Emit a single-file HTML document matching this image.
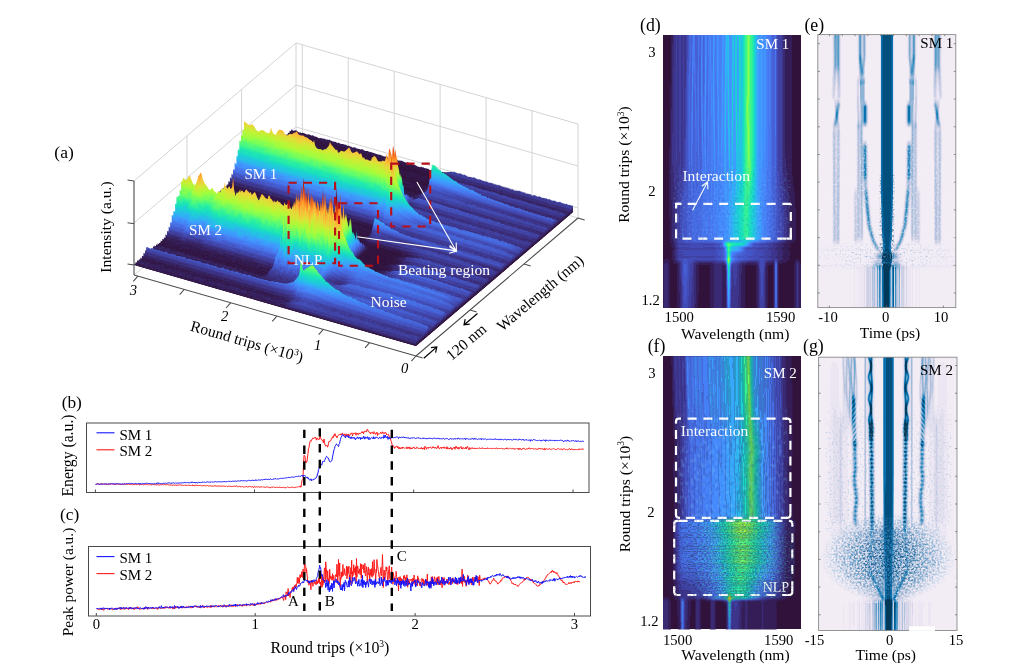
<!DOCTYPE html>
<html><head><meta charset="utf-8"><title>Figure</title>
<style>
html,body{margin:0;padding:0;background:#fff;}
body{width:1024px;height:671px;overflow:hidden;font-family:"Liberation Serif",serif;}
svg{display:block;position:absolute;left:0;top:0;}
svg text{opacity:0.999;}
svg text{font-family:"Liberation Serif",serif;}
</style></head><body>
<svg width="1024" height="671" viewBox="0 0 1024 671">
<defs><linearGradient id="lg1" gradientUnits="userSpaceOnUse" x1="0" y1="145" x2="0" y2="242"><stop offset="0" stop-color="#000"/><stop offset="0.45" stop-color="#fff"/><stop offset="1" stop-color="#fff"/></linearGradient>
<filter id="sf1" filterUnits="userSpaceOnUse" x="673" y="145" width="118" height="97" color-interpolation-filters="sRGB"><feTurbulence type="fractalNoise" baseFrequency="0.45" numOctaves="1" seed="7"/><feColorMatrix type="matrix" values="0 0 0 0 0.471 0 0 0 0 0.784 0 0 0 0 1.000 3.0 0 0 0 -1.55"/></filter>
<mask id="sm1" maskUnits="userSpaceOnUse" x="673" y="145" width="118" height="97"><rect x="673" y="145" width="118" height="97" fill="url(#lg1)"/></mask>
<filter id="sf2" filterUnits="userSpaceOnUse" x="673" y="145" width="118" height="97" color-interpolation-filters="sRGB"><feTurbulence type="fractalNoise" baseFrequency="0.45" numOctaves="1" seed="8"/><feColorMatrix type="matrix" values="0 0 0 0 0.157 0 0 0 0 0.196 0 0 0 0 0.588 3.0 0 0 0 -1.55"/></filter>
<mask id="sm2" maskUnits="userSpaceOnUse" x="673" y="145" width="118" height="97"><rect x="673" y="145" width="118" height="97" fill="url(#lg1)"/></mask>
<linearGradient id="lg2" gradientUnits="userSpaceOnUse" x1="0" y1="401.3" x2="0" y2="519.3"><stop offset="0" stop-color="#000"/><stop offset="0.35" stop-color="#fff"/><stop offset="1" stop-color="#fff"/></linearGradient>
<filter id="sf3" filterUnits="userSpaceOnUse" x="677" y="401.3" width="110" height="118" color-interpolation-filters="sRGB"><feTurbulence type="fractalNoise" baseFrequency="0.33 0.22" numOctaves="1" seed="3"/><feColorMatrix type="matrix" values="0 0 0 0 0.490 0 0 0 0 0.804 0 0 0 0 1.000 3.2 0 0 0 -1.6"/></filter>
<mask id="sm3" maskUnits="userSpaceOnUse" x="677" y="401.3" width="110" height="118"><rect x="677" y="401.3" width="110" height="118" fill="url(#lg2)"/></mask>
<filter id="sf4" filterUnits="userSpaceOnUse" x="677" y="401.3" width="110" height="118" color-interpolation-filters="sRGB"><feTurbulence type="fractalNoise" baseFrequency="0.33 0.22" numOctaves="1" seed="4"/><feColorMatrix type="matrix" values="0 0 0 0 0.157 0 0 0 0 0.196 0 0 0 0 0.588 3.2 0 0 0 -1.6"/></filter>
<mask id="sm4" maskUnits="userSpaceOnUse" x="677" y="401.3" width="110" height="118"><rect x="677" y="401.3" width="110" height="118" fill="url(#lg2)"/></mask>
<radialGradient id="rg3" gradientUnits="userSpaceOnUse" cx="743" cy="552.3" r="48" gradientTransform="translate(743 552.3) scale(1 1.2917) translate(-743 -552.3)"><stop offset="0" stop-color="#fff"/><stop offset="0.45" stop-color="#b2b2b2"/><stop offset="1" stop-color="#000"/></radialGradient>
<filter id="sf5" filterUnits="userSpaceOnUse" x="669" y="520.3" width="126" height="78" color-interpolation-filters="sRGB"><feTurbulence type="fractalNoise" baseFrequency="0.45 0.8" numOctaves="1" seed="11"/><feColorMatrix type="matrix" values="0 0 0 0 0.549 0 0 0 0 0.961 0 0 0 0 0.392 5.0 0 0 0 -2.45"/></filter>
<mask id="sm5" maskUnits="userSpaceOnUse" x="669" y="520.3" width="126" height="78"><rect x="669" y="520.3" width="126" height="78" fill="url(#rg3)"/></mask>
<radialGradient id="rg4" gradientUnits="userSpaceOnUse" cx="739" cy="556.3" r="66" gradientTransform="translate(739 556.3) scale(1 1.0606) translate(-739 -556.3)"><stop offset="0" stop-color="#fff"/><stop offset="0.6" stop-color="#cccccc"/><stop offset="1" stop-color="#000"/></radialGradient>
<filter id="sf6" filterUnits="userSpaceOnUse" x="669" y="520.3" width="126" height="78" color-interpolation-filters="sRGB"><feTurbulence type="fractalNoise" baseFrequency="0.45 0.8" numOctaves="1" seed="12"/><feColorMatrix type="matrix" values="0 0 0 0 0.196 0 0 0 0 0.882 0 0 0 0 0.745 4.5 0 0 0 -2.15"/></filter>
<mask id="sm6" maskUnits="userSpaceOnUse" x="669" y="520.3" width="126" height="78"><rect x="669" y="520.3" width="126" height="78" fill="url(#rg4)"/></mask>
<filter id="sf7" filterUnits="userSpaceOnUse" x="669" y="520.3" width="126" height="78" color-interpolation-filters="sRGB"><feTurbulence type="fractalNoise" baseFrequency="0.45 0.8" numOctaves="1" seed="13"/><feColorMatrix type="matrix" values="0 0 0 0 0.176 0 0 0 0 0.137 0 0 0 0 0.471 4.5 0 0 0 -2.2"/></filter>
<mask id="sm7" maskUnits="userSpaceOnUse" x="669" y="520.3" width="126" height="78"><rect x="669" y="520.3" width="126" height="78" fill="#fff"/></mask>
<linearGradient id="lg5" gradientUnits="userSpaceOnUse" x1="0" y1="115" x2="0" y2="267"><stop offset="0" stop-color="#000"/><stop offset="0.25" stop-color="#fff"/><stop offset="1" stop-color="#fff"/></linearGradient>
<filter id="sf8" filterUnits="userSpaceOnUse" x="819" y="115" width="136" height="152" color-interpolation-filters="sRGB"><feTurbulence type="fractalNoise" baseFrequency="0.5" numOctaves="1" seed="21"/><feColorMatrix type="matrix" values="0 0 0 0 0.957 0 0 0 0 0.937 0 0 0 0 0.969 4.0 0 0 0 -1.9"/></filter>
<mask id="sm8" maskUnits="userSpaceOnUse" x="819" y="115" width="136" height="152"><rect x="819" y="115" width="61" height="152" fill="url(#lg5)"/><rect x="894" y="115" width="61" height="152" fill="url(#lg5)"/></mask>
<linearGradient id="lg6" gradientUnits="userSpaceOnUse" x1="876" y1="0" x2="898" y2="0"><stop offset="0" stop-color="#000"/><stop offset="0.12" stop-color="#000"/><stop offset="0.27" stop-color="#fff"/><stop offset="0.4" stop-color="#444"/><stop offset="0.6" stop-color="#444"/><stop offset="0.73" stop-color="#fff"/><stop offset="0.88" stop-color="#000"/><stop offset="1" stop-color="#000"/></linearGradient>
<filter id="sf9" filterUnits="userSpaceOnUse" x="876" y="175" width="22" height="92" color-interpolation-filters="sRGB"><feTurbulence type="fractalNoise" baseFrequency="0.55" numOctaves="1" seed="22"/><feColorMatrix type="matrix" values="0 0 0 0 0.047 0 0 0 0 0.333 0 0 0 0 0.529 5.0 0 0 0 -2.4"/></filter>
<mask id="sm9" maskUnits="userSpaceOnUse" x="876" y="175" width="22" height="92"><rect x="876" y="175" width="22" height="92" fill="url(#lg6)"/></mask>
<radialGradient id="rg7" gradientUnits="userSpaceOnUse" cx="887" cy="256" r="70" gradientTransform="translate(887 256) scale(1 0.2286) translate(-887 -256)"><stop offset="0" stop-color="#fff"/><stop offset="1" stop-color="#222"/></radialGradient>
<filter id="sf10" filterUnits="userSpaceOnUse" x="819" y="243" width="136" height="26" color-interpolation-filters="sRGB"><feTurbulence type="fractalNoise" baseFrequency="0.5" numOctaves="1" seed="23"/><feColorMatrix type="matrix" values="0 0 0 0 0.471 0 0 0 0 0.647 0 0 0 0 0.804 4.0 0 0 0 -2.1"/></filter>
<mask id="sm10" maskUnits="userSpaceOnUse" x="819" y="243" width="136" height="26"><rect x="819" y="243" width="136" height="26" fill="url(#rg7)"/></mask>
<linearGradient id="lg8" gradientUnits="userSpaceOnUse" x1="0" y1="417.2" x2="0" y2="529.2"><stop offset="0" stop-color="#000"/><stop offset="0.3" stop-color="#fff"/><stop offset="1" stop-color="#fff"/></linearGradient>
<filter id="sf11" filterUnits="userSpaceOnUse" x="819.6" y="417.2" width="137" height="112" color-interpolation-filters="sRGB"><feTurbulence type="fractalNoise" baseFrequency="0.5" numOctaves="1" seed="31"/><feColorMatrix type="matrix" values="0 0 0 0 0.961 0 0 0 0 0.941 0 0 0 0 0.973 4.0 0 0 0 -1.9"/></filter>
<mask id="sm11" maskUnits="userSpaceOnUse" x="819.6" y="417.2" width="137" height="112"><rect x="819.6" y="417.2" width="62" height="112" fill="url(#lg8)"/><rect x="894.6" y="417.2" width="61" height="112" fill="url(#lg8)"/></mask>
<linearGradient id="lg9" gradientUnits="userSpaceOnUse" x1="0" y1="387.2" x2="0" y2="532.2"><stop offset="0" stop-color="#000"/><stop offset="0.4" stop-color="#999"/><stop offset="1" stop-color="#bbb"/></linearGradient>
<filter id="sf12" filterUnits="userSpaceOnUse" x="824.6" y="387.2" width="127" height="145" color-interpolation-filters="sRGB"><feTurbulence type="fractalNoise" baseFrequency="0.5" numOctaves="1" seed="32"/><feColorMatrix type="matrix" values="0 0 0 0 0.588 0 0 0 0 0.725 0 0 0 0 0.855 4.0 0 0 0 -2.15"/></filter>
<mask id="sm12" maskUnits="userSpaceOnUse" x="824.6" y="387.2" width="127" height="145"><rect x="824.6" y="387.2" width="50" height="145" fill="url(#lg9)"/><rect x="901.6" y="387.2" width="50" height="145" fill="url(#lg9)"/></mask>
<radialGradient id="rg10" gradientUnits="userSpaceOnUse" cx="888.1" cy="557.2" r="68" gradientTransform="translate(888.1 557.2) scale(1 0.6618) translate(-888.1 -557.2)"><stop offset="0" stop-color="#fff"/><stop offset="0.55" stop-color="#cccccc"/><stop offset="0.85" stop-color="#4c4c4c"/><stop offset="1" stop-color="#000"/></radialGradient>
<filter id="sf13" filterUnits="userSpaceOnUse" x="819.6" y="513.2" width="137" height="90" color-interpolation-filters="sRGB"><feTurbulence type="fractalNoise" baseFrequency="0.5" numOctaves="1" seed="33"/><feColorMatrix type="matrix" values="0 0 0 0 0.235 0 0 0 0 0.541 0 0 0 0 0.745 5.5 0 0 0 -2.35"/></filter>
<mask id="sm13" maskUnits="userSpaceOnUse" x="819.6" y="513.2" width="137" height="90"><rect x="819.6" y="513.2" width="137" height="90" fill="url(#rg10)"/></mask>
<radialGradient id="rg11" gradientUnits="userSpaceOnUse" cx="888.1" cy="559.2" r="52" gradientTransform="translate(888.1 559.2) scale(1 0.8462) translate(-888.1 -559.2)"><stop offset="0" stop-color="#fff"/><stop offset="0.35" stop-color="#bfbfbf"/><stop offset="0.7" stop-color="#4c4c4c"/><stop offset="1" stop-color="#000"/></radialGradient>
<filter id="sf14" filterUnits="userSpaceOnUse" x="832.6" y="515.2" width="112" height="88" color-interpolation-filters="sRGB"><feTurbulence type="fractalNoise" baseFrequency="0.55" numOctaves="1" seed="34"/><feColorMatrix type="matrix" values="0 0 0 0 0.047 0 0 0 0 0.314 0 0 0 0 0.510 6.5 0 0 0 -3.2"/></filter>
<mask id="sm14" maskUnits="userSpaceOnUse" x="832.6" y="515.2" width="112" height="88"><rect x="832.6" y="515.2" width="112" height="88" fill="url(#rg11)"/></mask>
<filter id="sf15" filterUnits="userSpaceOnUse" x="819.6" y="525.2" width="137" height="78" color-interpolation-filters="sRGB"><feTurbulence type="fractalNoise" baseFrequency="0.5" numOctaves="1" seed="35"/><feColorMatrix type="matrix" values="0 0 0 0 0.961 0 0 0 0 0.941 0 0 0 0 0.973 5.0 0 0 0 -2.6"/></filter>
<mask id="sm15" maskUnits="userSpaceOnUse" x="819.6" y="525.2" width="137" height="78"><rect x="819.6" y="525.2" width="62" height="78" fill="#fff"/><rect x="894.6" y="525.2" width="62" height="78" fill="#fff"/></mask>
<linearGradient id="tg" gradientUnits="userSpaceOnUse" x1="0" y1="0" x2="0" y2="78.0"><stop offset="0.000" stop-color="#30123b"/><stop offset="0.050" stop-color="#3d358b"/><stop offset="0.100" stop-color="#4559cb"/><stop offset="0.150" stop-color="#477bf2"/><stop offset="0.200" stop-color="#3e9bfe"/><stop offset="0.250" stop-color="#28bceb"/><stop offset="0.300" stop-color="#19d5cd"/><stop offset="0.350" stop-color="#20eaac"/><stop offset="0.400" stop-color="#46f884"/><stop offset="0.450" stop-color="#79fe59"/><stop offset="0.500" stop-color="#a4fc3c"/><stop offset="0.550" stop-color="#c3f134"/><stop offset="0.600" stop-color="#e1dd37"/><stop offset="0.650" stop-color="#f6c33a"/><stop offset="0.700" stop-color="#fea431"/><stop offset="0.750" stop-color="#fb7e21"/><stop offset="0.800" stop-color="#f05b12"/><stop offset="0.850" stop-color="#dd3d08"/><stop offset="0.900" stop-color="#c32503"/><stop offset="0.950" stop-color="#a11201"/><stop offset="1.000" stop-color="#7a0403"/></linearGradient>
<clipPath id="ca"><polygon points="134.2,265.1 416.0,346.0 573.1,212.1 573.1,0.0 134.2,0.0"/></clipPath></defs>
<rect x="86.5" y="423" width="502.5" height="69.5" fill="none" stroke="#4a4a4a" stroke-width="1.0"/>
<line x1="95.4" y1="492.5" x2="95.4" y2="489.5" stroke="#4a4a4a" stroke-width="1"/>
<line x1="254.5" y1="492.5" x2="254.5" y2="489.5" stroke="#4a4a4a" stroke-width="1"/>
<line x1="413.7" y1="492.5" x2="413.7" y2="489.5" stroke="#4a4a4a" stroke-width="1"/>
<line x1="573" y1="492.5" x2="573" y2="489.5" stroke="#4a4a4a" stroke-width="1"/>
<path d="M95.5 484.4 L96.0 483.9 L96.5 484.0 L97.0 484.1 L97.5 483.8 L98.0 484.0 L98.5 484.0 L99.0 483.6 L99.5 484.3 L100.0 484.2 L100.5 483.9 L101.0 484.0 L101.5 484.2 L102.0 484.0 L102.5 484.0 L103.0 483.7 L103.5 484.2 L104.0 484.1 L104.5 484.2 L105.0 483.7 L105.5 484.5 L106.0 484.2 L106.5 484.0 L107.0 484.6 L107.5 484.1 L108.0 483.8 L108.5 484.0 L109.0 483.6 L109.5 484.4 L110.0 484.1 L110.5 484.0 L111.0 484.4 L111.5 483.8 L112.0 484.3 L112.5 483.7 L113.0 484.0 L113.5 483.9 L114.0 484.6 L114.5 484.7 L115.0 484.1 L115.5 484.4 L116.0 484.2 L116.5 484.4 L117.0 484.1 L117.5 483.8 L118.0 483.8 L118.5 484.4 L119.0 484.8 L119.5 484.3 L120.0 484.1 L120.5 484.8 L121.0 484.3 L121.5 484.3 L122.0 484.4 L122.5 484.3 L123.0 484.2 L123.5 484.0 L124.0 484.4 L124.5 484.3 L125.0 484.6 L125.5 484.2 L126.0 483.9 L126.5 484.3 L127.0 484.8 L127.5 484.3 L128.0 484.1 L128.5 484.1 L129.0 484.1 L129.5 484.3 L130.0 484.1 L130.5 484.8 L131.0 484.3 L131.5 484.4 L132.0 484.8 L132.5 484.8 L133.0 484.4 L133.5 484.5 L134.0 484.6 L134.5 484.4 L135.0 484.0 L135.5 484.6 L136.0 484.7 L136.5 484.6 L137.0 484.2 L137.5 484.4 L138.0 484.3 L138.5 484.4 L139.0 484.8 L139.5 484.9 L140.0 484.7 L140.5 484.6 L141.0 484.7 L141.5 484.5 L142.0 484.5 L142.5 484.3 L143.0 484.5 L143.5 485.1 L144.0 484.8 L144.5 484.5 L145.0 484.4 L145.5 484.3 L146.0 484.6 L146.5 484.7 L147.0 484.2 L147.5 484.7 L148.0 484.4 L148.5 484.9 L149.0 484.6 L149.5 485.0 L150.0 484.5 L150.5 484.5 L151.0 484.7 L151.5 484.9 L152.0 484.8 L152.5 484.3 L153.0 484.7 L153.5 484.7 L154.0 484.6 L154.5 484.5 L155.0 485.1 L155.5 484.6 L156.0 484.5 L156.5 484.9 L157.0 484.8 L157.5 484.7 L158.0 485.0 L158.5 484.9 L159.0 484.9 L159.5 485.0 L160.0 484.9 L160.5 484.7 L161.0 484.7 L161.5 484.7 L162.0 484.9 L162.5 484.6 L163.0 484.4 L163.5 484.9 L164.0 484.5 L164.5 484.4 L165.0 485.0 L165.5 484.7 L166.0 485.0 L166.5 484.8 L167.0 484.7 L167.5 484.6 L168.0 484.8 L168.5 484.9 L169.0 484.8 L169.5 484.9 L170.0 484.6 L170.5 485.0 L171.0 484.6 L171.5 485.0 L172.0 485.2 L172.5 485.3 L173.0 485.5 L173.5 484.7 L174.0 485.3 L174.5 485.4 L175.0 485.3 L175.5 484.9 L176.0 485.2 L176.5 485.6 L177.0 484.8 L177.5 485.3 L178.0 485.4 L178.5 485.0 L179.0 485.3 L179.5 484.9 L180.0 485.0 L180.5 485.0 L181.0 485.3 L181.5 485.2 L182.0 485.5 L182.5 485.0 L183.0 485.2 L183.5 485.5 L184.0 485.4 L184.5 485.0 L185.0 485.5 L185.5 485.2 L186.0 485.4 L186.5 485.4 L187.0 485.6 L187.5 485.4 L188.0 484.9 L188.5 485.0 L189.0 485.6 L189.5 485.3 L190.0 485.7 L190.5 485.5 L191.0 485.2 L191.5 485.7 L192.0 485.2 L192.5 484.9 L193.0 486.0 L193.5 485.0 L194.0 485.6 L194.5 485.7 L195.0 485.5 L195.5 485.1 L196.0 485.8 L196.5 485.2 L197.0 485.2 L197.5 485.5 L198.0 485.8 L198.5 485.6 L199.0 485.8 L199.5 485.5 L200.0 485.6 L200.5 485.3 L201.0 485.5 L201.5 485.8 L202.0 485.6 L202.5 485.8 L203.0 485.5 L203.5 485.5 L204.0 485.7 L204.5 485.7 L205.0 485.9 L205.5 485.8 L206.0 486.2 L206.5 485.7 L207.0 485.7 L207.5 485.5 L208.0 485.8 L208.5 486.0 L209.0 485.6 L209.5 485.8 L210.0 486.0 L210.5 485.8 L211.0 485.7 L211.5 486.1 L212.0 485.9 L212.5 486.0 L213.0 486.2 L213.5 486.2 L214.0 485.8 L214.5 485.8 L215.0 486.0 L215.5 485.9 L216.0 485.5 L216.5 486.3 L217.0 486.0 L217.5 486.2 L218.0 485.7 L218.5 486.4 L219.0 485.9 L219.5 486.0 L220.0 485.7 L220.5 486.1 L221.0 486.0 L221.5 486.1 L222.0 486.2 L222.5 486.2 L223.0 486.4 L223.5 486.0 L224.0 485.9 L224.5 486.2 L225.0 486.4 L225.5 486.5 L226.0 486.4 L226.5 485.8 L227.0 486.3 L227.5 486.6 L228.0 486.3 L228.5 486.2 L229.0 486.4 L229.5 486.2 L230.0 486.5 L230.5 486.3 L231.0 486.7 L231.5 486.5 L232.0 486.2 L232.5 486.5 L233.0 486.6 L233.5 486.3 L234.0 486.3 L234.5 485.9 L235.0 486.7 L235.5 486.3 L236.0 485.9 L236.5 486.0 L237.0 486.4 L237.5 486.7 L238.0 486.5 L238.5 486.6 L239.0 486.3 L239.5 486.2 L240.0 486.8 L240.5 486.7 L241.0 486.6 L241.5 486.9 L242.0 486.4 L242.5 486.5 L243.0 486.9 L243.5 487.1 L244.0 486.7 L244.5 487.1 L245.0 486.5 L245.5 486.8 L246.0 486.7 L246.5 486.3 L247.0 486.8 L247.5 487.0 L248.0 486.7 L248.5 486.7 L249.0 487.1 L249.5 486.5 L250.0 486.4 L250.5 486.6 L251.0 486.5 L251.5 487.2 L252.0 486.9 L252.5 486.6 L253.0 486.7 L253.5 487.6 L254.0 486.7 L254.5 486.7 L255.0 487.0 L255.5 487.1 L256.0 487.0 L256.5 486.7 L257.0 486.7 L257.5 487.1 L258.0 487.0 L258.5 486.6 L259.0 487.3 L259.5 487.2 L260.0 487.0 L260.5 487.0 L261.0 487.1 L261.5 486.9 L262.0 486.7 L262.5 487.2 L263.0 486.7 L263.5 487.2 L264.0 486.8 L264.5 487.1 L265.0 487.1 L265.5 487.6 L266.0 486.9 L266.5 486.8 L267.0 487.0 L267.5 486.9 L268.0 487.1 L268.5 487.3 L269.0 487.4 L269.5 487.7 L270.0 487.1 L270.5 487.9 L271.0 487.8 L271.5 487.2 L272.0 486.7 L272.5 487.3 L273.0 487.3 L273.5 486.8 L274.0 487.4 L274.5 487.3 L275.0 487.2 L275.5 487.5 L276.0 487.6 L276.5 487.3 L277.0 487.5 L277.5 487.3 L278.0 487.2 L278.5 487.5 L279.0 487.6 L279.5 487.3 L280.0 486.9 L280.5 487.6 L281.0 487.1 L281.5 487.6 L282.0 488.0 L282.5 487.5 L283.0 487.3 L283.5 487.2 L284.0 487.9 L284.5 487.6 L285.0 487.7 L285.5 487.8 L286.0 487.6 L286.5 487.5 L287.0 487.3 L287.5 486.8 L288.0 487.1 L288.5 487.5 L289.0 487.5 L289.5 487.6 L290.0 487.4 L290.5 487.5 L291.0 487.6 L291.5 487.2 L292.0 487.4 L292.5 487.0 L293.0 487.6 L293.5 487.4 L294.0 487.5 L294.5 487.7 L295.0 487.6 L295.5 487.3 L296.0 487.5 L296.5 487.0 L297.0 487.4 L297.5 487.2 L298.0 486.6 L298.5 487.1 L299.0 486.5 L299.5 486.7 L300.0 485.9 L300.5 487.1 L301.0 487.2 L301.5 483.3 L302.0 480.6 L302.5 479.9 L303.0 478.8 L303.5 463.9 L304.0 455.2 L304.5 455.6 L305.0 456.1 L305.5 462.4 L306.0 461.4 L306.5 462.6 L307.0 461.3 L307.5 457.0 L308.0 453.7 L308.5 448.7 L309.0 447.3 L309.5 444.1 L310.0 441.7 L310.5 440.6 L311.0 441.3 L311.5 439.7 L312.0 439.5 L312.5 439.2 L313.0 437.8 L313.5 438.8 L314.0 438.3 L314.5 438.0 L315.0 437.1 L315.5 437.4 L316.0 438.7 L316.5 440.2 L317.0 437.8 L317.5 439.2 L318.0 438.7 L318.5 439.5 L319.0 438.9 L319.5 439.2 L320.0 435.5 L320.5 438.1 L321.0 438.4 L321.5 439.8 L322.0 439.8 L322.5 440.2 L323.0 441.6 L323.5 443.0 L324.0 439.0 L324.5 442.7 L325.0 444.8 L325.5 446.0 L326.0 445.8 L326.5 445.0 L327.0 445.5 L327.5 447.2 L328.0 446.0 L328.5 443.6 L329.0 441.2 L329.5 441.6 L330.0 440.8 L330.5 441.0 L331.0 440.1 L331.5 438.7 L332.0 438.7 L332.5 436.7 L333.0 437.7 L333.5 437.4 L334.0 434.7 L334.5 435.5 L335.0 433.6 L335.5 436.1 L336.0 436.6 L336.5 436.2 L337.0 437.9 L337.5 436.1 L338.0 435.4 L338.5 435.0 L339.0 434.9 L339.5 434.5 L340.0 434.8 L340.5 433.9 L341.0 435.0 L341.5 435.1 L342.0 433.6 L342.5 432.9 L343.0 435.0 L343.5 435.6 L344.0 434.6 L344.5 433.8 L345.0 435.4 L345.5 436.7 L346.0 433.8 L346.5 435.8 L347.0 435.1 L347.5 434.5 L348.0 435.6 L348.5 433.9 L349.0 435.3 L349.5 436.1 L350.0 435.0 L350.5 434.0 L351.0 433.1 L351.5 433.4 L352.0 432.8 L352.5 435.9 L353.0 434.1 L353.5 433.3 L354.0 433.0 L354.5 433.1 L355.0 433.7 L355.5 432.8 L356.0 435.3 L356.5 433.1 L357.0 433.0 L357.5 433.9 L358.0 434.8 L358.5 434.6 L359.0 432.9 L359.5 433.5 L360.0 433.3 L360.5 433.6 L361.0 433.2 L361.5 432.1 L362.0 431.7 L362.5 432.9 L363.0 431.6 L363.5 433.8 L364.0 432.5 L364.5 431.3 L365.0 431.7 L365.5 431.3 L366.0 431.4 L366.5 432.1 L367.0 429.7 L367.5 429.1 L368.0 430.8 L368.5 431.0 L369.0 431.9 L369.5 432.8 L370.0 432.8 L370.5 433.8 L371.0 432.3 L371.5 433.2 L372.0 432.4 L372.5 432.2 L373.0 433.8 L373.5 433.8 L374.0 431.6 L374.5 432.4 L375.0 433.7 L375.5 434.4 L376.0 432.9 L376.5 433.3 L377.0 432.1 L377.5 435.5 L378.0 433.6 L378.5 433.9 L379.0 433.6 L379.5 433.8 L380.0 433.4 L380.5 432.4 L381.0 433.3 L381.5 432.7 L382.0 433.7 L382.5 431.9 L383.0 432.1 L383.5 433.3 L384.0 433.9 L384.5 432.9 L385.0 432.2 L385.5 432.8 L386.0 432.6 L386.5 435.0 L387.0 434.5 L387.5 435.1 L388.0 434.6 L388.5 434.2 L389.0 436.1 L389.5 437.7 L390.0 438.0 L390.5 438.7 L391.0 441.0 L391.5 441.7 L392.0 444.6 L392.5 445.4 L393.0 445.4 L393.5 446.9 L394.0 446.9 L394.5 448.4 L395.0 446.8 L395.5 447.3 L396.0 446.6 L396.5 446.0 L397.0 446.1 L397.5 447.9 L398.0 446.6 L398.5 448.5 L399.0 448.7 L399.5 447.4 L400.0 449.0 L400.5 447.8 L401.0 448.6 L401.5 447.5 L402.0 448.5 L402.5 447.0 L403.0 448.2 L403.5 447.4 L404.0 447.7 L404.5 448.3 L405.0 448.0 L405.5 447.8 L406.0 448.4 L406.5 448.5 L407.0 446.8 L407.5 448.4 L408.0 448.5 L408.5 447.3 L409.0 448.3 L409.5 446.9 L410.0 449.2 L410.5 447.8 L411.0 447.9 L411.5 449.0 L412.0 447.9 L412.5 448.5 L413.0 447.2 L413.5 447.5 L414.0 446.9 L414.5 447.8 L415.0 448.8 L415.5 448.2 L416.0 448.7 L416.5 447.2 L417.0 447.3 L417.5 447.6 L418.0 448.5 L418.5 448.3 L419.0 448.0 L419.5 448.5 L420.0 447.9 L420.5 448.0 L421.0 449.0 L421.5 447.5 L422.0 448.1 L422.5 449.3 L423.0 448.1 L423.5 448.6 L424.0 447.5 L424.5 449.6 L425.0 446.2 L425.5 447.1 L426.0 447.2 L426.5 449.3 L427.0 448.3 L427.5 447.8 L428.0 447.0 L428.5 448.3 L429.0 448.1 L429.5 447.4 L430.0 446.8 L430.5 447.1 L431.0 448.2 L431.5 448.2 L432.0 448.1 L432.5 447.9 L433.0 446.6 L433.5 448.0 L434.0 447.2 L434.5 448.0 L435.0 448.4 L435.5 447.5 L436.0 447.2 L436.5 448.8 L437.0 448.3 L437.5 447.5 L438.0 445.6 L438.5 448.0 L439.0 448.5 L439.5 448.9 L440.0 447.5 L440.5 447.5 L441.0 447.6 L441.5 448.7 L442.0 447.1 L442.5 447.9 L443.0 447.3 L443.5 448.2 L444.0 446.8 L444.5 448.3 L445.0 447.6 L445.5 447.8 L446.0 448.4 L446.5 448.9 L447.0 446.6 L447.5 448.8 L448.0 448.4 L448.5 447.8 L449.0 449.1 L449.5 448.2 L450.0 449.0 L450.5 447.5 L451.0 447.3 L451.5 449.0 L452.0 449.8 L452.5 448.5 L453.0 448.7 L453.5 447.7 L454.0 447.0 L454.5 447.9 L455.0 449.3 L455.5 446.6 L456.0 447.7 L456.5 446.5 L457.0 448.2 L457.5 448.8 L458.0 447.1 L458.5 447.8 L459.0 449.2 L459.5 448.0 L460.0 447.1 L460.5 447.1 L461.0 446.5 L461.5 448.8 L462.0 447.5 L462.5 449.0 L463.0 448.8 L463.5 447.6 L464.0 447.7 L464.5 448.8 L465.0 448.3 L465.5 448.4 L466.0 446.9 L466.5 448.9 L467.0 447.5 L467.5 446.4 L468.0 447.7 L468.5 448.6 L469.0 449.9 L469.5 447.9 L470.0 447.6 L470.5 449.2 L471.0 448.3 L471.5 448.1 L472.0 447.8 L472.5 447.8 L473.0 448.9 L473.5 448.2 L474.0 448.0 L474.5 448.1 L475.0 449.0 L475.5 448.0 L476.0 448.6 L476.5 448.4 L477.0 448.4 L477.5 447.9 L478.0 448.6 L478.5 449.1 L479.0 448.3 L479.5 447.9 L480.0 447.8 L480.5 448.5 L481.0 448.2 L481.5 448.3 L482.0 448.4 L482.5 447.7 L483.0 448.7 L483.5 448.5 L484.0 448.4 L484.5 448.5 L485.0 448.8 L485.5 448.5 L486.0 448.0 L486.5 449.0 L487.0 448.2 L487.5 448.1 L488.0 447.8 L488.5 448.5 L489.0 448.0 L489.5 448.2 L490.0 448.7 L490.5 448.5 L491.0 448.9 L491.5 448.6 L492.0 448.3 L492.5 448.4 L493.0 448.3 L493.5 448.8 L494.0 448.5 L494.5 448.3 L495.0 448.9 L495.5 448.6 L496.0 448.3 L496.5 447.9 L497.0 448.8 L497.5 448.7 L498.0 448.6 L498.5 448.4 L499.0 448.2 L499.5 448.5 L500.0 448.7 L500.5 448.5 L501.0 448.5 L501.5 448.4 L502.0 448.8 L502.5 448.7 L503.0 448.3 L503.5 449.0 L504.0 449.0 L504.5 449.0 L505.0 448.6 L505.5 448.6 L506.0 448.1 L506.5 449.0 L507.0 447.7 L507.5 448.5 L508.0 448.5 L508.5 449.1 L509.0 448.7 L509.5 448.2 L510.0 448.0 L510.5 448.4 L511.0 448.7 L511.5 448.7 L512.0 448.6 L512.5 448.4 L513.0 448.6 L513.5 449.2 L514.0 448.2 L514.5 448.7 L515.0 449.5 L515.5 449.0 L516.0 448.5 L516.5 449.0 L517.0 448.4 L517.5 448.7 L518.0 449.4 L518.5 449.6 L519.0 448.0 L519.5 449.1 L520.0 449.6 L520.5 448.5 L521.0 448.9 L521.5 449.5 L522.0 448.6 L522.5 449.0 L523.0 448.8 L523.5 447.9 L524.0 449.0 L524.5 448.7 L525.0 449.2 L525.5 449.8 L526.0 449.1 L526.5 448.7 L527.0 449.0 L527.5 448.9 L528.0 449.3 L528.5 448.2 L529.0 448.3 L529.5 447.9 L530.0 449.1 L530.5 448.8 L531.0 448.6 L531.5 448.5 L532.0 448.6 L532.5 448.5 L533.0 448.7 L533.5 448.7 L534.0 449.5 L534.5 449.0 L535.0 448.5 L535.5 448.6 L536.0 449.4 L536.5 449.1 L537.0 449.0 L537.5 449.2 L538.0 449.6 L538.5 448.4 L539.0 448.6 L539.5 448.1 L540.0 449.2 L540.5 448.8 L541.0 448.6 L541.5 448.6 L542.0 449.3 L542.5 448.9 L543.0 448.7 L543.5 449.5 L544.0 448.5 L544.5 448.4 L545.0 450.1 L545.5 448.8 L546.0 448.7 L546.5 448.7 L547.0 448.9 L547.5 449.3 L548.0 449.3 L548.5 449.2 L549.0 448.9 L549.5 448.3 L550.0 449.1 L550.5 449.7 L551.0 449.5 L551.5 449.0 L552.0 449.4 L552.5 448.9 L553.0 449.0 L553.5 448.5 L554.0 448.9 L554.5 449.1 L555.0 449.0 L555.5 449.4 L556.0 449.9 L556.5 449.7 L557.0 448.9 L557.5 448.8 L558.0 448.8 L558.5 448.6 L559.0 449.1 L559.5 449.3 L560.0 449.2 L560.5 449.2 L561.0 449.2 L561.5 449.1 L562.0 448.8 L562.5 449.9 L563.0 449.6 L563.5 448.7 L564.0 448.7 L564.5 448.9 L565.0 449.2 L565.5 449.7 L566.0 449.6 L566.5 449.6 L567.0 449.6 L567.5 449.7 L568.0 449.5 L568.5 449.4 L569.0 449.1 L569.5 448.4 L570.0 449.1 L570.5 450.0 L571.0 448.9 L571.5 448.9 L572.0 449.7 L572.5 449.2 L573.0 449.0 L573.5 449.9 L574.0 449.5 L574.5 449.6 L575.0 449.0 L575.5 449.5 L576.0 449.4 L576.5 449.6 L577.0 449.8 L577.5 449.8 L578.0 449.3 L578.5 449.6 L579.0 448.7 L579.5 449.6 L580.0 449.6 L580.5 449.1 L581.0 448.9 L581.5 449.3 L582.0 448.7 L582.5 449.4 L583.0 449.4 L583.5 448.9 L584.0 449.3" fill="none" stroke="#ff1a1a" stroke-width="1.0" stroke-linejoin="round"/>
<path d="M95.5 484.3 L96.0 484.3 L96.5 484.2 L97.0 483.9 L97.5 483.9 L98.0 483.9 L98.5 484.1 L99.0 484.6 L99.5 484.3 L100.0 484.4 L100.5 484.3 L101.0 483.6 L101.5 483.9 L102.0 483.8 L102.5 484.3 L103.0 484.4 L103.5 483.8 L104.0 483.9 L104.5 484.1 L105.0 483.8 L105.5 483.8 L106.0 483.8 L106.5 484.1 L107.0 483.7 L107.5 484.2 L108.0 483.9 L108.5 484.1 L109.0 484.3 L109.5 483.7 L110.0 483.7 L110.5 484.0 L111.0 483.6 L111.5 483.7 L112.0 483.8 L112.5 483.9 L113.0 483.6 L113.5 483.8 L114.0 484.0 L114.5 484.2 L115.0 483.4 L115.5 484.2 L116.0 484.1 L116.5 483.6 L117.0 483.5 L117.5 483.9 L118.0 483.7 L118.5 483.9 L119.0 484.0 L119.5 483.7 L120.0 483.9 L120.5 483.9 L121.0 484.0 L121.5 484.2 L122.0 484.2 L122.5 483.9 L123.0 483.7 L123.5 484.4 L124.0 483.9 L124.5 483.9 L125.0 483.5 L125.5 484.0 L126.0 483.6 L126.5 483.7 L127.0 483.4 L127.5 483.6 L128.0 483.8 L128.5 483.4 L129.0 483.5 L129.5 483.7 L130.0 483.4 L130.5 483.4 L131.0 483.5 L131.5 483.4 L132.0 483.9 L132.5 483.5 L133.0 483.9 L133.5 484.0 L134.0 483.4 L134.5 483.7 L135.0 483.6 L135.5 483.4 L136.0 483.6 L136.5 483.6 L137.0 483.9 L137.5 483.9 L138.0 483.4 L138.5 483.6 L139.0 483.8 L139.5 484.0 L140.0 483.1 L140.5 484.0 L141.0 483.6 L141.5 484.0 L142.0 483.6 L142.5 483.4 L143.0 483.7 L143.5 483.9 L144.0 483.7 L144.5 483.1 L145.0 483.8 L145.5 483.2 L146.0 483.4 L146.5 483.3 L147.0 483.2 L147.5 483.3 L148.0 483.4 L148.5 483.5 L149.0 483.6 L149.5 483.5 L150.0 483.2 L150.5 483.5 L151.0 483.8 L151.5 483.8 L152.0 483.6 L152.5 483.7 L153.0 483.8 L153.5 483.9 L154.0 483.9 L154.5 483.4 L155.0 483.4 L155.5 483.8 L156.0 483.8 L156.5 483.8 L157.0 482.8 L157.5 483.4 L158.0 482.6 L158.5 483.6 L159.0 483.4 L159.5 483.4 L160.0 483.3 L160.5 483.7 L161.0 483.3 L161.5 483.6 L162.0 483.5 L162.5 483.4 L163.0 483.4 L163.5 483.3 L164.0 483.0 L164.5 483.4 L165.0 483.4 L165.5 483.2 L166.0 483.4 L166.5 483.4 L167.0 482.9 L167.5 483.1 L168.0 483.1 L168.5 482.9 L169.0 483.2 L169.5 482.9 L170.0 483.0 L170.5 483.2 L171.0 483.2 L171.5 483.2 L172.0 483.6 L172.5 482.9 L173.0 483.1 L173.5 482.7 L174.0 483.1 L174.5 483.3 L175.0 483.3 L175.5 482.8 L176.0 482.9 L176.5 483.3 L177.0 482.9 L177.5 483.2 L178.0 482.7 L178.5 483.3 L179.0 483.2 L179.5 483.0 L180.0 482.7 L180.5 482.8 L181.0 482.9 L181.5 482.9 L182.0 482.8 L182.5 482.8 L183.0 482.9 L183.5 483.1 L184.0 482.3 L184.5 482.4 L185.0 482.4 L185.5 482.6 L186.0 482.3 L186.5 482.9 L187.0 482.7 L187.5 482.6 L188.0 482.5 L188.5 482.7 L189.0 482.7 L189.5 482.7 L190.0 482.5 L190.5 482.8 L191.0 482.2 L191.5 482.9 L192.0 481.8 L192.5 482.4 L193.0 482.3 L193.5 482.8 L194.0 482.2 L194.5 483.0 L195.0 482.1 L195.5 483.0 L196.0 482.6 L196.5 482.5 L197.0 482.6 L197.5 483.0 L198.0 482.7 L198.5 481.9 L199.0 482.7 L199.5 482.5 L200.0 482.0 L200.5 482.6 L201.0 482.1 L201.5 482.4 L202.0 482.4 L202.5 482.1 L203.0 482.5 L203.5 482.0 L204.0 482.3 L204.5 482.1 L205.0 482.2 L205.5 482.7 L206.0 482.2 L206.5 481.9 L207.0 482.1 L207.5 481.9 L208.0 482.1 L208.5 482.1 L209.0 482.1 L209.5 482.1 L210.0 481.9 L210.5 482.1 L211.0 482.3 L211.5 481.8 L212.0 482.0 L212.5 482.0 L213.0 482.2 L213.5 482.2 L214.0 481.7 L214.5 481.9 L215.0 481.5 L215.5 481.6 L216.0 481.8 L216.5 482.0 L217.0 482.0 L217.5 481.7 L218.0 481.4 L218.5 481.8 L219.0 481.7 L219.5 481.8 L220.0 481.7 L220.5 481.8 L221.0 481.8 L221.5 481.8 L222.0 481.5 L222.5 481.8 L223.0 481.4 L223.5 481.6 L224.0 482.0 L224.5 481.6 L225.0 481.2 L225.5 481.9 L226.0 481.7 L226.5 481.7 L227.0 481.5 L227.5 481.5 L228.0 481.3 L228.5 481.2 L229.0 481.7 L229.5 481.2 L230.0 481.2 L230.5 481.2 L231.0 481.7 L231.5 481.5 L232.0 481.2 L232.5 481.2 L233.0 481.3 L233.5 481.4 L234.0 480.8 L234.5 481.4 L235.0 481.1 L235.5 481.0 L236.0 481.0 L236.5 481.3 L237.0 481.5 L237.5 481.1 L238.0 481.2 L238.5 480.8 L239.0 481.1 L239.5 481.2 L240.0 480.6 L240.5 480.8 L241.0 481.1 L241.5 480.5 L242.0 480.8 L242.5 481.0 L243.0 480.4 L243.5 480.7 L244.0 480.8 L244.5 481.0 L245.0 480.5 L245.5 481.0 L246.0 480.8 L246.5 481.0 L247.0 481.0 L247.5 480.8 L248.0 480.8 L248.5 480.2 L249.0 480.3 L249.5 480.4 L250.0 480.5 L250.5 480.8 L251.0 480.1 L251.5 480.4 L252.0 480.1 L252.5 480.0 L253.0 480.8 L253.5 480.4 L254.0 480.7 L254.5 480.6 L255.0 480.0 L255.5 479.8 L256.0 480.7 L256.5 480.1 L257.0 479.8 L257.5 480.3 L258.0 480.1 L258.5 479.9 L259.0 479.9 L259.5 480.0 L260.0 480.0 L260.5 480.1 L261.0 479.8 L261.5 479.7 L262.0 480.0 L262.5 479.8 L263.0 480.0 L263.5 479.6 L264.0 479.6 L264.5 479.3 L265.0 480.0 L265.5 479.2 L266.0 479.6 L266.5 479.3 L267.0 479.6 L267.5 479.6 L268.0 479.0 L268.5 479.3 L269.0 478.9 L269.5 479.7 L270.0 479.2 L270.5 478.8 L271.0 479.0 L271.5 479.5 L272.0 479.5 L272.5 479.4 L273.0 478.9 L273.5 479.0 L274.0 479.4 L274.5 478.8 L275.0 478.8 L275.5 478.7 L276.0 478.6 L276.5 479.1 L277.0 479.0 L277.5 478.9 L278.0 478.9 L278.5 479.0 L279.0 479.0 L279.5 478.6 L280.0 478.5 L280.5 478.3 L281.0 478.8 L281.5 478.3 L282.0 478.0 L282.5 478.3 L283.0 478.3 L283.5 478.4 L284.0 478.4 L284.5 477.9 L285.0 477.9 L285.5 477.9 L286.0 477.7 L286.5 477.9 L287.0 478.0 L287.5 477.8 L288.0 477.3 L288.5 477.4 L289.0 478.0 L289.5 477.3 L290.0 477.7 L290.5 477.6 L291.0 477.3 L291.5 477.1 L292.0 477.4 L292.5 477.0 L293.0 477.2 L293.5 477.2 L294.0 476.9 L294.5 477.0 L295.0 476.9 L295.5 476.6 L296.0 476.8 L296.5 476.6 L297.0 476.2 L297.5 476.5 L298.0 476.4 L298.5 476.2 L299.0 475.8 L299.5 476.4 L300.0 476.5 L300.5 476.4 L301.0 476.1 L301.5 475.3 L302.0 475.9 L302.5 475.3 L303.0 476.8 L303.5 475.4 L304.0 475.9 L304.5 475.1 L305.0 475.6 L305.5 476.3 L306.0 477.2 L306.5 477.5 L307.0 477.6 L307.5 476.9 L308.0 478.7 L308.5 477.9 L309.0 479.5 L309.5 479.9 L310.0 479.7 L310.5 479.9 L311.0 478.8 L311.5 480.8 L312.0 479.7 L312.5 480.2 L313.0 479.4 L313.5 479.6 L314.0 478.8 L314.5 479.1 L315.0 479.0 L315.5 478.4 L316.0 478.2 L316.5 477.0 L317.0 476.1 L317.5 474.0 L318.0 473.0 L318.5 469.7 L319.0 469.3 L319.5 466.4 L320.0 465.6 L320.5 465.5 L321.0 464.4 L321.5 465.3 L322.0 464.3 L322.5 461.7 L323.0 461.5 L323.5 461.4 L324.0 461.9 L324.5 460.8 L325.0 459.7 L325.5 458.0 L326.0 457.6 L326.5 456.3 L327.0 456.6 L327.5 457.2 L328.0 458.4 L328.5 458.3 L329.0 460.1 L329.5 461.5 L330.0 461.4 L330.5 461.8 L331.0 461.6 L331.5 460.9 L332.0 460.0 L332.5 457.1 L333.0 454.5 L333.5 452.0 L334.0 449.7 L334.5 448.7 L335.0 446.4 L335.5 445.5 L336.0 445.0 L336.5 443.8 L337.0 444.7 L337.5 445.2 L338.0 445.9 L338.5 446.5 L339.0 444.3 L339.5 443.7 L340.0 441.2 L340.5 439.4 L341.0 437.2 L341.5 436.9 L342.0 435.6 L342.5 434.3 L343.0 434.8 L343.5 435.9 L344.0 435.5 L344.5 435.9 L345.0 437.0 L345.5 437.9 L346.0 436.6 L346.5 435.5 L347.0 436.3 L347.5 436.8 L348.0 435.4 L348.5 437.8 L349.0 436.5 L349.5 437.7 L350.0 437.5 L350.5 437.1 L351.0 438.9 L351.5 437.0 L352.0 437.0 L352.5 437.9 L353.0 438.5 L353.5 437.8 L354.0 437.0 L354.5 438.6 L355.0 438.5 L355.5 439.9 L356.0 437.9 L356.5 438.3 L357.0 437.6 L357.5 436.8 L358.0 438.2 L358.5 439.0 L359.0 437.3 L359.5 437.7 L360.0 437.2 L360.5 439.5 L361.0 437.8 L361.5 438.9 L362.0 437.6 L362.5 438.5 L363.0 437.9 L363.5 436.4 L364.0 438.6 L364.5 439.0 L365.0 436.7 L365.5 438.4 L366.0 438.2 L366.5 437.5 L367.0 438.3 L367.5 436.7 L368.0 438.6 L368.5 439.5 L369.0 437.2 L369.5 438.3 L370.0 439.6 L370.5 438.4 L371.0 437.8 L371.5 437.4 L372.0 438.3 L372.5 438.0 L373.0 438.7 L373.5 436.7 L374.0 439.0 L374.5 437.7 L375.0 438.6 L375.5 437.3 L376.0 436.8 L376.5 437.4 L377.0 437.0 L377.5 437.5 L378.0 438.4 L378.5 438.8 L379.0 438.0 L379.5 437.3 L380.0 437.3 L380.5 438.3 L381.0 438.7 L381.5 437.4 L382.0 437.5 L382.5 436.9 L383.0 437.8 L383.5 438.4 L384.0 434.9 L384.5 437.8 L385.0 437.0 L385.5 435.4 L386.0 437.8 L386.5 437.4 L387.0 437.8 L387.5 436.3 L388.0 439.4 L388.5 437.6 L389.0 437.2 L389.5 438.9 L390.0 438.1 L390.5 438.2 L391.0 438.5 L391.5 435.6 L392.0 438.1 L392.5 437.4 L393.0 437.6 L393.5 437.8 L394.0 437.2 L394.5 437.5 L395.0 437.7 L395.5 437.4 L396.0 437.5 L396.5 436.8 L397.0 436.9 L397.5 436.9 L398.0 437.4 L398.5 438.6 L399.0 437.3 L399.5 437.2 L400.0 437.2 L400.5 437.6 L401.0 437.5 L401.5 436.9 L402.0 437.7 L402.5 437.4 L403.0 437.7 L403.5 436.8 L404.0 437.0 L404.5 437.8 L405.0 437.0 L405.5 437.8 L406.0 437.8 L406.5 437.8 L407.0 437.9 L407.5 437.9 L408.0 438.0 L408.5 437.7 L409.0 437.9 L409.5 439.0 L410.0 438.4 L410.5 438.2 L411.0 438.2 L411.5 437.8 L412.0 438.1 L412.5 438.0 L413.0 438.4 L413.5 437.8 L414.0 437.3 L414.5 437.9 L415.0 438.4 L415.5 439.0 L416.0 438.5 L416.5 437.9 L417.0 438.1 L417.5 437.9 L418.0 438.2 L418.5 437.9 L419.0 437.7 L419.5 438.4 L420.0 438.4 L420.5 438.3 L421.0 438.5 L421.5 439.1 L422.0 438.4 L422.5 438.2 L423.0 438.7 L423.5 437.8 L424.0 438.7 L424.5 438.2 L425.0 438.2 L425.5 438.5 L426.0 439.1 L426.5 438.2 L427.0 438.8 L427.5 438.7 L428.0 438.1 L428.5 438.9 L429.0 438.3 L429.5 438.1 L430.0 438.3 L430.5 438.4 L431.0 438.8 L431.5 438.4 L432.0 439.1 L432.5 438.7 L433.0 438.4 L433.5 438.3 L434.0 438.7 L434.5 437.9 L435.0 437.9 L435.5 438.3 L436.0 438.9 L436.5 438.7 L437.0 438.7 L437.5 438.6 L438.0 437.9 L438.5 438.6 L439.0 438.1 L439.5 439.0 L440.0 438.7 L440.5 438.7 L441.0 438.8 L441.5 438.8 L442.0 438.8 L442.5 438.8 L443.0 438.5 L443.5 438.3 L444.0 438.9 L444.5 439.3 L445.0 439.1 L445.5 438.7 L446.0 439.0 L446.5 438.6 L447.0 438.9 L447.5 438.6 L448.0 438.8 L448.5 439.5 L449.0 439.1 L449.5 439.3 L450.0 438.5 L450.5 438.6 L451.0 438.8 L451.5 439.0 L452.0 438.7 L452.5 439.2 L453.0 438.6 L453.5 439.3 L454.0 439.2 L454.5 438.5 L455.0 439.1 L455.5 438.8 L456.0 439.2 L456.5 438.7 L457.0 439.0 L457.5 439.1 L458.0 437.9 L458.5 438.2 L459.0 438.9 L459.5 438.9 L460.0 439.3 L460.5 439.0 L461.0 438.5 L461.5 439.0 L462.0 438.7 L462.5 438.8 L463.0 438.8 L463.5 439.1 L464.0 438.4 L464.5 438.6 L465.0 438.2 L465.5 439.7 L466.0 438.6 L466.5 438.7 L467.0 438.6 L467.5 438.7 L468.0 438.8 L468.5 439.2 L469.0 439.1 L469.5 439.1 L470.0 438.8 L470.5 439.0 L471.0 439.4 L471.5 439.0 L472.0 439.1 L472.5 438.3 L473.0 439.2 L473.5 439.1 L474.0 439.5 L474.5 438.1 L475.0 439.1 L475.5 439.0 L476.0 439.1 L476.5 438.9 L477.0 439.2 L477.5 439.4 L478.0 439.1 L478.5 439.0 L479.0 439.1 L479.5 439.0 L480.0 439.2 L480.5 438.9 L481.0 438.5 L481.5 439.7 L482.0 438.6 L482.5 439.2 L483.0 438.7 L483.5 439.1 L484.0 438.9 L484.5 439.2 L485.0 438.9 L485.5 438.8 L486.0 439.4 L486.5 439.7 L487.0 439.4 L487.5 439.3 L488.0 438.9 L488.5 439.3 L489.0 439.4 L489.5 439.1 L490.0 439.6 L490.5 439.3 L491.0 439.4 L491.5 439.2 L492.0 439.2 L492.5 439.4 L493.0 439.5 L493.5 439.5 L494.0 439.0 L494.5 439.1 L495.0 439.4 L495.5 438.7 L496.0 439.8 L496.5 439.5 L497.0 439.4 L497.5 439.2 L498.0 439.7 L498.5 439.3 L499.0 440.1 L499.5 439.6 L500.0 438.9 L500.5 439.7 L501.0 439.3 L501.5 439.3 L502.0 439.4 L502.5 439.5 L503.0 439.6 L503.5 439.8 L504.0 439.7 L504.5 439.3 L505.0 439.1 L505.5 439.3 L506.0 439.7 L506.5 439.9 L507.0 440.2 L507.5 439.1 L508.0 439.6 L508.5 439.5 L509.0 439.5 L509.5 439.7 L510.0 439.5 L510.5 439.5 L511.0 439.4 L511.5 439.8 L512.0 440.0 L512.5 440.2 L513.0 439.5 L513.5 439.3 L514.0 439.6 L514.5 439.4 L515.0 440.1 L515.5 439.4 L516.0 439.7 L516.5 439.3 L517.0 439.6 L517.5 439.8 L518.0 440.3 L518.5 439.5 L519.0 439.9 L519.5 439.0 L520.0 439.4 L520.5 439.5 L521.0 439.6 L521.5 440.0 L522.0 440.0 L522.5 439.3 L523.0 440.0 L523.5 439.5 L524.0 440.5 L524.5 440.0 L525.0 439.9 L525.5 439.8 L526.0 439.9 L526.5 439.9 L527.0 439.7 L527.5 440.2 L528.0 440.1 L528.5 440.2 L529.0 440.0 L529.5 440.2 L530.0 439.7 L530.5 441.3 L531.0 439.8 L531.5 439.9 L532.0 440.4 L532.5 440.5 L533.0 439.8 L533.5 439.5 L534.0 439.6 L534.5 439.8 L535.0 439.9 L535.5 440.1 L536.0 440.5 L536.5 440.5 L537.0 440.0 L537.5 440.4 L538.0 440.5 L538.5 440.7 L539.0 440.2 L539.5 440.0 L540.0 440.5 L540.5 440.8 L541.0 440.1 L541.5 441.0 L542.0 440.9 L542.5 440.2 L543.0 439.8 L543.5 440.1 L544.0 440.2 L544.5 440.5 L545.0 439.8 L545.5 441.2 L546.0 441.2 L546.5 440.1 L547.0 439.8 L547.5 440.4 L548.0 440.6 L548.5 440.9 L549.0 440.7 L549.5 440.4 L550.0 439.8 L550.5 440.7 L551.0 440.8 L551.5 440.4 L552.0 440.6 L552.5 440.6 L553.0 440.5 L553.5 440.2 L554.0 440.7 L554.5 440.1 L555.0 441.1 L555.5 440.3 L556.0 440.8 L556.5 440.4 L557.0 440.8 L557.5 440.6 L558.0 440.9 L558.5 440.4 L559.0 440.1 L559.5 440.6 L560.0 440.6 L560.5 440.2 L561.0 440.5 L561.5 440.2 L562.0 440.8 L562.5 440.6 L563.0 440.8 L563.5 441.7 L564.0 440.9 L564.5 440.9 L565.0 441.0 L565.5 440.8 L566.0 440.6 L566.5 441.2 L567.0 441.2 L567.5 439.9 L568.0 440.8 L568.5 440.8 L569.0 440.7 L569.5 441.4 L570.0 440.8 L570.5 441.3 L571.0 440.8 L571.5 440.8 L572.0 441.2 L572.5 440.7 L573.0 441.0 L573.5 440.6 L574.0 440.7 L574.5 441.3 L575.0 441.3 L575.5 440.7 L576.0 440.7 L576.5 442.0 L577.0 440.9 L577.5 440.8 L578.0 441.3 L578.5 440.9 L579.0 441.0 L579.5 441.5 L580.0 441.5 L580.5 441.1 L581.0 441.7 L581.5 441.2 L582.0 441.1 L582.5 441.2 L583.0 441.1 L583.5 441.4 L584.0 441.4" fill="none" stroke="#1414ff" stroke-width="1.0" stroke-linejoin="round"/>
<line x1="96.5" y1="432.8" x2="114.5" y2="432.8" stroke="#1414ff" stroke-width="1.1"/>
<line x1="96.5" y1="449.8" x2="114.5" y2="449.8" stroke="#ff1a1a" stroke-width="1.1"/>
<text transform="translate(119.4 439.5)" font-size="15.0" fill="#000" text-anchor="start" >SM 1</text>
<text transform="translate(119.4 456)" font-size="15.0" fill="#000" text-anchor="start" >SM 2</text>
<rect x="88.5" y="546.5" width="502.0" height="69.5" fill="none" stroke="#4a4a4a" stroke-width="1.0"/>
<line x1="96.3" y1="616" x2="96.3" y2="613" stroke="#4a4a4a" stroke-width="1"/>
<line x1="255.2" y1="616" x2="255.2" y2="613" stroke="#4a4a4a" stroke-width="1"/>
<line x1="415.1" y1="616" x2="415.1" y2="613" stroke="#4a4a4a" stroke-width="1"/>
<line x1="574.5" y1="616" x2="574.5" y2="613" stroke="#4a4a4a" stroke-width="1"/>
<path d="M96.5 608.7 L96.9 609.2 L97.3 608.8 L97.7 608.8 L98.1 609.0 L98.5 609.7 L98.9 609.3 L99.3 609.8 L99.7 609.9 L100.1 609.1 L100.5 608.7 L100.9 608.6 L101.3 609.2 L101.7 609.5 L102.1 609.9 L102.5 608.3 L102.9 609.5 L103.3 609.6 L103.7 610.4 L104.1 609.1 L104.5 609.0 L104.9 608.2 L105.3 608.6 L105.7 608.4 L106.1 608.4 L106.5 608.5 L106.9 608.1 L107.3 608.9 L107.7 609.2 L108.1 609.4 L108.5 608.9 L108.9 609.5 L109.3 609.5 L109.7 608.1 L110.1 608.8 L110.5 608.2 L110.9 608.3 L111.3 609.0 L111.7 608.8 L112.1 609.7 L112.5 610.0 L112.9 609.1 L113.3 608.7 L113.7 608.8 L114.1 608.8 L114.5 609.1 L114.9 608.4 L115.3 609.1 L115.7 608.7 L116.1 609.4 L116.5 609.5 L116.9 609.7 L117.3 608.7 L117.7 608.0 L118.1 607.8 L118.5 608.6 L118.9 608.0 L119.3 607.8 L119.7 608.5 L120.1 608.2 L120.5 609.1 L120.9 609.8 L121.3 608.6 L121.7 608.9 L122.1 607.8 L122.5 608.8 L122.9 608.3 L123.3 608.1 L123.7 607.6 L124.1 609.5 L124.5 607.8 L124.9 608.0 L125.3 608.6 L125.7 608.8 L126.1 608.8 L126.5 608.7 L126.9 608.1 L127.3 609.0 L127.7 608.7 L128.1 607.8 L128.5 609.5 L128.9 608.4 L129.3 609.1 L129.7 607.8 L130.1 607.9 L130.5 608.2 L130.9 608.2 L131.3 609.1 L131.7 607.6 L132.1 608.6 L132.5 607.9 L132.9 608.8 L133.3 608.6 L133.7 608.2 L134.1 609.7 L134.5 608.4 L134.9 609.1 L135.3 607.7 L135.7 608.4 L136.1 608.5 L136.5 608.5 L136.9 608.2 L137.3 608.0 L137.7 606.7 L138.1 608.1 L138.5 607.9 L138.9 608.2 L139.3 608.9 L139.7 609.6 L140.1 608.7 L140.5 608.9 L140.9 608.7 L141.3 608.7 L141.7 608.7 L142.1 608.2 L142.5 608.1 L142.9 608.5 L143.3 609.3 L143.7 608.7 L144.1 609.2 L144.5 607.6 L144.9 608.4 L145.3 608.5 L145.7 608.6 L146.1 607.5 L146.5 607.2 L146.9 607.1 L147.3 608.0 L147.7 609.5 L148.1 608.3 L148.5 607.6 L148.9 608.4 L149.3 608.0 L149.7 608.3 L150.1 607.9 L150.5 607.5 L150.9 607.9 L151.3 608.6 L151.7 608.3 L152.1 608.8 L152.5 607.5 L152.9 608.7 L153.3 608.1 L153.7 608.2 L154.1 608.8 L154.5 608.0 L154.9 608.2 L155.3 608.4 L155.7 608.4 L156.1 608.5 L156.5 608.8 L156.9 608.3 L157.3 607.8 L157.7 609.4 L158.1 608.0 L158.5 608.2 L158.9 607.6 L159.3 606.8 L159.7 607.5 L160.1 608.0 L160.5 608.2 L160.9 608.0 L161.3 608.4 L161.7 608.5 L162.1 608.4 L162.5 607.9 L162.9 607.9 L163.3 607.8 L163.7 607.4 L164.1 608.6 L164.5 607.2 L164.9 607.8 L165.3 607.9 L165.7 606.6 L166.1 608.2 L166.5 607.6 L166.9 607.9 L167.3 607.6 L167.7 606.9 L168.1 607.9 L168.5 607.8 L168.9 608.3 L169.3 608.0 L169.7 606.8 L170.1 608.3 L170.5 608.1 L170.9 608.1 L171.3 607.9 L171.7 607.3 L172.1 607.9 L172.5 607.4 L172.9 609.2 L173.3 607.5 L173.7 607.0 L174.1 607.4 L174.5 608.4 L174.9 607.3 L175.3 606.2 L175.7 608.4 L176.1 607.7 L176.5 607.3 L176.9 607.9 L177.3 607.0 L177.7 606.9 L178.1 608.0 L178.5 607.2 L178.9 607.8 L179.3 607.5 L179.7 607.9 L180.1 607.5 L180.5 606.3 L180.9 607.8 L181.3 607.1 L181.7 607.9 L182.1 607.5 L182.5 608.2 L182.9 607.2 L183.3 606.2 L183.7 607.2 L184.1 607.6 L184.5 607.1 L184.9 607.1 L185.3 608.1 L185.7 607.2 L186.1 607.9 L186.5 607.4 L186.9 606.5 L187.3 606.7 L187.7 607.1 L188.1 607.4 L188.5 606.8 L188.9 606.4 L189.3 606.6 L189.7 606.9 L190.1 606.7 L190.5 606.8 L190.9 608.2 L191.3 607.3 L191.7 606.7 L192.1 607.1 L192.5 608.0 L192.9 607.5 L193.3 607.0 L193.7 606.3 L194.1 606.1 L194.5 606.9 L194.9 607.0 L195.3 606.1 L195.7 606.3 L196.1 607.0 L196.5 605.8 L196.9 606.1 L197.3 607.0 L197.7 607.3 L198.1 607.1 L198.5 607.5 L198.9 607.8 L199.3 607.4 L199.7 606.8 L200.1 608.1 L200.5 607.8 L200.9 607.4 L201.3 606.4 L201.7 607.1 L202.1 605.7 L202.5 606.7 L202.9 605.5 L203.3 606.6 L203.7 607.4 L204.1 606.8 L204.5 607.7 L204.9 606.8 L205.3 606.8 L205.7 606.6 L206.1 607.0 L206.5 606.7 L206.9 607.4 L207.3 607.6 L207.7 606.9 L208.1 606.0 L208.5 607.0 L208.9 607.4 L209.3 607.0 L209.7 606.8 L210.1 607.1 L210.5 607.3 L210.9 605.1 L211.3 607.4 L211.7 607.0 L212.1 606.8 L212.5 606.2 L212.9 606.6 L213.3 606.8 L213.7 605.7 L214.1 606.9 L214.5 606.5 L214.9 607.2 L215.3 606.8 L215.7 606.3 L216.1 606.4 L216.5 606.7 L216.9 606.5 L217.3 606.7 L217.7 606.0 L218.1 605.6 L218.5 606.0 L218.9 605.5 L219.3 605.9 L219.7 606.5 L220.1 605.4 L220.5 605.6 L220.9 606.6 L221.3 605.9 L221.7 606.2 L222.1 605.5 L222.5 605.6 L222.9 606.0 L223.3 607.1 L223.7 606.4 L224.1 605.2 L224.5 606.4 L224.9 606.6 L225.3 606.5 L225.7 605.4 L226.1 606.0 L226.5 607.2 L226.9 605.5 L227.3 606.2 L227.7 605.6 L228.1 605.3 L228.5 605.7 L228.9 606.5 L229.3 606.6 L229.7 605.5 L230.1 605.7 L230.5 605.4 L230.9 604.7 L231.3 606.2 L231.7 606.7 L232.1 606.6 L232.5 605.5 L232.9 606.5 L233.3 606.4 L233.7 605.6 L234.1 605.7 L234.5 605.5 L234.9 605.8 L235.3 606.7 L235.7 605.1 L236.1 605.0 L236.5 606.1 L236.9 605.6 L237.3 604.5 L237.7 605.0 L238.1 605.1 L238.5 605.2 L238.9 605.7 L239.3 606.0 L239.7 605.3 L240.1 605.5 L240.5 605.0 L240.9 605.9 L241.3 606.1 L241.7 605.2 L242.1 604.9 L242.5 606.4 L242.9 605.8 L243.3 604.8 L243.7 604.3 L244.1 605.0 L244.5 605.8 L244.9 604.9 L245.3 605.0 L245.7 604.9 L246.1 605.5 L246.5 605.9 L246.9 604.4 L247.3 604.9 L247.7 604.9 L248.1 604.7 L248.5 604.3 L248.9 605.4 L249.3 605.0 L249.7 605.3 L250.1 605.7 L250.5 604.7 L250.9 605.2 L251.3 604.6 L251.7 604.8 L252.1 605.0 L252.5 604.7 L252.9 603.9 L253.3 605.6 L253.7 604.8 L254.1 604.1 L254.5 603.5 L254.9 604.6 L255.3 604.9 L255.7 605.1 L256.1 605.0 L256.5 604.1 L256.9 604.6 L257.3 603.3 L257.7 604.2 L258.1 604.5 L258.5 603.6 L258.9 603.8 L259.3 603.8 L259.7 603.8 L260.1 604.4 L260.5 603.0 L260.9 604.2 L261.3 602.7 L261.7 602.9 L262.1 602.8 L262.5 603.1 L262.9 602.8 L263.3 603.3 L263.7 602.9 L264.1 604.0 L264.5 603.0 L264.9 602.5 L265.3 602.8 L265.7 602.8 L266.1 602.3 L266.5 601.7 L266.9 601.8 L267.3 602.3 L267.7 602.6 L268.1 602.3 L268.5 601.9 L268.9 602.1 L269.3 601.4 L269.7 601.7 L270.1 602.2 L270.5 601.9 L270.9 602.0 L271.3 600.9 L271.7 601.1 L272.1 600.3 L272.5 601.2 L272.9 600.4 L273.3 599.8 L273.7 600.1 L274.1 600.4 L274.5 598.9 L274.9 599.3 L275.3 600.5 L275.7 599.9 L276.1 599.7 L276.5 598.7 L276.9 600.3 L277.3 599.9 L277.7 599.6 L278.1 598.5 L278.5 599.3 L278.9 599.5 L279.3 598.5 L279.7 598.4 L280.1 598.1 L280.5 598.5 L280.9 597.9 L281.3 597.7 L281.7 596.9 L282.1 596.6 L282.5 597.9 L282.9 598.1 L283.3 599.4 L283.7 600.5 L284.1 595.3 L284.5 596.2 L284.9 597.0 L285.3 595.3 L285.7 599.6 L286.1 591.8 L286.5 593.4 L286.9 593.7 L287.3 592.5 L287.7 596.0 L288.1 588.6 L288.5 596.0 L288.9 595.1 L289.3 593.2 L289.7 595.5 L290.1 597.5 L290.5 591.7 L290.9 592.6 L291.3 591.4 L291.7 591.3 L292.1 588.3 L292.5 587.3 L292.9 590.1 L293.3 586.8 L293.7 590.0 L294.1 589.1 L294.5 585.5 L294.9 587.1 L295.3 585.8 L295.7 584.6 L296.1 587.1 L296.5 583.7 L296.9 583.6 L297.3 577.5 L297.7 583.2 L298.1 577.5 L298.5 579.5 L298.9 583.8 L299.3 583.5 L299.7 577.4 L300.1 574.6 L300.5 578.1 L300.9 575.4 L301.3 576.6 L301.7 571.7 L302.1 577.1 L302.5 577.5 L302.9 569.3 L303.3 570.3 L303.7 569.7 L304.1 572.5 L304.5 563.5 L304.9 565.2 L305.3 565.1 L305.7 566.3 L306.1 572.7 L306.5 568.7 L306.9 572.8 L307.3 577.0 L307.7 582.6 L308.1 581.0 L308.5 580.9 L308.9 585.2 L309.3 582.9 L309.7 582.2 L310.1 582.8 L310.5 584.1 L310.9 589.7 L311.3 580.0 L311.7 583.2 L312.1 581.9 L312.5 581.8 L312.9 586.3 L313.3 584.6 L313.7 584.4 L314.1 581.7 L314.5 580.8 L314.9 583.8 L315.3 582.4 L315.7 581.8 L316.1 584.9 L316.5 579.8 L316.9 580.6 L317.3 584.0 L317.7 581.4 L318.1 582.9 L318.5 578.7 L318.9 582.2 L319.3 578.3 L319.7 583.0 L320.1 584.0 L320.5 582.0 L320.9 587.7 L321.3 581.0 L321.7 574.5 L322.1 587.2 L322.5 579.5 L322.9 585.0 L323.3 577.6 L323.7 583.0 L324.1 572.7 L324.5 567.9 L324.9 569.9 L325.3 581.8 L325.7 561.8 L326.1 567.7 L326.5 569.6 L326.9 578.5 L327.3 579.7 L327.7 570.7 L328.1 581.5 L328.5 578.8 L328.9 583.7 L329.3 582.2 L329.7 569.2 L330.1 577.9 L330.5 575.9 L330.9 579.2 L331.3 577.7 L331.7 576.7 L332.1 580.4 L332.5 573.7 L332.9 579.9 L333.3 576.4 L333.7 575.3 L334.1 581.1 L334.5 581.2 L334.9 582.7 L335.3 576.4 L335.7 574.6 L336.1 576.7 L336.5 576.5 L336.9 564.2 L337.3 569.3 L337.7 583.7 L338.1 575.0 L338.5 559.5 L338.9 574.5 L339.3 575.9 L339.7 563.0 L340.1 587.4 L340.5 577.6 L340.9 579.3 L341.3 572.0 L341.7 577.4 L342.1 571.6 L342.5 576.4 L342.9 564.5 L343.3 575.6 L343.7 575.2 L344.1 574.3 L344.5 568.7 L344.9 573.9 L345.3 574.3 L345.7 575.6 L346.1 575.0 L346.5 566.3 L346.9 578.8 L347.3 576.3 L347.7 566.7 L348.1 573.5 L348.5 569.3 L348.9 566.1 L349.3 579.4 L349.7 574.9 L350.1 584.6 L350.5 574.2 L350.9 567.5 L351.3 574.2 L351.7 560.2 L352.1 583.3 L352.5 571.6 L352.9 575.8 L353.3 574.2 L353.7 564.7 L354.1 572.6 L354.5 568.9 L354.9 567.8 L355.3 574.9 L355.7 566.4 L356.1 581.9 L356.5 558.6 L356.9 577.3 L357.3 569.2 L357.7 565.9 L358.1 569.0 L358.5 573.5 L358.9 571.2 L359.3 572.1 L359.7 568.9 L360.1 574.6 L360.5 563.7 L360.9 572.4 L361.3 578.3 L361.7 564.1 L362.1 568.4 L362.5 568.5 L362.9 567.8 L363.3 564.8 L363.7 570.7 L364.1 573.0 L364.5 569.3 L364.9 563.3 L365.3 575.8 L365.7 576.0 L366.1 572.5 L366.5 566.6 L366.9 567.4 L367.3 582.7 L367.7 575.5 L368.1 570.9 L368.5 567.1 L368.9 574.8 L369.3 573.0 L369.7 581.2 L370.1 568.9 L370.5 574.6 L370.9 571.0 L371.3 576.3 L371.7 568.7 L372.1 577.2 L372.5 561.7 L372.9 567.4 L373.3 575.5 L373.7 573.7 L374.1 559.7 L374.5 569.1 L374.9 573.1 L375.3 573.6 L375.7 581.5 L376.1 569.1 L376.5 572.6 L376.9 559.5 L377.3 564.8 L377.7 565.8 L378.1 569.6 L378.5 571.8 L378.9 576.4 L379.3 576.9 L379.7 578.5 L380.1 572.1 L380.5 572.3 L380.9 567.4 L381.3 575.1 L381.7 575.8 L382.1 564.8 L382.5 554.5 L382.9 569.8 L383.3 587.5 L383.7 572.9 L384.1 570.0 L384.5 571.1 L384.9 579.4 L385.3 575.5 L385.7 572.6 L386.1 566.7 L386.5 570.5 L386.9 567.3 L387.3 575.8 L387.7 581.1 L388.1 579.9 L388.5 571.2 L388.9 569.5 L389.3 565.8 L389.7 578.1 L390.1 579.2 L390.5 580.8 L390.9 578.7 L391.3 570.6 L391.7 567.1 L392.1 576.2 L392.5 575.8 L392.9 584.3 L393.3 572.6 L393.7 575.9 L394.1 576.7 L394.5 580.6 L394.9 582.1 L395.3 578.8 L395.7 582.5 L396.1 571.3 L396.5 576.7 L396.9 577.4 L397.3 579.3 L397.7 579.1 L398.1 581.9 L398.5 590.8 L398.9 577.0 L399.3 580.5 L399.7 583.1 L400.1 576.6 L400.5 585.4 L400.9 578.1 L401.3 583.5 L401.7 578.8 L402.1 583.6 L402.5 581.7 L402.9 582.0 L403.3 579.5 L403.7 575.7 L404.1 578.0 L404.5 575.5 L404.9 579.7 L405.3 583.5 L405.7 577.4 L406.1 583.3 L406.5 584.4 L406.9 574.8 L407.3 582.4 L407.7 587.2 L408.1 579.2 L408.5 583.4 L408.9 581.6 L409.3 584.1 L409.7 580.4 L410.1 579.2 L410.5 580.3 L410.9 580.5 L411.3 579.8 L411.7 579.0 L412.1 584.9 L412.5 579.9 L412.9 578.0 L413.3 578.9 L413.7 583.2 L414.1 575.0 L414.5 583.2 L414.9 583.9 L415.3 585.6 L415.7 580.5 L416.1 579.3 L416.5 582.3 L416.9 582.3 L417.3 585.8 L417.7 575.8 L418.1 580.6 L418.5 577.9 L418.9 580.1 L419.3 582.2 L419.7 585.5 L420.1 582.3 L420.5 586.0 L420.9 585.7 L421.3 579.7 L421.7 578.6 L422.1 580.1 L422.5 581.3 L422.9 578.7 L423.3 584.1 L423.7 579.7 L424.1 585.6 L424.5 582.8 L424.9 580.7 L425.3 583.2 L425.7 579.3 L426.1 579.3 L426.5 579.7 L426.9 585.5 L427.3 574.0 L427.7 584.5 L428.1 584.6 L428.5 581.9 L428.9 583.0 L429.3 582.6 L429.7 585.9 L430.1 587.0 L430.5 581.6 L430.9 586.9 L431.3 576.8 L431.7 583.2 L432.1 583.3 L432.5 576.6 L432.9 583.0 L433.3 580.0 L433.7 584.4 L434.1 579.3 L434.5 576.7 L434.9 578.1 L435.3 582.1 L435.7 582.9 L436.1 583.0 L436.5 578.3 L436.9 584.0 L437.3 576.9 L437.7 581.3 L438.1 584.9 L438.5 581.5 L438.9 576.4 L439.3 584.1 L439.7 582.0 L440.1 581.1 L440.5 584.8 L440.9 580.6 L441.3 583.4 L441.7 582.3 L442.1 587.7 L442.5 577.4 L442.9 582.4 L443.3 582.8 L443.7 579.0 L444.1 577.5 L444.5 580.6 L444.9 585.1 L445.3 581.1 L445.7 582.6 L446.1 581.9 L446.5 582.8 L446.9 579.0 L447.3 580.0 L447.7 581.9 L448.1 582.2 L448.5 584.4 L448.9 583.1 L449.3 583.3 L449.7 581.9 L450.1 584.8 L450.5 580.6 L450.9 581.8 L451.3 578.7 L451.7 578.7 L452.1 583.8 L452.5 581.8 L452.9 577.8 L453.3 581.8 L453.7 581.4 L454.1 579.4 L454.5 582.6 L454.9 581.3 L455.3 581.9 L455.7 583.9 L456.1 580.5 L456.5 584.2 L456.9 581.2 L457.3 581.2 L457.7 584.6 L458.1 582.6 L458.5 580.9 L458.9 581.5 L459.3 581.0 L459.7 578.5 L460.1 583.2 L460.5 581.7 L460.9 578.0 L461.3 578.8 L461.7 583.6 L462.1 569.1 L462.5 586.4 L462.9 579.3 L463.3 581.3 L463.7 576.0 L464.1 581.5 L464.5 576.5 L464.9 582.7 L465.3 582.0 L465.7 580.8 L466.1 586.3 L466.5 583.2 L466.9 579.9 L467.3 582.3 L467.7 575.2 L468.1 580.2 L468.5 584.2 L468.9 580.2 L469.3 581.8 L469.7 578.9 L470.1 583.1 L470.5 581.6 L470.9 581.3 L471.3 583.3 L471.7 584.8 L472.1 582.9 L472.5 577.2 L472.9 581.8 L473.3 581.5 L473.7 578.3 L474.1 577.2 L474.5 579.8 L474.9 580.0 L475.3 580.4 L475.7 578.9 L476.1 580.8 L476.5 581.1 L476.9 579.7 L477.3 581.1 L477.7 578.9 L478.1 576.7 L478.5 580.1 L478.9 582.0 L479.3 585.6 L479.7 575.2 L480.1 579.7 L480.5 579.4 L480.9 579.8 L481.3 579.1 L481.7 579.5 L482.1 579.8 L482.5 578.8 L482.9 579.0 L483.3 579.7 L483.7 579.2 L484.1 577.8 L484.5 579.5 L484.9 578.0 L485.3 578.4 L485.7 577.9 L486.1 577.9 L486.5 578.4 L486.9 579.6 L487.3 579.5 L487.7 579.9 L488.1 580.8 L488.5 581.7 L488.9 581.3 L489.3 583.3 L489.7 583.2 L490.1 584.2 L490.5 584.0 L490.9 583.0 L491.3 582.6 L491.7 581.6 L492.1 581.0 L492.5 579.9 L492.9 580.3 L493.3 579.6 L493.7 578.2 L494.1 579.2 L494.5 580.4 L494.9 580.3 L495.3 581.2 L495.7 581.0 L496.1 581.1 L496.5 582.1 L496.9 582.4 L497.3 582.5 L497.7 584.1 L498.1 583.9 L498.5 583.1 L498.9 583.0 L499.3 582.3 L499.7 582.2 L500.1 582.3 L500.5 580.7 L500.9 579.9 L501.3 580.7 L501.7 580.7 L502.1 578.8 L502.5 578.1 L502.9 577.5 L503.3 577.9 L503.7 577.8 L504.1 577.4 L504.5 577.8 L504.9 576.8 L505.3 576.8 L505.7 576.3 L506.1 577.4 L506.5 577.1 L506.9 577.1 L507.3 575.8 L507.7 576.8 L508.1 576.3 L508.5 577.2 L508.9 577.9 L509.3 578.1 L509.7 578.9 L510.1 578.9 L510.5 580.1 L510.9 580.9 L511.3 581.2 L511.7 582.5 L512.1 583.7 L512.5 583.0 L512.9 583.0 L513.3 583.2 L513.7 583.9 L514.1 584.9 L514.5 584.3 L514.9 584.5 L515.3 584.0 L515.7 585.0 L516.1 585.4 L516.5 585.0 L516.9 585.4 L517.3 585.3 L517.7 586.2 L518.1 586.6 L518.5 585.7 L518.9 585.3 L519.3 584.7 L519.7 584.0 L520.1 583.5 L520.5 583.3 L520.9 583.1 L521.3 582.7 L521.7 582.8 L522.1 582.3 L522.5 582.2 L522.9 581.5 L523.3 580.6 L523.7 580.3 L524.1 579.1 L524.5 580.4 L524.9 579.0 L525.3 578.8 L525.7 579.6 L526.1 577.9 L526.5 577.8 L526.9 577.8 L527.3 577.2 L527.7 577.3 L528.1 577.2 L528.5 577.8 L528.9 577.8 L529.3 578.6 L529.7 578.5 L530.1 579.4 L530.5 580.1 L530.9 579.0 L531.3 580.2 L531.7 580.8 L532.1 580.2 L532.5 580.0 L532.9 582.1 L533.3 581.9 L533.7 583.0 L534.1 583.0 L534.5 583.3 L534.9 583.5 L535.3 584.1 L535.7 584.0 L536.1 584.5 L536.5 585.5 L536.9 585.4 L537.3 586.1 L537.7 586.2 L538.1 586.2 L538.5 585.6 L538.9 586.1 L539.3 584.9 L539.7 585.2 L540.1 583.8 L540.5 584.4 L540.9 584.1 L541.3 583.2 L541.7 582.4 L542.1 582.7 L542.5 582.5 L542.9 581.8 L543.3 581.2 L543.7 581.3 L544.1 580.2 L544.5 579.4 L544.9 579.4 L545.3 578.3 L545.7 577.3 L546.1 577.5 L546.5 576.2 L546.9 576.2 L547.3 574.8 L547.7 574.6 L548.1 574.5 L548.5 573.9 L548.9 573.6 L549.3 573.3 L549.7 573.2 L550.1 572.5 L550.5 572.4 L550.9 571.8 L551.3 572.6 L551.7 570.9 L552.1 571.5 L552.5 570.3 L552.9 571.3 L553.3 572.0 L553.7 571.1 L554.1 572.8 L554.5 571.7 L554.9 572.1 L555.3 572.9 L555.7 572.5 L556.1 573.8 L556.5 573.9 L556.9 572.6 L557.3 573.7 L557.7 574.6 L558.1 575.7 L558.5 575.6 L558.9 576.3 L559.3 577.5 L559.7 577.3 L560.1 578.5 L560.5 578.2 L560.9 579.9 L561.3 580.7 L561.7 580.0 L562.1 579.9 L562.5 580.6 L562.9 582.3 L563.3 581.8 L563.7 583.0 L564.1 582.2 L564.5 582.7 L564.9 583.5 L565.3 584.4 L565.7 584.1 L566.1 583.9 L566.5 584.5 L566.9 584.3 L567.3 584.3 L567.7 583.9 L568.1 583.5 L568.5 583.7 L568.9 582.4 L569.3 583.6 L569.7 584.0 L570.1 583.5 L570.5 582.7 L570.9 582.3 L571.3 583.5 L571.7 582.5 L572.1 582.4 L572.5 582.5 L572.9 581.9 L573.3 582.1 L573.7 582.6 L574.1 581.5 L574.5 582.5 L574.9 581.6 L575.3 581.4 L575.7 581.6 L576.1 581.5 L576.5 581.6 L576.9 581.4 L577.3 581.0 L577.7 582.1 L578.1 581.3 L578.5 581.1 L578.9 582.0 L579.3 582.0 L579.7 581.7 L580.1 581.8" fill="none" stroke="#ff1a1a" stroke-width="1.0" stroke-linejoin="round"/>
<path d="M96.5 608.5 L96.9 608.7 L97.3 608.1 L97.7 609.0 L98.1 608.8 L98.5 608.6 L98.9 608.9 L99.3 608.9 L99.7 608.4 L100.1 608.5 L100.5 608.4 L100.9 609.5 L101.3 607.9 L101.7 608.7 L102.1 609.2 L102.5 608.2 L102.9 608.2 L103.3 608.2 L103.7 607.7 L104.1 609.3 L104.5 608.6 L104.9 608.1 L105.3 608.3 L105.7 608.7 L106.1 608.5 L106.5 608.1 L106.9 608.9 L107.3 608.1 L107.7 608.4 L108.1 608.7 L108.5 608.2 L108.9 608.6 L109.3 608.2 L109.7 610.0 L110.1 608.3 L110.5 608.9 L110.9 608.1 L111.3 607.9 L111.7 608.5 L112.1 608.3 L112.5 608.3 L112.9 608.5 L113.3 609.0 L113.7 609.5 L114.1 609.6 L114.5 608.5 L114.9 609.4 L115.3 609.4 L115.7 608.1 L116.1 608.2 L116.5 608.4 L116.9 609.5 L117.3 608.3 L117.7 608.3 L118.1 609.1 L118.5 608.3 L118.9 608.3 L119.3 608.7 L119.7 608.4 L120.1 607.0 L120.5 607.6 L120.9 608.7 L121.3 607.5 L121.7 609.0 L122.1 608.3 L122.5 608.4 L122.9 608.4 L123.3 607.3 L123.7 607.9 L124.1 607.7 L124.5 608.4 L124.9 609.1 L125.3 608.1 L125.7 608.3 L126.1 607.2 L126.5 608.0 L126.9 608.1 L127.3 608.1 L127.7 608.5 L128.1 608.9 L128.5 608.2 L128.9 608.4 L129.3 607.3 L129.7 608.5 L130.1 608.2 L130.5 607.2 L130.9 608.3 L131.3 607.8 L131.7 608.7 L132.1 608.4 L132.5 608.1 L132.9 609.0 L133.3 608.0 L133.7 607.9 L134.1 608.1 L134.5 608.1 L134.9 607.6 L135.3 608.4 L135.7 608.3 L136.1 607.8 L136.5 607.2 L136.9 608.7 L137.3 608.7 L137.7 608.5 L138.1 608.6 L138.5 609.0 L138.9 608.2 L139.3 608.9 L139.7 607.9 L140.1 607.5 L140.5 608.0 L140.9 607.8 L141.3 608.3 L141.7 609.0 L142.1 608.2 L142.5 608.6 L142.9 609.1 L143.3 609.0 L143.7 608.0 L144.1 607.6 L144.5 609.1 L144.9 607.4 L145.3 607.0 L145.7 606.8 L146.1 608.6 L146.5 607.1 L146.9 607.8 L147.3 607.8 L147.7 608.6 L148.1 607.1 L148.5 607.9 L148.9 608.0 L149.3 608.6 L149.7 607.7 L150.1 608.0 L150.5 607.7 L150.9 608.4 L151.3 608.3 L151.7 607.6 L152.1 608.1 L152.5 607.0 L152.9 607.8 L153.3 607.3 L153.7 607.5 L154.1 608.3 L154.5 608.9 L154.9 607.9 L155.3 607.7 L155.7 607.5 L156.1 608.1 L156.5 607.6 L156.9 608.2 L157.3 608.5 L157.7 608.0 L158.1 607.5 L158.5 608.1 L158.9 607.3 L159.3 606.7 L159.7 608.3 L160.1 608.7 L160.5 608.3 L160.9 607.4 L161.3 605.7 L161.7 607.2 L162.1 607.9 L162.5 607.3 L162.9 608.3 L163.3 607.1 L163.7 607.8 L164.1 607.6 L164.5 607.6 L164.9 606.7 L165.3 607.4 L165.7 607.6 L166.1 607.2 L166.5 606.7 L166.9 607.2 L167.3 606.9 L167.7 607.6 L168.1 607.9 L168.5 607.6 L168.9 607.6 L169.3 607.3 L169.7 607.5 L170.1 606.3 L170.5 607.4 L170.9 607.8 L171.3 607.0 L171.7 607.7 L172.1 606.5 L172.5 607.3 L172.9 607.2 L173.3 607.5 L173.7 607.3 L174.1 608.5 L174.5 605.5 L174.9 606.4 L175.3 606.8 L175.7 607.2 L176.1 606.8 L176.5 606.8 L176.9 606.3 L177.3 606.4 L177.7 606.7 L178.1 608.0 L178.5 606.7 L178.9 608.6 L179.3 607.7 L179.7 606.9 L180.1 607.5 L180.5 607.6 L180.9 606.4 L181.3 606.1 L181.7 607.8 L182.1 606.5 L182.5 607.5 L182.9 607.4 L183.3 606.1 L183.7 607.3 L184.1 607.3 L184.5 607.7 L184.9 606.9 L185.3 607.2 L185.7 607.1 L186.1 606.8 L186.5 607.8 L186.9 607.4 L187.3 607.7 L187.7 607.1 L188.1 607.5 L188.5 606.3 L188.9 606.5 L189.3 607.4 L189.7 606.7 L190.1 606.6 L190.5 606.9 L190.9 605.9 L191.3 606.9 L191.7 607.0 L192.1 606.6 L192.5 606.1 L192.9 607.7 L193.3 607.0 L193.7 606.2 L194.1 606.4 L194.5 605.8 L194.9 605.7 L195.3 605.6 L195.7 606.2 L196.1 606.9 L196.5 607.1 L196.9 606.6 L197.3 607.2 L197.7 606.9 L198.1 606.0 L198.5 606.1 L198.9 606.7 L199.3 607.0 L199.7 607.2 L200.1 605.8 L200.5 605.5 L200.9 607.6 L201.3 606.4 L201.7 607.1 L202.1 606.5 L202.5 605.7 L202.9 607.2 L203.3 606.7 L203.7 607.3 L204.1 606.8 L204.5 605.9 L204.9 606.4 L205.3 606.9 L205.7 606.0 L206.1 606.5 L206.5 607.0 L206.9 605.7 L207.3 606.1 L207.7 606.4 L208.1 606.8 L208.5 606.2 L208.9 605.9 L209.3 606.6 L209.7 605.9 L210.1 606.5 L210.5 606.4 L210.9 606.1 L211.3 606.7 L211.7 606.8 L212.1 605.5 L212.5 606.5 L212.9 606.1 L213.3 606.0 L213.7 606.2 L214.1 606.8 L214.5 606.0 L214.9 605.9 L215.3 605.4 L215.7 606.0 L216.1 606.0 L216.5 605.5 L216.9 605.9 L217.3 606.3 L217.7 606.8 L218.1 605.8 L218.5 607.1 L218.9 606.5 L219.3 606.4 L219.7 606.3 L220.1 606.0 L220.5 605.6 L220.9 605.9 L221.3 605.9 L221.7 606.0 L222.1 606.7 L222.5 607.0 L222.9 606.1 L223.3 606.4 L223.7 605.4 L224.1 604.7 L224.5 605.7 L224.9 605.9 L225.3 606.5 L225.7 607.1 L226.1 605.9 L226.5 606.5 L226.9 606.3 L227.3 605.8 L227.7 606.2 L228.1 605.9 L228.5 606.5 L228.9 605.1 L229.3 604.4 L229.7 605.7 L230.1 606.1 L230.5 606.2 L230.9 605.3 L231.3 605.9 L231.7 605.2 L232.1 605.9 L232.5 605.1 L232.9 604.9 L233.3 606.0 L233.7 604.8 L234.1 604.6 L234.5 605.8 L234.9 605.4 L235.3 604.1 L235.7 606.0 L236.1 604.6 L236.5 605.0 L236.9 605.2 L237.3 606.4 L237.7 605.2 L238.1 605.7 L238.5 605.1 L238.9 605.5 L239.3 604.4 L239.7 605.1 L240.1 604.8 L240.5 604.5 L240.9 605.2 L241.3 605.6 L241.7 605.3 L242.1 604.8 L242.5 605.4 L242.9 604.4 L243.3 605.1 L243.7 605.2 L244.1 604.9 L244.5 604.7 L244.9 604.9 L245.3 604.5 L245.7 604.7 L246.1 605.2 L246.5 603.7 L246.9 605.4 L247.3 605.0 L247.7 604.8 L248.1 604.1 L248.5 604.4 L248.9 604.3 L249.3 605.0 L249.7 605.0 L250.1 605.2 L250.5 604.6 L250.9 603.4 L251.3 604.0 L251.7 604.3 L252.1 604.7 L252.5 603.6 L252.9 604.3 L253.3 604.4 L253.7 604.1 L254.1 604.3 L254.5 605.6 L254.9 604.3 L255.3 605.3 L255.7 604.3 L256.1 603.7 L256.5 604.3 L256.9 603.7 L257.3 603.8 L257.7 602.5 L258.1 603.9 L258.5 603.3 L258.9 604.2 L259.3 603.5 L259.7 603.2 L260.1 602.7 L260.5 603.2 L260.9 602.9 L261.3 602.6 L261.7 604.0 L262.1 602.8 L262.5 603.3 L262.9 603.5 L263.3 602.9 L263.7 602.9 L264.1 602.8 L264.5 602.9 L264.9 602.6 L265.3 602.5 L265.7 602.2 L266.1 601.8 L266.5 601.8 L266.9 601.6 L267.3 601.9 L267.7 602.5 L268.1 601.2 L268.5 601.2 L268.9 600.9 L269.3 601.3 L269.7 601.8 L270.1 600.9 L270.5 601.1 L270.9 599.6 L271.3 600.7 L271.7 600.9 L272.1 600.2 L272.5 599.5 L272.9 600.5 L273.3 600.1 L273.7 601.0 L274.1 599.6 L274.5 599.7 L274.9 599.5 L275.3 599.6 L275.7 598.5 L276.1 600.1 L276.5 599.6 L276.9 599.0 L277.3 598.8 L277.7 599.2 L278.1 599.0 L278.5 598.4 L278.9 598.4 L279.3 598.6 L279.7 598.0 L280.1 597.9 L280.5 597.6 L280.9 597.5 L281.3 596.8 L281.7 596.8 L282.1 597.4 L282.5 597.5 L282.9 596.8 L283.3 594.7 L283.7 595.7 L284.1 596.6 L284.5 597.1 L284.9 596.7 L285.3 595.7 L285.7 595.5 L286.1 595.3 L286.5 596.3 L286.9 595.3 L287.3 594.5 L287.7 595.3 L288.1 595.1 L288.5 592.5 L288.9 593.2 L289.3 594.2 L289.7 593.7 L290.1 591.7 L290.5 592.3 L290.9 592.7 L291.3 591.9 L291.7 590.4 L292.1 590.8 L292.5 591.2 L292.9 590.7 L293.3 589.3 L293.7 591.6 L294.1 589.6 L294.5 588.0 L294.9 588.6 L295.3 586.4 L295.7 587.7 L296.1 587.9 L296.5 589.5 L296.9 587.4 L297.3 587.2 L297.7 587.1 L298.1 586.3 L298.5 585.4 L298.9 586.6 L299.3 585.5 L299.7 586.0 L300.1 585.3 L300.5 583.4 L300.9 583.4 L301.3 583.1 L301.7 582.8 L302.1 583.1 L302.5 582.3 L302.9 581.5 L303.3 583.0 L303.7 582.6 L304.1 581.2 L304.5 580.1 L304.9 580.1 L305.3 580.0 L305.7 579.9 L306.1 580.0 L306.5 581.0 L306.9 581.1 L307.3 581.3 L307.7 580.3 L308.1 581.3 L308.5 582.7 L308.9 581.3 L309.3 580.9 L309.7 583.4 L310.1 581.5 L310.5 580.9 L310.9 582.1 L311.3 580.9 L311.7 581.2 L312.1 582.3 L312.5 580.9 L312.9 580.0 L313.3 581.6 L313.7 581.6 L314.1 579.7 L314.5 580.3 L314.9 581.3 L315.3 580.5 L315.7 580.8 L316.1 579.7 L316.5 578.3 L316.9 577.4 L317.3 576.6 L317.7 575.9 L318.1 572.3 L318.5 570.4 L318.9 569.4 L319.3 567.5 L319.7 565.2 L320.1 568.5 L320.5 567.6 L320.9 569.3 L321.3 575.6 L321.7 576.1 L322.1 575.9 L322.5 574.6 L322.9 580.1 L323.3 580.2 L323.7 579.9 L324.1 580.6 L324.5 580.1 L324.9 583.1 L325.3 583.0 L325.7 587.6 L326.1 586.7 L326.5 582.8 L326.9 579.7 L327.3 586.1 L327.7 582.8 L328.1 590.1 L328.5 581.3 L328.9 585.2 L329.3 591.9 L329.7 587.7 L330.1 590.3 L330.5 589.5 L330.9 585.4 L331.3 589.0 L331.7 583.2 L332.1 584.3 L332.5 591.4 L332.9 583.7 L333.3 585.2 L333.7 580.6 L334.1 588.0 L334.5 580.9 L334.9 581.3 L335.3 581.7 L335.7 580.5 L336.1 578.9 L336.5 582.3 L336.9 581.6 L337.3 583.1 L337.7 580.7 L338.1 581.4 L338.5 583.6 L338.9 585.0 L339.3 582.5 L339.7 585.6 L340.1 585.4 L340.5 589.8 L340.9 588.9 L341.3 588.5 L341.7 589.8 L342.1 584.5 L342.5 590.5 L342.9 586.7 L343.3 584.4 L343.7 586.9 L344.1 582.2 L344.5 590.8 L344.9 585.9 L345.3 580.3 L345.7 581.3 L346.1 583.0 L346.5 582.7 L346.9 585.7 L347.3 586.9 L347.7 587.1 L348.1 585.5 L348.5 580.7 L348.9 587.0 L349.3 587.1 L349.7 577.1 L350.1 581.5 L350.5 582.1 L350.9 580.9 L351.3 585.8 L351.7 584.3 L352.1 583.2 L352.5 579.7 L352.9 577.4 L353.3 580.5 L353.7 580.8 L354.1 580.6 L354.5 577.3 L354.9 578.8 L355.3 581.8 L355.7 583.9 L356.1 581.5 L356.5 582.3 L356.9 582.8 L357.3 582.8 L357.7 586.2 L358.1 580.8 L358.5 583.5 L358.9 579.4 L359.3 586.2 L359.7 585.0 L360.1 585.7 L360.5 583.3 L360.9 582.6 L361.3 579.4 L361.7 583.7 L362.1 586.6 L362.5 575.3 L362.9 587.6 L363.3 580.6 L363.7 584.1 L364.1 580.6 L364.5 582.3 L364.9 585.0 L365.3 582.2 L365.7 587.6 L366.1 582.8 L366.5 584.4 L366.9 581.0 L367.3 581.3 L367.7 581.5 L368.1 584.0 L368.5 587.1 L368.9 582.6 L369.3 579.0 L369.7 580.8 L370.1 578.8 L370.5 583.8 L370.9 582.5 L371.3 579.5 L371.7 581.4 L372.1 585.0 L372.5 583.6 L372.9 580.8 L373.3 584.4 L373.7 583.4 L374.1 580.8 L374.5 582.8 L374.9 587.4 L375.3 579.2 L375.7 585.0 L376.1 581.8 L376.5 583.9 L376.9 583.2 L377.3 582.9 L377.7 581.7 L378.1 582.1 L378.5 583.9 L378.9 583.3 L379.3 578.0 L379.7 583.3 L380.1 585.6 L380.5 584.4 L380.9 582.6 L381.3 577.0 L381.7 583.6 L382.1 583.8 L382.5 586.0 L382.9 579.4 L383.3 581.4 L383.7 580.6 L384.1 581.3 L384.5 577.3 L384.9 580.7 L385.3 580.8 L385.7 581.0 L386.1 586.3 L386.5 580.3 L386.9 580.8 L387.3 585.0 L387.7 580.4 L388.1 585.3 L388.5 583.2 L388.9 580.3 L389.3 580.0 L389.7 582.3 L390.1 581.4 L390.5 582.2 L390.9 580.4 L391.3 583.6 L391.7 580.1 L392.1 580.9 L392.5 581.6 L392.9 579.2 L393.3 581.3 L393.7 581.6 L394.1 578.8 L394.5 578.0 L394.9 584.9 L395.3 581.5 L395.7 581.8 L396.1 580.7 L396.5 585.7 L396.9 581.7 L397.3 578.1 L397.7 583.3 L398.1 580.0 L398.5 583.2 L398.9 581.9 L399.3 585.1 L399.7 583.3 L400.1 581.4 L400.5 585.5 L400.9 588.4 L401.3 581.1 L401.7 584.8 L402.1 583.2 L402.5 583.4 L402.9 579.6 L403.3 580.2 L403.7 585.6 L404.1 582.8 L404.5 581.2 L404.9 586.5 L405.3 585.2 L405.7 584.1 L406.1 580.3 L406.5 582.5 L406.9 585.9 L407.3 578.0 L407.7 579.0 L408.1 580.8 L408.5 584.8 L408.9 583.1 L409.3 583.7 L409.7 583.1 L410.1 582.9 L410.5 585.4 L410.9 590.9 L411.3 583.8 L411.7 585.7 L412.1 581.7 L412.5 586.4 L412.9 583.0 L413.3 583.2 L413.7 581.8 L414.1 581.1 L414.5 581.6 L414.9 580.6 L415.3 579.9 L415.7 587.1 L416.1 583.9 L416.5 585.2 L416.9 584.1 L417.3 579.7 L417.7 583.0 L418.1 580.9 L418.5 581.1 L418.9 582.7 L419.3 583.4 L419.7 583.2 L420.1 583.3 L420.5 582.4 L420.9 583.1 L421.3 585.9 L421.7 588.0 L422.1 585.5 L422.5 582.5 L422.9 583.9 L423.3 585.1 L423.7 585.2 L424.1 585.7 L424.5 585.8 L424.9 583.8 L425.3 582.3 L425.7 579.4 L426.1 585.3 L426.5 584.3 L426.9 580.9 L427.3 582.9 L427.7 581.9 L428.1 581.8 L428.5 586.8 L428.9 582.0 L429.3 588.3 L429.7 582.5 L430.1 581.1 L430.5 583.1 L430.9 588.3 L431.3 582.4 L431.7 583.9 L432.1 577.5 L432.5 584.0 L432.9 579.5 L433.3 582.4 L433.7 585.8 L434.1 582.1 L434.5 584.3 L434.9 582.1 L435.3 581.8 L435.7 583.2 L436.1 585.1 L436.5 582.8 L436.9 582.5 L437.3 580.4 L437.7 578.7 L438.1 582.8 L438.5 582.1 L438.9 583.1 L439.3 584.9 L439.7 584.4 L440.1 580.5 L440.5 583.0 L440.9 583.0 L441.3 581.8 L441.7 577.2 L442.1 580.4 L442.5 582.0 L442.9 583.9 L443.3 581.4 L443.7 578.9 L444.1 585.2 L444.5 581.9 L444.9 580.9 L445.3 583.2 L445.7 583.5 L446.1 581.7 L446.5 580.5 L446.9 580.5 L447.3 583.6 L447.7 581.4 L448.1 582.8 L448.5 577.2 L448.9 580.4 L449.3 580.6 L449.7 580.4 L450.1 577.0 L450.5 580.4 L450.9 585.0 L451.3 582.0 L451.7 580.1 L452.1 579.6 L452.5 578.1 L452.9 581.7 L453.3 579.3 L453.7 580.1 L454.1 583.1 L454.5 583.1 L454.9 582.4 L455.3 577.1 L455.7 579.6 L456.1 583.5 L456.5 578.0 L456.9 583.6 L457.3 580.6 L457.7 582.8 L458.1 579.6 L458.5 577.9 L458.9 578.2 L459.3 583.8 L459.7 579.7 L460.1 577.6 L460.5 582.2 L460.9 576.8 L461.3 579.9 L461.7 581.0 L462.1 580.9 L462.5 581.1 L462.9 579.9 L463.3 574.4 L463.7 580.6 L464.1 579.9 L464.5 579.5 L464.9 581.0 L465.3 581.7 L465.7 580.5 L466.1 583.6 L466.5 585.2 L466.9 580.9 L467.3 579.6 L467.7 577.5 L468.1 581.8 L468.5 576.5 L468.9 584.6 L469.3 583.0 L469.7 579.6 L470.1 582.5 L470.5 579.0 L470.9 578.5 L471.3 582.9 L471.7 578.9 L472.1 581.9 L472.5 581.1 L472.9 585.1 L473.3 582.3 L473.7 585.3 L474.1 583.7 L474.5 580.0 L474.9 579.2 L475.3 577.0 L475.7 581.8 L476.1 575.3 L476.5 579.7 L476.9 576.0 L477.3 580.0 L477.7 583.0 L478.1 580.8 L478.5 580.9 L478.9 580.9 L479.3 581.3 L479.7 580.1 L480.1 581.0 L480.5 580.8 L480.9 580.2 L481.3 580.1 L481.7 581.4 L482.1 581.0 L482.5 580.7 L482.9 579.9 L483.3 580.1 L483.7 579.4 L484.1 579.1 L484.5 579.8 L484.9 579.6 L485.3 579.0 L485.7 578.8 L486.1 579.6 L486.5 578.8 L486.9 577.9 L487.3 579.9 L487.7 577.4 L488.1 578.3 L488.5 577.4 L488.9 578.1 L489.3 577.5 L489.7 577.9 L490.1 577.0 L490.5 576.4 L490.9 577.5 L491.3 576.3 L491.7 576.0 L492.1 575.8 L492.5 575.4 L492.9 576.0 L493.3 576.7 L493.7 576.5 L494.1 575.7 L494.5 575.9 L494.9 575.9 L495.3 575.0 L495.7 576.2 L496.1 575.3 L496.5 574.0 L496.9 575.4 L497.3 574.4 L497.7 575.1 L498.1 575.2 L498.5 574.5 L498.9 574.8 L499.3 575.4 L499.7 573.7 L500.1 573.4 L500.5 574.6 L500.9 574.7 L501.3 576.2 L501.7 575.8 L502.1 575.6 L502.5 575.4 L502.9 574.5 L503.3 575.0 L503.7 575.8 L504.1 576.3 L504.5 576.1 L504.9 576.6 L505.3 577.1 L505.7 576.4 L506.1 576.7 L506.5 576.5 L506.9 578.0 L507.3 576.2 L507.7 577.9 L508.1 578.1 L508.5 576.6 L508.9 577.6 L509.3 578.7 L509.7 577.6 L510.1 578.0 L510.5 578.4 L510.9 579.4 L511.3 579.1 L511.7 578.4 L512.1 578.1 L512.5 577.9 L512.9 578.9 L513.3 577.3 L513.7 578.2 L514.1 578.8 L514.5 577.6 L514.9 578.0 L515.3 578.0 L515.7 578.5 L516.1 577.1 L516.5 577.8 L516.9 577.7 L517.3 577.7 L517.7 576.6 L518.1 577.7 L518.5 576.8 L518.9 577.1 L519.3 576.6 L519.7 578.2 L520.1 577.0 L520.5 578.4 L520.9 576.8 L521.3 577.2 L521.7 578.3 L522.1 577.3 L522.5 577.9 L522.9 578.5 L523.3 577.7 L523.7 577.6 L524.1 578.0 L524.5 578.9 L524.9 578.7 L525.3 579.3 L525.7 578.5 L526.1 578.5 L526.5 578.2 L526.9 578.8 L527.3 578.8 L527.7 579.2 L528.1 578.8 L528.5 579.1 L528.9 579.4 L529.3 580.3 L529.7 579.6 L530.1 579.6 L530.5 580.7 L530.9 581.0 L531.3 580.1 L531.7 580.2 L532.1 579.4 L532.5 579.6 L532.9 580.6 L533.3 581.6 L533.7 582.0 L534.1 581.5 L534.5 580.8 L534.9 581.5 L535.3 580.4 L535.7 581.3 L536.1 580.8 L536.5 581.6 L536.9 582.5 L537.3 583.1 L537.7 582.0 L538.1 582.2 L538.5 581.1 L538.9 581.8 L539.3 583.2 L539.7 583.1 L540.1 582.9 L540.5 582.6 L540.9 583.2 L541.3 582.0 L541.7 582.0 L542.1 583.7 L542.5 581.4 L542.9 582.1 L543.3 581.6 L543.7 582.6 L544.1 581.5 L544.5 581.3 L544.9 581.3 L545.3 581.9 L545.7 580.7 L546.1 580.3 L546.5 581.1 L546.9 580.8 L547.3 581.3 L547.7 580.7 L548.1 580.5 L548.5 580.9 L548.9 580.9 L549.3 581.2 L549.7 580.5 L550.1 579.3 L550.5 580.3 L550.9 580.3 L551.3 580.1 L551.7 580.4 L552.1 579.9 L552.5 580.6 L552.9 579.7 L553.3 580.6 L553.7 579.0 L554.1 578.2 L554.5 579.0 L554.9 581.2 L555.3 579.2 L555.7 579.2 L556.1 579.4 L556.5 578.9 L556.9 579.2 L557.3 579.1 L557.7 580.1 L558.1 579.6 L558.5 578.9 L558.9 579.1 L559.3 579.0 L559.7 577.9 L560.1 579.1 L560.5 578.0 L560.9 578.8 L561.3 578.3 L561.7 578.7 L562.1 579.0 L562.5 578.4 L562.9 577.7 L563.3 577.7 L563.7 578.2 L564.1 577.5 L564.5 577.5 L564.9 577.6 L565.3 577.3 L565.7 577.8 L566.1 577.2 L566.5 577.4 L566.9 576.8 L567.3 576.2 L567.7 577.6 L568.1 577.7 L568.5 576.7 L568.9 577.4 L569.3 577.1 L569.7 576.1 L570.1 577.5 L570.5 575.6 L570.9 576.7 L571.3 577.2 L571.7 576.0 L572.1 577.7 L572.5 576.3 L572.9 577.4 L573.3 576.6 L573.7 577.1 L574.1 576.6 L574.5 578.1 L574.9 576.9 L575.3 577.2 L575.7 577.0 L576.1 576.7 L576.5 576.4 L576.9 576.8 L577.3 577.2 L577.7 577.1 L578.1 576.9 L578.5 576.5 L578.9 576.9 L579.3 575.9 L579.7 576.5 L580.1 575.3 L580.5 576.1 L580.9 576.5 L581.3 575.8 L581.7 576.0 L582.1 577.3 L582.5 577.1 L582.9 577.4 L583.3 577.5 L583.7 577.3 L584.1 577.4 L584.5 577.1 L584.9 577.8 L585.3 576.1" fill="none" stroke="#1414ff" stroke-width="1.0" stroke-linejoin="round"/>
<line x1="96.5" y1="556.6" x2="114.5" y2="556.6" stroke="#1414ff" stroke-width="1.1"/>
<line x1="96.5" y1="573.6" x2="114.5" y2="573.6" stroke="#ff1a1a" stroke-width="1.1"/>
<text transform="translate(119.4 563.4)" font-size="15.0" fill="#000" text-anchor="start" >SM 1</text>
<text transform="translate(119.4 579.8)" font-size="15.0" fill="#000" text-anchor="start" >SM 2</text>
<line x1="304.3" y1="429.7" x2="304.3" y2="611" stroke="#000" stroke-width="2.4" stroke-dasharray="8.4 7.4"/>
<line x1="319.8" y1="428.2" x2="319.8" y2="611" stroke="#000" stroke-width="2.4" stroke-dasharray="8.4 7.4"/>
<line x1="391.8" y1="429.7" x2="391.8" y2="611" stroke="#000" stroke-width="2.4" stroke-dasharray="8.4 7.4"/>
<text transform="translate(288 606.4)" font-size="15" fill="#000" text-anchor="start" >A</text>
<text transform="translate(324.8 606.4)" font-size="15" fill="#000" text-anchor="start" >B</text>
<text transform="translate(396.7 561)" font-size="15" fill="#000" text-anchor="start" >C</text>
<text transform="translate(61.7 408)" font-size="17.3" fill="#000" text-anchor="start" >(b)</text>
<text transform="translate(60 519.5)" font-size="17.3" fill="#000" text-anchor="start" >(c)</text>
<text transform="translate(72.5 455.5) rotate(-90)" font-size="15.7" fill="#000" text-anchor="middle" >Energy (a.u.)</text>
<text transform="translate(72.5 582) rotate(-90)" font-size="15.4" fill="#000" text-anchor="middle" >Peak power (a.u.)</text>
<text transform="translate(96.3 628.6)" font-size="14.65" fill="#000" text-anchor="middle" >0</text>
<text transform="translate(255.2 628.6)" font-size="14.65" fill="#000" text-anchor="middle" >1</text>
<text transform="translate(415.1 628.6)" font-size="14.65" fill="#000" text-anchor="middle" >2</text>
<text transform="translate(574.5 628.6)" font-size="14.65" fill="#000" text-anchor="middle" >3</text>
<text transform="translate(330 652.5)" font-size="15.9" fill="#000" text-anchor="middle" >Round trips (×10<tspan font-size="9.5" dy="-5.5">3</tspan><tspan dy="5.5">)</tspan></text>
<g transform="translate(663 35) scale(1.0036 1)" shape-rendering="crispEdges" fill="none" stroke-width="1">
<rect x="0" y="0" width="138" height="273" fill="#30123b" stroke="none"/>
<path stroke="#351e58" d="M0.5 226v47m1 -48v4m1 -5v4m1 -4v4m1 -4v5m1 -5v49m1 -161v71m0 43v47m1 -223v85m0 3v70m1 -208v74m0 92v43m0 1v2m0 3v1m0 2v1m0 4v2m1 -225v8m0 196v9m0 2v10m1 -19v22m1 -19v1m0 2v3m0 6v2m0 2v4m1 -3v3m1 -2v3m1 -2v45m1 -44v44m1 -15v15m16 -4v4m1 -43v43m1 -44v44m1 -45v31m1 -31v2m1 -2v2m1 -2v2m1 -2v2m1 -2v2m1 -2v2m1 -2v2m1 -2v2m1 -2v2m1 -2v2m1 -2v2m1 -2v45m1 -45v45m1 -44v44m1 -43v43m9 -43v43m1 -43v43m1 -43v43m1 -37v37m16 -35v35m1 -43v43m1 -44v44m1 -44v44m1 -44v2m1 -3v2m1 -2v2m1 -2v2m1 -2v2m1 -2v2m1 -2v2m1 -2v2m1 -2v2m1 -2v2m1 -2v3m1 -2v44m1 -43v43m9 -43v43m1 -45v45m1 -45v3m1 -3v2m1 -2v2m1 -3v3m1 -3v3m1 -2v45m5 -46v46m1 -47v3m1 -4v4m1 -16v1m0 11v4m1 -20v1m0 2v3m0 6v2m0 2v3m1 -19v1m0 2v16m1 -20v20m1 -228v123m0 85v20m1 -228v135m0 72v20m1 -227v145m0 61v20m1 -226v157m0 48v8m0 1v11m1 -225v209m0 1v2m0 3v6m0 2v2m1 -225v209m0 1v2m0 11v1m1 -224v208m1 -66v66m1 -57v56m1 -49v48m0 22v45m1 -100v31m0 21v48m1 -49v3m1 -3v3m1 -3v3m1 -1v47m1 -44v44"/>
<path stroke="#392a73" d="M1.5 229v44m1 -45v45m1 -45v45m1 -44v44m3 -138v3m1 -64v92m1 -158v91m0 30v75m1 -204v32m0 105v69m1 -52v55m0 1v2m0 3v6m0 2v2m1 -17v18m1 -13v1m0 11v2m1 -1v2m1 -1v2m1 -1v30m1 -16v31m13 -1v1m1 -42v42m1 -45v41m1 -41v2m1 -3v2m1 -2v1m1 -1v1m1 -1v1m1 -1v1m1 -1v1m1 -1v1m1 -1v1m1 -1v1m1 -1v1m1 -1v1m1 -1v1m1 -1v1m1 -1v1m1 -1v1m1 -1v2m1 -1v2m1 -2v45m1 -45v45m1 -44v44m1 -44v44m1 -44v44m1 -44v44m1 -44v44m1 -45v45m1 -45v2m1 -2v2m1 -1v1m1 0v6m13 26v11m1 -42v42m1 -44v44m1 -45v10m1 -10v2m1 -2v1m1 -1v1m1 -1v1m2 -2v1m1 -1v1m1 -1v1m1 -1v1m1 -1v1m1 -1v1m1 -1v1m1 -1v1m1 -1v1m1 -1v2m1 -1v2m1 0v43m7 -43v43m1 -46v3m1 -3v1m1 -2v2m1 -2v2m1 -2v2m1 -2v1m1 -2v2m1 -1v2m2 -15v2m1 -6v1m0 2v3m0 6v2m1 -14v1m0 2v3m0 1v2m0 1v4m1 -15v19m1 -19v18m1 -18v17m1 -17v5m0 1v11m1 -18v2m0 1v2m0 3v6m0 2v2m1 -225v139m0 68v2m0 1v2m1 -212v152m0 54v2m1 -85v39m0 43v3m1 -73v43m0 26v3m1 -62v61m1 -49v48m8 22v46m1 -46v2m1 -2v46"/>
<path stroke="#3d358b" d="M9.5 99v30m1 -97v105m1 -137v154m1 -154v208m1 -81v86m0 1v11m1 -225v174m0 30v1m0 3v2m0 2v3m0 1v2m0 1v4m0 1v2m1 -226v156m0 57v1m0 11v2m1 -110v14m0 95v2m1 -1v15m1 -242v140m0 106v27m1 -273v133m2 -133v104m1 -104v52m5 219v2m1 -14v14m1 -32v32m1 -45v44m1 -45v4m1 -4v1m1 -2v2m1 -2v1m1 -1v1m1 -1v1m1 -1v1m1 -1v1m1 -1v1m1 -1v1m1 -1v1m1 -1v1m1 -1v1m1 -1v1m1 -1v1m1 -1v1m1 -1v1m1 -1v1m1 -1v1m1 -1v2m1 -2v2m1 -1v1m1 -1v2m1 -2v2m1 -2v2m1 -2v2m1 -2v2m1 -2v1m1 -1v1m1 -1v1m1 0v1m1 0v1m1 22v21m5 -19v19m1 -38v38m1 -30v30m1 -22v22m1 -22v22m1 -30v30m1 -43v43m1 -44v33m1 -34v3m1 -3v1m1 -2v1m1 -1v1m1 -1v1m1 -1v1m1 -1v1m1 -2v2m1 -2v1m1 -1v1m1 -1v1m1 -1v1m1 -1v1m1 -1v1m1 -1v1m1 -1v1m1 -1v1m1 -1v1m1 -1v2m1 -1v3m1 3v40m5 -40v40m1 -46v3m1 -4v1m1 -2v2m1 -14v1m0 11v1m1 -13v2m0 6v2m0 2v1m1 -17v1m0 2v3m0 6v2m0 2v1m1 -17v1m0 2v3m0 1v2m0 1v4m0 1v2m1 -17v1m0 2v13m1 -17v18m1 -18v65m1 -65v5m0 2v9m1 -16v1m0 1v2m0 3v6m0 2v1m1 -16v1m0 1v2m0 3v1m0 2v1m0 4v50m1 -66v1m1 -1v1m1 -2v2m1 -2v2m1 -208v155m0 50v2m1 -68v35m0 30v3m1 -55v54m1 -44v43m1 -27v26m11 25v44"/>
<path stroke="#4040a2" d="M13.5 0v127m1 47v30m0 1v3m0 2v2m0 3v1m0 2v1m0 4v1m1 -68v57m0 1v11m1 -225v117m0 14v75m0 2v2m0 2v3m0 1v2m0 1v4m0 2v1m1 -226v166m0 42v2m0 2v3m0 1v2m0 1v4m0 2v2m1 -87v22m0 46v2m0 2v3m0 1v2m0 1v4m0 3v20m1 -113v22m0 53v2m0 2v3m0 2v1m0 1v1m0 1v2m0 28v22m1 -273v146m0 62v2m0 2v3m0 4v1m0 1v2m1 -119v31m0 73v2m0 2v3m0 6v2m1 -171v51m0 106v1m0 2v3m0 6v2m1 -223v38m0 171v1m0 2v3m0 6v2m1 -14v1m0 2v3m0 6v2m1 -14v1m0 2v3m0 6v2m0 38v12m1 -64v1m0 3v2m0 6v2m0 20v30m1 -60v2m0 6v2m0 6v42m1 -58v2m0 6v1m0 6v31m1 -46v2m0 6v1m0 5v14m1 -28v2m0 6v1m0 4v2m1 -15v2m0 6v1m0 3v2m1 -14v2m0 6v1m0 3v2m1 -14v2m0 6v2m0 2v1m1 -13v2m0 6v2m0 2v1m1 -13v2m0 6v2m0 2v1m1 -13v2m0 6v2m0 2v1m1 -13v2m0 6v2m0 2v1m1 -13v2m0 6v2m0 2v1m1 -17v1m0 3v2m0 6v2m0 2v1m1 -17v1m0 2v3m0 6v2m0 2v1m1 -17v1m0 2v3m0 6v2m0 2v1m1 -17v1m0 2v3m0 6v2m0 2v1m1 -17v1m0 2v3m0 6v2m0 2v1m1 -17v1m0 2v3m0 6v2m0 2v1m1 -17v1m0 2v3m0 6v2m0 2v1m1 -17v1m0 2v3m0 6v2m0 2v1m1 -17v1m0 2v3m0 6v2m0 2v1m1 -17v1m0 2v3m0 6v2m0 2v1m1 -17v1m0 2v3m0 6v2m0 2v1m1 -17v1m0 2v3m0 6v2m0 2v1m1 -13v2m0 6v1m0 3v1m1 -13v1m0 11v2m1 -2v2m1 -1v1m1 -1v1m1 -1v1m1 -1v1m1 -1v1m1 -1v1m1 -1v1m1 0v1m1 0v1m1 6v17m5 -20v22m1 -24v5m1 -6v14m1 -14v22m1 -22v22m1 -23v15m1 -15v2m1 -2v1m1 -2v1m1 -1v1m1 -2v1m1 -1v1m1 -1v1m1 -1v1m1 -1v1m3 -2v1m1 -1v1m1 -1v1m1 -1v1m1 -1v1m1 -1v1m1 -1v1m1 -1v1m1 -13v1m0 11v1m1 -13v1m0 11v1m1 -13v1m0 11v2m1 -14v2m0 6v1m0 4v7m1 -20v2m0 6v2m0 15v35m1 -64v1m0 2v3m0 6v2m0 39v11m1 -64v1m0 2v3m0 6v2m0 39v11m1 -64v1m0 2v3m0 2v1m0 1v1m0 1v2m0 15v35m1 -64v1m0 2v3m0 1v2m0 1v4m0 2v8m1 -24v1m0 2v3m0 1v2m0 1v4m0 2v2m1 -18v1m0 2v14m1 -18v2m0 2v13m1 -17v5m0 1v11m1 -17v5m0 2v6m0 2v2m1 -17v1m0 1v2m0 3v6m0 2v2m1 -17v1m0 1v2m0 3v1m0 2v1m0 4v1m1 -16v1m0 1v2m2 -5v1m1 -1v1m0 16v1m1 -18v1m0 16v2m1 -20v2m1 -208v136m0 70v1m1 -207v153m0 52v2m1 -207v164m0 40v2m1 -206v178m0 25v3m1 -51v50m1 -31v30"/>
<path stroke="#424bb5" d="M16.5 206v2m0 2v2m0 3v1m0 2v1m0 4v2m1 -59v42m0 2v2m0 3v1m0 2v1m0 4v2m1 -63v46m0 2v2m0 3v1m0 2v1m0 4v3m1 -71v28m0 20v5m0 2v2m0 3v2m0 1v1m0 1v1m0 2v28m1 -105v18m0 43v1m0 2v2m0 3v4m0 1v1m0 2v1m0 1v1m0 23v24m1 -138v21m0 51v1m0 2v2m0 3v6m0 2v1m0 42v7m1 -170v33m0 72v1m0 1v2m0 3v6m0 2v1m0 45v4m1 -235v53m0 117v1m0 1v2m0 3v6m0 2v1m0 38v11m1 -273v25m0 183v1m0 1v2m0 3v6m0 2v1m0 1v1m0 20v27m1 -65v1m0 1v2m0 3v6m0 2v1m0 1v36m1 -53v1m0 1v3m0 2v6m0 2v1m0 1v18m1 -35v5m0 2v6m0 2v1m0 1v4m1 -21v5m0 2v6m0 1v6m1 -20v5m0 2v6m0 1v5m1 -19v5m0 2v6m0 1v4m1 -18v5m0 2v6m0 1v3m1 -17v5m0 2v6m0 1v3m1 -17v5m0 2v6m0 2v2m1 -17v5m0 2v6m0 2v2m1 -17v5m0 2v6m0 2v2m1 -17v5m0 2v6m0 2v2m1 -17v5m0 2v6m0 2v2m1 -17v5m0 2v6m0 2v2m1 -17v1m0 1v3m0 2v6m0 2v2m1 -17v1m0 1v2m0 3v6m0 2v2m1 -17v1m0 1v2m0 3v6m0 2v2m1 -17v1m0 1v2m0 3v6m0 2v2m1 -17v1m0 1v2m0 3v6m0 2v2m1 -17v1m0 1v2m0 3v6m0 2v2m1 -17v1m0 1v2m0 3v6m0 2v2m1 -17v1m0 1v2m0 3v6m0 2v2m1 -17v1m0 1v2m0 3v6m0 2v2m1 -17v1m0 1v2m0 3v6m0 2v2m1 -17v1m0 1v2m0 3v6m0 2v2m1 -17v1m0 1v2m0 3v6m0 2v2m1 -17v5m0 2v6m0 1v3m1 -17v2m0 2v1m0 1v11m1 -16v1m0 2v3m0 1v2m0 1v4m0 1v1m1 -16v1m0 2v3m0 1v2m0 1v4m0 2v1m1 -17v1m0 2v3m0 6v2m0 2v1m1 -17v1m0 2v3m0 6v2m0 2v1m1 -13v2m0 6v2m0 2v1m1 -13v1m0 11v1m1 -13v1m0 11v1m2 0v1m2 4v4m4 34v4m1 -43v2m1 -4v2m1 -2v1m1 -1v1m1 -1v1m1 -2v1m1 -1v1m1 -2v2m1 -2v1m1 -1v1m1 -2v1m1 -1v1m1 -1v1m1 -1v1m1 -1v1m1 -1v1m1 -13v1m0 11v1m1 -13v2m0 6v2m1 -10v2m0 6v2m1 -10v2m0 6v2m1 -10v2m0 6v2m0 1v1m1 -13v3m0 4v1m0 1v2m0 1v1m1 -13v3m0 1v2m0 1v4m0 1v1m1 -16v1m0 2v3m0 1v2m0 1v4m0 1v1m1 -16v1m0 2v3m0 1v2m0 1v6m1 -16v1m0 2v1m0 1v11m1 -16v1m0 2v1m0 1v11m1 -16v2m0 1v1m0 1v11m1 -16v4m0 2v6m0 1v4m1 -18v5m0 2v6m0 2v1m0 1v13m1 -30v1m0 1v2m0 3v6m0 2v1m0 1v37m1 -54v1m0 1v2m0 3v6m0 2v39m1 -54v1m0 1v2m0 3v2m0 1v1m0 1v1m0 2v15m1 -30v1m0 1v2m0 3v1m0 2v1m0 4v2m1 -17v1m0 1v2m0 3v1m0 2v1m0 4v2m1 -17v1m0 1v2m1 -2v2m3 -5v1m1 -1v1m1 -1v1m1 -2v2m1 -2v1m1 -1v1m0 18v2m1 -22v2m0 19v1m1 -227v159m0 45v2m1 -70v70m1 -53v52m1 -41v40m1 -26v25"/>
<path stroke="#4456c7" d="M19.5 183v20m1 -39v43m0 17v1m0 1v23m1 -93v51m0 17v5m0 9v28m1 -130v72m0 16v5m0 13v27m1 -178v117m0 16v6m0 3v29m1 -237v146m0 32v5m0 16v1m0 1v20m1 -246v40m0 165v3m0 16v1m1 -20v3m0 16v1m1 -20v3m0 16v1m1 -19v2m1 -1v1m1 -1v1m1 -1v1m1 -1v1m1 -1v1m1 -1v1m1 -1v1m1 -1v1m1 -1v1m1 -1v1m1 -1v1m2 -1v1m1 -1v1m4 -1v1m6 2v2m1 -4v1m0 1v2m0 3v1m0 2v1m0 4v1m1 -16v1m0 1v2m0 3v1m0 2v1m0 4v2m1 -17v1m0 1v2m0 3v6m0 2v2m1 -17v1m0 1v2m0 3v6m0 2v2m1 -17v2m0 2v1m0 2v6m0 2v2m1 -16v1m0 2v1m0 1v4m0 1v6m1 -13v1m0 1v1m0 1v2m0 1v4m0 1v1m1 -12v2m0 6v2m0 2v1m2 1v1m1 2v1m4 23v15m1 -40v1m2 -3v1m1 -1v1m1 -2v2m1 -2v1m1 -2v2m1 -6v2m0 2v1m1 -5v2m0 2v1m1 -5v2m0 2v1m1 -5v2m1 -2v2m1 -4v4m0 1v1m1 -6v4m0 1v1m1 -12v2m0 1v2m0 1v6m1 -12v5m0 1v6m1 -13v1m0 1v11m1 -13v1m0 2v6m0 2v2m1 -13v1m0 2v6m0 2v2m1 -13v1m0 2v6m0 2v2m1 -13v1m0 2v6m0 2v1m1 -15v1m0 5v4m0 1v1m0 2v1m1 -15v3m0 3v1m0 2v1m0 4v1m1 -16v1m0 1v2m0 3v1m0 2v1m0 4v1m1 -16v1m0 1v2m0 3v1m0 2v1m1 -11v1m0 1v2m1 -4v1m0 1v2m1 -4v1m0 2v1m1 -4v1m1 15v1m1 -1v1m4 -18v1m1 -1v1m1 -1v1m1 -1v1m1 -1v1m1 -2v1m1 -1v1m1 -2v2m1 -2v1m1 -1v1m1 -1v1m0 21v1m1 -228v205m0 22v1m1 -69v45"/>
<path stroke="#4661d6" d="M21.5 229v9m1 -9v13m1 -12v3m1 -62v32m1 -163v165m1 -205v26m0 108v71m1 -172v172m1 -205v57m0 106v43m1 -1v2m1 -155v112m0 40v3m1 -150v85m0 62v3m1 -207v27m0 178v2m1 -207v71m0 46v38m0 49v3m1 -207v35m0 71v46m0 53v2m1 -2v2m1 -187v98m0 87v2m1 -207v141m0 64v2m1 -91v18m0 71v2m1 -2v2m1 -207v59m0 147v2m1 -2v1m1 -1v1m1 -1v2m1 -2v2m1 -2v2m1 -2v1m1 -1v2m1 -2v2m1 -2v2m1 -1v1m1 -1v1m1 -1v1m1 -1v1m1 -1v1m3 2v2m1 -4v1m0 1v2m0 6v1m1 -4v1m0 2v1m0 4v1m1 -12v1m0 2v6m0 2v2m1 -4v2m0 2v1m1 0v1m1 2v1m1 40v3m3 -30v11m1 -26v1m1 -2v1m1 -2v1m1 -1v1m1 -6v2m0 2v1m1 -5v2m0 2v1m1 -7v4m1 -4v2m0 2v2m1 -6v2m0 2v2m1 -6v2m0 2v2m1 -7v3m0 2v2m1 -8v4m0 2v2m1 -9v3m0 4v1m1 -11v2m0 1v3m0 4v1m1 -12v1m0 2v1m0 2v1m1 -7v1m0 5v1m4 -8v1m1 -3v1m0 1v1m1 -2v2m1 -4v1m8 -2v1m1 -1v1m1 -1v1m1 -1v1m1 -2v1m1 -1v1m1 -1v1m1 -1v1m1 -2v2m1 -2v1m1 -2v2m1 -206v158m0 46v1m1 -205v205m1 -205v205m1 -68v68m0 23v2m1 -2v2"/>
<path stroke="#466be3" d="M26.5 26v108m1 -134v33m1 24v19m0 53v34m1 -163v8m0 101v96m1 -170v17m0 112v40m1 -166v19m0 85v62m1 -177v22m0 43v113m1 -134v46m0 38v49m1 -169v71m0 46v53m1 -84v84m1 -205v20m0 98v87m1 -64v64m1 -112v23m0 18v71m1 -65v35m0 29v1m1 -146v49m0 97v1m1 -206v50m0 154v2m1 -2v2m1 -148v71m0 76v1m1 -206v80m0 125v1m1 -1v1m1 -1v1m1 -1v1m1 -1v1m1 -1v1m1 -1v2m1 -1v1m1 -2v2m1 -1v1m1 -1v1m1 -1v2m1 -1v1m1 -1v1m1 -1v1m1 0v4m2 1v2m0 1v5m0 3v1m1 0v1m1 2v1m1 31v10m3 -36v9m1 -16v1m1 -2v1m1 -6v2m0 2v1m1 -7v1m0 1v2m0 2v1m1 -7v2m0 3v1m1 -6v2m0 2v2m1 -7v1m0 4v2m1 -8v2m1 -2v2m1 -2v2m1 -2v1m1 -2v1m1 -4v3m1 -4v1m0 2v1m4 -5v1m1 -1v1m2 -2v1m1 -3v1m5 -2v1m1 -1v1m1 -1v1m1 -1v1m2 -2v1m1 -1v1m1 -1v1m1 -2v1m1 -1v1m1 -1v1m1 -2v2m1 -2v1m1 -43v43m1 -205v204m1 -46v46m3 -103v36m0 93v43m1 -43v43"/>
<path stroke="#4776ee" d="M28.5 76v53m1 -121v17m0 59v25m1 -87v13m1 -35v38m1 11v43m3 -92v121m3 -41v13m1 -87v63m0 54v17m0 35v29m1 -96v26m0 9v62m1 -155v16m0 56v82m1 -46v46m1 -169v23m0 71v54m0 20v2m1 -125v34m0 17v74m1 -185v23m0 63v99m1 -146v146m1 -156v156m1 -205v30m0 174v1m1 -205v36m0 102v67m1 -80v36m0 43v1m1 -1v2m1 -206v106m0 98v1m1 -156v89m0 67v1m1 -1v1m1 -1v1m1 -1v2m1 -2v2m1 -1v1m1 -1v2m1 3v1m1 0v1m0 2v1m0 7v1m1 -5v4m2 28v9m3 -29v3m2 -13v2m0 2v1m1 -7v2m1 -1v1m0 2v2m1 -7v1m0 4v1m1 -7v2m1 -2v1m3 -2v1m1 -1v1m1 -4v3m1 -4v1m4 -2v1m2 -2v1m1 -2v2m1 -3v1m3 -2v1m1 -1v1m1 -1v1m3 -2v1m1 -1v1m1 -1v1m1 -2v1m1 -1v1m1 -1v1m1 -2v1m1 -1v1m1 -74v74m1 -205v204m1 -116v116m1 -204v162m5 -162v101"/>
<path stroke="#4680f6" d="M29.5 25v19m0 18v22m1 -82v20m8 -22v19m0 42v19m1 -80v6m0 63v17m0 24v13m1 11v9m1 -77v19m0 15v22m1 -20v9m0 26v21m1 -158v35m0 148v20m1 -89v17m1 -131v20m0 23v63m1 -106v59m1 -59v3m0 25v21m1 -19v19m0 31v124m1 -168v102m1 -35v22m0 36v43m1 -186v45m0 102v39m1 -98v98m1 -204v49m0 89v67m1 -120v64m0 40v16m1 -53v53m1 -205v177m0 26v2m1 -205v163m0 41v1m1 -205v37m0 167v2m1 -1v1m1 -1v2m2 9v3m0 4v2m1 2v1m1 17v6m2 16v6m1 -43v1m1 -5v1m1 -8v2m0 3v1m1 -8v2m0 4v2m1 -8v2m1 -2v1m3 -2v1m1 -1v1m2 -4v3m1 -4v1m3 -2v1m1 -1v1m3 -3v1m1 -2v1m2 -2v1m1 -1v1m4 -2v1m1 -1v1m2 -2v1m1 -1v1m1 -2v1m1 -2v2m1 -32v32m1 -52v51m1 -204v204m1 -204v131m2 -131v88"/>
<path stroke="#458afc" d="M29.5 44v18m1 -62v2m8 17v42m1 25v24m2 -25v15m1 -100v20m0 55v27m0 9v26m5 -134v25m1 21v31m2 10v13m1 -103v18m0 45v19m0 53v30m3 -107v27m0 64v40m1 -189v62m0 61v29m1 25v26m1 -40v41m1 -167v40m0 42v85m1 -99v100m1 -188v188m0 2v4m1 -211v56m0 86v65m1 -2v1m0 6v4m1 -132v55m0 87v1m1 -134v56m0 90v6m1 26v2m1 -13v7m1 -38v1m1 -11v4m0 2v1m1 -9v2m0 4v1m3 -8v1m1 -1v1m1 -1v1m3 -4v3m1 -4v1m3 -2v1m4 -2v1m1 -3v1m2 -2v1m3 -2v1m1 -1v1m1 -1v1m2 -2v1m1 -1v1m2 -2v1m1 -77v76m1 -204v203m1 -83v53m1 -78v58"/>
<path stroke="#4294ff" d="M42.5 20v55m8 -75v4m0 73v13m1 -8v53m3 -135v58m1 4v61m3 -46v42m1 -119v17m0 49v39m1 -105v17m1 39v24m0 33v29m0 69v1m1 -212v2m0 164v39m1 -151v30m0 55v67m0 13v1m0 1v1m1 -151v22m0 56v57m0 28v5m1 -114v80m0 61v5m1 -271v68m0 185v7m1 -260v129m0 99v1m1 -229v50m0 167v2m2 -3v1m1 -1v1m5 -5v4m1 -4v1m3 -2v1m4 -2v1m1 -2v1m2 -3v1m2 -2v1m1 -1v1m3 -2v1m1 -1v1m2 -206v153m0 51v1m1 -205v175m0 28v2m1 -69v68m1 -204v128m2 -128v120m1 -120v95"/>
<path stroke="#3d9efe" d="M50.5 4v73m9 -60v49m2 14v33m1 -111v14m0 125v25m0 40v1m1 -166v13m0 163v2m0 1v1m0 1v1m0 2v1m1 -169v14m0 161v2m1 -121v12m0 80v1m0 54v6m1 -198v15m0 121v2m0 42v5m1 -124v36m0 38v3m1 -156v33m0 36v42m0 43v2m0 17v2m1 -9v1m1 -148v74m1 -143v144m1 -47v41m2 -135v66m0 146v1m1 -4v4m3 -5v1m1 -1v1m4 -2v1m1 -2v1m1 -2v1m1 -2v1m2 -2v1m3 -2v1m1 -1v1m2 -2v1m1 -205v164m0 40v1m1 -52v51m1 -29v28m1 -203v136"/>
<path stroke="#37a8fa" d="M61.5 207v1m0 2v1m1 -195v11m0 90v24m0 70v1m1 -182v11m0 165v1m0 9v1m1 -176v16m0 149v1m0 23v2m1 -127v8m0 141v6m1 -177v11m0 50v60m0 39v5m1 -83v38m0 24v1m1 -145v36m0 42v43m0 12v1m1 -13v2m1 -158v21m0 74v16m0 46v1m1 -62v14m0 47v1m1 -122v13m0 41v13m0 61v1m0 2v1m1 -4v4m1 -216v3m0 66v20m0 123v3m1 -204v64m2 136v1m5 -2v1m1 -2v1m1 -2v1m1 -2v1m1 -2v1m1 -1v1m2 -2v1m1 -1v1m3 -2v1m1 -205v204m1 -40v40"/>
<path stroke="#2eb4f2" d="M61.5 208v2m1 -183v12m0 52v26m1 -98v11m0 182v4m0 7v2m1 -225v41m0 188v1m1 -133v8m0 101v1m0 42v5m1 -160v13m0 21v16m0 95v4m1 -37v1m0 10v5m0 4v1m1 -21v1m1 -207v10m0 125v69m0 2v1m0 8v1m1 -184v16m0 111v20m0 25v1m0 1v1m0 5v4m1 -58v18m0 28v1m0 1v1m0 5v4m1 -141v9m0 67v12m0 42v2m0 6v2m1 -10v2m1 -118v14m0 102v2m0 4v1m1 -212v11m0 64v14m0 116v2m0 4v1m1 -6v1m0 4v1m5 -2v1m3 -4v1m1 -2v1m3 -2v1m3 -2v1m1 -1v1m1 -205v204"/>
<path stroke="#27bee9" d="M62.5 39v52m0 116v1m1 -208v19m2 -19v47m0 42v8m0 148v4m1 -142v21m0 78v1m0 28v4m1 -17v1m2 -213v21m0 77v27m0 77v3m1 -202v19m0 147v25m1 -28v28m1 -204v5m0 62v8m0 88v16m0 25v1m0 6v1m1 -82v11m0 63v1m0 6v1m1 -109v56m0 45v1m1 -116v19m0 7v41m1 49v1m1 -206v8m0 70v61m0 67v1m1 -1v1m1 -1v1m1 -1v1m0 3v1m2 -2v1m1 -3v2m1 -3v1m3 -2v1m3 -2v1m1 -2v1m1 -62v62"/>
<path stroke="#20c7df" d="M64.5 228v1m1 -182v42m0 153v3m1 -12v2m1 -19v1m0 8v1m1 -14v4m1 -185v19m0 37v21m1 -108v13m0 198v1m1 -1v1m1 -207v8m0 45v9m0 112v25m1 -187v37m0 61v15m0 11v25m0 28v10m1 -45v45m0 3v1m1 -100v7m0 41v14m0 34v1m0 2v1m1 -101v32m0 68v1m1 -200v12m0 44v14m0 61v11m0 55v1m0 4v1m1 -211v142m0 63v1m0 4v1m1 -6v1m0 4v1m1 -4v1m1 -2v2m0 1v1m1 -4v3m1 -3v1m2 -2v1m1 -1v1m2 -2v1m1 -1v1m1 -30v29m1 -48v47m1 -203v142"/>
<path stroke="#1bd0d5" d="M62.5 208v1m0 1v1m1 -4v1m0 3v1m2 26v4m1 -11v2m1 -10v2m1 -18v1m1 -158v37m0 120v1m0 3v1m1 -5v1m1 -1v1m1 -195v16m0 13v16m0 149v1m1 -201v10m0 37v11m0 40v10m0 51v28m0 13v1m1 2v1m1 -41v34m0 6v1m1 -176v14m0 46v12m0 32v17m0 48v1m0 5v1m1 -191v17m0 9v18m0 86v9m0 48v1m1 -66v11m0 54v1m1 -208v137m0 70v1m1 -3v1m0 3v1m1 -5v1m0 2v1m3 -4v1m3 -2v1m2 -33v32m1 -45v16m1 -41v22"/>
<path stroke="#18d7ca" d="M62.5 209v1m2 -3v1m0 8v4m0 7v1m1 7v3m1 -8v1m1 -24v1m0 4v4m1 -5v1m4 -183v13m0 168v1m1 -211v7m0 58v10m0 20v10m0 105v1m3 -211v2m0 15v18m0 14v19m0 15v12m0 61v48m1 -167v9m0 113v11m0 34v1m1 -52v12m0 39v1m1 -68v15m0 52v1m0 3v2m1 -2v1m2 -4v1m1 -1v1m3 -2v1m2 -33v32m1 -44v12m1 -26v13m1 -159v134"/>
<path stroke="#18dec0" d="M64.5 212v2m0 6v2m1 -15v1m0 25v2m1 -28v1m0 21v1m4 -20v1m1 -1v1m1 -3v1m1 -134v20m0 113v1m1 -1v2m1 -2v2m1 -208v15m0 51v15m0 125v2m1 -40v34m0 4v2m1 -45v39m0 4v2m1 -58v14m1 -166v142m0 62v1m5 -1v1m2 -34v33m1 -42v10m1 -22v10m1 -29v15"/>
<path stroke="#1ae4b6" d="M63.5 208v1m0 1v1m1 3v2m0 6v1m0 3v1m1 4v2m1 -16v1m0 1v1m0 8v1m1 -18v1m2 -4v1m0 1v1m1 -3v1m1 -1v2m1 -1v1m1 -1v1m6 -44v38m1 -62v23m1 39v1m1 -1v1m1 -1v1m1 -1v1m2 -35v34m1 -42v9m1 -18v9m1 -22v10m1 -150v131"/>
<path stroke="#20eaac" d="M64.5 211v1m0 13v1m1 4v1m1 -19v1m0 3v1m0 1v1m0 1v1m2 -13v1m0 1v1m1 -2v1m1 -1v1m10 -45v39m1 -204v161m0 42v1m4 -32v32m1 -43v9m1 -16v8m1 -17v8m1 -30v17"/>
<path stroke="#2aefa1" d="M63.5 209v1m1 -2v1m0 14v2m1 -13v1m0 4v1m0 11v1m1 -17v1m0 7v1m0 5v1m1 -20v1m0 1v1m1 -2v1m13 -49v42m1 0v1m1 -21v12m0 8v1m1 -31v31m1 -41v9m1 -17v6m1 -13v6m1 -18v9m1 -145v123"/>
<path stroke="#35f394" d="M64.5 210v1m1 2v1m0 2v1m0 1v2m1 -12v1m0 2v1m0 2v2m0 6v1m1 -14v1m15 -210v203m1 -55v35m0 12v8m1 -54v24m1 -15v5m1 -12v4m1 -11v4m1 -148v136"/>
<path stroke="#43f787" d="M64.5 209v1m1 -2v1m0 2v1m0 2v1m0 5v1m0 7v1m1 -3v1m17 -227v62m0 26v60m1 -15v16m1 -7v16m1 -11v4m1 -151v100m0 2v25m0 9v8"/>
<path stroke="#52fa7a" d="M65.5 215v1m0 5v1m1 -13v2m0 14v1m17 -164v6m0 13v7m1 33v12m1 1v8m1 -81v29m0 50v7m1 -47v2m0 25v9"/>
<path stroke="#61fc6c" d="M65.5 209v2m0 11v1m0 4v1m1 -5v2m17 -157v13m1 -81v60m0 32v29m1 -51v10m0 50v4m1 -134v61m0 29v35m0 8v7"/>
<path stroke="#71fe5f" d="M65.5 226v1m19 -167v2m0 26v4m1 -27v5m0 10v5m0 40v5m1 -5v8"/>
<path stroke="#84ff51" d="M84.5 62v4m0 4v18m1 -26v3m0 20v4m0 20v16"/>
<path stroke="#92ff47" d="M65.5 223v1m0 1v1m19 -160v4m1 -70v62m0 27v20"/>
<path stroke="#9ffd3f" d="M65.5 224v1"/>
</g>
<g transform="translate(818 35) scale(1 1)" shape-rendering="crispEdges" fill="none" stroke-width="1">
<rect x="0" y="0" width="138" height="273" fill="#f2ecf5" stroke="none"/>
<path stroke="#ebe6f2" d="M0.5 214v2m0 14v2m1 -11v2m0 7v2m1 -18v2m0 5v2m0 7v2m1 -2v2m1 -18v2m0 14v2m1 -18v2m0 14v2m1 -11v2m0 7v2m1 -18v2m0 14v2m1 -18v2m0 14v2m1 -18v2m1 -2v2m0 14v2m1 -2v2m1 -18v2m0 14v2m1 -177v7m0 152v2m0 14v2m1 -232v42m0 21v1m0 25v8m0 29v81m0 14v2m0 7v2m1 -168v2m0 17v3m0 123v2m0 3v2m1 -143v6m0 131v1m0 19v2m1 -176v8m0 145v2m0 3v2m0 14v2m1 -182v14m0 145v2m0 3v2m0 5v2m0 7v2m1 -22v1m0 20v1m1 -22v1m0 19v2m1 -154v10m0 120v2m0 21v1m1 -170v6m0 4v3m0 21v28m0 90v2m0 5v2m0 8v1m2 -2v2m1 -18v2m0 14v2m1 -2v2m1 -18v2m0 14v2m1 -18v2m0 5v2m0 7v2m1 -18v2m1 -2v2m0 14v2m1 -2v2m1 -18v2m0 5v2m0 7v2m1 -2v2m1 -18v2m0 5v2m0 7v2m1 -74v48m0 8v2m0 14v2m1 -80v4m0 51v2m0 21v43m1 -121v2m0 54v1m0 5v2m0 5v2m0 7v2m1 -187v32m0 12v63m0 56v1m0 5v2m0 14v3m1 -233v24m0 17v2m0 164v2m0 5v2m0 14v43m1 -239v7m0 166v2m0 5v2m0 5v2m0 7v3m1 -182v18m0 138v1m0 6v2m0 14v43m1 -67v2m0 6v2m0 14v43m1 -66v2m0 5v2m0 14v43m1 -66v2m0 5v2m0 14v43m1 -181v13m0 67v33m0 9v2m0 14v1m0 1v41m1 -181v1m0 81v7m0 49v1m1 -204v4m0 11v7m0 43v1m0 91v5m0 25v2m0 14v43m1 -273v24m0 41v1m0 26v1m0 12v1m0 85v2m0 21v2m0 5v2m0 6v1m1 -164v3m0 21v2m0 15v2m0 86v2m0 17v2m0 13v1m1 -159v17m0 29v38m0 44v2m0 13v2m0 13v1m1 -72v7m0 37v2m0 22v1m0 2v1m1 -60v6m0 30v1m0 19v4m1 -49v5m0 22v1m0 5v2m0 9v4m1 -39v2m0 18v1m0 3v2m0 5v2m0 1v2m1 -32v2m0 16v1m0 1v2m0 3v2m0 2v2m1 -27v2m0 14v2m0 2v2m0 3v1m1 -22v2m0 12v2m1 -13v1m0 10v1m1 -10v1m1 1v1m1 1v1m1 -61v5m0 57v1m1 -20v2m0 18v1m1 -5v1m0 3v1m9 -5v1m0 3v1m1 -21v2m0 18v1m1 -64v5m0 57v1m1 -3v1m1 -3v1m1 -3v1m1 -3v1m0 10v1m1 -15v2m0 11v3m1 -20v2m0 14v2m0 2v2m1 -26v2m0 16v1m0 6v6m0 11v37m1 -83v2m0 18v1m0 3v2m0 5v2m0 1v2m1 -45v5m0 22v1m0 5v2m0 5v2m0 2v4m1 -59v6m0 30v1m0 7v2m0 5v2m0 3v4m1 -72v7m0 37v2m0 17v2m0 3v1m0 2v1m1 -159v17m0 29v38m0 44v2m0 13v2m0 14v1m0 1v41m1 -207v3m0 21v2m0 15v2m0 86v2m0 17v2m1 -216v24m0 41v1m0 26v1m0 12v1m0 85v2m0 21v2m0 14v43m1 -246v4m0 11v7m0 43v1m0 91v5m0 25v2m0 14v43m1 -181v1m0 81v7m0 33v2m0 5v2m0 7v43m1 -181v13m0 67v33m0 9v2m0 14v43m1 -66v2m0 5v2m0 5v2m0 7v3m1 -26v2m0 21v43m1 -67v2m0 13v2m0 7v4m1 -183v18m0 138v1m0 6v2m0 5v2m0 7v3m1 -199v7m0 166v2m0 5v2m0 14v3m1 -233v24m0 17v2m0 164v2m0 21v43m1 -228v32m0 12v63m0 56v1m0 5v2m0 14v2m1 -80v2m0 54v1m0 5v2m0 14v2m1 -80v4m0 51v2m0 5v2m0 14v1m0 1v41m1 -115v48m0 8v2m0 5v2m0 7v2m1 -18v2m0 14v2m1 -2v2m1 -18v2m0 14v2m1 -18v2m0 14v4m1 -20v2m0 14v2m1 -18v2m0 5v2m0 7v2m1 -18v2m0 14v2m1 -18v2m0 14v2m1 -18v2m0 5v2m0 7v2m1 -18v2m0 14v2m1 -18v2m0 5v2m0 7v2m1 -18v2m0 14v2m1 -170v6m0 4v3m0 21v28m0 97v2m0 7v2m1 -154v10m0 120v2m0 11v2m0 7v2m1 -22v1m0 19v2m1 -22v1m0 3v2m1 -166v14m0 145v2m0 19v2m1 -176v8m0 145v2m0 3v2m0 5v2m0 7v2m1 -159v6m0 131v1m0 3v2m1 -152v2m0 17v3m0 123v2m0 10v2m0 7v2m1 -232v42m0 21v1m0 25v8m0 29v81m0 7v2m0 5v2m0 7v2m1 -177v7m0 152v2m0 5v2m0 7v2m1 -11v2m1 -9v2m0 5v2m1 -9v2m0 14v2m1 -18v2m0 5v2m0 7v2m1 -18v2m0 5v2m0 7v2m1 -2v2m1 -18v2m0 14v2m1 -18v2m0 15v1m1 -2v2m1 -2v2m1 -18v2m0 14v2m1 -18v2m0 5v2m1 7v2"/>
<path stroke="#e1dfed" d="M14.5 42v21m0 34v29m1 -63v1m0 22v1m0 121v1m1 -148v12m0 6v3m0 127v1m1 -160v6m0 8v1m0 143v1m1 -166v7m0 14v2m0 142v1m1 -154v10m0 144v1m1 -1v1m1 -147v2m0 11v2m0 10v2m0 116v2m1 -208v62m0 6v4m14 84v3m0 47v1m1 -53v2m0 51v1m1 -56v3m0 52v1m1 -165v2m0 161v1m1 -178v5m0 7v2m0 163v1m1 -158v2m0 18v10m0 126v2m1 -3v2m1 0v1m1 -2v2m1 -102v1m0 57v9m0 59v1m1 -127v1m0 64v4m0 57v42m1 -248v2m0 38v1m0 39v1m0 74v4m1 -118v1m0 24v1m0 14v1m0 83v1m0 39v1m1 -162v1m0 18v2m0 19v2m0 83v1m0 35v1m1 -76v2m0 40v2m0 31v1m1 -66v4m0 32v1m0 28v1m1 -55v4m0 25v1m1 -20v4m0 17v1m0 21v1m0 4v39m1 -81v2m0 15v1m0 16v3m1 -33v2m0 13v1m0 9v2m0 2v2m1 -27v1m0 12v1m0 6v3m0 1v2m1 -22v1m0 10v1m0 2v1m0 5v1m1 -19v1m0 10v1m1 -10v1m0 7v2m1 -8v1m1 1v1m1 -213v151m0 63v1m1 -22v1m0 21v2m1 -8v1m9 -1v1m0 5v1m1 -23v1m0 21v2m1 -217v151m0 63v1m1 -3v1m1 -3v1m1 -3v1m0 7v2m1 -12v1m0 10v1m1 -14v1m0 13v1m0 5v1m1 -25v1m0 12v1m0 6v6m1 -30v2m0 13v1m0 13v2m0 6v3m1 -44v2m0 15v1m0 16v3m1 -43v4m0 17v1m0 21v1m1 -54v4m0 25v1m1 -41v4m0 32v1m0 28v43m1 -118v2m0 40v2m0 32v1m1 -163v1m0 18v2m0 19v2m0 83v1m0 35v1m1 -165v1m0 24v1m0 14v1m0 83v1m1 -166v2m0 38v1m0 39v1m0 74v4m1 -79v1m0 64v4m1 -69v1m0 57v9m1 33v2m1 -1v1m1 -3v2m1 -157v2m0 18v10m0 126v2m1 -178v5m0 7v2m0 163v1m1 -164v2m0 161v1m1 -55v3m0 52v1m1 -54v2m0 51v1m1 -52v3m0 47v1m0 24v1m14 -232v62m0 6v4m1 -9v2m0 11v2m0 10v2m0 116v2m1 1v1m1 -155v10m0 144v1m1 -167v7m0 14v2m0 142v1m1 -159v6m0 8v1m0 143v1m1 -148v12m0 6v3m0 127v1m1 -147v1m0 22v1m0 121v1m1 -167v21m0 34v29"/>
<path stroke="#d8d7e9" d="M15.5 17v15m0 29v2m0 24v2m0 117v2m1 -152v5m0 21v1m0 125v1m1 -164v5m0 15v3m0 25v4m0 110v1m1 -169v4m0 23v2m0 25v41m0 72v2m1 -161v8m0 10v1m0 142v1m1 -147v3m0 143v1m1 -147v1m0 2v2m0 8v1m0 14v5m0 78v33m15 -47v47m1 -50v2m0 48v1m1 -52v4m0 46v2m1 -162v16m0 13v13m0 118v1m1 -181v4m0 14v2m0 6v10m0 144v1m1 -164v7m0 30v7m0 117v2m1 -4v3m1 1v1m1 -3v2m1 -114v1m0 14v2m0 44v2m0 4v5m1 -125v5m0 63v1m0 60v3m1 -147v2m0 41v1m0 39v1m0 71v2m1 -113v2m0 38v2m0 78v3m0 41v42m1 -203v2m0 14v2m0 23v24m0 8v10m0 40v1m0 37v1m1 -75v3m0 36v1m0 34v1m1 -63v3m0 28v1m0 30v42m1 -93v2m0 22v1m0 25v1m1 -41v1m0 15v1m0 23v4m1 -40v1m0 13v1m0 20v1m1 -32v1m0 11v1m0 16v2m1 -28v1m0 10v1m0 13v1m1 -22v1m0 8v1m0 4v2m0 1v2m0 1v1m0 9v38m1 -66v1m0 7v1m0 2v1m0 5v1m0 10v38m1 -64v1m1 1v1m0 4v2m1 -5v1m0 2v1m1 -2v2m1 -25v1m0 24v1m1 -10v1m0 6v1m9 -8v1m1 -17v1m0 24v1m1 -3v2m1 -4v1m0 2v1m0 20v36m1 -62v1m0 4v2m1 -9v1m1 -3v1m0 7v1m0 2v1m0 5v1m1 -20v1m0 8v1m0 4v2m0 2v1m0 1v1m1 -25v1m0 10v1m0 13v1m1 -29v1m0 11v1m0 16v2m0 3v1m1 -39v1m0 13v1m0 20v1m1 -40v1m0 15v1m0 23v1m0 23v19m1 -93v2m0 22v1m0 25v1m1 -62v3m0 28v1m1 -44v3m0 36v1m1 -127v2m0 14v2m0 23v24m0 8v10m0 40v1m0 37v42m1 -206v2m0 38v2m0 78v3m1 -167v2m0 41v1m0 39v1m0 71v2m1 -142v5m0 63v1m0 60v3m1 -79v1m0 14v2m0 44v2m0 4v5m1 40v2m1 0v1m1 -5v3m1 -162v7m0 30v7m0 117v2m1 -180v4m0 14v2m0 6v10m0 144v1m1 -161v16m0 13v13m0 118v1m1 -51v4m0 46v2m1 -51v2m0 48v1m1 -48v47m15 -144v1m0 2v2m0 8v1m0 14v5m0 78v33m1 -144v3m0 143v1m1 -162v8m0 10v1m0 142v1m1 -170v4m0 23v2m0 25v41m0 72v2m1 -163v5m0 15v3m0 25v4m0 110v1m1 -152v5m0 21v1m0 125v1m1 -192v15m0 29v2m0 24v2m0 117v2"/>
<path stroke="#cdd0e5" d="M15.5 0v17m0 15v29m0 28v7m0 85v25m1 -156v6m0 27v2m0 9v1m0 111v2m1 -167v4m0 23v2m0 27v73m0 35v2m1 -170v2m0 29v1m0 23v1m0 41v72m1 -165v6m0 19v1m0 25v5m0 110v1m1 -153v7m0 3v1m0 16v5m0 119v2m1 -156v10m0 5v1m0 5v2m0 20v78m16 -15v14m0 33v1m1 -47v46m1 -144v13m0 13v2m0 6v57m0 51v2m1 -205v25m0 20v6m0 10v15m0 127v2m1 -166v3m0 44v2m0 112v3m1 -132v15m0 76v39m1 2v2m1 -205v22m0 71v12m0 96v2m1 -95v1m0 37v6m0 2v4m1 -126v6m0 5v1m0 47v1m0 15v1m0 56v3m1 -167v23m0 44v1m0 23v1m0 15v1m0 68v2m1 -88v1m0 18v1m0 75v2m1 -115v14m0 49v8m0 10v1m0 38v1m0 39v41m1 -113v3m0 69v41m1 -101v2m0 25v1m1 -18v3m0 18v1m0 27v42m1 -82v1m1 3v1m1 33v1m1 -28v1m0 24v1m1 -7v1m0 4v1m0 6v2m1 -16v1m0 3v1m0 1v1m0 7v2m1 -17v1m0 5v1m1 10v38m1 -56v1m1 -1v1m1 -28v2m0 32v4m11 -38v2m0 32v4m1 -11v1m0 7v1m1 -9v1m0 16v3m2 -19v1m0 5v1m1 -6v1m0 3v1m0 1v1m1 -5v2m0 3v1m0 10v36m1 -71v1m0 24v1m1 1v3m1 -37v1m0 34v1m0 3v39m1 -82v1m0 39v23m1 -72v3m0 18v1m0 27v2m0 1v39m1 -101v2m0 25v1m1 -40v3m1 -91v14m0 49v8m0 10v1m0 38v1m1 -103v1m0 18v1m0 75v2m1 -187v23m0 44v1m0 23v1m0 15v1m0 68v2m1 -146v6m0 5v1m0 47v1m0 15v1m0 56v3m1 -59v1m0 37v6m0 2v4m1 -158v22m0 71v12m0 96v2m1 0v2m1 -134v15m0 76v39m1 -162v3m0 44v2m0 112v3m1 -203v25m0 20v6m0 10v15m0 127v2m1 -144v13m0 13v2m0 6v57m0 51v2m1 -46v46m1 -47v14m0 33v1m16 -154v10m0 5v1m0 5v2m0 20v78m1 -118v7m0 3v1m0 16v5m0 119v2m1 -167v6m0 19v1m0 25v5m0 110v1m1 -171v2m0 29v1m0 23v1m0 41v72m1 -165v4m0 23v2m0 27v73m0 35v2m1 -157v6m0 27v2m0 9v1m0 111v2m1 -208v17m0 15v29m0 28v7m0 85v25"/>
<path stroke="#bfc9e1" d="M15.5 96v85m1 -137v6m0 35v1m0 6v2m0 1v3m0 107v1m1 -168v3m0 29v4m0 18v1m0 77v35m1 -170v2m0 32v1m0 21v1m1 -54v3m0 26v1m0 22v2m0 5v51m0 57v2m1 -159v7m0 11v1m0 12v3m0 5v9m0 109v1m1 -170v16m0 16v1m0 3v1m16 99v33m2 -116v6m0 57v51m1 -127v9m0 117v1m1 -167v3m0 49v2m0 4v106m1 -131v2m0 15v3m0 31v42m1 39v2m1 -181v2m0 67v2m0 12v3m0 42v51m1 -111v1m0 18v1m0 34v2m1 -116v2m0 17v16m0 96v3m1 9v3m1 -107v1m0 19v1m0 93v2m1 -31v1m0 36v1m1 -29v2m0 30v1m1 -22v2m0 22v1m1 -14v2m0 15v1m1 -11v1m0 12v1m1 1v1m0 22v1m0 34v8m1 -74v1m0 9v1m0 20v1m0 3v39m1 -70v1m0 7v1m0 16v1m1 -23v1m0 6v1m0 13v1m0 4v1m1 -25v1m0 5v1m0 5v1m0 1v1m0 3v1m0 5v1m1 -23v1m0 4v1m0 7v1m0 1v1m1 -14v1m0 5v1m0 5v2m0 8v1m1 -21v2m0 8v3m1 -3v4m1 -40v2m0 28v1m0 9v2m0 5v38m1 -66v1m0 8v1m9 -10v1m0 8v1m0 13v1m0 3v39m1 -85v2m0 28v1m0 9v1m1 -5v1m0 1v2m1 -14v2m0 8v2m0 7v1m1 -22v1m0 5v1m0 5v2m1 -16v1m0 4v1m0 7v1m0 1v1m1 -18v1m0 11v1m0 1v1m0 3v1m0 8v38m1 -67v1m0 6v1m0 13v1m0 6v3m1 -34v1m0 7v1m0 16v1m1 -30v1m0 9v1m1 -3v1m0 23v3m1 -42v1m0 12v1m1 -21v2m0 15v1m0 30v1m1 -60v2m0 22v1m1 -36v2m0 30v1m1 -42v1m0 36v1m1 -123v1m0 19v1m0 93v2m1 -12v3m1 -146v2m0 17v16m0 96v3m1 -74v1m0 18v1m0 34v2m1 -124v2m0 67v2m0 12v3m0 42v51m1 0v2m1 -134v2m0 15v3m0 31v42m1 -126v3m0 49v2m0 4v106m1 -124v9m0 117v1m1 -114v6m0 57v51m2 -31v33m16 -169v16m0 16v1m0 3v1m1 -25v7m0 11v1m0 12v3m0 5v9m0 109v1m1 -168v3m0 26v1m0 22v2m0 5v51m0 57v2m1 -172v2m0 32v1m0 21v1m1 -54v3m0 29v4m0 18v1m0 77v35m1 -161v6m0 35v1m0 6v2m0 1v3m0 107v1m1 -110v85"/>
<path stroke="#afc1dd" d="M16.5 37v7m0 42v1m0 4v1m0 6v107m1 -169v2m0 36v4m0 13v1m1 -58v1m0 35v1m0 19v1m1 -55v2m0 30v1m0 20v1m0 58v57m1 -164v7m0 19v1m0 10v1m0 17v109m1 -205v36m0 35v1m19 13v3m0 7v107m1 -169v3m0 54v4m1 -28v3m0 20v31m1 -120v19m0 158v24m1 -177v2m0 64v1m0 17v2m0 33v7m1 -132v4m0 18v3m0 46v1m0 53v1m1 -116v2m0 14v1m0 20v1m0 24v1m0 17v1m0 37v9m0 4v2m1 -93v1m0 21v1m0 17v1m0 62v2m1 -85v1m0 21v1m0 34v7m0 29v2m1 -28v1m0 34v1m1 -26v2m0 27v1m1 -19v2m1 9v2m0 12v1m2 -6v1m0 34v34m1 -65v1m0 30v3m1 -30v1m0 24v1m0 8v35m1 -45v1m1 -8v1m0 5v1m1 -9v1m0 6v1m1 -12v1m0 7v1m0 2v1m0 6v1m1 -16v1m0 8v1m1 -10v1m0 9v1m1 -43v2m0 35v1m0 9v2m1 -29v1m9 -1v1m0 22v1m0 1v3m1 -48v2m0 35v1m1 -6v1m0 9v1m1 -11v1m0 7v2m0 4v1m1 -18v1m0 7v1m0 2v1m1 -8v1m0 6v1m1 -13v1m0 6v1m0 5v1m0 5v2m1 -7v1m0 4v1m1 -30v1m0 24v1m1 -30v1m1 -5v1m2 -10v2m0 12v1m1 -26v2m1 -13v2m0 27v1m1 -40v1m0 34v1m1 -103v1m0 21v1m0 34v7m0 29v2m1 -115v1m0 21v1m0 17v1m0 62v2m1 -145v2m0 14v1m0 20v1m0 24v1m0 17v1m0 37v9m0 4v2m1 -143v4m0 18v3m0 46v1m0 53v1m1 -120v2m0 64v1m0 17v2m0 33v7m1 -150v19m0 158v24m1 -135v3m0 20v31m1 -87v3m0 54v4m1 -9v3m0 7v107m19 -202v36m0 35v1m1 -31v7m0 19v1m0 10v1m0 17v109m1 -169v2m0 30v1m0 20v1m0 58v57m1 -171v1m0 35v1m0 19v1m1 -55v2m0 36v4m0 13v1m1 -55v7m0 42v1m0 4v1m0 6v107"/>
<path stroke="#9fbad9" d="M16.5 33v4m0 50v1m0 1v2m1 -57v2m0 42v2m0 10v1m1 -59v2m0 37v1m0 17v1m1 -56v2m0 33v1m0 17v2m1 -51v3m0 35v2m1 -9v2m19 17v1m0 4v2m1 -64v2m1 7v4m0 20v2m1 -47v3m0 43v2m0 11v7m0 57v35m1 -151v1m0 15v1m0 23v4m0 17v3m0 20v33m1 -143v18m0 4v3m0 13v2m0 3v1m0 24v1m0 19v1m0 21v1m0 31v1m1 -117v2m0 17v4m0 17v2m0 41v1m0 35v1m0 9v4m1 -50v1m0 59v2m1 -101v1m0 40v1m0 32v1m0 7v2m0 26v1m1 -25v2m0 31v1m1 -23v2m0 24v1m1 -16v2m0 17v1m1 -9v1m1 3v1m0 10v1m1 -8v1m1 3v1m1 28v1m0 3v4m1 -9v3m1 -4v1m0 2v1m1 -12v1m0 1v1m0 4v1m1 -15v2m0 4v1m0 7v1m0 4v1m1 -10v1m0 4v1m1 -6v1m1 -41v3m0 33v1m0 10v3m1 -4v1m10 -47v3m0 33v1m0 9v1m1 -7v1m1 -1v1m0 4v1m0 2v1m1 -19v2m0 4v1m0 7v1m1 -8v1m0 1v1m0 4v1m0 20v25m1 -45v1m0 3v1m1 -4v1m0 1v2m2 -32v1m1 -5v1m1 -5v1m0 10v1m1 -16v1m1 -12v2m0 17v1m1 -31v2m0 24v1m1 -38v2m0 31v1m1 -120v1m0 40v1m0 32v1m0 7v2m0 26v1m1 -72v1m0 59v2m1 -145v2m0 17v4m0 17v2m0 41v1m0 35v1m0 9v4m1 -159v18m0 4v3m0 13v2m0 3v1m0 24v1m0 19v1m0 21v1m0 31v1m1 -117v1m0 15v1m0 23v4m0 17v3m0 20v33m1 -124v3m0 43v2m0 11v7m0 57v35m1 -137v4m0 20v2m1 -35v2m1 55v1m0 4v2m19 -26v2m1 -33v3m0 35v2m1 -44v2m0 33v1m0 17v2m1 -57v2m0 37v1m0 17v1m1 -56v2m0 42v2m0 10v1m1 -58v4m0 50v1m0 1v2"/>
<path stroke="#8eb3d5" d="M16.5 11v22m0 55v1m1 -56v1m0 46v2m1 -59v9m0 40v1m0 15v1m1 -57v2m0 36v1m0 15v1m1 -51v2m0 30v1m0 6v1m20 13v4m1 -64v2m1 8v1m0 11v13m1 -42v2m0 17v3m0 7v14m0 2v11m0 7v57m1 -115v2m0 12v1m0 1v2m0 5v16m0 4v17m1 -62v13m0 6v1m0 5v18m0 1v2m0 40v1m0 10v20m1 -121v5m0 42v1m0 20v1m1 -21v1m0 19v1m0 56v8m0 12v3m1 -82v1m0 24v13m0 18v1m0 10v1m0 23v2m1 -22v2m0 27v2m1 -20v2m1 9v2m0 14v1m1 -7v1m0 9v1m1 -7v1m1 3v1m0 7v1m1 -5v1m0 5v1m1 -4v1m0 4v1m0 20v3m1 -27v1m0 4v1m1 -4v1m0 19v2m1 -20v1m0 2v1m0 6v1m0 6v1m1 -7v1m0 5v2m0 1v1m1 -13v1m1 -1v1m0 9v1m1 -50v3m0 39v1m1 -18v1m0 22v1m9 -24v1m0 22v1m1 -49v3m1 36v1m1 -1v1m0 9v2m1 -9v1m0 5v1m1 -18v1m0 2v1m0 6v1m0 6v1m0 5v14m1 -39v1m0 19v1m0 1v1m1 -25v1m0 4v1m0 17v1m1 -26v1m0 4v1m0 19v1m0 12v30m1 -71v1m0 5v1m1 -11v1m0 7v1m1 -13v1m1 -5v1m0 9v1m1 -21v2m0 14v1m1 -28v2m1 -13v2m0 27v2m1 -102v1m0 24v13m0 18v1m0 10v1m0 23v2m1 -111v1m0 19v1m0 56v8m0 12v3m1 -148v5m0 42v1m0 20v1m1 -65v13m0 6v1m0 5v18m0 1v2m0 40v1m0 10v20m1 -115v2m0 12v1m0 1v2m0 5v16m0 4v17m1 -65v2m0 17v3m0 7v14m0 2v11m0 7v57m1 -103v1m0 11v13m1 -35v2m1 58v4m20 -57v2m0 30v1m0 6v1m1 -44v2m0 36v1m0 15v1m1 -64v9m0 40v1m0 15v1m1 -56v1m0 46v2m1 -71v22m0 55v1"/>
<path stroke="#7dacd1" d="M16.5 0v11m1 20v2m0 49v2m0 5v1m1 -90v23m0 50v1m1 -45v3m0 39v1m0 13v1m1 -52v2m0 33v1m0 3v2m21 -48v2m1 8v2m0 5v1m0 5v1m1 -27v2m0 14v1m0 3v1m0 5v1m1 -22v1m0 10v1m0 4v1m0 3v1m1 -5v1m0 2v2m0 37v1m0 24v10m1 -122v21m0 48v1m0 74v1m1 0v1m0 8v1m0 9v2m1 -95v16m0 38v18m0 33v2m1 -18v2m0 24v1m1 -16v2m0 19v1m1 -11v2m1 7v1m0 7v1m1 -5v1m0 7v1m1 -5v1m4 13v1m1 15v1m0 21v22m1 -53v2m0 8v1m1 -9v1m0 6v1m1 -8v1m1 -46v3m0 40v2m1 -18v1m0 12v1m0 12v1m9 -27v1m0 12v1m1 -41v3m0 40v1m0 1v1m1 -1v1m0 6v1m1 -8v1m1 -3v2m1 7v1m0 3v1m1 -21v1m0 16v1m2 0v1m0 2v9m2 -44v1m1 -5v1m0 7v1m1 -13v1m0 7v1m1 -18v2m1 -13v2m0 19v1m1 -33v2m0 24v1m1 -116v16m0 38v18m0 33v2m1 -33v1m0 8v1m0 9v2m1 -166v21m0 48v1m0 74v1m1 -100v1m0 2v2m0 37v1m0 24v10m1 -93v1m0 10v1m0 4v1m0 3v1m1 -26v2m0 14v1m0 3v1m0 5v1m1 -14v2m0 5v1m0 5v1m1 -24v2m21 5v2m0 33v1m0 3v2m1 -46v3m0 39v1m0 13v1m1 -86v23m0 50v1m1 -43v2m0 49v2m0 5v1m1 -90v11"/>
<path stroke="#69a5cc" d="M17.5 4v27m0 53v3m0 1v1m1 -15v1m0 11v2m1 -88v29m0 43v1m0 11v1m1 -54v3m0 36v3m21 -73v20m0 5v2m1 7v3m0 8v1m0 3v1m1 -24v3m0 10v1m0 5v1m0 3v1m1 -20v2m0 7v1m0 6v3m1 -3v2m0 23v16m1 1v1m0 21v1m0 32v1m1 -56v1m0 21v1m0 33v1m0 10v1m0 5v3m1 -9v1m0 18v2m1 -14v3m0 19v2m1 -13v3m0 15v1m1 -8v3m0 8v1m1 -4v1m0 5v1m1 -3v1m0 5v1m1 2v1m1 -3v1m0 3v1m1 -2v1m0 2v1m1 -2v1m0 2v1m1 -2v1m1 1v2m0 21v16m2 -31v2m1 -2v1m0 9v1m0 18v24m1 -99v3m1 26v1m8 58v11m1 -70v1m1 -30v3m0 44v1m0 8v1m1 -11v1m1 -1v2m1 7v1m1 -18v2m0 16v3m1 -23v1m1 -3v1m0 2v1m1 -6v1m0 2v1m0 22v2m1 -31v1m0 3v1m1 -3v1m1 -10v1m0 5v1m1 -11v1m0 5v1m1 -15v3m0 8v1m1 -23v3m0 15v1m1 -30v3m0 19v2m1 -31v1m0 18v2m1 -88v1m0 21v1m0 33v1m0 10v1m0 5v3m1 -76v1m0 21v1m0 32v1m1 -98v2m0 23v16m1 -57v2m0 7v1m0 6v3m1 -23v3m0 10v1m0 5v1m0 3v1m1 -16v3m0 8v1m0 3v1m1 -50v20m0 5v2m21 4v3m0 36v3m1 -73v29m0 43v1m0 11v1m1 -11v1m0 11v2m1 -84v27m0 53v3m0 1v1"/>
<path stroke="#549cc7" d="M17.5 0v4m0 83v1m1 -13v1m0 9v1m1 -13v1m0 8v2m1 -84v31m21 -11v5m1 -25v19m0 12v3m0 12v3m1 -20v3m0 5v2m0 7v3m1 -17v2m0 4v1m2 31v1m1 -1v1m0 85v1m0 1v3m1 -5v1m0 14v3m1 -9v2m0 14v3m1 -8v2m0 12v1m1 -4v2m0 5v1m1 -2v1m0 3v1m1 -1v1m0 3v1m1 -2v2m0 2v1m1 -1v3m1 0v2m1 0v2m1 0v2m1 17v1m0 2v2m3 -14v1m0 9v1m0 2v15m1 -78v3m1 28v1m8 31v28m1 -60v1m1 -32v3m1 47v1m4 -11v2m1 -4v2m1 -4v2m1 -5v3m1 -7v2m0 2v1m1 -8v1m0 3v1m1 -9v1m0 3v1m1 -11v2m0 5v1m1 -19v2m0 12v1m1 -26v2m0 14v3m1 -28v1m0 14v3m1 -104v1m0 85v1m0 1v3m1 -91v1m2 -39v2m0 4v1m1 -10v3m0 5v2m0 7v3m1 -49v19m0 12v3m0 12v3m1 -29v5m21 -25v31m1 42v1m0 8v2m1 -9v1m0 9v1m1 -86v4m0 83v1"/>
<path stroke="#3f93c2" d="M18.5 76v1m0 7v1m1 -11v2m0 4v2m23 -63v2m0 8v2m1 1v5m1 -3v4m2 49v1m0 23v1m0 30v1m1 -56v1m0 23v1m0 31v1m0 13v1m1 -1v5m0 4v5m1 -4v4m0 8v2m1 -3v4m0 4v4m1 -1v5m1 0v3m1 1v3m1 1v2m5 27v2m2 -3v1m0 32v10m1 -41v2m1 -66v3m1 30v1m9 -1v1m1 -34v3m0 60v1m0 26v15m3 -22v22m6 -71v2m1 -6v3m1 -7v3m1 -8v5m1 -16v4m0 4v4m1 -23v4m0 8v2m1 -24v5m0 4v5m1 -84v1m0 23v1m0 31v1m0 13v1m1 -71v1m0 23v1m0 30v1m2 -109v4m1 -6v5m1 -18v2m0 8v2m23 43v2m0 4v2m1 -6v1m0 7v1"/>
<path stroke="#2c89bd" d="M18.5 77v1m0 5v1m1 -8v4m23 -59v2m0 3v3m4 83v30m1 -30v18m0 12v1m1 19v4m1 5v8m1 3v4m11 50v27m2 -99v4m1 31v2m0 26v1m0 3v1m1 -19v1m7 -1v1m1 -15v2m0 26v1m1 -64v4m0 67v23m1 -28v1m2 -1v1m0 4v16m10 -69v4m1 -15v8m1 -17v4m1 -54v18m0 12v1m1 -31v30m4 -121v2m0 3v3m23 47v4m1 -3v1m0 5v1"/>
<path stroke="#197db7" d="M18.5 78v5m24 -60v3m4 45v1m0 14v1m1 -16v1m0 14v1m0 43v12m14 89v1m0 2v2m2 -76v4m1 33v2m0 57v17m1 -61v1m7 -1v1m0 1v1m0 18v1m1 -37v2m1 -39v4m0 68v3m3 -4v1m0 2v1m13 -164v1m0 14v1m0 43v12m1 -71v1m0 14v1m4 -64v3m24 52v5"/>
<path stroke="#0872b1" d="M46.5 72v14m1 -14v14m14 146v2m2 -234v160m1 21v16m0 21v1m0 13v1m0 1v22m1 -51v7m0 2v1m7 -10v7m1 -31v16m0 21v1m1 -219v160m3 72v2m13 -162v14m1 -14v14"/>
<path stroke="#056aa6" d="M64.5 156v25m0 45v1m0 6v1m1 -38v9m1 6v3m5 -3v3m0 55v4m1 -77v9m0 10v1m1 -60v25m0 45v1m2 4v1"/>
<path stroke="#04629a" d="M64.5 0v156m1 34v6m0 19v3m0 46v9m1 -66v4m0 3v1m5 -8v4m0 3v1m0 21v33m1 -79v6m0 20v2m0 14v1m1 -233v156m2 105v12"/>
<path stroke="#045b8e" d="M64.5 224v2m1 -53v17m0 36v3m0 9v26m1 -62v5m0 8v2m5 -15v5m0 8v2m1 -44v17m0 36v3m1 -5v2m2 10v25"/>
<path stroke="#034f7d" d="M64.5 219v1m0 3v1m1 -224v173m0 45v1m0 5v2m0 8v4m1 -238v202m0 15v1m0 10v1m1 -229v214m1 -214v214m0 2v2m0 6v1m0 2v2m1 -229v214m0 2v2m0 9v2m1 -229v214m1 -214v202m0 15v1m0 10v2m0 5v1m1 -236v173m0 45v1m0 5v2m0 3v1m0 1v1m1 -13v1m0 3v1m2 8v1m0 1v2"/>
<path stroke="#03446a" d="M65.5 219v1m0 3v1m0 5v1m1 -12v1m0 6v3m1 -14v5m0 4v6m1 -15v2m0 2v3m0 2v1m0 1v2m1 -13v2m0 2v3m0 2v4m1 -13v5m0 4v6m1 -11v1m0 6v3m1 -9v1m0 3v1m3 9v1"/>
<path stroke="#023858" d="M64.5 220v3m1 -3v3m0 7v4m1 -15v6m0 4v44m1 -54v4m0 6v44m1 -52v2m0 6v44m1 -52v2m0 6v44m1 -54v4m0 6v44m1 -54v6m0 5v5m1 -15v3m0 7v1m1 -11v3"/>
</g>
<g transform="translate(663 356.3) scale(0.99638 1.0007)" shape-rendering="crispEdges" fill="none" stroke-width="1">
<rect x="0" y="0" width="138" height="273" fill="#30123b" stroke="none"/>
<path stroke="#351e58" d="M0.5 241v3m1 -3v2m1 -2v2m1 -2v2m1 -2v3m1 -2v31m1 -30v30m1 -28v28m1 -273v10m1 -10v50m1 -15v45m0 27v14m0 41v63m0 1v1m1 -165v102m0 44v2m0 2v29m1 -166v87m0 62v19m1 -158v76m0 73v10m1 -100v17m0 79v19m1 -17v31m1 -29v29m8 -9v9m1 -29v29m1 -30v30m1 -30v16m1 -16v1m1 -1v1m1 -1v1m1 -1v1m1 -1v30m5 -30v30m1 -30v1m1 -1v1m1 -1v1m1 -1v1m1 -1v1m2 0v1m1 -1v1m1 -1v1m1 -1v29m5 -28v28m1 -29v1m1 -1v1m1 -1v1m1 -1v1m1 -1v1m1 -1v1m1 0v1m1 -1v1m1 -1v2m1 -1v2m1 -2v27m16 -22v22m1 -28v28m1 -27v27m4 -28v28m1 -28v28m1 -28v28m1 -28v28m1 -28v28m1 -28v28m1 -28v28m1 -28v28m1 -28v28m1 -28v28m1 -28v28m1 -28v28m1 -28v28m1 -27v27m3 -28v28m1 -28v28m1 -28v28m1 -29v29m1 -29v29m1 -29v29m1 -29v29m1 -29v29m1 -29v29m1 -30v30m1 -30v30m1 -30v30m1 -30v30m1 -30v2m1 -2v1m1 -2v2m1 -2v2m1 -3v3m1 -4v4m1 -9v8m1 -15v15m1 -19v19m1 -243v11m0 201v30m1 -242v50m0 113v2m0 5v3m0 3v64m1 -240v76m0 31v14m0 41v72m1 -234v228m1 -228v224m1 -224v224m1 -197v74m0 46v70m1 -54v50m1 -49v27m0 1v4m0 1v5m0 1v4m1 -42v5m0 2v4"/>
<path stroke="#392a73" d="M0.5 244v29m1 -30v30m1 -30v30m1 -30v30m1 -29v29m6 -273v35m1 -12v39m0 102v44m0 2v2m1 -158v21m0 87v2m0 18v1m0 1v4m0 2v3m0 2v2m0 1v1m0 2v2m0 4v17m1 -158v19m0 76v2m0 54v2m0 1v1m0 1v12m1 -161v71m0 17v1m0 63v1m0 1v13m1 -177v98m0 70v1m0 1v9m1 -171v90m0 74v2m0 1v6m1 -91v3m0 109v8m5 -9v9m1 -29v29m1 -31v22m1 -22v2m1 -3v2m1 -2v2m1 -2v2m1 -2v2m1 -2v2m1 -2v2m1 -1v1m1 0v30m1 -29v29m1 -29v29m1 -30v30m1 -31v1m1 -1v1m1 -1v1m1 -1v1m1 -1v1m2 0v1m1 -1v1m1 -1v1m3 0v29m1 -28v28m1 -28v28m1 -29v29m1 -29v1m7 -1v1m1 -1v1m2 0v1m1 -1v1m1 5v22m5 -2v2m7 -11v11m1 -27v27m1 -28v28m1 -28v6m1 -7v1m1 0v1m1 -1v28m1 -17v17m1 -28v28m1 -29v1m1 -1v1m1 -1v1m1 -1v1m1 -1v1m1 -1v1m1 -1v1m1 -1v1m1 -1v1m1 -1v1m1 -1v1m1 -1v1m1 -1v1m1 -1v2m1 -2v29m1 -29v29m1 -29v1m1 -1v1m1 -2v2m1 -2v1m1 -1v1m1 -1v1m1 -1v1m1 -1v1m1 -1v1m1 -2v1m1 -1v1m1 -1v1m1 -1v1m1 -2v2m1 -2v2m1 -3v2m1 -7v2m0 1v4m1 -11v10m1 -16v1m0 1v13m1 -240v18m0 204v13m1 -235v57m0 152v1m0 2v16m1 -228v149m0 12v4m0 5v3m0 3v48m1 -213v201m1 -162v113m0 2v5m0 3v3m1 -100v31m0 14v41"/>
<path stroke="#3d358b" d="M11.5 0v23m1 -7v38m0 110v18m0 1v1m0 4v2m0 3v2m0 2v1m0 1v2m0 2v4m1 -207v22m0 29v15m0 97v2m0 16v8m0 1v3m0 2v2m0 1v1m0 1v3m0 3v11m0 2v1m0 1v1m1 -222v73m0 89v1m0 53v9m0 1v1m1 -224v60m0 98v1m0 62v7m0 1v1m1 -190v28m0 90v1m0 63v1m0 1v8m0 2v1m1 -238v34m0 30v89m0 3v5m0 67v1m0 1v35m1 -265v102m0 22v37m0 73v7m1 -210v47m0 156v6m1 -240v5m0 229v6m1 -228v33m0 189v7m0 30v2m1 -39v30m1 -30v10m1 -9v7m1 -7v7m1 -7v2m0 1v3m1 -6v2m0 1v3m1 -6v2m0 1v3m1 -2v2m1 -2v2m1 -1v1m1 -1v2m1 -2v3m1 -2v3m1 -3v3m1 -3v2m1 -2v1m1 -1v1m1 -1v1m1 -1v1m2 0v1m1 -1v1m3 0v1m1 -1v1m2 0v1m1 -1v1m11 -1v1m3 1v5m5 -4v24m1 -24v26m1 -23v23m1 -18v18m1 -18v18m1 -23v23m1 -27v27m1 -28v17m1 -17v1m1 -2v1m1 -1v1m2 -1v1m1 -1v1m1 0v11m1 -12v1m14 -2v1m1 -1v1m1 -1v1m1 -1v1m1 -1v1m3 -2v1m1 -1v1m1 -1v1m1 -1v1m1 -1v1m1 -2v1m1 -1v1m1 -1v1m1 -2v2m1 -3v2m1 -7v7m1 -13v1m0 1v10m1 -15v1m0 1v8m0 2v1m1 -238v5m0 218v8m1 -231v46m0 170v9m0 1v1m1 -209v71m0 96v2m0 3v2m0 4v1m0 4v2m0 4v15m1 -165v98m0 6v48m0 1v2m1 -63v12m0 4v5m0 3v3"/>
<path stroke="#4040a2" d="M12.5 0v16m1 6v29m0 114v16m0 8v1m0 3v2m0 2v1m0 1v1m0 3v3m1 -43v2m0 13v1m0 2v8m0 1v3m0 2v2m0 1v1m0 1v3m0 3v10m1 -216v3m0 159v1m0 52v9m1 -224v43m0 119v1m0 54v2m0 1v1m0 1v3m0 1v1m1 -193v30m0 97v1m0 62v4m0 1v1m1 -128v22m0 37v1m0 62v10m0 7v1m1 -242v31m0 47v83m0 64v1m0 1v7m0 6v1m1 -236v102m0 13v15m0 6v20m0 64v1m0 1v7m0 6v1m1 -241v12m0 33v29m0 151v1m0 1v7m0 7v30m1 -244v48m0 150v1m0 1v7m1 -9v1m0 1v7m1 -7v8m1 -8v8m1 -7v7m0 2v1m1 -10v7m0 2v1m1 -10v7m0 2v1m1 -10v11m1 -11v11m1 -11v1m0 1v10m1 -9v1m0 1v7m1 -9v1m0 1v7m1 -6v7m1 -7v7m1 -6v6m1 -6v2m0 1v3m1 -2v2m1 -1v1m1 -1v1m1 -1v2m1 -1v1m1 -1v1m1 0v1m1 -1v1m3 0v1m14 0v1m6 23v5m1 -27v1m1 -1v1m1 -1v4m1 -4v9m1 -10v10m1 -10v5m1 -5v1m1 -2v1m1 -1v1m6 -1v1m11 -2v1m1 -1v1m1 -1v1m1 -1v1m5 -2v1m1 -1v1m1 -1v1m1 -2v1m1 -1v1m1 -1v1m1 -1v1m1 -2v2m1 -2v1m1 -1v1m1 -6v2m0 1v3m1 -7v6m1 -12v11m1 -14v1m0 1v7m1 -10v4m0 1v1m1 -121v9m0 99v8m0 1v1m1 -222v18m0 78v61m0 47v1m0 2v11m1 -177v37m0 20v62m0 13v1m0 2v8m0 1v3m0 2v4m0 1v4m0 2v10m1 -127v96m0 2v3m0 2v4m0 1v4m0 2v4m1 -52v6"/>
<path stroke="#424bb5" d="M14.5 165v13m0 1v2m0 8v1m0 3v2m0 2v1m0 1v1m0 3v3m1 -43v2m0 13v1m0 2v8m0 1v3m0 2v4m0 1v3m0 3v9m1 -52v1m0 44v2m0 2v5m0 2v1m0 1v1m1 -60v1m0 53v8m1 -62v1m0 54v7m1 -63v1m0 60v3m0 1v1m1 -120v13m0 15v6m0 20v1m0 60v3m0 1v1m0 14v1m1 -168v88m0 60v3m0 1v1m1 -221v21m0 48v24m0 48v14m0 61v3m0 1v1m1 -183v40m0 139v2m0 1v1m1 -4v4m1 -4v4m1 -3v4m1 -4v4m1 -4v4m1 -4v4m1 -4v4m1 -4v4m0 1v1m1 -6v7m0 1v1m1 -9v7m0 1v1m1 -9v2m0 1v7m1 -9v1m0 1v7m1 -9v1m0 1v8m1 -7v7m0 2v1m1 -10v11m1 -8v1m0 1v7m1 -6v6m1 -6v6m1 -5v2m0 1v3m1 -1v1m1 -1v2m2 0v1m3 0v1m2 -1v1m1 -1v1m1 -1v1m1 -1v1m1 -1v1m1 -1v1m1 -1v1m6 0v1m1 0v1m4 11v11m1 -23v1m1 -1v1m1 -1v1m1 -1v1m2 -2v1m1 -1v1m15 -2v1m1 -1v1m1 -1v1m1 -1v1m6 -2v1m1 -1v1m1 -1v1m1 -2v1m1 -1v1m1 -1v1m1 -2v1m1 -1v1m1 -1v1m1 -2v2m1 -6v2m0 1v2m1 -6v6m1 -9v1m0 1v7m1 -12v7m0 2v1m1 -13v1m0 1v7m1 -234v40m0 184v4m1 -228v70m0 36v16m0 100v3m0 1v1m1 -211v145m0 55v8m1 -171v56m0 9v45m0 45v2m0 2v5m1 -194v13m0 33v32m0 61v3m0 6v1m0 5v3m0 1v12m0 2v14m0 1v2m1 -129v20m0 62v13m0 1v2m0 8v1m0 3v2m0 4v1m0 4v2"/>
<path stroke="#4456c7" d="M15.5 165v13m0 1v2m0 8v1m0 3v2m0 4v1m0 3v3m1 -42v1m0 13v1m0 2v8m0 1v3m0 2v4m0 1v4m0 2v2m0 2v2m1 -49v1m0 44v3m0 1v4m1 -4v5m0 25v2m0 23v6m1 -111v1m0 53v6m0 19v1m1 -80v1m0 53v6m0 20v1m1 -81v1m0 53v6m1 -222v6m0 93v48m0 14v1m0 54v6m1 -192v14m0 40v77m0 55v7m1 -161v99m0 55v7m1 -7v7m1 -7v8m1 -8v8m1 -8v8m1 -8v8m1 -8v8m1 -8v8m1 -7v7m1 -7v2m0 1v1m0 1v2m1 -7v2m0 3v2m0 2v1m1 -5v3m0 1v1m1 -4v2m0 1v1m1 -3v4m1 -4v4m1 -4v7m0 1v1m1 -9v2m0 1v7m1 -9v1m0 1v7m1 -6v7m0 2v1m1 -10v1m0 1v2m0 1v7m1 -9v1m0 2v6m1 -5v2m0 1v4m1 -7v1m0 4v1m1 1v1m3 0v1m8 -1v1m1 -1v1m9 4v9m4 -13v1m1 -1v1m13 -2v1m1 -1v1m1 -1v1m1 -1v1m9 -2v1m2 -2v1m1 -1v1m1 -2v1m1 -1v1m1 -1v1m1 -6v2m0 1v2m1 -5v5m1 -6v6m1 -9v1m0 2v5m1 -9v5m0 2v1m1 -10v6m1 -9v1m0 1v4m0 1v1m1 -233v31m0 193v4m1 -228v69m0 154v2m0 1v1m1 -187v120m0 57v7m1 -154v36m0 16v40m0 54v6m1 -222v16m0 145v2m0 28v1m0 16v8m1 -216v10m0 27v16m0 110v2m0 6v1m0 5v3m0 1v27m0 2v2m1 -176v33m0 96v6m0 1v5m0 3v1m0 12v2"/>
<path stroke="#4661d6" d="M16.5 165v13m0 1v2m0 8v1m0 3v2m0 4v1m0 4v2m1 -42v1m0 6v1m0 5v3m0 1v12m0 1v14m0 3v1m1 -49v1m0 18v1m0 1v3m0 3v3m0 2v2m0 4v2m0 4v5m0 32v23m1 -104v1m0 27v1m0 4v1m0 10v9m1 -53v1m0 27v1m0 15v9m0 27v1m0 11v18m1 -110v1m0 27v1m0 16v8m1 -54v1m0 45v8m1 -199v13m0 131v2m0 45v8m1 -165v11m0 99v2m0 45v3m0 1v4m1 -146v93m0 45v3m0 1v4m1 -130v76m0 46v2m0 2v4m1 -78v24m0 46v2m0 2v4m1 -8v2m0 2v4m1 -8v2m0 2v4m1 -8v2m0 2v4m1 -8v2m0 2v4m1 -7v1m0 2v5m1 -4v4m0 2v1m0 1v1m1 -7v2m0 2v3m1 -6v6m1 -6v7m1 -7v8m1 -8v8m1 -8v8m1 -7v2m0 3v2m0 2v1m1 -4v2m0 1v1m1 -3v4m1 -4v4m0 1v1m0 2v1m1 -9v2m0 1v4m0 1v2m1 -9v1m0 1v8m0 2v1m1 -10v7m0 1v4m0 1v1m1 -11v1m0 2v7m1 -6v2m0 1v1m0 3v1m12 0v1m5 23v6m3 -27v2m2 -4v1m1 -1v1m9 -2v1m1 -1v1m4 -1v1m11 -2v1m1 -1v1m2 -2v1m1 -2v1m1 -1v1m1 -6v2m0 1v2m1 -6v6m1 -6v6m1 -9v1m0 1v2m0 2v1m1 -10v1m0 1v5m1 -7v6m1 -9v1m0 1v4m0 1v2m1 -9v1m0 1v3m1 -6v4m1 -228v26m0 77v45m0 76v1m0 1v1m1 -196v130m0 56v2m0 3v2m1 -155v93m0 54v7m1 -63v2m0 50v5m1 -55v2m0 27v1m0 4v1m0 5v1m0 4v9m1 -53v2m0 5v2m0 4v4m0 1v10m0 1v16m1 -198v27m0 128v6m0 1v5m0 3v1"/>
<path stroke="#466be3" d="M17.5 165v6m0 1v5m0 3v1m0 12v1m1 -30v1m0 5v3m0 3v6m0 1v1m0 3v3m0 3v2m0 2v4m0 2v4m1 -43v1m0 6v1m0 4v4m0 1v10m0 1v4m0 1v10m0 35v1m1 -79v1m0 6v1m0 5v3m0 1v10m0 1v1m0 1v13m0 37v11m1 -91v1m0 6v1m0 5v3m0 1v10m0 1v1m0 2v13m1 -45v2m0 6v1m0 6v2m0 1v12m0 2v13m1 -203v12m0 146v2m0 6v1m0 6v2m0 1v8m0 1v3m0 2v13m1 -166v9m0 112v2m0 13v2m0 1v8m0 1v3m0 2v9m0 1v3m0 3v1m1 -151v9m0 93v2m0 13v1m0 2v8m0 1v3m0 2v9m0 1v3m0 3v1m1 -212v25m0 46v15m0 76v3m0 13v1m0 2v8m0 1v3m0 2v4m0 1v4m0 2v2m0 2v2m1 -212v57m0 9v72m0 24v3m0 13v1m0 2v8m0 1v3m0 2v4m0 1v4m0 2v2m0 2v2m1 -180v132m0 14v1m0 2v8m0 1v3m0 2v4m0 1v3m0 3v2m0 2v2m1 -145v97m0 14v1m0 2v8m0 1v3m0 2v2m0 1v1m0 1v3m0 3v2m0 2v2m1 -134v86m0 17v8m0 1v3m0 2v2m0 1v1m0 1v3m0 4v1m0 2v2m1 -164v41m0 33v41m0 19v1m0 1v3m0 3v3m0 2v2m0 1v1m0 2v2m0 4v1m0 2v2m1 -147v32m0 85v1m0 2v2m0 3v2m0 3v2m0 4v2m0 4v2m0 1v2m1 -26v1m0 3v2m0 4v1m0 5v1m0 4v6m1 -22v1m0 4v1m0 5v1m0 4v8m1 -24v1m0 15v9m1 -8v3m0 1v4m1 -8v2m0 2v4m1 -8v2m0 2v4m1 -180v10m0 162v2m0 2v4m1 -3v4m0 2v3m1 -6v7m1 -7v8m1 -8v8m1 -7v2m0 1v1m0 1v2m0 2v1m1 -10v1m0 5v2m0 1v1m1 -3v4m1 -4v2m0 1v4m0 1v2m0 7v1m1 -17v1m0 1v8m0 2v1m0 1v2m1 -13v1m0 1v2m0 2v6m1 -6v3m0 1v2m1 -5v2m10 6v1m3 0v1m1 16v6m4 -23v1m9 -2v1m1 -1v1m3 -1v1m1 -1v1m1 -1v1m10 -2v1m1 -1v1m2 -2v1m1 -2v2m1 -2v1m1 -6v2m0 1v2m1 -6v6m1 -9v1m0 2v1m0 2v1m1 -10v1m0 1v4m1 -6v6m1 -9v1m0 1v4m0 1v1m1 -8v1m0 1v1m0 1v1m1 -6v4m1 -228v28m0 196v1m0 1v1m1 -221v154m0 64v1m0 1v1m1 -227v14m0 31v116m0 61v2m1 -198v77m0 45v14m0 54v8m1 -63v1m0 54v1m0 2v3m1 -60v1m0 45v2m0 2v4m1 -54v2m0 21v2m0 3v2m0 4v1m0 5v1m0 4v5m1 -48v1m0 5v2m0 4v15m0 1v4m0 1v5m0 1v4m1 -42v5m0 2v4m0 4v1"/>
<path stroke="#4776ee" d="M18.5 165v5m0 3v3m1 -11v6m0 1v4m0 4v1m0 62v1m1 -79v6m0 1v5m0 3v1m0 12v1m1 -29v6m0 1v5m0 3v1m0 12v2m1 -30v6m0 1v6m0 2v1m0 12v2m1 -195v5m0 160v6m0 1v6m0 2v1m0 8v1m0 3v2m1 -166v13m0 123v13m0 2v1m0 8v1m0 3v2m0 9v1m1 -205v6m0 47v8m0 104v3m0 1v5m0 1v3m0 1v2m0 8v1m0 3v2m0 9v1m1 -180v16m0 19v11m0 94v3m0 1v5m0 1v3m0 1v2m0 8v1m0 3v2m0 4v1m0 4v2m1 -149v9m0 99v3m0 1v5m0 2v2m0 1v2m0 8v1m0 3v2m0 4v1m0 4v2m1 -206v32m0 132v4m0 2v3m0 3v2m0 1v2m0 8v1m0 3v2m0 4v1m0 3v3m1 -157v18m0 97v2m0 4v3m0 3v2m0 1v2m0 8v1m0 3v2m0 2v1m0 1v1m0 3v3m1 -206v78m0 86v1m0 5v3m0 3v5m0 8v1m0 3v2m0 2v1m0 1v1m0 3v4m1 -187v28m0 41v33m0 41v2m0 5v3m0 3v6m0 1v1m0 3v3m0 3v2m0 2v1m0 1v2m0 2v4m1 -154v12m0 32v68m0 5v3m0 3v6m0 1v2m0 2v3m0 2v3m0 2v4m0 2v4m1 -138v96m0 5v2m0 4v10m0 1v3m0 2v4m0 1v5m0 1v4m1 -207v34m0 48v83m0 6v1m0 5v3m0 1v10m0 1v1m0 1v2m0 1v5m0 1v4m1 -186v70m0 19v55m0 6v1m0 6v2m0 1v8m0 1v1m0 1v1m0 2v12m1 -146v46m0 54v4m0 13v1m0 2v8m0 1v3m0 2v4m0 1v4m0 1v3m0 3v1m1 -132v59m0 24v1m0 14v1m0 2v8m0 1v3m0 2v4m0 1v3m0 3v2m0 2v2m1 -212v37m0 76v51m0 17v8m0 1v3m0 2v2m0 1v1m0 1v3m0 4v1m0 2v2m1 -209v33m0 10v45m0 50v22m0 19v1m0 1v3m0 3v3m0 2v2m0 4v2m0 4v1m0 2v2m1 -184v80m0 82v2m0 4v1m0 5v1m0 4v6m1 -155v62m0 71v1m0 15v9m1 -8v2m0 2v4m1 -156v33m0 115v2m0 2v4m1 -144v32m0 104v2m0 2v5m0 2v1m0 1v1m1 -6v1m0 1v5m1 -7v8m1 -8v5m0 1v2m0 2v1m1 -10v2m0 4v2m0 1v1m0 14v1m1 -18v4m0 1v1m0 2v2m0 6v1m0 1v1m1 -19v2m0 1v7m0 3v1m0 2v1m0 1v1m1 -18v1m0 2v4m0 1v2m0 2v3m0 2v1m1 -15v1m0 2v1m0 2v6m0 2v1m1 -8v2m9 6v1m3 11v6m3 -16v1m8 -3v1m1 -1v1m16 -2v1m3 -2v1m1 -2v1m1 -6v2m0 1v2m1 -6v6m1 -9v1m0 1v2m0 2v1m1 -10v6m1 -9v1m0 1v4m0 1v2m1 -9v1m0 1v1m0 1v1m1 -6v4m1 -4v1m0 1v1m1 -227v33m0 191v1m0 1v1m1 -227v149m0 73v2m1 -196v133m0 56v2m0 1v1m0 1v2m1 -224v6m0 154v2m0 54v8m1 -210v31m0 116v1m0 54v6m1 -60v1m0 50v3m1 -54v1m0 45v2m0 2v4m1 -53v1m0 18v1m0 1v3m0 3v3m0 2v2m0 4v2m0 4v1m0 2v2m1 -48v1m0 5v2m0 4v9m0 2v3m0 2v4m0 1v5m0 1v4m1 -42v5m0 2v4"/>
<path stroke="#4680f6" d="M19.5 244v29m5 -273v29m1 -23v47m0 115v1m0 5v1m1 -134v19m0 108v1m0 5v1m1 -7v1m0 5v2m1 -8v2m0 3v3m1 -176v49m0 117v4m0 3v3m1 -11v5m0 3v3m1 -176v20m0 145v5m0 3v3m1 -133v10m0 112v5m0 3v3m1 -116v9m0 96v5m0 2v4m1 -142v48m0 83v6m0 1v5m0 3v1m0 12v1m1 -194v21m0 70v19m0 55v3m0 1v2m0 1v2m0 1v3m0 2v1m0 8v1m0 3v2m1 -146v12m0 46v54m0 4v3m0 1v4m0 3v2m0 1v2m0 8v1m0 3v2m0 4v1m0 4v1m1 -141v16m0 59v24m0 1v2m0 4v3m0 3v2m0 1v2m0 8v1m0 3v2m0 4v1m0 3v3m1 -169v76m0 51v1m0 5v3m0 3v5m0 8v1m0 3v2m0 2v1m0 1v1m0 3v4m1 -207v3m0 88v50m0 22v2m0 5v2m0 4v6m0 1v1m0 3v3m0 3v2m0 2v4m0 2v4m1 -207v28m0 80v57m0 6v1m0 5v3m0 1v9m0 2v1m0 1v2m0 1v5m0 1v4m1 -207v58m0 62v45m0 13v1m0 2v8m0 1v1m0 1v1m0 2v9m0 1v2m1 -207v164m0 14v1m0 2v8m0 1v3m0 2v4m0 1v3m0 3v2m0 2v2m1 -212v60m0 33v71m0 18v1m0 1v5m0 1v3m0 2v2m0 1v1m0 1v3m0 4v1m0 2v2m1 -212v40m0 3v29m0 32v59m0 22v2m0 3v2m0 4v1m0 4v2m0 4v1m0 2v2m1 -187v138m0 28v1m0 4v1m0 10v9m1 -169v115m0 46v2m0 2v4m1 -153v99m0 46v2m0 2v4m0 5v1m1 -140v80m0 47v1m0 3v1m0 2v1m0 2v4m1 -7v8m0 17v1m1 -26v5m0 1v2m0 2v1m0 14v1m1 -25v2m0 5v1m0 1v2m0 4v1m0 7v1m1 -237v5m0 215v2m0 1v1m0 1v2m0 1v2m0 6v1m1 -16v1m0 1v5m0 1v2m0 2v3m0 2v1m1 -15v1m0 2v1m0 2v3m0 1v2m0 2v1m1 -8v2m0 5v1m1 -1v1m9 7v5m2 15v3m7 -30v1m1 -1v1m16 -2v1m1 -1v1m3 -3v2m1 -7v2m0 1v3m1 -7v6m1 -12v1m0 2v1m0 1v2m0 2v1m1 -10v6m1 -9v1m0 1v4m0 1v1m1 -233v38m0 186v4m1 -194v23m0 167v1m0 1v1m1 -3v1m0 1v1m1 -227v23m0 83v38m0 79v1m1 -224v86m0 15v60m0 56v2m0 3v2m1 -191v128m0 56v7m1 -75v13m0 54v6m1 -61v1m0 54v1m0 2v1m0 1v1m1 -7v1m1 -54v1m0 45v2m0 2v4m1 -53v1m0 27v1m0 16v5m1 -50v1m0 17v8m0 1v3m0 2v2m0 1v1m0 1v3m0 4v1m0 2v2m1 -48v1m0 5v3m0 3v6m0 1v1m0 3v3m0 3v2m0 2v4m0 2v4m1 -42v5m0 2v4"/>
<path stroke="#458afc" d="M32.5 21v22m1 -43v31m0 20v9m2 108v1m0 5v1m1 -151v25m0 119v1m0 4v3m1 -176v34m0 17v13m0 102v4m0 3v3m1 -11v5m0 3v3m1 -11v5m0 2v4m1 -11v6m0 1v2m0 1v2m0 3v1m0 12v1m1 -29v3m0 2v3m0 3v2m0 1v2m0 8v1m0 3v2m0 9v1m1 -41v1m0 5v3m0 3v2m0 1v2m0 8v1m0 3v2m0 4v1m0 3v3m1 -42v1m0 5v3m0 3v6m0 1v1m0 5v1m0 3v2m0 2v1m0 1v1m0 3v4m1 -167v3m0 120v2m0 6v1m0 5v3m0 1v4m0 2v3m0 2v1m0 1v2m0 1v4m0 2v4m1 -199v17m0 138v2m0 13v1m0 2v8m0 1v1m0 1v1m0 2v1m0 1v2m0 1v4m0 1v2m1 -169v9m0 115v2m0 14v1m0 2v8m0 1v3m0 2v4m0 1v3m0 3v2m0 2v2m1 -156v7m0 99v2m0 18v1m0 1v3m0 3v3m0 2v2m0 4v2m0 4v1m0 2v2m1 -208v24m0 40v14m0 80v1m0 27v2m0 4v1m0 5v1m0 4v2m0 1v3m0 1v2m1 -190v24m0 21v91m0 46v2m0 2v4m1 -164v110m0 46v2m0 2v4m0 5v1m1 -222v14m0 53v95m0 47v1m0 6v1m0 2v5m0 17v1m1 -242v4m0 5v28m0 37v88m0 54v5m0 1v2m0 2v1m0 14v1m1 -214v133m0 55v3m0 5v1m0 1v1m0 5v1m0 7v1m1 -174v94m0 56v1m0 6v2m0 1v1m0 1v2m0 1v2m0 3v1m0 2v1m1 -158v78m0 63v2m0 1v5m0 2v1m0 2v4m1 -239v94m0 31v34m0 67v1m0 2v1m0 2v3m0 1v1m1 -208v76m0 51v2m0 75v1m0 6v1m1 -172v40m0 131v1m5 0v1m2 3v3m2 16v4m6 -27v1m17 -2v1m4 -8v2m0 1v4m1 -8v6m1 -240v28m0 200v1m0 2v1m0 2v1m0 2v1m1 -227v43m0 174v6m1 -9v1m0 1v1m0 1v2m0 1v1m1 -233v1m0 223v4m1 -228v41m0 183v1m0 1v1m1 -189v33m1 -71v34m0 23v31m0 17v13m0 104v2m1 -224v13m0 19v129m0 56v4m0 1v2m1 -201v83m0 38v18m0 54v7m1 -137v15m0 60v1m0 54v1m0 2v3m1 -61v1m0 54v1m1 -4v3m1 -54v1m0 45v2m0 2v4m1 -54v1m0 45v2m0 2v3m1 -52v1m0 22v1m0 3v2m0 4v1m0 5v1m0 4v1m0 2v2m1 -48v1m0 13v1m0 2v8m0 1v1m0 1v1m0 2v4m0 1v4m0 2v2m1 -44v1m0 5v3m0 3v5m0 8v1m0 3v2m0 2v1m0 1v1m0 3v4m1 -42v5m0 3v3"/>
<path stroke="#4294ff" d="M32.5 0v21m1 10v20m3 -51v24m1 10v17m3 123v1m1 -7v2m0 3v3m1 -11v5m0 3v3m1 -11v5m0 3v3m1 -11v3m0 1v2m0 1v2m0 1v2m0 3v1m0 12v1m1 -194v8m0 157v1m0 4v3m0 3v2m0 1v2m0 8v1m0 3v2m0 4v1m0 4v1m1 -177v10m0 126v1m0 5v3m0 3v2m0 1v2m0 8v1m0 3v2m0 4v1m0 3v3m1 -206v11m0 38v7m0 108v1m0 6v1m0 5v3m0 1v1m0 1v1m0 3v3m0 3v2m0 2v4m0 2v4m1 -207v4m0 24v11m0 21v8m0 95v2m0 13v1m0 2v8m0 3v1m0 2v1m0 1v5m0 1v1m0 1v2m1 -194v13m0 24v21m0 91v2m0 14v1m0 2v8m0 1v3m0 2v4m0 1v3m0 3v2m0 2v2m1 -212v1m0 38v13m0 110v2m0 18v1m0 1v3m0 3v3m0 2v2m0 4v2m0 4v1m0 2v2m1 -198v12m0 31v10m0 95v1m0 28v1m0 4v1m0 5v1m0 4v2m0 1v6m1 -179v37m0 88v1m0 45v2m0 2v4m0 5v1m1 -222v28m0 133v1m0 46v2m0 2v4m0 3v5m0 17v1m1 -189v14m0 94v1m0 54v1m0 1v3m0 1v2m0 2v1m0 14v1m1 -242v14m0 46v23m0 78v1m0 54v3m0 7v1m0 5v2m1 -234v2m0 94v31m0 34v1m0 55v1m0 6v2m0 1v1m0 1v2m0 1v2m0 3v1m0 1v2m1 -232v22m0 76v51m0 2v2m0 62v2m0 2v4m0 2v1m0 1v5m1 -192v22m0 40v50m0 67v1m0 6v2m0 1v1m1 -170v92m0 81v1m1 -240v31m0 30v97m1 -115v114m1 -82v83m1 -17v17m2 85v1m1 25v1m1 -10v3m1 -22v1m4 -2v1m16 -2v1m1 -1v1m3 -3v2m1 -7v2m0 1v4m1 -11v1m0 2v1m0 2v1m1 -238v20m0 208v6m1 -206v27m0 170v1m0 1v1m0 1v2m0 1v2m1 -234v11m0 43v12m0 158v4m1 -204v49m0 151v1m0 1v1m1 -226v20m0 42v4m1 -26v25m0 151v2m0 3v2m1 -153v22m0 9v48m0 6v5m0 55v8m1 -136v17m0 13v43m0 55v6m1 -209v19m0 129v1m0 54v1m0 4v1m1 -7v1m1 -54v1m0 46v1m0 2v4m1 -54v1m0 45v2m0 2v4m1 -54v1m0 45v3m0 1v1m1 -50v1m0 26v2m0 4v1m0 5v1m0 4v1m0 2v2m1 -49v1m0 18v1m0 1v5m0 1v3m0 2v2m0 1v1m0 1v3m0 4v1m0 2v2m1 -48v1m0 13v2m0 1v5m0 1v2m0 3v1m0 2v1m0 1v5m0 1v1m0 1v2m1 -37v3m0 3v2m0 1v2m0 8v1m0 3v2m0 4v1m0 4v2m1 -41v5m0 3v3"/>
<path stroke="#3d9efe" d="M44.5 168v1m0 5v1m1 -9v4m0 3v3m1 -166v18m0 137v5m0 3v3m1 -165v19m0 9v10m0 116v3m0 1v2m0 1v2m0 1v2m0 3v1m1 -142v21m0 110v3m0 3v2m0 1v2m0 8v1m0 3v2m0 9v1m1 -205v13m0 151v1m0 5v3m0 3v2m0 1v2m0 8v1m0 3v2m0 4v1m0 3v3m1 -205v38m0 125v1m0 6v1m0 5v3m0 1v1m0 1v1m0 3v3m0 7v4m0 2v4m1 -181v31m0 106v2m0 13v1m0 2v8m0 1v1m0 1v1m0 2v1m0 1v2m0 1v2m0 1v1m0 2v1m1 -44v1m0 17v8m0 1v3m0 2v2m0 1v1m0 1v3m0 4v1m0 2v2m1 -50v2m0 21v2m0 3v2m0 4v1m0 4v2m0 4v1m0 2v2m1 -212v53m0 109v1m0 28v1m0 15v4m0 1v4m0 5v1m1 -208v46m0 102v1m0 45v2m0 2v4m0 3v5m0 17v1m1 -80v1m0 45v2m0 6v1m0 1v3m0 1v2m0 2v1m0 14v1m1 -242v9m0 207v3m0 7v2m0 4v2m0 7v1m1 -216v23m0 112v1m0 55v1m0 6v2m0 1v1m0 1v6m0 2v1m0 1v2m1 -241v21m0 33v15m0 92v1m0 63v1m0 2v1m0 2v1m0 2v3m0 1v2m1 -240v3m0 31v30m0 97v1m0 73v2m0 5v1m1 -223v26m0 114v1m1 -101v18m1 -6v72m1 -114v131m1 -113v112m1 -86v87m0 109v2m1 -132v21m0 98v4m1 -190v25m1 -98v1m1 6v5m1 231v1m15 -2v1m1 -1v1m4 -8v2m0 3v2m1 -242v30m0 204v6m1 -219v30m0 177v1m0 2v1m0 1v2m0 2v1m1 -13v1m0 2v3m0 1v2m1 -214v19m0 185v2m0 1v1m1 -173v9m0 160v1m0 1v1m1 -161v11m1 -77v24m0 49v16m0 17v14m0 97v2m0 3v2m1 -203v42m0 4v94m0 55v8m1 -158v96m0 54v1m0 2v3m1 -129v9m0 48v6m0 5v1m1 -1v1m0 50v4m1 -54v1m0 45v2m0 2v4m1 -54v1m0 45v2m0 2v3m1 -52v1m0 27v1m0 15v2m0 1v2m1 -49v1m0 21v2m0 3v2m0 4v1m0 4v2m0 4v1m0 2v2m1 -49v1m0 17v8m0 1v3m0 2v2m0 1v1m0 1v3m0 4v1m0 3v1m1 -48v1m0 13v1m0 2v8m0 3v1m0 2v1m0 1v2m0 1v2m0 1v1m0 2v1m1 -43v1m0 5v2m0 4v4m0 1v1m0 1v1m0 5v1m0 3v2m0 2v1m0 1v1m0 3v4m1 -42v1m0 4v3m0 3v2m0 2v1m0 8v1m0 3v2m0 9v1m1 -40v5m0 3v3"/>
<path stroke="#37a8fa" d="M46.5 0v10m1 20v9m0 129v1m0 5v1m1 -10v5m0 3v3m1 -11v5m0 3v3m1 -11v3m0 2v1m0 1v1m0 3v1m0 3v1m0 12v2m1 -25v3m0 3v2m0 1v2m0 8v1m0 3v2m0 4v1m0 4v2m1 -42v1m0 5v2m0 4v4m0 9v1m0 3v2m0 2v1m0 1v1m0 3v4m1 -43v1m0 13v1m0 2v4m0 2v2m0 3v1m0 2v1m0 1v4m0 2v1m0 1v2m1 -44v1m0 14v1m0 2v8m0 1v1m0 1v1m0 2v4m0 1v3m0 3v1m0 4v1m1 -49v1m0 18v1m0 1v3m0 3v3m0 2v2m0 4v2m0 4v1m0 2v2m1 -49v1m0 27v1m0 4v1m0 5v1m0 4v1m0 2v1m0 1v4m0 5v1m1 -60v1m0 45v2m0 2v4m0 3v5m1 -224v26m0 136v1m0 45v2m0 2v1m0 3v1m0 1v3m0 1v2m0 2v1m0 14v1m1 -221v33m0 108v1m0 53v3m0 5v1m0 1v2m0 1v2m0 1v2m0 3v1m0 2v1m1 -24v1m0 6v2m0 1v5m0 2v1m0 2v3m1 -234v14m0 141v1m0 63v1m0 2v1m0 2v1m0 2v3m0 1v1m0 3v1m1 -195v12m0 101v1m0 73v1m1 -236v18m0 41v13m0 89v1m1 -149v17m0 131v1m0 81v1m1 -210v14m0 112v1m0 84v1m1 -246v10m0 49v15m0 193v3m1 -270v31m0 35v74m0 115v4m1 -259v73m0 25v63m1 -160v160m1 -161v7m0 5v149m0 82v1m1 -222v138m1 -90v25m0 27v38m2 -110v24m1 -13v13m9 168v1m1 -1v1m5 -8v2m0 1v4m1 -242v33m0 198v1m0 2v1m0 2v3m1 -210v25m0 173v6m1 -234v21m0 30v9m0 164v2m0 1v1m0 1v2m0 1v1m1 -233v61m0 163v1m0 1v2m1 -189v20m0 167v1m1 -163v8m0 145v2m0 3v2m1 -147v10m0 20v12m0 97v5m0 1v2m1 -135v17m0 14v41m0 55v1m0 2v3m1 -61v1m1 47v1m0 2v4m1 -54v1m0 45v2m0 2v4m1 -54v1m0 45v3m1 -48v1m0 27v1m0 4v1m0 5v1m0 4v1m0 2v2m1 -49v1m0 18v1m0 1v3m0 3v3m0 2v2m0 4v2m0 4v1m0 2v2m1 -48v1m0 13v1m0 2v8m0 1v1m0 1v1m0 2v4m0 1v3m0 3v1m1 -43v1m0 13v1m0 2v4m0 2v2m0 3v1m0 2v1m0 1v4m0 2v1m0 1v2m1 -43v1m0 5v2m0 4v4m0 9v1m0 3v2m0 2v1m0 1v1m0 3v4m1 -37v3m0 3v2m0 1v2m0 8v1m0 3v2m0 4v1m0 4v2m1 -41v3m0 1v1m0 2v2m0 1v1m0 4v1m1 -15v4m0 3v3"/>
<path stroke="#2eb4f2" d="M50.5 168v2m0 3v3m1 -11v5m0 3v3m1 -11v3m0 1v1m0 2v2m0 1v1m0 4v1m1 -11v3m0 3v2m0 1v2m0 8v1m0 3v2m0 9v1m1 -41v1m0 5v2m0 4v2m0 1v2m0 8v1m0 3v2m0 4v1m0 3v3m1 -42v1m0 6v1m0 6v2m0 1v1m0 1v1m0 3v2m0 8v4m0 2v4m1 -43v1m0 13v1m0 2v8m0 1v1m0 1v1m0 2v1m0 1v2m0 1v2m0 4v1m0 4v1m1 -49v1m0 18v1m0 1v3m0 3v3m0 2v2m0 4v2m0 4v1m0 2v2m1 -49v1m0 26v2m0 4v1m0 5v1m0 4v1m0 2v1m0 2v3m0 5v1m1 -14v2m0 2v4m0 3v5m0 17v1m1 -80v1m0 45v2m0 2v1m0 3v1m0 1v3m0 1v2m0 2v1m0 5v2m0 6v1m1 -241v6m0 156v1m0 53v3m0 5v1m0 2v1m0 1v2m0 1v2m0 3v1m0 1v1m1 -240v5m0 16v27m0 114v1m0 54v1m0 6v2m0 2v4m0 2v1m0 1v1m0 1v1m1 -221v41m0 166v1m0 2v1m0 6v2m1 -235v11m1 10v11m0 127v1m1 -152v10m0 29v10m0 102v1m0 102v3m1 -236v35m0 95v1m0 89v4m1 -94v1m1 81v1m2 -244v22m0 138v1m1 -117v26m0 25v27m0 38v1m1 -161v161m1 -161v50m0 24v87m1 -161v61m0 13v60m1 -83v57m0 9v20m0 7v11m3 87v1m1 -1v1m1 -1v1m1 -1v1m1 -1v1m5 -8v1m0 4v2m1 -8v3m0 1v4m1 -242v15m0 213v1m0 2v1m0 2v1m0 2v1m1 -205v18m0 174v1m0 2v3m0 1v2m1 -179v6m0 163v2m0 1v1m1 -168v5m0 161v1m1 -166v8m0 148v1m0 5v1m1 -165v11m0 146v5m0 1v2m1 -152v10m0 134v1m0 2v3m1 -135v20m0 12v32m0 7v3m0 60v1m1 -61v1m0 47v1m0 2v4m1 -54v1m0 45v2m0 2v4m1 -54v1m0 45v1m0 1v1m1 -48v1m0 26v2m0 4v1m0 5v1m0 4v1m0 2v2m1 -49v1m0 18v1m0 1v3m0 3v3m0 2v2m0 4v2m0 4v1m0 3v1m1 -48v1m0 13v1m0 2v8m0 1v1m0 1v1m0 2v1m0 1v2m0 1v2m0 4v1m1 -43v1m0 6v1m0 6v2m0 1v1m0 1v1m0 3v2m0 8v4m0 2v4m1 -37v2m0 4v2m0 1v2m0 8v1m0 3v2m0 4v1m0 3v3m1 -36v3m0 3v2m0 1v2m0 8v1m0 3v2m0 9v1m1 -40v3m0 1v1m0 2v2m0 1v1m0 4v1m1 -16v5m0 3v3m1 -8v1m0 5v1"/>
<path stroke="#27bee9" d="M52.5 168v1m0 5v1m1 -10v5m0 3v3m1 -11v3m0 1v1m0 2v2m0 1v1m1 -6v1m0 1v1m0 3v2m0 2v1m0 8v1m0 3v2m1 -25v2m0 4v2m0 1v2m0 8v1m0 3v2m0 4v1m0 3v3m1 -42v1m0 6v1m0 6v2m0 1v1m0 1v1m0 3v2m0 8v4m0 2v4m1 -43v1m0 13v1m0 2v8m0 3v1m0 2v1m0 1v2m0 1v2m0 4v1m0 4v1m1 -49v1m0 18v1m0 1v3m0 3v3m0 2v2m0 4v2m0 4v1m0 2v2m1 -49v1m0 26v2m0 4v1m0 5v1m0 4v1m0 2v1m0 2v3m0 5v1m0 19v1m1 -34v2m0 2v4m0 3v2m0 1v2m0 2v1m0 13v1m1 -236v16m0 187v2m0 6v1m0 1v3m0 5v2m0 4v2m0 3v1m0 1v1m0 2v1m1 -81v1m0 53v3m0 5v1m0 2v1m0 1v3m0 2v1m0 2v2m1 -239v2m0 160v1m0 54v1m0 6v2m0 2v1m0 2v1m0 3v2m1 -237v23m1 -3v29m0 212v3m1 -15v2m2 -90v1m1 -1v1m1 -1v1m1 -162v44m3 90v27m1 -161v51m0 57v9m0 20v7m0 11v6m1 -110v110m0 81v1m1 -155v10m0 46v16m0 82v1m9 -8v2m0 3v2m1 -8v1m0 1v1m0 1v2m1 -12v1m0 1v2m0 5v1m1 -223v22m0 187v2m0 1v1m0 1v2m0 1v2m1 -183v6m0 167v1m0 1v2m1 -167v4m0 161v1m1 -162v5m0 147v2m0 3v2m1 -155v6m0 141v1m0 1v5m1 -153v10m0 141v1m1 -140v8m0 12v48m0 9v1m0 49v1m0 2v4m1 -65v7m0 3v1m0 46v2m0 2v4m1 -54v1m0 45v1m0 1v1m1 -48v1m0 26v2m0 4v1m0 5v1m0 4v1m0 2v2m1 -49v1m0 18v1m0 1v3m0 3v3m0 2v2m0 4v2m0 4v1m0 3v1m1 -48v1m0 13v1m0 2v8m0 3v1m0 2v1m0 1v2m0 1v2m0 4v1m1 -43v1m0 6v1m0 6v2m0 1v1m0 1v1m0 3v2m0 8v4m0 2v4m1 -37v2m0 4v2m0 1v2m0 8v1m0 3v2m0 4v1m0 3v3m1 -36v1m0 1v1m0 3v2m0 2v1m0 8v1m0 3v2m1 -30v3m0 1v1m0 2v2m0 1v1m1 -11v5m0 3v3m1 -8v1m0 5v1"/>
<path stroke="#20c7df" d="M54.5 168v1m0 5v1m1 -10v5m0 3v3m1 -11v3m0 1v1m0 2v2m0 1v1m1 -6v1m0 1v1m0 3v2m0 2v1m0 8v1m0 3v2m1 -25v2m0 4v2m0 1v2m0 8v1m0 3v2m0 4v1m0 3v3m1 -42v1m0 13v2m0 1v1m0 1v1m0 3v2m0 8v4m0 2v1m0 1v2m1 -43v1m0 13v1m0 2v8m0 3v1m0 2v1m0 1v2m0 1v2m0 4v1m0 4v1m1 -49v1m0 18v1m0 1v3m0 3v3m0 2v2m0 4v2m0 4v1m0 2v2m0 9v1m0 19v1m1 -79v1m0 27v1m0 4v1m0 5v1m0 4v1m0 2v1m0 1v4m0 5v3m0 16v1m1 -33v2m0 2v3m0 4v2m0 1v2m0 2v1m0 5v2m0 5v1m1 -32v2m0 6v1m0 1v1m0 8v1m0 1v2m0 1v3m1 -73v1m0 53v3m0 5v2m0 1v5m0 12v1m1 -83v1m0 62v1m0 2v1m0 29v3m1 -99v1m0 84v2m5 -88v1m1 -1v1m1 -1v1m1 80v1m1 -1v1m1 -225v33m1 7v30m0 10v46m0 16v1m1 -96v35m0 41v20m6 80v1m1 -7v2m0 1v4m1 -14v1m0 2v1m0 2v1m0 2v3m1 -15v1m0 2v4m0 1v1m0 3v1m1 -238v17m0 207v2m0 1v1m0 1v1m0 2v2m1 -197v15m0 174v1m1 -170v5m0 155v2m1 -154v5m0 146v5m0 1v2m1 -154v6m0 140v1m0 2v3m1 -147v7m1 -2v9m0 14v43m0 62v2m0 2v4m1 -126v12m0 48v9m0 1v2m0 46v1m1 -47v1m0 28v1m0 4v1m0 5v1m0 4v1m0 2v2m1 -49v1m0 18v1m0 1v3m0 3v3m0 2v2m0 4v2m0 4v1m0 3v1m1 -34v1m0 2v8m0 3v1m0 2v1m0 1v2m0 1v2m0 4v1m1 -43v1m0 13v2m0 1v1m0 1v1m0 3v2m0 8v4m0 2v1m0 1v2m1 -37v2m0 4v2m0 1v2m0 8v1m0 3v2m0 4v1m0 3v3m1 -36v1m0 1v1m0 3v2m0 2v1m0 8v1m0 3v2m1 -30v3m0 1v1m0 2v2m0 1v1m1 -11v5m0 3v3m1 -8v1m0 5v1"/>
<path stroke="#1bd0d5" d="M56.5 168v1m0 5v1m1 -10v5m0 3v3m1 -11v3m0 4v1m1 -3v3m0 3v2m0 2v1m0 8v1m0 3v2m0 9v1m1 -34v1m0 4v2m0 1v1m0 9v1m0 3v2m0 4v1m0 3v3m1 -42v1m0 13v1m0 2v1m0 1v1m0 3v2m0 8v2m0 1v1m0 2v1m0 1v2m1 -26v8m0 1v1m0 1v1m0 2v1m0 2v1m0 1v2m0 9v1m1 -49v1m0 21v2m0 3v2m0 3v2m0 4v2m0 4v1m0 2v2m0 3v1m0 5v1m0 18v1m0 1v1m1 -80v1m0 27v1m0 15v1m0 4v4m0 3v2m0 1v2m0 2v1m0 10v2m1 -31v2m0 2v2m0 5v2m0 5v1m0 5v4m1 -28v2m0 6v3m0 5v1m0 2v1m0 1v3m0 23v3m1 -41v1m0 6v2m0 2v1m0 2v1m0 14v1m1 -85v1m0 62v1m0 2v1m5 13v1m1 -1v1m1 -82v1m1 -1v1m1 -162v18m0 143v1m1 -137v33m0 103v1m1 -145v48m0 35v41m1 -95v60m0 34v21m1 -75v12m3 137v2m0 3v2m1 -8v3m0 1v3m1 -16v1m0 2v1m0 2v1m0 2v1m0 2v1m1 -14v2m0 1v1m0 1v2m0 1v2m1 -10v1m0 2v1m0 4v1m1 -216v19m0 181v1m0 8v1m1 -175v6m0 158v3m0 3v2m1 -162v4m0 150v1m0 2v2m0 1v2m1 -154v4m0 147v1m1 -146v6m0 126v2m0 2v4m1 -134v7m0 17v17m0 9v8m0 68v2m0 2v4m1 -127v14m0 43v16m0 29v1m0 15v1m0 2v2m1 -50v1m0 22v2m0 3v2m0 3v2m0 4v2m0 4v1m0 2v2m1 -49v1m0 17v8m0 1v1m0 1v1m0 2v1m0 2v1m0 1v2m0 4v1m1 -43v1m0 13v1m0 2v1m0 1v1m0 3v2m0 8v2m0 1v1m0 2v1m0 1v2m1 -43v1m0 6v1m0 4v2m0 1v1m0 9v1m0 3v2m0 4v1m0 3v3m1 -36v3m0 3v2m0 2v1m0 8v1m0 3v2m0 9v1m1 -40v3m0 4v1m1 -8v5m0 3v3m1 -8v1m0 5v1"/>
<path stroke="#18d7ca" d="M58.5 168v2m0 3v3m1 -11v5m0 3v1m0 1v1m1 -11v1m0 4v1m0 1v1m0 7v1m1 -11v3m0 3v2m0 1v2m0 8v1m0 3v2m0 4v1m0 4v1m1 -41v1m0 6v1m0 5v3m0 9v1m0 7v1m0 1v1m0 3v4m0 34v1m1 -78v1m0 13v1m0 2v4m0 2v2m0 3v1m0 4v2m0 1v1m0 2v1m0 2v1m1 -25v1m0 1v5m0 1v1m0 1v1m0 2v2m0 1v1m0 1v3m0 7v2m0 9v1m0 17v1m1 -77v1m0 22v1m0 3v2m0 4v1m0 5v1m0 4v1m0 2v1m0 3v2m0 5v3m0 12v1m1 -74v1m0 27v1m0 20v4m0 3v2m0 1v2m0 2v1m0 5v1m0 19v3m1 -47v2m0 2v1m0 3v1m0 1v2m0 6v2m0 1v2m0 1v1m1 -17v3m0 5v1m0 2v1m0 1v3m0 2v3m0 6v1m1 -82v1m0 54v1m0 6v2m0 2v1m0 2v1m0 3v2m1 -75v1m0 65v1m0 6v2m1 -75v1m1 79v1m6 -243v25m1 -25v17m0 144v1m1 -133v17m0 60v34m0 101v1m1 -179v23m0 12v63m0 80v1m1 -155v16m0 132v1m0 4v2m1 -7v2m0 1v1m0 1v2m1 -14v1m0 2v1m0 2v1m0 3v2m1 -15v1m0 2v4m0 5v1m1 -14v1m0 2v1m0 1v2m0 1v2m1 -8v1m1 -227v14m0 203v2m0 7v1m1 -191v15m0 165v1m0 1v3m0 1v2m1 -166v5m0 156v3m1 -156v5m0 137v2m0 2v4m0 5v1m1 -148v5m0 129v2m0 2v4m1 -134v5m0 104v1m0 18v1m1 -122v17m0 17v9m0 8v22m0 24v1m0 3v2m0 4v1m0 5v1m0 4v1m0 2v2m1 -50v2m0 18v1m0 1v5m0 1v1m0 1v1m0 2v2m0 1v1m0 1v3m1 -40v2m0 13v1m0 2v4m0 2v2m0 3v1m0 4v2m0 1v1m0 2v1m0 2v1m1 -43v1m0 6v1m0 5v3m0 9v1m0 7v1m0 1v1m0 3v3m1 -36v3m0 3v2m0 1v2m0 8v1m0 3v2m0 4v1m0 4v1m1 -40v1m0 4v1m0 1v1m0 7v1m1 -16v5m0 3v1m0 1v1m1 -8v2m0 3v3"/>
<path stroke="#18dec0" d="M59.5 174v1m1 -9v4m0 3v3m1 -11v3m0 1v1m0 3v1m0 1v1m1 -6v1m0 1v1m0 3v1m0 3v1m0 12v2m1 -25v2m0 4v2m0 1v2m0 8v1m0 3v2m0 4v1m0 4v2m0 35v1m1 -78v1m0 13v2m0 1v1m0 1v1m0 13v1m0 1v1m0 3v1m0 1v2m1 -43v1m0 13v1m0 2v5m0 1v2m0 3v1m0 2v1m0 1v2m0 1v2m0 4v1m0 4v1m1 -30v1m0 1v3m0 3v1m0 1v1m0 2v2m0 4v2m0 4v1m0 2v2m0 9v1m0 11v2m0 15v2m1 -89v1m0 27v1m0 4v1m0 5v1m0 4v1m0 2v1m0 2v3m0 4v1m0 1v2m0 9v3m0 9v1m1 -83v1m0 44v2m0 2v2m0 5v2m0 5v1m0 5v2m1 -26v2m0 6v1m0 1v1m0 8v1m0 1v2m0 3v1m0 2v2m1 -23v3m0 5v2m0 1v1m0 1v3m0 2v1m0 3v1m1 -22v1m0 6v2m0 2v1m0 6v2m0 5v1m1 -81v1m0 62v1m0 2v1m0 6v2m1 -75v1m0 72v1m4 5v1m1 -2v2m1 -2v2m1 -229v16m0 132v1m0 73v1m0 4v1m1 -190v12m0 172v2m0 3v1m1 -168v14m0 16v58m0 67v1m0 5v1m0 1v1m0 1v2m1 -152v19m0 14v13m0 6v21m0 64v1m0 2v1m0 2v1m0 2v1m0 2v1m0 1v1m1 -16v2m0 1v1m0 1v2m0 2v1m0 3v1m1 -14v1m0 2v1m0 4v2m1 -17v2m0 7v1m1 -11v3m0 4v1m1 -210v13m0 189v1m0 2v2m0 1v2m1 -173v6m0 152v1m0 11v1m1 -159v4m0 141v2m0 2v4m1 -145v4m1 4v5m0 107v1m0 4v1m0 5v1m0 4v1m0 2v2m1 -125v62m0 12v1m0 20v1m0 1v3m0 3v1m0 1v1m0 2v2m0 4v2m0 4v1m0 3v1m1 -50v2m0 14v1m0 2v5m0 1v2m0 3v1m0 2v1m0 1v2m0 1v2m0 4v1m1 -43v1m0 13v2m0 1v1m0 1v1m0 13v1m0 1v1m0 3v1m0 1v2m1 -37v2m0 4v2m0 1v2m0 8v1m0 3v2m0 4v1m0 4v2m1 -36v1m0 1v1m0 3v1m0 3v1m0 12v2m1 -30v3m0 1v1m0 3v1m0 1v1m1 -10v4m0 3v3m1 -2v1"/>
<path stroke="#1ae4b6" d="M61.5 168v1m0 5v1m1 -10v5m0 3v3m1 -11v2m0 5v1m1 -3v3m0 3v2m0 2v1m0 8v1m0 3v2m0 9v1m0 35v1m0 1v1m1 -72v1m0 5v1m0 1v1m0 9v1m0 4v1m0 4v1m0 3v3m0 31v1m1 -74v1m0 13v1m0 2v1m0 1v1m0 3v2m0 8v2m0 1v1m0 2v1m0 2v1m0 28v1m0 12v2m1 -68v7m0 1v1m0 1v1m0 2v1m0 2v1m0 1v2m0 9v1m0 9v1m1 -37v2m0 3v2m0 4v1m0 5v1m0 4v1m0 2v1m0 3v2m0 5v3m0 13v2m1 -76v1m0 27v1m0 20v4m0 3v2m0 1v2m0 2v1m0 5v2m0 5v1m1 -32v2m0 2v2m0 5v2m0 5v1m0 5v2m0 3v1m0 1v1m0 2v1m1 -35v2m0 6v1m0 1v1m0 8v1m0 1v3m0 2v1m0 2v3m1 -24v3m0 5v1m0 2v1m0 1v3m0 2v1m0 3v1m1 -22v1m0 6v2m0 2v1m0 2v1m0 2v1m0 1v1m0 1v1m0 1v1m1 -79v1m0 62v1m0 2v1m0 6v2m0 3v2m1 -80v1m0 62v1m0 2v1m0 6v2m0 3v2m1 -80v1m0 65v1m0 6v2m0 3v2m1 -80v1m0 65v1m0 6v2m0 3v1m1 -13v1m0 6v2m1 -12v1m0 2v1m0 6v2m0 1v2m1 -240v13m0 212v1m0 2v1m0 2v1m0 2v1m0 1v1m0 1v2m1 -203v14m0 110v1m0 63v1m0 2v1m0 2v1m0 2v1m0 2v3m1 -175v8m0 88v1m0 62v2m0 1v1m0 1v3m0 5v1m1 -159v9m0 19v14m0 13v6m0 77v1m0 6v1m0 2v1m0 1v2m0 1v2m1 -146v15m0 42v16m0 56v2m0 7v1m0 5v1m1 -17v3m0 7v1m1 -11v1m0 2v2m0 1v2m1 -5v4m1 -196v11m0 170v2m0 2v4m0 5v1m1 -165v5m0 146v1m0 3v4m1 -149v4m0 120v1m0 15v1m0 2v1m1 -136v6m0 104v2m0 3v2m0 4v1m0 5v1m0 4v1m0 2v2m1 -128v6m0 14v38m0 40v7m0 1v1m0 1v1m0 2v1m0 2v1m0 1v2m1 -53v12m0 1v3m0 13v1m0 2v1m0 1v1m0 3v2m0 8v2m0 1v1m0 2v1m0 2v1m1 -43v1m0 6v1m0 5v1m0 1v1m0 9v1m0 4v1m0 4v1m0 3v3m1 -36v3m0 3v2m0 2v1m0 8v1m0 3v2m0 9v1m1 -40v2m0 5v1m1 -8v5m0 3v3m1 -8v1m0 5v1"/>
<path stroke="#20eaac" d="M63.5 167v3m0 3v3m1 -11v3m0 1v1m0 3v1m0 1v1m1 -6v1m0 1v1m0 3v1m0 3v1m0 12v1m0 44v1m1 -69v2m0 4v2m0 1v1m0 9v1m0 3v2m0 4v1m0 4v2m0 41v1m1 -84v1m0 13v2m0 1v1m0 15v1m0 1v1m0 3v1m0 1v2m0 29v1m1 -73v1m0 13v1m0 2v4m0 2v2m0 3v1m0 2v1m0 1v2m0 1v2m0 4v1m0 4v1m1 -30v1m0 1v3m0 3v1m0 1v1m0 2v2m0 4v2m0 4v1m0 2v2m0 9v1m1 -59v1m0 26v2m0 4v1m0 5v1m0 4v1m0 2v1m0 3v2m0 5v3m0 16v1m1 -78v1m0 27v1m0 20v4m0 3v2m0 1v2m0 2v1m0 5v2m0 6v1m1 -33v2m0 2v2m0 5v1m0 6v1m0 5v2m0 3v1m0 1v3m1 -34v2m0 6v1m0 1v1m0 8v1m0 1v2m0 6v1m0 1v1m0 1v1m1 -26v3m0 5v1m0 2v1m0 1v3m0 2v1m0 2v3m1 -24v3m0 5v1m0 2v1m0 1v3m0 2v1m0 3v2m1 -23v1m0 6v2m0 3v3m0 2v1m0 3v2m1 -23v1m0 6v2m0 5v1m0 2v1m0 3v2m1 -78v1m0 54v1m0 6v2m0 3v3m0 2v1m0 2v3m1 -78v1m0 54v1m0 6v1m0 2v1m0 1v3m0 2v1m0 2v1m1 -21v1m0 6v1m0 2v1m0 1v2m0 6v1m1 -216v15m0 180v1m0 6v1m0 2v1m0 1v2m0 1v2m1 -177v8m0 151v3m0 7v1m0 5v2m1 -165v10m0 82v1m0 54v1m0 1v1m0 7v1m1 -153v14m0 15v42m0 16v1m0 54v1m0 2v2m0 1v2m1 -71v4m0 52v1m0 9v2m0 1v2m1 -16v2m0 2v2m0 7v1m1 -222v8m0 200v2m0 2v4m1 -178v10m0 143v1m1 -130v4m0 124v2m0 4v1m0 5v1m0 4v1m0 2v2m1 -141v5m0 106v1m0 1v3m0 3v1m0 1v1m0 2v2m0 4v2m0 8v1m1 -131v5m0 92v1m0 2v4m0 2v2m0 3v1m0 2v1m0 1v2m0 1v2m0 4v1m1 -117v14m0 38v23m0 13v2m0 1v1m0 15v1m0 1v1m0 3v1m0 1v2m1 -37v2m0 4v2m0 1v1m0 9v1m0 3v2m0 4v1m0 4v2m1 -36v1m0 1v1m0 3v1m0 3v1m0 12v1m1 -29v3m0 1v1m0 3v1m0 1v1m1 -9v3m0 3v3"/>
<path stroke="#2aefa1" d="M64.5 168v1m0 5v1m0 66v1m1 -77v3m0 1v1m0 3v1m0 1v1m1 -11v1m0 6v1m0 7v1m0 55v1m0 9v1m1 -77v3m0 3v2m0 2v1m0 8v1m0 3v2m0 9v1m1 -34v1m0 5v1m0 1v1m0 9v1m0 9v1m0 3v3m0 33v1m1 -76v1m0 13v1m0 2v1m0 1v1m0 3v2m0 8v2m0 1v1m0 2v1m0 2v1m0 33v1m0 1v1m1 -62v8m0 3v1m0 2v1m0 2v1m0 1v2m0 9v1m1 -27v2m0 3v1m0 4v2m0 4v2m0 4v1m0 2v2m0 9v1m0 19v1m1 -79v1m0 27v1m0 4v1m0 5v1m0 4v1m0 2v1m0 3v2m0 4v1m0 1v2m1 -61v1m0 48v4m0 3v2m0 1v2m0 2v1m0 5v2m1 -26v2m0 2v2m0 5v2m0 5v1m0 5v2m1 -26v2m0 9v1m0 6v1m0 5v2m0 3v1m1 -30v2m0 6v1m0 1v1m0 8v1m0 4v2m0 3v1m1 -22v1m0 1v1m0 8v1m0 1v2m0 1v2m0 3v1m1 -22v1m0 1v1m0 8v1m0 4v2m1 -18v1m0 1v1m0 7v1m0 5v2m1 -72v1m0 53v1m0 1v1m0 7v1m0 5v2m1 -226v14m0 140v1m0 53v1m0 1v2m0 6v1m1 -180v10m0 105v1m0 46v1m0 9v2m0 1v2m1 -224v11m0 47v11m0 139v2m0 9v2m0 1v2m1 -186v36m0 134v2m0 2v2m0 7v1m1 -149v33m0 17v10m0 7v13m0 4v5m0 46v1m0 3v4m0 5v1m1 -8v2m1 -208v10m0 173v1m0 4v1m0 5v1m0 4v1m0 2v1m1 -163v7m0 130v2m0 3v1m0 4v2m0 4v2m0 4v1m0 2v2m1 -146v4m0 111v8m0 3v1m0 2v1m0 2v1m0 1v2m1 -126v6m0 82v1m0 13v1m0 2v1m0 1v1m0 3v2m0 8v2m0 1v1m0 2v1m0 2v1m1 -121v6m0 9v45m0 15v4m0 6v1m0 5v1m0 1v1m0 9v1m0 9v1m0 3v3m1 -36v3m0 3v2m0 2v1m0 8v1m0 3v2m0 9v1m1 -40v1m0 6v1m0 7v1m1 -16v3m0 1v1m0 3v1m0 1v1m1 -8v1m0 5v1"/>
<path stroke="#35f394" d="M65.5 168v1m0 5v1m0 64v1m0 3v1m1 -78v4m0 3v3m1 -11v3m0 69v1m0 6v1m1 -75v1m0 1v1m0 3v1m0 3v1m0 12v2m1 -24v1m0 4v2m0 1v1m0 9v1m0 3v2m0 4v1m0 4v2m1 -42v1m0 13v1m0 18v1m0 1v1m0 3v1m0 1v2m0 34v1m1 -78v1m0 13v1m0 2v4m0 2v2m0 3v1m0 4v2m0 1v1m0 5v1m1 -25v1m0 1v5m0 1v1m0 1v1m0 2v1m0 2v1m0 1v2m0 9v1m0 9v1m1 -37v2m0 3v2m0 4v1m0 4v2m0 4v1m0 2v1m0 10v1m1 -59v1m0 27v1m0 4v1m0 5v1m0 4v1m0 2v1m0 3v2m0 5v3m1 -61v1m0 27v1m0 20v4m0 4v1m0 1v2m1 -61v1m0 48v3m0 4v2m0 1v2m0 2v1m1 -19v2m0 2v2m0 5v2m0 1v2m0 2v1m1 -19v2m0 2v2m0 5v2m0 1v2m0 2v1m1 -19v2m0 2v2m0 5v2m0 1v2m1 -16v2m0 2v2m0 5v2m0 1v2m1 -224v8m0 200v2m0 2v3m0 5v1m0 1v2m1 -224v47m0 161v1m0 3v4m0 5v1m1 -211v47m0 104v1m0 49v4m0 5v1m1 -195v11m0 124v1m0 28v1m0 22v2m1 -153v10m0 33v17m0 10v7m0 22v1m0 28v1m0 4v1m0 5v1m0 4v1m0 2v1m1 -121v9m0 49v13m0 24v2m0 3v2m0 4v1m0 4v2m0 4v1m0 2v2m1 -194v10m0 154v1m0 1v5m0 1v1m0 1v1m0 2v1m0 2v1m0 1v2m0 9v1m1 -157v5m0 118v1m0 2v4m0 2v2m0 3v1m0 4v2m0 1v1m0 5v1m1 -137v6m0 87v2m0 13v1m0 18v1m0 1v1m0 3v1m0 1v2m1 -125v5m0 21v11m0 43v2m0 7v1m0 4v2m0 1v1m0 9v1m0 3v2m0 4v1m0 4v2m1 -114v9m0 45v15m0 9v1m0 1v1m0 3v1m0 3v1m0 12v2m1 -30v3m1 -2v4m0 3v3m1 -8v1m0 5v1"/>
<path stroke="#43f787" d="M66.5 237v1m0 7v1m1 -78v2m0 3v3m0 62v1m1 -74v3m0 1v1m0 3v1m0 1v1m0 64v1m1 -71v1m0 1v1m0 7v1m0 60v1m1 -72v2m0 4v2m0 1v2m0 8v1m0 3v2m0 9v1m1 -34v1m0 5v1m0 1v1m0 9v1m0 9v1m0 3v3m1 -42v1m0 13v1m0 2v1m0 1v1m0 13v1m0 5v1m0 2v1m1 -43v1m0 13v1m0 2v4m0 2v2m0 3v1m0 2v1m0 1v2m0 1v1m0 5v1m0 4v1m1 -30v1m0 1v5m0 1v1m0 1v1m0 2v1m0 2v1m0 1v2m0 9v1m1 -27v2m0 3v1m0 4v2m0 4v2m0 4v1m0 2v2m0 9v1m1 -32v2m0 4v1m0 5v1m0 4v1m0 2v1m0 4v1m0 5v1m1 -59v1m0 27v1m0 4v1m0 5v1m0 4v1m0 2v1m0 3v2m0 5v1m1 -59v1m0 27v1m0 4v1m0 10v1m0 2v1m0 3v2m0 5v1m1 -59v1m0 27v1m0 15v1m0 6v2m0 5v1m1 -59v1m0 27v1m0 15v1m0 6v2m0 5v1m1 -59v1m0 27v1m0 4v1m0 10v1m0 2v1m0 4v1m0 5v1m1 -59v1m0 27v1m0 4v1m0 5v1m0 4v1m0 2v1m1 -48v1m0 26v2m0 4v1m0 5v1m0 4v1m0 2v2m1 -197v12m0 136v1m0 21v2m0 3v1m0 4v2m0 4v2m0 4v1m0 2v2m1 -158v9m0 100v1m0 18v1m0 1v5m0 1v1m0 1v1m0 2v1m0 2v1m0 1v2m0 9v1m1 -133v11m0 9v11m0 7v31m0 13v3m0 14v1m0 2v4m0 2v2m0 3v1m0 2v1m0 1v2m0 1v1m0 5v1m1 -179v10m0 125v2m0 13v1m0 2v1m0 1v1m0 13v1m0 5v1m0 2v1m1 -147v6m0 97v2m0 6v1m0 5v1m0 1v1m0 9v1m0 9v1m0 3v3m1 -130v6m0 80v1m0 7v2m0 4v2m0 1v2m0 8v1m0 3v2m0 9v1m1 -118v21m0 11v31m0 10v2m0 8v1m0 1v1m0 7v1m1 -16v3m0 1v1m0 3v1m0 1v1m1 -8v2m0 3v3"/>
<path stroke="#52fa7a" d="M68.5 168v1m0 5v1m0 67v1m1 -78v3m0 1v1m0 3v1m0 1v1m1 -11v1m0 6v1m1 -3v1m0 1v1m0 3v1m0 3v1m0 12v2m1 -24v1m0 4v2m0 1v1m0 9v1m0 3v2m0 4v1m0 4v2m1 -35v1m0 7v1m0 19v1m0 3v3m1 -42v1m0 13v1m0 2v1m0 1v1m0 13v1m0 5v1m0 2v1m1 -43v1m0 13v1m0 2v4m0 2v2m0 3v1m0 4v2m0 1v1m0 5v1m1 -25v7m0 3v1m0 2v1m0 2v1m0 1v2m0 9v1m1 -30v1m0 1v3m0 3v1m0 1v1m0 2v1m0 2v1m0 2v1m0 9v1m1 -30v1m0 1v3m0 3v1m0 1v1m0 2v1m0 5v2m0 8v1m1 -30v1m0 2v2m0 3v1m0 4v2m0 4v2m0 7v2m1 -30v1m0 2v2m0 3v1m0 4v2m0 4v2m0 7v2m1 -30v1m0 1v3m0 3v1m0 1v1m0 2v1m0 5v2m0 8v1m1 -30v1m0 1v3m0 3v1m0 1v1m0 2v1m0 2v1m0 2v1m0 9v1m1 -30v7m0 3v1m0 2v1m0 2v1m0 1v2m1 -199v12m0 163v1m0 2v4m0 2v2m0 3v1m0 4v2m0 1v1m0 5v1m1 -164v11m0 110v1m0 13v1m0 2v1m0 1v1m0 13v1m0 5v1m0 2v1m1 -207v8m0 60v11m0 31v7m0 47v1m0 6v1m0 7v1m0 19v1m0 3v3m1 -168v10m0 40v14m0 43v18m0 8v1m0 4v2m0 1v1m0 9v1m0 3v2m0 4v1m0 4v2m1 -140v7m0 89v1m0 7v1m0 1v1m0 3v1m0 3v1m0 12v2m1 -113v6m0 17v37m0 19v1m0 3v1m0 6v1m1 -23v10m0 5v3m0 1v1m0 3v1m0 1v1m1 -8v1m0 5v1"/>
<path stroke="#61fc6c" d="M65.5 240v1m1 -3v1m3 -71v1m0 5v1m1 -9v4m0 3v3m1 -11v3m1 2v1m0 1v1m0 7v1m1 -11v1m0 1v1m0 3v2m0 2v1m0 8v1m0 3v2m1 -24v1m0 5v1m0 1v1m0 9v1m0 3v2m0 4v1m0 4v2m1 -35v1m0 7v1m0 19v1m0 3v3m1 -42v1m0 13v1m0 2v1m0 15v1m0 5v1m0 1v2m1 -43v1m0 13v1m0 2v1m0 1v1m0 3v2m0 8v1m0 2v1m0 2v1m0 2v1m1 -43v1m0 13v1m0 2v1m0 1v1m0 3v2m0 8v2m0 1v1m0 5v1m1 -43v1m0 13v1m0 2v1m0 1v2m0 2v2m0 3v1m0 4v2m0 1v1m0 5v1m1 -43v1m0 13v1m0 2v1m0 1v2m0 2v2m0 3v1m0 4v2m0 1v1m0 5v1m1 -43v1m0 13v1m0 2v1m0 1v1m0 3v2m0 8v2m0 1v1m0 5v1m1 -43v1m0 13v1m0 2v1m0 1v1m0 3v2m0 8v1m0 2v1m0 2v1m0 2v1m1 -43v1m0 13v1m0 2v1m0 15v1m0 5v1m0 1v2m1 -207v3m0 161v1m0 6v1m0 7v1m0 19v1m0 3v3m1 -176v13m0 128v1m0 5v1m0 1v1m0 9v1m0 3v2m0 4v1m0 4v2m1 -198v10m0 43v7m0 102v1m0 1v1m0 3v2m0 2v1m0 8v1m0 3v2m1 -147v11m0 20v9m0 14v43m0 25v1m0 1v1m0 7v1m1 -108v8m0 80v1m0 3v3m1 -80v17m0 37v19m0 5v4m0 3v3m1 -8v1m0 5v1"/>
<path stroke="#71fe5f" d="M67.5 239v1m1 1v1m3 -74v2m0 3v3m1 -11v3m0 1v1m0 3v1m0 1v1m1 -11v1m1 4v1m0 1v1m0 3v1m0 3v1m1 -11v1m0 1v1m0 3v2m0 2v1m0 8v1m0 3v2m1 -25v2m0 4v2m0 1v1m0 9v1m0 3v2m0 4v1m0 4v1m1 -34v1m0 5v1m0 1v1m0 9v1m0 4v1m0 4v1m0 4v2m1 -35v1m0 5v1m0 1v1m0 9v1m0 9v1m0 3v3m1 -35v1m0 7v1m0 19v1m0 3v3m1 -35v1m0 7v1m0 19v1m0 3v3m1 -35v1m0 5v1m0 1v1m0 9v1m0 9v1m0 3v3m1 -35v1m0 5v1m0 1v1m0 9v1m0 4v1m0 4v1m0 4v2m1 -36v2m0 4v2m0 1v1m0 9v1m0 3v2m0 4v1m0 4v1m1 -35v1m0 1v1m0 3v2m0 2v1m0 8v1m0 3v2m1 -178v13m0 140v1m0 1v1m0 3v1m0 3v1m1 -163v10m0 26v7m0 104v1m1 -107v20m0 86v3m0 1v1m0 3v1m0 1v1m1 -95v80m0 7v2m0 3v3"/>
<path stroke="#84ff51" d="M66.5 244v1m6 -77v1m0 5v1m1 -9v4m0 3v3m1 -11v3m0 1v1m0 3v1m1 -9v1m1 6v1m0 7v1m1 -11v1m0 1v1m0 3v1m0 3v1m0 12v1m1 -24v1m0 1v1m0 3v1m0 3v1m0 12v2m1 -25v1m0 1v1m0 3v2m0 2v1m0 8v1m0 3v2m1 -25v1m0 1v1m0 3v2m0 2v1m0 8v1m0 3v2m1 -25v1m0 1v1m0 3v1m0 3v1m0 12v2m1 -25v1m0 1v1m0 3v1m0 3v1m0 12v1m1 -22v1m0 7v1m1 -16v1m1 -163v14m0 148v3m0 1v1m0 3v1m1 -146v10m0 5v11m0 112v4m0 3v3m1 -8v1m0 5v1"/>
<path stroke="#92ff47" d="M65.5 242v1m1 -4v1m1 3v1m7 -76v1m0 5v2m1 -10v4m0 3v1m0 1v1m1 -11v3m0 1v1m0 3v1m0 1v1m1 -11v3m1 -3v2m1 -2v1m1 -1v1m1 -1v2m1 -2v3m1 -3v3m0 1v1m0 3v1m0 1v1m1 -10v4m0 3v1m0 1v1m1 -176v3m0 165v1m0 5v2m1 -138v5"/>
<path stroke="#9ffd3f" d="M65.5 241v1m2 -2v1m8 -67v1m1 -7v1m0 5v1m1 -7v2m0 3v3m1 -9v3m0 3v3m1 -10v2m0 1v1m0 3v1m0 1v1m1 -10v2m0 1v1m0 3v1m0 1v1m1 -9v3m0 3v3m1 -8v2m0 3v3m1 -8v1m0 5v1m1 -1v1"/>
<path stroke="#a9fb39" d="M79.5 168v1m0 5v1m1 -7v1m0 5v1"/>
<path stroke="#b4f836" d="M66.5 240v1"/>
<path stroke="#c8ef34" d="M66.5 243v1"/>
<path stroke="#d2e935" d="M67.5 241v2"/>
<path stroke="#ebd339" d="M66.5 241v2"/>
</g>
<g transform="translate(818.6 357.2) scale(1.0014 1.0011)" shape-rendering="crispEdges" fill="none" stroke-width="1">
<rect x="0" y="0" width="138" height="273" fill="#f2ecf5" stroke="none"/>
<path stroke="#ebe6f2" d="M10.5 68v89m1 -146v154m0 8v6m1 -171v172m1 -174v176m1 -177v52m0 104v22m1 -178v46m0 113v23m1 -182v48m0 112v41m1 -200v51m0 108v42m1 -199v52m0 105v43m1 -197v52m0 103v44m1 -162v12m0 116v35m1 -159v6m0 120v34m1 -158v6m0 118v35m1 -195v39m0 107v9m0 4v38m1 -137v96m0 3v39m0 29v28m1 -197v98m0 3v40m1 -143v144m1 -146v148m1 -149v95m0 3v52m1 -152v10m0 91v52m1 -153v8m0 94v52m0 21v29m1 -202v9m0 3v7m0 28v7m0 46v7m0 1v46m0 20v27m1 -193v3m0 8v2m0 2v3m0 1v19m0 11v5m0 20v12m0 6v6m0 4v45m1 -92v5m0 1v2m0 2v6m0 16v3m0 2v6m0 28v22m0 18v23m1 -99v7m0 31v22m0 15v29m1 -103v5m0 34v21m0 15v24m1 -99v5m0 36v20m1 -230v7m0 162v4m0 39v19m1 -214v5m0 22v6m0 2v3m0 2v4m0 1v4m0 1v2m0 1v3m0 3v2m0 42v1m0 48v4m0 41v19m0 9v30m1 -190v11m0 2v3m0 1v10m0 1v5m0 11v4m0 24v12m0 1v6m0 43v18m0 9v29m1 -138v5m0 2v3m0 1v5m0 20v2m0 46v17m0 6v3m1 -74v2m0 48v17m1 -67v2m0 50v16m0 4v30m1 -103v3m0 52v15m0 2v31m1 -103v2m0 55v46m1 -103v2m0 57v44m1 -41v11m1 -162v86m0 2v3m0 62v10m1 -163v1m0 1v5m0 2v1m0 3v1m0 3v1m0 71v1m0 66v6m1 -124v1m0 3v1m0 3v1m0 3v2m0 2v2m0 1v3m0 1v3m0 1v3m0 1v21m0 68v3m1 -2v1m2 1v31m3 -273v66m1 1v1m0 2v7m0 1v2m0 2v1m0 7v1m0 3v1m0 3v1m0 2v2m0 2v2m0 2v2m0 2v2m0 2v2m0 1v29m0 1v2m0 2v2m0 2v2m0 2v2m0 2v2m1 0v2m1 -1v1m1 -1v1m1 -1v1m1 -1v1m1 -1v1m1 -1v1m12 -1v1m1 -1v1m1 -1v1m1 -1v1m1 -1v1m1 -1v1m1 -2v2m1 -103v1m0 2v7m0 1v2m0 2v1m0 7v1m0 3v1m0 3v1m0 2v2m0 2v2m0 2v2m0 2v2m0 2v2m0 1v29m0 1v2m0 2v2m0 2v2m0 2v2m0 2v2m1 -168v66m1 200v7m4 -33v2m1 -123v1m0 3v1m0 3v1m0 3v2m0 2v2m0 1v3m0 1v3m0 1v3m0 1v21m0 68v3m1 -161v1m0 1v5m0 2v1m0 3v1m0 3v1m0 71v1m0 66v6m1 -162v86m0 2v3m0 62v9m1 -11v41m1 -103v2m0 57v14m1 -73v2m0 55v14m0 4v13m1 -88v3m0 52v15m1 -69v2m0 50v16m0 3v31m1 -102v2m0 48v17m0 5v30m1 -138v5m0 2v3m0 1v5m0 20v2m0 46v17m1 -153v11m0 2v3m0 1v10m0 1v5m0 11v4m0 24v12m0 1v6m0 43v18m0 8v30m1 -255v5m0 22v6m0 2v3m0 2v4m0 1v4m0 1v2m0 1v3m0 3v2m0 42v1m0 48v4m0 41v19m0 9v30m1 -272v7m0 162v4m0 39v19m0 13v27m1 -102v5m0 36v20m0 14v28m1 -103v5m0 34v21m0 13v30m1 -104v7m0 31v22m1 -95v5m0 1v2m0 2v6m0 16v3m0 2v6m0 28v22m0 19v4m1 -171v3m0 8v2m0 2v3m0 1v19m0 11v5m0 20v12m0 6v6m0 4v45m1 -155v9m0 3v7m0 28v7m0 46v7m0 1v46m1 -156v8m0 94v52m1 -154v10m0 91v52m0 22v29m1 -202v95m0 3v52m0 24v22m1 -195v148m0 24v29m1 -199v144m1 -142v98m0 3v40m1 -139v96m0 3v39m1 -198v39m0 107v9m0 4v38m1 -161v6m0 118v35m1 -161v6m0 120v34m1 -164v12m0 116v35m1 -200v52m0 103v44m1 -202v52m0 105v43m1 -202v51m0 108v42m1 -202v48m0 112v41m1 -201v46m0 113v23m1 -182v52m0 104v22m1 -177v176m1 -174v172m1 -169v154m0 8v6m1 -111v89"/>
<path stroke="#e1dfed" d="M14.5 57v104m1 -110v113m1 -111v112m1 -108v108m1 -105v105m1 -102v103m1 -106v12m0 87v17m1 -118v4m0 109v7m1 -118v6m0 100v12m1 -166v6m0 39v107m0 9v4m1 -141v23m0 8v11m0 96v3m1 -177v9m0 35v32m0 98v3m1 -177v9m0 34v31m1 -24v22m1 -16v15m1 -46v7m0 29v8m1 -4v4m1 -3v5m0 107v1m1 -104v4m0 3v1m0 1v3m0 2v1m0 2v2m0 3v1m0 19v6m0 1v4m0 49v4m1 -69v1m0 17v1m0 1v2m0 16v4m0 10v2m0 11v28m1 -67v2m0 2v2m0 24v1m0 7v31m1 -38v1m0 5v34m1 -40v1m0 5v36m1 -203v4m0 40v2m0 3v2m0 4v1m0 4v1m0 100v1m0 4v39m1 -190v5m0 11v6m0 25v1m0 3v3m0 2v5m0 10v2m0 20v5m0 1v5m0 42v1m0 4v41m1 -105v1m0 20v4m0 16v4m0 12v1m0 6v43m1 -77v2m0 3v1m0 27v46m0 26v28m1 -100v48m1 -48v50m1 -50v52m1 -53v6m0 28v21m1 -60v3m0 2v4m0 33v20m1 -60v5m0 40v18m0 11v2m1 -245v19m0 2v60m0 91v2m0 44v16m0 10v29m1 -270v13m0 8v13m0 9v13m0 10v1m0 3v1m0 2v5m0 1v1m0 88v2m0 47v17m0 6v2m0 24v4m1 -185v1m0 3v1m0 3v1m0 2v3m0 1v3m0 1v3m0 1v8m0 1v3m0 1v3m0 1v3m0 2v2m0 2v1m0 3v1m0 3v1m0 3v1m0 21v1m0 52v15m0 3v3m0 15v13m1 -45v12m0 1v2m1 -11v12m1 -8v6m1 -2v2m1 -242v20m0 21v19m0 180v1m1 -175v1m0 1v2m0 10v2m0 2v2m0 2v2m0 2v1m0 3v1m0 3v1m0 3v1m0 3v1m1 40v1m0 2v2m0 2v2m0 2v2m0 2v2m0 2v2m1 0v1m1 -1v1m1 -1v1m1 -1v1m1 -1v1m1 -1v1m14 -1v1m1 -1v1m1 -1v1m1 -1v1m1 -1v1m1 -1v1m0 72v30m1 -124v1m0 2v2m0 2v2m0 2v2m0 2v2m0 2v2m1 -104v1m0 1v2m0 10v2m0 2v2m0 2v2m0 2v1m0 3v1m0 3v1m0 3v1m0 3v1m1 -109v20m0 21v19m0 180v26m1 -26v2m1 -6v9m0 11v17m1 -41v12m1 -16v12m0 2v3m1 -157v1m0 3v1m0 3v1m0 2v3m0 1v3m0 1v3m0 1v8m0 1v3m0 1v3m0 1v3m0 2v2m0 2v1m0 3v1m0 3v1m0 3v1m0 21v1m0 52v15m0 3v3m1 -242v13m0 8v13m0 9v13m0 10v1m0 3v1m0 2v5m0 1v1m0 88v2m0 47v17m0 6v30m1 -273v19m0 2v60m0 91v2m0 44v16m0 9v3m0 3v24m1 -104v5m0 40v18m1 -65v3m0 2v4m0 33v20m0 14v3m0 12v15m1 -101v6m0 28v21m1 -54v52m1 -52v50m1 -50v48m1 -81v2m0 3v1m0 27v46m1 -109v1m0 20v4m0 16v4m0 12v1m0 6v43m1 -194v5m0 11v6m0 25v1m0 3v3m0 2v5m0 10v2m0 20v5m0 1v5m0 42v1m0 4v41m1 -207v4m0 40v2m0 3v2m0 4v1m0 4v1m0 100v1m0 4v39m1 -44v1m0 5v36m1 -42v1m0 5v34m1 -71v2m0 2v2m0 24v1m0 7v31m1 -95v1m0 17v1m0 1v2m0 16v4m0 10v2m0 11v28m1 -130v4m0 3v1m0 1v3m0 2v1m0 2v2m0 3v1m0 19v6m0 1v4m0 49v4m1 -115v5m0 107v1m1 -114v4m1 -44v7m0 29v8m1 -13v15m1 -21v22m1 -72v9m0 34v31m1 -74v9m0 35v32m0 98v3m1 -141v23m0 8v11m0 96v3m1 -165v6m0 39v107m0 9v4m1 -117v6m0 100v12m1 -120v4m0 109v7m1 -118v12m0 87v17m1 -113v103m1 -106v105m1 -108v108m1 -112v112m1 -114v113m1 -107v104"/>
<path stroke="#d8d7e9" d="M20.5 72v87m1 -97v5m0 98v6m1 -105v100m1 -166v12m1 14v10m0 23v8m1 -58v7m0 24v4m1 -35v10m0 20v4m1 3v4m1 -31v15m0 18v4m1 -39v8m0 7v9m0 16v4m1 -61v2m0 60v3m1 -65v1m0 63v2m1 8v1m0 8v1m0 3v2m0 34v1m1 -117v16m0 55v2m0 19v1m0 3v2m0 2v2m0 1v2m0 1v1m0 15v1m0 1v1m0 22v4m0 2v4m1 -27v1m0 2v2m0 2v5m0 18v1m2 -141v10m1 -25v3m0 32v3m0 4v1m0 4v1m0 2v1m0 1v1m0 4v1m0 3v2m0 3v2m1 -52v11m0 45v1m0 4v5m0 2v1m0 1v3m0 1v3m0 2v2m0 3v1m0 2v1m0 11v1m0 1v2m0 25v1m0 3v2m0 6v1m1 -34v1m0 11v4m5 27v28m1 -41v2m0 9v33m1 -42v2m0 5v40m0 31v28m1 -254v2m0 153v44m1 -216v1m0 13v1m0 6v1m0 13v2m0 6v1m0 13v2m0 5v3m0 1v3m0 1v2m0 97v26m0 17v4m0 25v24m1 -263v7m0 14v8m0 14v7m0 29v1m0 1v1m0 1v3m0 1v3m0 1v2m0 3v1m0 3v1m0 3v1m0 61v6m0 40v6m0 21v15m1 -102v1m0 3v1m0 3v2m0 2v1m0 48v9m0 15v1m1 -23v11m0 12v29m1 -49v12m1 -9v13m0 2v2m1 -224v4m0 13v4m0 19v2m0 168v10m0 1v2m1 -176v1m0 2v1m0 1v2m0 2v4m0 2v2m0 2v2m0 2v2m0 1v3m0 1v1m0 1v1m0 1v1m0 1v1m0 1v1m0 1v1m0 3v2m0 2v2m0 2v2m0 2v2m0 2v1m0 3v1m0 3v1m0 3v1m0 3v1m0 92v6m1 -72v1m0 69v2m1 -71v1m1 -1v1m0 70v31m1 -102v1m1 -1v1m3 -2v1m12 -1v1m3 0v1m1 -1v1m0 89v12m1 -102v1m1 -1v1m0 69v2m1 -73v1m0 69v33m1 -206v1m0 2v1m0 1v2m0 2v4m0 2v2m0 2v2m0 2v2m0 1v3m0 1v1m0 1v1m0 1v1m0 1v1m0 1v1m0 1v1m0 3v2m0 2v2m0 2v2m0 2v2m0 2v1m0 3v1m0 3v1m0 3v1m0 3v1m0 92v6m1 -222v4m0 13v4m0 19v2m0 168v10m1 -13v13m0 2v1m1 -19v12m0 9v11m1 -35v11m0 12v29m1 -115v1m0 3v1m0 3v2m0 2v1m0 48v9m0 17v28m1 -267v7m0 14v8m0 14v7m0 29v1m0 1v1m0 1v3m0 1v3m0 1v2m0 3v1m0 3v1m0 3v1m0 61v6m0 40v6m0 21v28m1 -271v1m0 13v1m0 6v1m0 13v2m0 6v1m0 13v2m0 5v3m0 1v3m0 1v2m0 97v26m0 17v4m1 -201v2m0 153v44m0 28v3m1 -82v2m0 5v40m1 -49v2m0 9v33m0 37v12m1 -80v28m5 -71v1m0 11v4m1 -123v11m0 45v1m0 4v5m0 2v1m0 1v3m0 1v3m0 2v2m0 3v1m0 2v1m0 11v1m0 1v2m0 25v1m0 3v2m0 6v1m1 -157v3m0 32v3m0 4v1m0 4v1m0 2v1m0 1v1m0 4v1m0 3v2m0 3v2m1 -53v10m2 100v1m0 2v2m0 2v5m0 18v1m1 -161v16m0 55v2m0 19v1m0 3v2m0 2v2m0 1v2m0 1v1m0 15v1m0 1v1m0 22v4m0 2v4m1 -90v1m0 8v1m0 3v2m0 34v1m1 -124v1m0 63v2m1 -66v2m0 60v3m1 -48v8m0 7v9m0 16v4m1 -42v15m0 18v4m1 -10v4m1 -41v10m0 20v4m1 -34v7m0 24v4m1 -18v10m0 23v8m1 -67v12m1 54v100m1 -104v5m0 98v6m1 -99v87"/>
<path stroke="#cdd0e5" d="M21.5 67v98m3 -165v3m0 18v5m1 -10v4m0 16v4m1 -21v5m0 12v3m1 5v2m1 -33v6m0 15v5m0 10v3m1 -38v3m0 24v4m0 8v4m1 -55v3m0 56v1m1 -61v3m0 41v1m0 3v3m0 2v4m0 1v5m1 5v5m1 -74v7m0 16v4m0 53v1m0 9v1m0 3v2m0 2v1m0 1v1m0 1v1m0 2v2m0 2v1m0 4v1m0 1v2m0 7v2m0 1v1m0 29v2m1 -148v7m0 115v3m0 28v2m1 1v1m1 -146v4m0 10v3m1 -25v4m0 8v12m0 3v2m0 2v1m0 3v2m0 3v2m0 3v2m0 3v1m0 1v1m0 2v1m0 4v1m0 4v1m0 40v1m1 -37v4m0 8v1m0 3v1m0 3v2m0 2v1m0 3v2m0 13v1m0 26v1m0 1v3m0 2v1m0 1v4m1 -32v4m0 3v1m0 2v1m6 -147v165m1 1v1m2 -166v1m0 15v1m0 26v1m0 16v1m0 2v2m0 133v14m0 2v1m1 -211v1m0 7v1m0 12v1m0 8v1m0 12v1m0 7v1m0 27v1m0 1v1m0 91v15m0 24v1m1 -91v1m0 3v1m0 3v1m0 3v1m0 3v1m0 2v2m0 2v2m0 2v2m0 3v1m0 3v1m0 1v1m0 2v2m0 1v1m0 46v1m0 25v2m0 8v19m1 -53v1m1 1v2m1 -13v1m0 13v2m0 17v1m0 13v15m1 -249v4m0 5v4m0 25v1m0 139v13m0 12v3m0 13v2m1 -174v1m0 2v2m0 22v1m0 3v1m0 3v1m0 2v2m0 2v2m0 2v2m0 2v2m0 3v1m0 1v1m0 1v1m0 1v1m0 1v1m0 1v1m0 1v1m0 3v1m0 3v2m0 2v2m0 2v2m0 2v2m0 2v1m0 3v2m0 38v11m0 13v6m0 6v1m1 -72v2m0 59v8m0 2v1m1 -71v1m0 62v7m1 -70v1m0 66v3m1 -70v1m0 67v1m1 -69v1m1 -2v1m1 -1v1m1 -1v1m1 83v18m10 -27v27m1 -102v1m1 -1v1m1 -1v1m1 0v1m1 -1v1m0 67v21m1 -89v1m0 66v34m1 -101v1m0 62v6m1 -70v2m0 59v8m1 -169v1m0 2v2m0 22v1m0 3v1m0 3v1m0 2v2m0 2v2m0 2v2m0 2v2m0 3v1m0 1v1m0 1v1m0 1v1m0 1v1m0 1v1m0 1v1m0 3v1m0 3v2m0 2v2m0 2v2m0 2v2m0 2v1m0 3v2m0 38v11m0 13v6m0 6v2m1 -220v4m0 5v4m0 25v1m0 139v13m0 12v3m1 -19v1m0 13v2m0 16v1m1 -22v2m1 -4v1m1 -94v1m0 3v1m0 3v1m0 3v1m0 3v1m0 2v2m0 2v2m0 2v2m0 3v1m0 3v1m0 1v1m0 2v2m0 1v1m0 46v1m1 -214v1m0 7v1m0 12v1m0 8v1m0 12v1m0 7v1m0 27v1m0 1v1m0 91v15m0 24v1m1 -217v1m0 15v1m0 26v1m0 16v1m0 2v2m0 133v14m0 2v1m2 -50v1m1 -167v165m6 -29v4m0 3v1m0 2v1m1 -62v4m0 8v1m0 3v1m0 3v2m0 2v1m0 3v2m0 13v1m0 26v1m0 1v3m0 2v1m0 1v4m1 -153v4m0 8v12m0 3v2m0 2v1m0 3v2m0 3v2m0 3v2m0 3v1m0 1v1m0 2v1m0 4v1m0 4v1m0 40v1m1 -99v4m0 10v3m1 128v1m1 -157v7m0 115v3m0 28v2m1 -167v7m0 16v4m0 53v1m0 9v1m0 3v2m0 2v1m0 1v1m0 1v1m0 2v2m0 2v1m0 4v1m0 1v2m0 7v2m0 1v1m0 29v2m1 -91v5m1 -73v3m0 41v1m0 3v3m0 2v4m0 1v5m1 -62v3m0 56v1m1 -48v3m0 24v4m0 8v4m1 -44v6m0 15v5m0 10v3m1 -8v2m1 -27v5m0 12v3m1 -23v4m0 16v4m1 -40v3m0 18v5m3 41v98"/>
<path stroke="#bfc9e1" d="M24.5 3v18m1 -1v6m0 5v5m1 -12v12m1 -36v3m0 38v3m1 -36v5m0 26v10m1 -38v3m0 31v8m1 -48v2m0 51v3m1 -57v4m0 28v9m0 1v3m0 3v2m0 4v1m1 -10v1m0 4v1m0 10v1m1 -39v2m0 44v2m0 9v1m0 4v1m0 1v3m0 2v2m0 3v1m0 13v1m0 4v2m0 5v1m1 -121v5m0 7v6m0 53v1m0 54v1m0 15v4m1 -10v1m1 -144v1m0 20v2m0 47v1m0 4v1m0 4v1m0 87v1m1 -150v8m0 12v3m0 2v2m0 20v1m0 4v2m0 4v1m0 39v1m0 2v1m0 1v1m0 2v1m0 42v1m1 -58v1m0 19v1m0 19v3m0 9v1m1 -24v1m0 1v1m0 1v2m7 15v5m2 -166v1m0 21v1m0 16v2m0 2v1m0 18v2m0 149v2m1 -211v1m0 9v1m0 32v1m0 9v1m0 135v9m0 14v1m1 -121v1m0 3v1m0 3v1m0 3v1m0 3v1m0 2v2m0 2v2m0 2v2m0 3v1m0 3v1m0 3v1m0 1v1m0 1v1m0 1v1m0 1v1m0 3v1m0 3v1m0 3v2m0 2v2m0 2v1m0 7v11m0 63v8m1 -35v1m2 -20v11m0 1v3m0 9v1m0 20v13m1 -230v5m0 30v2m0 120v17m0 13v2m0 9v1m0 18v1m0 2v25m1 -148v1m0 3v1m0 3v1m0 3v1m0 2v1m0 3v1m0 3v1m0 14v1m0 5v2m0 5v30m0 11v2m0 9v2m0 13v1m1 -71v47m0 11v1m0 11v1m1 -71v49m0 11v2m1 -62v51m0 12v3m1 -66v1m0 45v6m0 13v2m0 1v1m1 -69v1m0 66v4m0 25v4m1 -101v1m1 -1v1m1 -1v1m1 72v10m10 -10v1m1 -74v1m1 -1v1m1 -1v1m1 0v1m0 66v2m1 -69v1m0 45v6m0 13v2m1 -67v51m0 12v3m1 -66v49m0 11v2m1 -62v47m0 11v1m1 -107v1m0 3v1m0 3v1m0 3v1m0 2v1m0 3v1m0 3v1m0 14v1m0 5v2m0 5v30m0 11v2m0 9v2m0 14v1m1 -217v5m0 30v2m0 120v17m0 13v2m0 9v1m1 -27v11m0 1v3m0 9v1m0 19v1m0 19v9m2 -54v1m1 -124v1m0 3v1m0 3v1m0 3v1m0 3v1m0 2v2m0 2v2m0 2v2m0 3v1m0 3v1m0 3v1m0 1v1m0 1v1m0 1v1m0 1v1m0 3v1m0 3v1m0 3v2m0 2v2m0 2v1m0 7v11m1 -179v1m0 9v1m0 32v1m0 9v1m0 135v9m0 14v1m1 -217v1m0 21v1m0 16v2m0 2v1m0 18v2m0 149v2m2 -54v5m7 -26v1m0 1v1m0 1v2m1 -35v1m0 19v1m0 19v3m0 9v1m1 -145v8m0 12v3m0 2v2m0 20v1m0 4v2m0 4v1m0 39v1m0 2v1m0 1v1m0 2v1m0 42v1m1 -169v1m0 20v2m0 47v1m0 4v1m0 4v1m0 87v1m1 -26v1m1 -137v5m0 7v6m0 53v1m0 54v1m0 15v4m1 -126v2m0 44v2m0 9v1m0 4v1m0 1v3m0 2v2m0 3v1m0 13v1m0 4v2m0 5v1m1 -79v1m0 4v1m0 10v1m1 -62v4m0 28v9m0 1v3m0 3v2m0 4v1m1 -54v2m0 51v3m1 -50v3m0 31v8m1 -45v5m0 26v10m1 -49v3m0 38v3m1 -20v12m1 -16v6m0 5v5m1 -33v18"/>
<path stroke="#afc1dd" d="M25.5 26v5m2 -28v38m1 -41v8m1 -8v1m0 8v2m1 -4v3m0 15v9m0 22v2m1 -50v3m0 21v4m1 -1v5m0 3v2m0 3v1m0 1v1m0 2v1m0 1v1m0 2v3m0 3v1m0 1v3m1 -40v2m0 44v1m0 1v1m0 3v3m0 1v1m0 32v1m0 3v1m0 1v1m1 -121v3m0 18v4m0 43v1m0 4v1m0 30v1m0 3v1m0 17v1m0 22v1m0 2v1m0 7v1m1 -89v1m0 61v2m0 2v1m0 4v1m1 -147v2m0 15v3m0 19v1m0 3v1m0 9v1m0 4v2m0 3v2m0 3v1m1 6v1m0 17v2m0 3v1m0 16v1m0 7v1m0 1v1m1 -17v1m0 22v2m0 19v1m1 -14v1m7 -105v124m2 -143v4m0 19v2m1 -18v1m0 10v1m0 35v2m0 2v2m0 2v2m0 1v1m0 118v7m1 -180v4m0 55v1m0 3v1m0 14v1m0 3v1m0 14v1m0 3v1m0 3v1m0 6v1m0 3v1m0 3v1m0 3v1m0 29v7m0 27v1m2 -10v5m0 8v1m1 -30v8m0 23v1m1 -159v1m0 18v2m0 2v1m0 3v1m0 3v1m0 3v1m0 3v1m0 3v1m0 68v8m0 40v1m0 20v2m1 -107v1m0 3v1m0 3v1m0 2v2m0 2v2m0 2v2m0 3v1m0 2v1m0 2v1m0 1v3m0 68v1m0 25v3m1 -53v1m0 9v1m0 13v1m1 -23v1m0 9v1m0 9v1m1 -19v1m0 10v1m1 -62v45m0 6v2m0 10v1m0 4v1m1 -69v55m0 15v25m1 -96v57m1 -57v2m0 39v18m1 -59v1m1 70v1m10 -1v1m1 -72v1m1 -1v2m0 39v18m1 -59v57m1 -56v55m1 -55v45m0 6v2m0 10v1m1 -14v1m0 10v1m1 -14v1m0 9v1m1 -13v1m0 9v1m1 -90v1m0 3v1m0 3v1m0 2v2m0 2v2m0 2v2m0 3v1m0 2v1m0 2v1m0 1v3m0 69v1m0 1v26m1 -208v1m0 18v2m0 2v1m0 3v1m0 3v1m0 3v1m0 3v1m0 3v1m0 68v8m0 40v1m1 -34v8m0 23v1m0 21v19m1 -56v5m0 8v1m2 -193v4m0 55v1m0 3v1m0 14v1m0 3v1m0 14v1m0 3v1m0 3v1m0 6v1m0 3v1m0 3v1m0 3v1m0 29v7m0 27v1m1 -193v1m0 10v1m0 35v2m0 2v2m0 2v2m0 1v1m0 118v7m1 -191v4m0 19v2m2 -6v124m7 -20v1m1 -32v1m0 22v2m0 19v1m1 -79v1m0 17v2m0 3v1m0 16v1m0 7v1m0 1v1m1 -126v2m0 15v3m0 19v1m0 3v1m0 9v1m0 4v2m0 3v2m0 3v1m1 6v1m0 61v2m0 2v1m0 4v1m1 -144v3m0 18v4m0 43v1m0 4v1m0 30v1m0 3v1m0 17v1m0 22v1m0 2v1m0 7v1m1 -136v2m0 44v1m0 1v1m0 3v3m0 1v1m0 32v1m0 3v1m0 1v1m1 -90v5m0 3v2m0 3v1m0 1v1m0 2v1m0 1v1m0 2v3m0 3v1m0 1v3m1 -61v3m0 21v4m1 -29v3m0 15v9m0 22v2m1 -58v1m0 8v2m1 -11v8m1 -5v38m2 -15v5"/>
<path stroke="#9fbad9" d="M29.5 1v8m1 1v4m0 4v7m0 9v9m0 2v3m0 3v5m1 -45v4m0 13v4m1 -32v2m0 9v6m0 15v3m0 5v1m0 1v1m0 2v1m0 1v1m0 3v2m0 3v2m0 3v3m1 -33v3m0 42v1m0 9v1m0 1v1m0 30v1m0 3v1m1 -124v4m0 25v4m0 40v1m0 25v1m0 3v2m0 2v1m0 2v2m0 1v1m0 15v1m0 1v2m0 22v1m0 1v1m0 2v2m1 -132v6m0 30v1m0 4v1m0 9v1m0 52v1m0 5v2m0 2v1m0 3v1m0 18v1m1 -165v3m0 9v3m0 25v1m0 5v1m0 5v1m0 18v1m0 1v1m0 2v1m1 1v1m0 1v2m0 5v2m0 6v1m0 4v2m0 2v2m0 3v1m0 5v2m0 3v1m0 5v2m0 25v1m0 3v2m0 3v1m1 -34v1m0 2v1m0 11v2m8 -149v37m3 -34v1m0 42v1m0 11v1m0 10v1m0 4v2m0 2v2m0 2v1m0 126v3m0 3v1m1 -208v3m0 17v1m0 60v1m0 3v1m0 3v1m0 1v1m0 1v1m0 1v1m0 14v1m0 2v2m0 2v1m0 3v1m0 3v1m0 3v1m0 52v7m1 -31v1m0 3v1m0 6v1m0 40v1m1 -18v7m0 5v1m0 6v1m1 -208v3m0 30v4m0 136v6m0 23v1m1 -136v2m0 7v1m0 3v1m0 17v2m0 2v2m0 2v1m0 3v1m0 3v1m0 3v1m0 3v1m0 40v1m0 40v1m1 -54v1m0 7v1m0 46v1m0 7v1m0 17v1m0 1v23m1 -49v1m0 7v1m0 30v13m1 -50v1m0 19v1m1 -19v1m0 8v1m1 -8v1m0 8v1m1 -8v1m0 9v1m1 -10v2m0 9v1m1 -67v39m0 18v2m1 -60v61m1 -52v54m1 -11v13m0 28v6m8 -47v13m1 -56v54m1 -63v61m1 -60v39m0 18v2m1 -4v2m0 9v1m1 -13v1m0 9v1m0 2v1m1 -16v1m0 8v1m1 -12v1m0 8v1m1 -12v1m1 -3v1m0 7v1m1 -66v1m0 7v1m0 46v1m0 7v1m0 18v1m1 -167v2m0 7v1m0 3v1m0 17v2m0 2v2m0 2v1m0 3v1m0 3v1m0 3v1m0 3v1m0 40v1m0 40v1m1 -205v3m0 30v4m0 136v6m0 23v1m1 -15v7m0 5v1m0 6v1m1 -55v1m0 3v1m0 6v1m0 40v1m1 -211v3m0 17v1m0 60v1m0 3v1m0 3v1m0 1v1m0 1v1m0 1v1m0 14v1m0 2v2m0 2v1m0 3v1m0 3v1m0 3v1m0 52v7m1 -194v1m0 42v1m0 11v1m0 10v1m0 4v2m0 2v2m0 2v1m0 126v3m0 3v1m3 -216v37m8 95v1m0 2v1m0 11v2m1 -68v1m0 1v2m0 5v2m0 6v1m0 4v2m0 2v2m0 3v1m0 5v2m0 3v1m0 5v2m0 25v1m0 3v2m0 3v1m1 -163v3m0 9v3m0 25v1m0 5v1m0 5v1m0 18v1m0 1v1m0 2v1m1 -50v6m0 30v1m0 4v1m0 9v1m0 52v1m0 5v2m0 2v1m0 3v1m0 18v1m1 -168v4m0 25v4m0 40v1m0 25v1m0 3v2m0 2v1m0 2v2m0 1v1m0 15v1m0 1v2m0 22v1m0 1v1m0 2v2m1 -131v3m0 42v1m0 9v1m0 1v1m0 30v1m0 3v1m1 -124v2m0 9v6m0 15v3m0 5v1m0 1v1m0 2v1m0 1v1m0 3v2m0 3v2m0 3v3m1 -53v4m0 13v4m1 -22v4m0 4v7m0 9v9m0 2v3m0 3v5m1 -55v8"/>
<path stroke="#8eb3d5" d="M30.5 14v4m0 25v2m0 3v3m1 -36v5m0 3v5m1 -26v9m0 6v8m0 3v4m0 9v1m0 4v1m1 -13v1m0 33v2m0 2v1m0 14v1m1 -55v2m0 32v1m0 14v1m0 11v2m0 2v1m0 1v1m0 8v1m0 6v2m0 7v1m0 28v1m0 7v2m1 -164v1m0 22v7m0 6v1m0 24v1m0 15v1m0 57v1m0 1v1m0 7v2m0 18v2m1 -161v9m0 26v2m0 5v1m0 1v1m0 2v1m0 4v1m0 12v1m0 9v1m0 39v1m1 -40v1m0 2v1m0 3v1m0 3v1m0 2v1m0 3v1m0 1v1m0 10v1m0 1v1m0 11v1m0 29v1m0 8v2m1 -30v2m0 3v1m0 5v2m11 -136v1m0 8v1m0 43v1m0 1v2m0 140v1m0 1v1m1 -208v1m0 3v1m0 21v1m0 17v3m0 30v2m0 5v1m0 3v1m0 9v1m0 3v2m0 2v2m0 2v1m0 79v7m1 -61v1m0 3v1m0 3v1m0 6v1m0 3v1m0 4v1m0 1v1m0 4v3m0 1v7m0 24v3m1 -17v6m0 13v1m1 -212v4m0 5v1m0 3v2m0 26v2m0 4v1m0 3v4m0 121v7m0 36v1m1 -157v1m0 10v1m0 9v1m0 3v1m0 3v1m0 1v1m0 1v1m0 1v1m0 1v1m0 3v1m0 12v1m0 3v1m0 14v1m0 3v1m0 3v1m0 18v1m0 7v2m0 48v1m1 -5v1m0 25v1m1 -25v1m0 22v15m1 -36v1m0 6v1m1 -6v1m1 1v1m0 14v1m1 -6v1m1 1v1m0 1v1m2 -8v1m1 -75v8m0 10v4m0 54v1m1 -23v11m0 13v2m0 4v1m0 1v20m8 -52v11m0 13v2m1 -80v8m0 10v4m0 54v1m0 5v1m1 -9v1m2 4v1m0 1v1m1 -5v1m0 4v1m1 -16v1m1 -3v1m1 -3v1m0 6v1m1 -10v1m1 -3v1m1 -155v1m0 10v1m0 9v1m0 3v1m0 3v1m0 1v1m0 1v1m0 1v1m0 1v1m0 3v1m0 12v1m0 3v1m0 14v1m0 3v1m0 3v1m0 18v1m0 7v2m0 48v1m1 -222v4m0 5v1m0 3v2m0 26v2m0 4v1m0 3v4m0 121v7m0 36v1m1 -28v6m0 13v1m1 -72v1m0 3v1m0 3v1m0 6v1m0 3v1m0 4v1m0 1v1m0 4v3m0 1v7m0 24v3m1 -205v1m0 3v1m0 21v1m0 17v3m0 30v2m0 5v1m0 3v1m0 9v1m0 3v2m0 2v2m0 2v1m0 79v7m1 -189v1m0 8v1m0 43v1m0 1v2m0 140v1m0 1v1m11 -77v2m0 3v1m0 5v2m1 -69v1m0 2v1m0 3v1m0 3v1m0 2v1m0 3v1m0 1v1m0 10v1m0 1v1m0 11v1m0 29v1m0 8v2m1 -162v9m0 26v2m0 5v1m0 1v1m0 2v1m0 4v1m0 12v1m0 9v1m0 39v1m1 -122v1m0 22v7m0 6v1m0 24v1m0 15v1m0 57v1m0 1v1m0 7v2m0 18v2m1 -134v2m0 32v1m0 14v1m0 11v2m0 2v1m0 1v1m0 8v1m0 6v2m0 7v1m0 28v1m0 7v2m1 -130v1m0 33v2m0 2v1m0 14v1m1 -86v9m0 6v8m0 3v4m0 9v1m0 4v1m1 -32v5m0 3v5m1 -14v4m0 25v2m0 3v3"/>
<path stroke="#7dacd1" d="M31.5 20v3m1 2v3m1 7v2m0 33v1m1 -36v2m0 25v1m0 5v1m0 7v1m0 2v1m0 3v1m0 6v1m0 11v1m0 2v2m0 14v1m0 4v1m0 31v2m1 -159v2m0 10v10m0 14v1m0 17v2m0 3v1m0 4v1m0 4v1m0 1v1m0 9v1m0 29v1m0 23v1m0 14v2m1 -108v1m0 15v1m0 1v1m0 2v1m0 50v1m0 7v1m0 17v1m0 21v1m0 1v1m1 -76v1m0 4v1m0 3v1m0 3v2m0 2v1m0 1v1m0 2v1m0 13v1m0 5v1m0 17v1m0 2v1m0 3v1m0 4v1m1 -29v2m0 4v1m0 1v1m0 1v1m11 -110v1m0 175v1m1 -208v1m0 20v1m0 22v1m0 3v1m0 32v1m0 10v1m0 3v1m0 3v1m0 97v8m0 4v1m1 -90v1m0 3v1m0 3v1m0 3v1m0 10v1m0 3v2m0 3v1m0 3v1m0 7v1m0 1v1m0 11v24m0 3v1m1 -30v12m1 -195v3m0 4v1m0 2v2m0 6v1m0 23v2m0 7v3m0 4v2m0 116v3m0 37v1m1 -149v2m0 6v1m0 5v2m0 2v1m0 3v1m0 14v1m0 22v1m0 3v1m0 17v2m0 2v2m0 2v1m0 3v1m0 4v1m0 2v1m0 2v1m0 44v1m1 7v1m2 17v1m0 26v2m1 -40v1m1 1v1m0 8v1m1 -15v1m1 1v1m1 1v1m0 7v3m0 25v3m1 -37v1m1 -89v13m0 8v2m0 6v2m0 59v1m0 4v1m1 -37v8m0 26v1m0 2v1m0 1v1m8 -40v8m1 -67v13m0 8v2m0 6v2m0 59v1m1 -3v1m1 -3v1m1 -3v1m0 10v1m1 -14v1m1 4v1m1 -3v1m3 -8v1m1 -159v2m0 6v1m0 5v2m0 2v1m0 3v1m0 14v1m0 22v1m0 3v1m0 17v2m0 2v2m0 2v1m0 3v1m0 4v1m0 2v1m0 2v1m0 44v1m1 -219v3m0 4v1m0 2v2m0 6v1m0 23v2m0 7v3m0 4v2m0 116v3m0 37v1m1 -34v12m1 -68v1m0 3v1m0 3v1m0 3v1m0 10v1m0 3v2m0 3v1m0 3v1m0 7v1m0 1v1m0 11v24m0 3v1m1 -207v1m0 20v1m0 22v1m0 3v1m0 32v1m0 10v1m0 3v1m0 3v1m0 97v8m0 4v1m1 -180v1m0 175v1m11 -78v2m0 4v1m0 1v1m0 1v1m1 -55v1m0 4v1m0 3v1m0 3v2m0 2v1m0 1v1m0 2v1m0 13v1m0 5v1m0 17v1m0 2v1m0 3v1m0 4v1m1 -120v1m0 15v1m0 1v1m0 2v1m0 50v1m0 7v1m0 17v1m0 21v1m0 1v1m1 -167v2m0 10v10m0 14v1m0 17v2m0 3v1m0 4v1m0 4v1m0 1v1m0 9v1m0 29v1m0 23v1m0 14v2m1 -118v2m0 25v1m0 5v1m0 7v1m0 2v1m0 3v1m0 6v1m0 11v1m0 2v2m0 14v1m0 4v1m0 31v2m1 -125v2m0 33v1m1 -46v3m1 -8v3"/>
<path stroke="#69a5cc" d="M33.5 37v1m0 33v1m1 -6v1m0 4v1m0 2v1m0 6v1m0 9v1m0 1v1m0 2v2m0 3v1m0 12v2m0 4v1m0 1v1m0 4v2m1 -126v10m0 25v3m0 34v1m0 4v1m0 18v1m0 3v1m0 4v1m0 12v1m0 8v1m0 2v1m0 15v1m0 6v1m0 3v2m0 2v1m1 -118v1m0 8v1m0 11v1m0 4v1m0 20v2m0 3v1m0 3v1m0 4v1m0 3v1m0 3v1m0 3v1m0 1v1m0 3v1m0 3v1m0 3v1m0 3v2m0 2v1m0 4v1m0 4v1m0 3v1m0 3v2m0 4v1m1 -81v1m0 1v1m0 42v1m0 11v1m0 3v1m0 3v1m0 1v1m0 4v1m0 3v2m1 -24v1m11 -139v1m0 42v1m0 13v1m1 -48v1m0 21v1m0 14v1m0 36v1m0 3v1m0 3v1m0 117v1m1 -192v1m0 74v1m0 3v1m0 3v1m0 3v1m0 3v1m0 3v1m0 2v1m0 3v1m0 22v1m0 21v1m0 3v1m0 44v1m1 -42v7m0 36v1m1 -212v2m0 9v2m0 20v1m0 18v1m0 27v1m0 3v1m0 82v1m0 45v1m1 -155v1m0 5v1m0 4v2m0 14v1m0 3v1m0 3v1m0 3v1m0 2v1m0 3v1m0 12v1m0 3v1m0 3v1m0 1v1m0 1v1m0 3v1m0 3v1m0 12v1m0 3v1m0 5v1m0 1v1m2 56v1m1 -4v1m0 4v1m0 14v1m0 10v15m1 -44v1m1 1v1m0 37v6m1 -42v1m0 5v1m1 -5v1m0 5v1m0 3v1m1 -9v1m0 5v1m0 12v16m1 -33v1m0 28v7m1 -138v13m0 23v6m0 62v1m1 -40v7m0 35v2m8 -44v7m0 34v1m1 -107v13m0 23v6m0 62v1m1 -3v1m1 -3v1m1 -3v1m0 5v1m0 4v1m1 -14v1m0 5v1m0 6v1m0 22v6m1 -44v1m1 -3v1m1 -3v1m0 4v1m1 -3v1m2 -162v1m0 5v1m0 4v2m0 14v1m0 3v1m0 3v1m0 3v1m0 2v1m0 3v1m0 12v1m0 3v1m0 3v1m0 1v1m0 1v1m0 3v1m0 3v1m0 12v1m0 3v1m0 5v1m0 1v1m1 -164v2m0 9v2m0 20v1m0 18v1m0 27v1m0 3v1m0 82v1m0 45v1m1 -46v7m0 36v1m1 -199v1m0 74v1m0 3v1m0 3v1m0 3v1m0 3v1m0 3v1m0 2v1m0 3v1m0 22v1m0 21v1m0 3v1m0 44v1m1 -206v1m0 21v1m0 14v1m0 36v1m0 3v1m0 3v1m0 117v1m1 -211v1m0 42v1m0 13v1m11 80v1m1 -55v1m0 1v1m0 42v1m0 11v1m0 3v1m0 3v1m0 1v1m0 4v1m0 3v2m1 -117v1m0 8v1m0 11v1m0 4v1m0 20v2m0 3v1m0 3v1m0 4v1m0 3v1m0 3v1m0 3v1m0 1v1m0 3v1m0 3v1m0 3v1m0 3v2m0 2v1m0 4v1m0 4v1m0 3v1m0 3v2m0 4v1m1 -164v10m0 25v3m0 34v1m0 4v1m0 18v1m0 3v1m0 4v1m0 12v1m0 8v1m0 2v1m0 15v1m0 6v1m0 3v2m0 2v1m1 -99v1m0 4v1m0 2v1m0 6v1m0 9v1m0 1v1m0 2v2m0 3v1m0 12v2m0 4v1m0 1v1m0 4v2m1 -92v1m0 33v1"/>
<path stroke="#549cc7" d="M33.5 38v1m0 24v2m0 2v1m1 -31v1m0 19v1m0 3v1m0 18v1m0 8v1m0 2v1m0 25v1m0 5v1m1 -75v1m0 16v1m0 26v2m0 8v1m0 2v1m0 3v1m0 1v1m0 2v2m0 7v2m0 2v1m0 1v1m0 18v1m0 2v1m0 1v1m0 1v1m1 -112v1m0 4v2m0 4v1m0 4v1m0 4v1m0 4v1m0 4v2m0 11v1m0 7v1m0 5v1m0 2v1m0 16v1m0 4v1m0 14v1m0 3v1m0 2v1m1 -65v1m0 45v1m0 1v1m0 2v2m0 8v1m0 5v1m1 -14v1m0 3v1m11 -130v1m0 6v1m0 43v1m1 -13v1m0 159v1m1 -216v1m0 18v2m0 1v1m0 16v3m0 46v1m0 3v1m0 18v1m0 3v1m0 4v1m0 3v1m0 3v1m0 3v1m0 5v1m0 3v1m0 22v1m0 47v1m1 -48v1m0 3v1m0 3v2m0 39v1m1 -195v1m0 17v2m0 20v1m0 34v1m0 3v1m0 3v1m0 3v1m0 65v1m0 42v1m1 -146v1m0 37v1m0 3v1m0 2v2m0 2v2m0 17v1m0 3v1m0 27v1m0 46v1m0 3v1m1 -3v1m0 3v1m1 -3v1m1 22v10m1 -24v1m1 1v1m0 10v1m0 7v14m2 -23v1m1 0v9m1 -11v3m0 5v15m1 -145v14m0 107v1m1 -46v3m8 -3v3m0 42v1m0 1v1m0 17v11m1 -152v14m0 107v1m2 -2v2m1 22v8m1 -28v1m0 6v15m1 -33v1m1 -3v1m2 -10v1m1 -3v1m0 3v1m1 -154v1m0 37v1m0 3v1m0 2v2m0 2v2m0 17v1m0 3v1m0 27v1m0 46v1m0 3v1m1 -203v1m0 17v2m0 20v1m0 34v1m0 3v1m0 3v1m0 3v1m0 65v1m0 42v1m1 -52v1m0 3v1m0 3v2m0 39v1m1 -216v1m0 18v2m0 1v1m0 16v3m0 46v1m0 3v1m0 18v1m0 3v1m0 4v1m0 3v1m0 3v1m0 3v1m0 5v1m0 3v1m0 22v1m0 47v1m1 -159v1m0 159v1m1 -200v1m0 6v1m0 43v1m11 73v1m0 3v1m1 -59v1m0 45v1m0 1v1m0 2v2m0 8v1m0 5v1m1 -109v1m0 4v2m0 4v1m0 4v1m0 4v1m0 4v1m0 4v2m0 11v1m0 7v1m0 5v1m0 2v1m0 16v1m0 4v1m0 14v1m0 3v1m0 2v1m1 -102v1m0 16v1m0 26v2m0 8v1m0 2v1m0 3v1m0 1v1m0 2v2m0 7v2m0 2v1m0 1v1m0 18v1m0 2v1m0 1v1m0 1v1m1 -121v1m0 19v1m0 3v1m0 18v1m0 8v1m0 2v1m0 25v1m0 5v1m1 -87v1m0 24v2m0 2v1"/>
<path stroke="#3f93c2" d="M33.5 42v1m0 5v1m0 4v1m0 4v1m1 -3v1m0 6v1m0 5v1m0 5v1m0 43v1m0 3v1m1 -73v1m0 10v1m0 15v1m0 19v1m0 1v1m0 8v1m0 10v1m0 11v1m1 -48v1m0 5v1m0 8v1m0 1v1m0 8v1m0 1v1m0 4v2m0 3v1m0 11v1m0 4v1m0 5v1m0 8v1m0 1v1m0 6v1m1 -55v1m0 21v1m0 9v1m0 1v1m12 -107v1m0 5v1m0 15v1m0 5v1m1 -67v1m0 4v1m0 13v2m0 5v1m0 186v1m1 -196v1m0 4v1m0 14v1m0 3v1m0 64v1m0 26v1m0 1v1m0 3v1m0 3v1m0 3v1m0 3v1m0 3v2m0 2v2m0 2v1m1 -30v1m0 3v1m0 3v1m0 18v1m0 4v1m0 50v1m1 -197v2m0 14v1m0 45v2m0 26v1m0 2v2m0 2v1m0 3v1m0 3v1m0 3v1m0 3v1m0 3v1m0 3v1m0 3v1m0 18v1m0 3v1m0 47v1m0 1v1m1 -151v1m0 3v2m0 49v1m0 3v1m0 3v1m0 14v1m0 19v1m0 51v1m0 1v1m1 -1v1m1 1v1m0 2v1m1 -2v1m0 2v1m1 -2v1m1 17v7m1 -17v1m1 32v4m2 -31v1m0 3v5m1 -251v121m0 119v2m1 -47v2m8 -2v2m0 46v1m0 1v1m0 2v14m1 -262v121m0 119v2m2 1v1m1 1v1m0 5v14m1 -29v1m0 9v6m2 -24v1m1 -3v1m0 2v1m1 -6v1m0 2v1m1 -6v1m1 -153v1m0 3v2m0 49v1m0 3v1m0 3v1m0 14v1m0 19v1m0 51v1m0 1v1m1 -201v2m0 14v1m0 45v2m0 26v1m0 2v2m0 2v1m0 3v1m0 3v1m0 3v1m0 3v1m0 3v1m0 3v1m0 3v1m0 18v1m0 3v1m0 47v1m0 1v1m1 -86v1m0 3v1m0 3v1m0 18v1m0 4v1m0 50v1m1 -201v1m0 4v1m0 14v1m0 3v1m0 64v1m0 26v1m0 1v1m0 3v1m0 3v1m0 3v1m0 3v1m0 3v2m0 2v2m0 2v1m1 -165v1m0 4v1m0 13v2m0 5v1m0 186v1m1 -176v1m0 5v1m0 15v1m0 5v1m12 43v1m0 21v1m0 9v1m0 1v1m1 -60v1m0 5v1m0 8v1m0 1v1m0 8v1m0 1v1m0 4v2m0 3v1m0 11v1m0 4v1m0 5v1m0 8v1m0 1v1m0 6v1m1 -114v1m0 10v1m0 15v1m0 19v1m0 1v1m0 8v1m0 10v1m0 11v1m1 -77v1m0 6v1m0 5v1m0 5v1m0 43v1m0 3v1m1 -82v1m0 5v1m0 4v1m0 4v1"/>
<path stroke="#2c89bd" d="M33.5 39v1m0 3v1m0 3v1m0 4v1m0 4v1m0 1v1m0 2v1m0 2v2m1 -29v1m0 2v1m0 9v2m0 17v1m0 13v1m0 1v3m1 -48v1m0 3v1m0 8v1m0 2v1m0 1v1m0 4v1m0 8v1m0 5v1m0 10v2m0 4v1m0 5v1m0 7v1m0 4v1m0 6v1m0 1v1m0 29v1m0 4v1m0 2v2m1 -82v1m0 3v1m0 6v1m0 2v1m0 12v1m0 5v1m0 11v2m0 2v1m0 1v1m0 3v1m0 3v1m0 3v1m0 7v1m0 5v1m0 2v1m1 -26v1m0 8v1m0 2v2m12 -151v2m0 15v1m0 4v1m0 16v1m0 21v1m0 3v1m1 -53v1m0 4v1m0 2v1m0 13v1m0 4v3m0 5v1m0 7v1m0 24v1m0 1v1m0 130v1m1 -214v1m0 59v1m0 22v1m0 4v1m0 3v1m0 5v1m0 3v1m0 22v1m0 3v1m0 18v1m0 3v1m0 60v1m0 1v1m1 -129v1m0 3v1m0 3v1m0 3v1m0 3v1m0 3v1m0 3v1m0 10v1m0 3v1m0 3v1m0 15v1m0 3v1m0 2v2m0 2v2m0 11v1m0 1v1m0 42v2m1 -194v1m0 11v2m0 24v1m0 26v1m0 3v1m0 13v1m0 3v1m0 8v1m0 30v1m0 3v1m0 2v1m0 3v1m0 4v1m0 5v1m0 45v1m1 -149v1m0 65v1m0 3v1m0 3v1m0 3v1m0 2v2m0 2v2m0 3v1m0 3v1m0 55v1m1 1v2m1 0v2m2 4v1m1 -2v1m0 2v1m1 -2v1m1 1v1m0 3v1m0 6v1m0 11v12m1 -33v1m0 3v1m1 -3v1m2 -47v3m8 -3v3m0 51v2m2 -10v1m1 -3v1m0 3v1m1 -7v1m0 3v1m0 7v5m1 -19v1m1 -3v1m0 2v1m1 -3v1m2 -7v2m1 -4v2m1 -154v1m0 65v1m0 3v1m0 3v1m0 3v1m0 2v2m0 2v2m0 3v1m0 3v1m0 55v1m1 -198v1m0 11v2m0 24v1m0 26v1m0 3v1m0 13v1m0 3v1m0 8v1m0 30v1m0 3v1m0 2v1m0 3v1m0 4v1m0 5v1m0 45v1m1 -132v1m0 3v1m0 3v1m0 3v1m0 3v1m0 3v1m0 3v1m0 10v1m0 3v1m0 3v1m0 15v1m0 3v1m0 2v2m0 2v2m0 11v1m0 1v1m0 42v2m1 -217v1m0 59v1m0 22v1m0 4v1m0 3v1m0 5v1m0 3v1m0 22v1m0 3v1m0 18v1m0 3v1m0 60v1m0 1v1m1 -204v1m0 4v1m0 2v1m0 13v1m0 4v3m0 5v1m0 7v1m0 24v1m0 1v1m0 130v1m1 -215v2m0 15v1m0 4v1m0 16v1m0 21v1m0 3v1m12 71v1m0 8v1m0 2v2m1 -69v1m0 3v1m0 6v1m0 2v1m0 12v1m0 5v1m0 11v2m0 2v1m0 1v1m0 3v1m0 3v1m0 3v1m0 7v1m0 5v1m0 2v1m1 -122v1m0 3v1m0 8v1m0 2v1m0 1v1m0 4v1m0 8v1m0 5v1m0 10v2m0 4v1m0 5v1m0 7v1m0 4v1m0 6v1m0 1v1m0 29v1m0 4v1m0 2v2m1 -126v1m0 2v1m0 9v2m0 17v1m0 13v1m0 1v3m1 -50v1m0 3v1m0 3v1m0 4v1m0 4v1m0 1v1m0 2v1m0 2v2"/>
<path stroke="#197db7" d="M33.5 41v1m0 12v1m1 -15v1m0 5v1m0 11v1m0 6v1m1 2v2m0 4v1m0 11v1m0 6v1m0 3v1m0 3v1m0 3v2m0 7v1m0 3v1m0 8v2m0 29v1m1 -70v1m0 2v1m0 4v1m0 3v1m0 3v2m0 7v1m0 21v1m0 12v2m0 7v1m0 4v1m1 -28v1m0 3v1m12 -123v1m0 2v1m0 18v1m0 1v2m0 18v1m0 1v1m1 -43v1m0 16v1m0 3v1m0 36v1m1 -64v1m0 6v1m0 12v1m0 5v1m0 16v1m0 1v1m0 22v1m0 9v1m0 1v1m0 3v1m0 3v1m0 16v1m0 18v1m0 3v1m0 69v1m1 -101v2m0 2v2m0 29v1m0 12v1m0 5v1m1 -145v2m0 8v1m0 59v1m0 1v1m0 1v1m0 3v1m0 20v1m0 3v1m0 21v1m0 3v1m0 4v1m0 11v1m1 -12v1m0 3v1m3 62v2m1 0v2m1 0v2m1 0v1m0 1v1m1 -1v1m0 1v1m0 8v11m1 -20v1m1 1v1m0 1v1m2 -53v3m8 -3v3m2 47v1m0 1v1m1 -5v1m0 6v1m0 26v2m1 -38v1m0 1v1m1 -5v1m0 1v1m1 -5v2m1 -4v2m1 -4v2m3 -69v1m0 3v1m1 -140v2m0 8v1m0 59v1m0 1v1m0 1v1m0 3v1m0 20v1m0 3v1m0 21v1m0 3v1m0 4v1m0 11v1m1 -57v2m0 2v2m0 29v1m0 12v1m0 5v1m1 -153v1m0 6v1m0 12v1m0 5v1m0 16v1m0 1v1m0 22v1m0 9v1m0 1v1m0 3v1m0 3v1m0 16v1m0 18v1m0 3v1m0 69v1m1 -194v1m0 16v1m0 3v1m0 36v1m1 -63v1m0 2v1m0 18v1m0 1v2m0 18v1m0 1v1m12 71v1m0 3v1m1 -52v1m0 2v1m0 4v1m0 3v1m0 3v2m0 7v1m0 21v1m0 12v2m0 7v1m0 4v1m1 -96v2m0 4v1m0 11v1m0 6v1m0 3v1m0 3v1m0 3v2m0 7v1m0 3v1m0 8v2m0 29v1m1 -119v1m0 5v1m0 11v1m0 6v1m1 -25v1m0 12v1"/>
<path stroke="#0872b1" d="M33.5 40v1m0 8v1m1 -11v1m0 7v1m0 16v1m0 20v1m1 -42v1m0 1v1m0 2v1m0 8v1m0 4v1m0 28v1m0 26v1m0 3v1m1 -40v1m0 25v1m0 21v1m0 21v1m1 -14v1m0 3v1m12 -127v2m0 20v1m0 21v1m1 -63v1m0 2v1m0 12v1m0 7v1m0 10v1m0 1v1m0 8v1m0 9v1m0 3v1m0 11v1m0 8v1m1 -39v1m0 18v1m0 27v1m0 17v1m0 3v2m0 2v2m0 2v1m0 3v1m0 3v1m0 3v1m0 3v1m1 -54v1m0 22v1m0 3v1m0 12v1m0 3v1m0 13v1m0 3v1m0 25v1m1 -146v1m0 6v1m0 46v1m0 5v1m0 3v1m0 9v1m0 30v1m0 9v1m0 3v1m0 16v1m0 5v1m0 2v1m7 61v1m1 1v1m1 1v2m1 0v1m2 -56v4m1 -189v126m0 104v11m0 23v9m6 -43v11m1 -56v4m2 51v1m0 1v2m1 -6v2m0 20v11m1 -35v1m1 -3v1m7 -208v1m0 6v1m0 46v1m0 5v1m0 3v1m0 9v1m0 30v1m0 9v1m0 3v1m0 16v1m0 5v1m0 2v1m1 -89v1m0 22v1m0 3v1m0 12v1m0 3v1m0 13v1m0 3v1m0 25v1m1 -129v1m0 18v1m0 27v1m0 17v1m0 3v2m0 2v2m0 2v1m0 3v1m0 3v1m0 3v1m0 3v1m1 -137v1m0 2v1m0 12v1m0 7v1m0 10v1m0 1v1m0 8v1m0 9v1m0 3v1m0 11v1m0 8v1m1 -64v2m0 20v1m0 21v1m12 77v1m0 3v1m1 -62v1m0 25v1m0 21v1m0 21v1m1 -111v1m0 1v1m0 2v1m0 8v1m0 4v1m0 28v1m0 26v1m0 3v1m1 -85v1m0 7v1m0 16v1m0 20v1m1 -46v1m0 8v1"/>
<path stroke="#056aa6" d="M33.5 44v1m0 1v1m0 4v1m0 3v2m0 3v2m1 -20v1m0 10v1m0 1v1m0 4v1m1 -9v1m0 30v1m1 -1v1m14 -70v1m0 8v2m0 12v1m0 6v1m0 15v1m0 1v1m0 9v1m0 3v2m1 -76v1m0 27v2m0 4v1m0 22v1m0 4v2m0 21v1m0 22v1m1 -111v1m0 84v1m0 3v1m0 3v1m0 9v1m0 28v1m0 5v1m0 29v1m1 -141v1m0 4v1m0 29v1m0 16v1m0 24v1m0 28v1m0 1v1m0 1v1m12 -139v185m1 -59v3m0 60v41m0 11v1m0 11v11m6 -75v41m1 -230v185m3 60v1m0 4v10m9 -232v1m0 4v1m0 29v1m0 16v1m0 24v1m0 28v1m0 1v1m0 1v1m1 -139v1m0 84v1m0 3v1m0 3v1m0 9v1m0 28v1m0 5v1m0 29v1m1 -167v1m0 27v2m0 4v1m0 22v1m0 4v2m0 21v1m0 22v1m1 -97v1m0 8v2m0 12v1m0 6v1m0 15v1m0 1v1m0 9v1m0 3v2m14 5v1m1 -32v1m0 30v1m1 -42v1m0 10v1m0 1v1m0 4v1m1 -17v1m0 1v1m0 4v1m0 3v2m0 3v2"/>
<path stroke="#04629a" d="M33.5 50v1m1 -1v1m0 8v1m1 -18v1m0 10v1m0 33v1m0 1v1m15 -88v2m0 11v2m0 28v2m0 11v2m0 3v1m1 -48v1m0 8v1m0 3v1m0 2v1m0 65v1m0 3v1m0 3v1m1 -106v1m0 14v9m0 12v9m0 49v1m0 1v1m0 1v1m0 34v1m0 1v1m0 3v1m0 24v1m1 -137v1m0 2v1m0 31v2m0 17v1m0 2v1m0 3v1m0 18v1m0 3v1m0 8v1m0 3v1m0 3v1m0 9v1m0 3v1m0 23v1m13 -40v3m0 50v7m0 60v4m1 -33v22m4 -22v21m1 -59v7m0 52v1m3 2v1m0 27v1m1 -27v4m9 -221v1m0 2v1m0 31v2m0 17v1m0 2v1m0 3v1m0 18v1m0 3v1m0 8v1m0 3v1m0 3v1m0 9v1m0 3v1m0 23v1m1 -168v1m0 14v9m0 12v9m0 49v1m0 1v1m0 1v1m0 34v1m0 1v1m0 3v1m0 24v1m1 -150v1m0 8v1m0 3v1m0 2v1m0 65v1m0 3v1m0 3v1m1 -105v2m0 11v2m0 28v2m0 11v2m0 3v1m15 -22v1m0 10v1m0 33v1m0 1v1m1 -40v1m0 8v1m1 -10v1"/>
<path stroke="#045b8e" d="M33.5 45v1m1 -1v1m0 8v1m1 -12v1m0 3v1m0 37v1m1 1v1m14 -24v1m0 9v2m0 3v1m1 -52v1m0 4v1m0 1v1m0 9v1m0 35v1m0 4v1m0 3v1m0 3v1m1 -93v2m0 11v1m0 9v1m0 10v1m0 9v1m0 11v4m0 29v1m0 9v1m0 3v1m0 20v1m0 3v1m0 13v1m0 3v1m0 12v1m1 -132v2m0 62v1m0 3v1m0 3v1m0 3v1m0 3v1m0 3v1m0 2v2m0 2v1m0 26v1m0 16v1m13 -34v4m0 38v8m1 18v20m4 -20v20m0 21v1m1 -68v8m0 85v6m3 -10v9m10 -242v2m0 62v1m0 3v1m0 3v1m0 3v1m0 3v1m0 3v1m0 2v2m0 2v1m0 26v1m0 16v1m1 -164v2m0 11v1m0 9v1m0 10v1m0 9v1m0 11v4m0 29v1m0 9v1m0 3v1m0 20v1m0 3v1m0 13v1m0 3v1m0 12v1m1 -134v1m0 4v1m0 1v1m0 9v1m0 35v1m0 4v1m0 3v1m0 3v1m1 -31v1m0 9v2m0 3v1m14 7v1m1 -45v1m0 3v1m0 37v1m1 -41v1m0 8v1m1 -10v1"/>
<path stroke="#034f7d" d="M34.5 48v1m1 -1v1m0 39v1m1 -1v1m14 -24v1m0 3v1m0 8v1m1 -53v2m0 6v1m0 23v1m0 21v1m0 2v1m1 -70v1m0 11v1m0 8v1m0 11v1m0 39v1m0 21v1m0 12v1m0 29v2m0 2v2m0 2v1m0 3v1m1 -83v1m0 42v1m0 3v1m0 22v1m0 3v2m0 3v1m13 -26v38m0 68v1m0 5v1m1 -249v200m0 42v1m1 -243v241m1 -241v241m1 -241v241m1 -241v200m1 -200v174m0 85v8m3 -22v1m0 8v9m10 -181v1m0 42v1m0 3v1m0 22v1m0 3v2m0 3v1m1 -148v1m0 11v1m0 8v1m0 11v1m0 39v1m0 21v1m0 12v1m0 29v2m0 2v2m0 2v1m0 3v1m1 -139v2m0 6v1m0 23v1m0 21v1m0 2v1m1 -19v1m0 3v1m0 8v1m14 9v1m1 -41v1m0 39v1m1 -41v1"/>
<path stroke="#03446a" d="M34.5 43v1m0 5v1m1 34v1m15 -15v2m1 -69v1m0 11v1m1 -12v1m0 52v1m0 4v1m0 50v2m0 2v2m0 2v1m0 23v1m0 3v1m1 -17v1m0 3v1m0 3v1m0 3v1m0 3v1m0 3v1m0 6v1m0 3v1m14 78v1m1 -3v1m1 -1v1m2 0v1m1 -1v1m0 7v9m3 -13v8m10 -121v1m0 3v1m0 3v1m0 3v1m0 3v1m0 3v1m0 6v1m0 3v1m1 -161v1m0 52v1m0 4v1m0 50v2m0 2v2m0 2v1m0 23v1m0 3v1m1 -147v1m0 11v1m1 54v2m15 12v1m1 -42v1m0 5v1"/>
<path stroke="#023858" d="M34.5 44v1m16 21v3m1 -65v11m0 31v12m0 8v14m0 2v1m1 -78v9m0 13v8m0 13v9m0 6v21m0 2v1m0 3v1m0 3v1m0 3v1m0 3v1m0 3v1m0 3v1m0 14v1m0 3v1m0 3v1m0 3v1m0 3v1m1 -76v14m13 163v5m1 -4v29m1 -31v31m1 -31v31m1 -32v32m1 -30v30m1 -30v7m13 -184v14m1 -75v9m0 13v8m0 13v9m0 6v21m0 2v1m0 3v1m0 3v1m0 3v1m0 3v1m0 3v1m0 3v1m0 14v1m0 3v1m0 3v1m0 3v1m0 3v1m1 -138v11m0 31v12m0 8v14m0 2v1m1 -17v3m16 -25v1"/>
</g>
<rect x="817.8" y="34.6" width="138.0" height="273.0" fill="none" stroke="#8a8a8a" stroke-width="0.9"/>
<path d="M817.8 43.7h2M955.8 43.7h-2M817.8 71.4h2M955.8 71.4h-2M817.8 99.1h2M955.8 99.1h-2M817.8 126.8h2M955.8 126.8h-2M817.8 154.5h2M955.8 154.5h-2M817.8 182.2h2M955.8 182.2h-2M817.8 209.9h2M955.8 209.9h-2M817.8 237.6h2M955.8 237.6h-2M817.8 265.3h2M955.8 265.3h-2M817.8 293.0h2M955.8 293.0h-2M829.5 34.6v1.6M842.3 34.6v1.6M855.1 34.6v1.6M867.9 34.6v1.6M880.7 34.6v1.6M893.5 34.6v1.6M906.3 34.6v1.6M919.1 34.6v1.6M931.9 34.6v1.6M944.7 34.6v1.6M829.4 307.6v-2M886.4 307.6v-2M943.4 307.6v-2" stroke="#707070" stroke-width="0.8" fill="none"/>
<rect x="818.6" y="357.2" width="138.39999999999998" height="273.3" fill="none" stroke="#8a8a8a" stroke-width="0.9"/>
<path d="M818.6 365.5h2M957 365.5h-2M818.6 393.2h2M957 393.2h-2M818.6 420.9h2M957 420.9h-2M818.6 448.6h2M957 448.6h-2M818.6 476.3h2M957 476.3h-2M818.6 504.0h2M957 504.0h-2M818.6 531.7h2M957 531.7h-2M818.6 559.4h2M957 559.4h-2M818.6 587.1h2M957 587.1h-2M818.6 614.8h2M957 614.8h-2" stroke="#707070" stroke-width="0.8" fill="none"/>
<rect x="909" y="626.3" width="26" height="4.6" fill="#fff"/>
<text transform="translate(640 31.2)" font-size="17.8" fill="#000" text-anchor="start" >(d)</text>
<text transform="translate(804.4 31.0)" font-size="17.8" fill="#000" text-anchor="start" >(e)</text>
<text transform="translate(756.3 48.8)" font-size="15.0" fill="#fff" text-anchor="start" >SM 1</text>
<text transform="translate(920.3 48.3)" font-size="15.0" fill="#000" text-anchor="start" >SM 1</text>
<text transform="translate(652 56.6)" font-size="14.65" fill="#000" text-anchor="middle" >3</text>
<text transform="translate(652 196.3)" font-size="14.65" fill="#000" text-anchor="middle" >2</text>
<text transform="translate(650.6 305.2)" font-size="14.65" fill="#000" text-anchor="middle" >1.2</text>
<text transform="translate(679.2 322)" font-size="14.65" fill="#000" text-anchor="middle" >1500</text>
<text transform="translate(780.6 322)" font-size="14.65" fill="#000" text-anchor="middle" >1590</text>
<text transform="translate(735.2 338.8)" font-size="15.6" fill="#000" text-anchor="middle" >Wavelength (nm)</text>
<text transform="translate(828 322)" font-size="14.65" fill="#000" text-anchor="middle" >-10</text>
<text transform="translate(885.6 322)" font-size="14.65" fill="#000" text-anchor="middle" >0</text>
<text transform="translate(941 322)" font-size="14.65" fill="#000" text-anchor="middle" >10</text>
<text transform="translate(890 337.5)" font-size="15.6" fill="#000" text-anchor="middle" >Time (ps)</text>
<text transform="translate(629.2 164.5) rotate(-90)" font-size="15.6" fill="#000" text-anchor="middle" >Round trips (×10<tspan font-size="9.5" dy="-5.5">3</tspan><tspan dy="5.5">)</tspan></text>
<text transform="translate(647.7 351.7)" font-size="17.8" fill="#000" text-anchor="start" >(f)</text>
<text transform="translate(803 351.7)" font-size="17.8" fill="#000" text-anchor="start" >(g)</text>
<text transform="translate(629.6 494) rotate(-90)" font-size="15.6" fill="#000" text-anchor="middle" >Round trips (×10<tspan font-size="9.5" dy="-5.5">3</tspan><tspan dy="5.5">)</tspan></text>
<text transform="translate(652 377.7)" font-size="14.65" fill="#000" text-anchor="middle" >3</text>
<text transform="translate(651 516.6)" font-size="14.65" fill="#000" text-anchor="middle" >2</text>
<text transform="translate(649.4 626)" font-size="14.65" fill="#000" text-anchor="middle" >1.2</text>
<text transform="translate(763.8 377.7)" font-size="15.0" fill="#fff" text-anchor="start" >SM 2</text>
<text transform="translate(920 375.4)" font-size="15.0" fill="#000" text-anchor="start" >SM 2</text>
<text transform="translate(677.6 644.8)" font-size="14.65" fill="#000" text-anchor="middle" >1500</text>
<text transform="translate(778.7 644.8)" font-size="14.65" fill="#000" text-anchor="middle" >1590</text>
<text transform="translate(735.5 660.4)" font-size="15.6" fill="#000" text-anchor="middle" >Wavelength (nm)</text>
<text transform="translate(814.5 644.8)" font-size="14.65" fill="#000" text-anchor="middle" >-15</text>
<text transform="translate(889.6 644.8)" font-size="14.65" fill="#000" text-anchor="middle" >0</text>
<text transform="translate(956 644.8)" font-size="14.65" fill="#000" text-anchor="middle" >15</text>
<text transform="translate(885.7 660.2)" font-size="15.6" fill="#000" text-anchor="middle" >Time (ps)</text>
<text transform="translate(680.8 435.8)" font-size="15.6" fill="#fff" text-anchor="start" >Interaction</text>
<text transform="translate(762.7 592.2)" font-size="14.0" fill="#fff" text-anchor="start" >NLP</text>
<text transform="translate(682.4 180.8)" font-size="15.6" fill="#fff" text-anchor="start" >Interaction</text>
<line x1="676.1" y1="203.8" x2="790.8" y2="203.8" stroke="#fff" stroke-width="2.2" stroke-dasharray="9.0 6.800000000000001" stroke-dashoffset="4.30"/>
<line x1="676.1" y1="238.6" x2="790.8" y2="238.6" stroke="#fff" stroke-width="2.2" stroke-dasharray="9.0 6.800000000000001" stroke-dashoffset="9.40"/>
<line x1="676.1" y1="203.8" x2="676.1" y2="238.6" stroke="#fff" stroke-width="2.2" stroke-dasharray="9.0 6.800000000000001" stroke-dashoffset="6.10"/>
<line x1="790.8" y1="203.8" x2="790.8" y2="238.6" stroke="#fff" stroke-width="2.2" stroke-dasharray="9.0 6.800000000000001" stroke-dashoffset="7.60"/>
<path d="M676.1 208.5V203.8H681.5" fill="none" stroke="#fff" stroke-width="2.2"/>
<path d="M786.5 238.6H790.8V234.5" fill="none" stroke="#fff" stroke-width="2.2"/>
<line x1="680" y1="418.6" x2="787" y2="418.6" stroke="#fff" stroke-width="2.2" stroke-dasharray="9.0 6.800000000000001" stroke-dashoffset="8.20"/>
<line x1="680" y1="517.8" x2="787" y2="517.8" stroke="#fff" stroke-width="2.2" stroke-dasharray="9.0 6.800000000000001" stroke-dashoffset="9.80"/>
<line x1="676" y1="423" x2="676" y2="514" stroke="#fff" stroke-width="2.2" stroke-dasharray="9.0 6.800000000000001" stroke-dashoffset="8.70"/>
<line x1="790.4" y1="423" x2="790.4" y2="514" stroke="#fff" stroke-width="2.2" stroke-dasharray="9.0 6.800000000000001" stroke-dashoffset="13.90"/>
<path d="M676 423.5V421.6Q676 418.6 679 418.6H680.5" fill="none" stroke="#fff" stroke-width="2.2"/>
<path d="M785.5 418.6H787.4Q790.4 418.6 790.4 421.6V423" fill="none" stroke="#fff" stroke-width="2.2"/>
<path d="M676 512.5V514.8Q676 517.8 679 517.8H680" fill="none" stroke="#fff" stroke-width="2.2"/>
<path d="M790.4 513V514.8Q790.4 517.8 787.4 517.8H786" fill="none" stroke="#fff" stroke-width="2.2"/>
<line x1="678" y1="520.8" x2="789" y2="520.8" stroke="#fff" stroke-width="2.2" stroke-dasharray="9.0 6.800000000000001" stroke-dashoffset="15.20"/>
<line x1="678" y1="595" x2="789" y2="595" stroke="#fff" stroke-width="2.2" stroke-dasharray="9.0 6.800000000000001" stroke-dashoffset="6.40"/>
<line x1="674.2" y1="525" x2="674.2" y2="591" stroke="#fff" stroke-width="2.2" stroke-dasharray="9.0 6.800000000000001" stroke-dashoffset="2.00"/>
<line x1="792.3" y1="525" x2="792.3" y2="591" stroke="#fff" stroke-width="2.2" stroke-dasharray="9.0 6.800000000000001" stroke-dashoffset="7.30"/>
<path d="M674.2 529.5V523.8Q674.2 520.8 677.2 520.8H678.6" fill="none" stroke="#fff" stroke-width="2.2"/>
<path d="M788.9 520.8H789.3Q792.3 520.8 792.3 523.8V526" fill="none" stroke="#fff" stroke-width="2.2"/>
<path d="M674.2 587.5V592Q674.2 595 677.2 595H680" fill="none" stroke="#fff" stroke-width="2.2"/>
<path d="M792.3 589V592Q792.3 595 789.3 595H788" fill="none" stroke="#fff" stroke-width="2.2"/>
<path d="M692.6 210.2L707.3 182.2M701.8 186.2L707.5 181.8L707.9 189.2" fill="none" stroke="#fff" stroke-width="1.1"/>
<g mask="url(#sm1)" opacity="0.3"><rect x="673" y="145" width="118" height="97" filter="url(#sf1)"/></g>
<g mask="url(#sm2)" opacity="0.22"><rect x="673" y="145" width="118" height="97" filter="url(#sf2)"/></g>
<g mask="url(#sm3)" opacity="0.35"><rect x="677" y="401.3" width="110" height="118" filter="url(#sf3)"/></g>
<g mask="url(#sm4)" opacity="0.28"><rect x="677" y="401.3" width="110" height="118" filter="url(#sf4)"/></g>
<g mask="url(#sm5)" opacity="0.38"><rect x="669" y="520.3" width="126" height="78" filter="url(#sf5)"/></g>
<g mask="url(#sm6)" opacity="0.5"><rect x="669" y="520.3" width="126" height="78" filter="url(#sf6)"/></g>
<g mask="url(#sm7)" opacity="0.32"><rect x="669" y="520.3" width="126" height="78" filter="url(#sf7)"/></g>
<g mask="url(#sm8)" opacity="0.5"><rect x="819" y="115" width="136" height="152" filter="url(#sf8)"/></g>
<g mask="url(#sm9)" opacity="0.8"><rect x="876" y="175" width="22" height="92" filter="url(#sf9)"/></g>
<g mask="url(#sm10)" opacity="0.7"><rect x="819" y="243" width="136" height="26" filter="url(#sf10)"/></g>
<g mask="url(#sm11)" opacity="0.45"><rect x="819.6" y="417.2" width="137" height="112" filter="url(#sf11)"/></g>
<g mask="url(#sm12)" opacity="0.7"><rect x="824.6" y="387.2" width="127" height="145" filter="url(#sf12)"/></g>
<g mask="url(#sm13)" opacity="0.9"><rect x="819.6" y="513.2" width="137" height="90" filter="url(#sf13)"/></g>
<g mask="url(#sm14)" opacity="0.95"><rect x="832.6" y="515.2" width="112" height="88" filter="url(#sf14)"/></g>
<g mask="url(#sm15)" opacity="0.75"><rect x="819.6" y="525.2" width="137" height="78" filter="url(#sf15)"/></g>
<path d="M578.0 124.0L578.0 218.0M532.0 110.8L532.0 204.8M486.1 97.6L486.1 191.6M440.1 84.4L440.1 178.4M394.2 71.2L394.2 165.2M348.2 58.0L348.2 152.0M302.3 44.8L302.3 138.8M296.0 43.0L296.0 137.0M296.0 43.0L578.0 124.0M296.0 85.0L578.0 166.0M296.0 127.0L578.0 208.0M187.0 135.8L187.0 229.8M241.6 89.3L241.6 183.3M134.0 181.0L296.0 43.0M134.0 223.0L296.0 85.0M134.0 265.0L296.0 127.0M134.0 275.0L296.0 137.0M296.0 137.0L578.0 218.0" stroke="#d4d4d4" stroke-width="1" fill="none"/>
<g clip-path="url(#ca)" fill="url(#tg)">
<polygon points="134.2,265.1 416.0,346.0 573.1,212.1 291.3,131.3" fill="#30123b"/>
<path transform="matrix(-1 -0.2869 0 -1 573.1 212.1)" d="M0 -3V6.7L1 6.0L4 6.1L5 5.6L7 6.7L8 5.2L9 6.3L10 5.5L11 6.3L12 6.0L13 6.5L16 5.3L18 6.1L21 5.3L24 6.1L25 5.5L27 6.0L28 5.6L29 5.9L31 5.1L33 6.0L34 6.0L35 5.1L39 5.8L41 4.5L43 5.8L44 5.2L48 5.0L49 5.8L50 5.2L54 5.8L55 5.3L59 4.7L61 5.7L62 4.6L63 5.3L64 5.0L65 5.6L66 4.8L67 5.5L69 5.1L73 5.4L74 6.2L75 5.2L76 5.5L77 5.1L78 5.6L79 5.0L80 5.7L83 5.6L84 5.1L86 5.7L90 5.4L93 6.0L96 5.3L99 6.5L101 5.3L102 5.9L105 5.0L107 6.0L108 5.8L109 6.5L110 5.2L112 6.5L115 5.6L118 5.9L119 6.5L120 5.2L121 5.7L127 3.3L131 2.6L132 1.1L133 1.9L137 1.3L138 2.3L139 2.3L140 1.3L141 1.9L143 0.7L145 1.8L149 1.4L150 2.0L151 1.2L152 1.9L153 1.0L156 1.2L158 1.8L160 1.5L161 2.2L162 1.6L163 1.8L164 1.1L165 2.7L167 1.5L172 2.3L173 1.6L174 1.8L175 1.3L177 2.5L179 1.2L180 2.8L182 1.4L185 1.1L186 2.2L189 1.3L193 2.1L195 1.7L203 2.0L204 1.6L205 2.3L208 1.3L211 2.6L212 1.7L217 1.7L218 2.3L221 1.3L222 1.9L223 1.6L224 2.2L226 1.4L227 2.3L229 1.9L230 2.2L232 1.5L235 2.3L236 1.1L237 2.1L241 1.7L244 2.5L245 1.8L246 2.3L247 1.6L248 2.3L251 1.6L252 2.1L253 1.3L255 0.9L256 1.6L259 1.5L260 2.2L262 1.5L264 2.0L266 1.3L270 1.8L272 1.0L273 1.6L274 0.9L277 2.5L280 0.9L281 1.7L282 1.6V-3Z"/>
<path transform="matrix(-1 -0.2869 0 -1 571.6 213.5)" d="M0 -3V5.6L1 6.0L2 5.3L3 6.5L5 6.2L6 5.4L7 5.9L9 5.2L10 6.0L12 5.4L16 6.0L17 4.9L19 5.6L22 5.1L23 6.0L25 5.7L26 5.2L28 5.4L29 5.0L30 5.4L34 5.2L36 5.8L37 5.5L38 6.4L39 4.9L42 5.8L43 4.7L44 5.5L45 5.0L49 4.9L50 6.1L53 4.2L54 5.5L56 4.6L59 5.4L60 4.4L62 5.2L63 4.6L64 5.3L66 4.7L71 5.4L72 4.4L74 5.4L79 4.8L80 5.5L82 5.0L83 5.4L84 4.6L87 5.8L88 5.0L94 5.7L98 4.8L99 6.0L101 5.3L103 5.4L104 6.2L105 5.3L106 5.8L107 5.5L109 6.4L111 5.1L114 6.1L118 5.3L119 6.6L120 5.7L123 5.4L124 4.3L126 4.7L128 2.3L131 2.5L132 1.7L134 1.9L135 1.2L137 1.6L138 0.9L139 1.0L141 2.2L143 1.5L147 1.8L149 1.0L150 1.9L151 2.0L152 1.5L154 1.9L156 1.4L157 1.8L159 1.4L163 2.0L164 1.4L166 1.5L167 2.1L170 1.3L171 2.2L172 1.5L175 2.0L177 1.5L180 1.9L184 1.4L185 2.2L186 1.4L187 2.0L189 1.2L190 2.2L191 1.5L194 2.0L195 1.5L197 2.3L198 1.6L199 2.5L201 0.9L202 2.0L203 1.6L205 2.3L207 1.4L209 2.3L210 1.6L212 1.7L213 1.0L215 2.1L216 1.8L217 2.2L218 1.2L220 2.4L222 1.9L224 2.6L225 1.8L226 2.0L227 1.5L228 1.9L229 1.5L230 1.9L231 1.7L232 2.5L233 1.5L234 2.4L235 1.6L237 2.1L238 1.1L239 2.4L240 1.0L241 2.1L245 1.8L250 2.2L251 1.5L256 1.6L257 0.9L260 1.9L261 1.4L267 2.0L268 1.4L272 2.4L274 1.2L275 2.7L276 0.6L277 1.9L282 1.9V-3Z"/>
<path transform="matrix(-1 -0.2869 0 -1 570.0 214.8)" d="M0 -3V3.7L1 4.2L2 3.9L4 4.6L6 3.5L7 4.0L14 3.6L17 4.2L18 3.7L19 4.5L23 3.6L24 4.1L25 3.5L27 4.2L28 3.5L29 4.3L30 3.8L32 3.8L33 4.2L34 3.9L35 4.5L36 3.8L40 4.2L41 3.5L42 3.9L43 3.0L44 4.0L48 3.4L49 4.3L51 3.2L53 3.9L54 3.5L55 3.9L56 3.3L61 4.1L66 3.6L67 4.2L68 3.2L70 3.3L72 4.5L73 3.5L75 4.2L76 3.1L77 4.1L80 3.5L81 4.1L82 3.5L83 4.1L85 3.3L86 3.6L87 3.1L89 4.0L93 3.7L95 4.1L96 3.8L97 4.3L99 3.6L100 4.2L101 3.8L104 4.4L106 3.5L107 4.0L109 3.7L110 4.5L113 3.8L114 4.5L117 4.0L119 4.5L120 3.6L122 4.1L124 3.4L125 2.3L127 3.1L128 2.1L131 0.9L134 1.3L136 0.5L137 1.2L138 0.6L140 0.9L142 0.4L144 1.3L147 1.3L148 0.7L149 1.3L153 0.7L154 1.4L155 1.1L157 1.7L158 0.9L161 1.1L162 0.3L163 1.3L165 0.9L166 1.5L169 0.7L172 1.4L174 1.3L175 0.8L176 1.8L179 0.8L180 1.9L184 0.4L185 1.4L187 0.7L188 1.9L189 1.2L190 1.7L192 0.8L194 1.4L195 0.9L196 1.5L198 0.9L199 1.3L201 0.9L203 1.5L206 0.8L208 1.8L210 0.8L211 1.8L216 0.7L217 2.0L219 1.0L220 1.6L221 0.6L222 1.3L224 1.5L225 0.5L226 1.4L228 0.7L229 1.3L232 0.9L233 1.5L234 1.0L236 1.3L237 1.0L238 1.4L242 0.8L247 1.8L250 1.0L252 1.6L254 1.2L255 1.8L259 0.8L264 1.5L266 0.3L268 1.9L270 0.8L271 1.4L275 0.7L278 1.2L279 0.8L280 1.2L282 1.1V-3Z"/>
<path transform="matrix(-1 -0.2869 0 -1 568.4 216.2)" d="M0 -3V3.3L1 2.8L2 3.0L4 2.4L7 3.2L10 2.8L11 3.2L12 2.7L14 3.2L16 2.2L17 2.7L19 2.4L21 3.2L24 2.5L26 2.5L27 3.1L30 2.4L34 3.6L35 3.0L37 3.2L38 2.7L39 3.1L41 2.7L44 2.9L45 3.4L47 2.7L48 3.2L50 2.0L53 3.8L55 2.2L56 2.9L58 3.2L60 2.5L61 3.2L63 2.6L64 3.1L66 3.0L68 2.0L69 2.8L71 3.3L73 2.5L77 3.3L79 3.1L80 3.6L81 2.6L84 3.2L86 2.3L87 3.3L90 2.7L92 3.0L93 2.3L96 3.3L100 2.8L101 3.4L107 3.0L108 3.4L111 3.1L116 3.8L117 3.1L119 3.4L121 3.0L122 3.5L125 2.3L127 2.0L129 0.7L134 0.7L136 0.0L137 0.4L139 0.0L144 0.9L148 0.5L149 0.9L150 0.2L151 0.8L152 0.4L153 1.0L154 0.5L157 0.5L158 1.0L160 0.4L161 1.8L162 0.1L163 0.7L165 0.4L169 0.9L170 0.4L172 1.4L173 0.8L175 0.8L176 1.3L178 0.4L180 1.5L182 0.2L183 0.9L186 0.0L187 1.1L193 0.4L194 1.0L196 0.7L200 1.0L201 0.5L203 1.2L204 0.5L206 0.6L207 0.2L209 0.9L210 0.3L211 1.3L212 0.4L216 1.0L217 0.0L221 1.8L223 0.3L224 1.3L226 0.4L227 1.0L228 0.7L232 1.5L235 0.4L238 1.0L241 0.6L243 0.8L244 0.2L246 1.0L253 0.5L254 1.0L257 0.3L260 1.0L261 0.8L262 1.4L263 0.3L265 1.1L266 0.6L268 1.0L271 0.3L275 0.6L276 0.2L278 0.7L279 0.0L282 1.1V-3Z"/>
<path transform="matrix(-1 -0.2869 0 -1 566.9 217.5)" d="M0 -3V3.4L2 2.9L3 3.8L4 4.0L6 3.1L7 3.7L9 3.4L10 2.6L11 4.1L12 3.0L13 3.6L15 3.2L19 4.1L20 3.5L22 4.0L23 2.8L25 3.8L27 3.6L29 4.2L30 3.4L33 3.1L36 3.7L38 3.0L39 3.7L42 3.4L43 3.9L45 3.4L50 4.1L52 3.2L55 4.2L57 3.6L58 4.3L59 3.9L60 4.0L61 3.3L62 4.1L63 3.0L64 4.5L65 3.9L67 3.6L68 4.1L70 3.5L71 4.3L72 3.3L75 4.2L76 3.7L80 3.6L81 3.0L84 3.9L86 3.3L87 3.9L88 3.2L90 4.1L92 3.6L93 4.2L95 3.7L98 4.3L99 3.6L100 4.0L101 3.4L102 3.5L103 4.3L105 3.3L106 3.9L108 3.1L112 4.2L115 3.7L118 4.7L119 3.6L121 4.1L122 3.6L123 3.8L126 1.7L127 2.3L129 1.8L130 1.0L131 1.3L134 0.2L137 1.2L138 0.6L139 1.2L144 0.4L145 0.6L146 1.6L147 0.6L148 0.9L150 0.6L151 1.0L153 0.4L155 1.5L156 0.3L160 1.0L161 0.4L163 0.6L164 1.3L165 0.5L166 1.2L167 0.7L170 1.3L171 0.7L173 1.7L175 1.1L176 0.2L178 1.0L179 0.6L180 1.4L181 0.7L183 1.0L185 0.0L186 1.4L187 1.3L189 0.2L191 1.0L193 1.1L195 1.0L196 0.4L199 1.3L200 0.5L202 0.5L204 1.3L205 0.8L206 1.4L207 0.7L208 1.2L211 1.1L212 0.4L213 1.2L214 0.2L216 1.2L222 0.6L223 1.3L224 1.3L227 0.8L228 0.1L229 1.4L231 0.1L233 0.8L234 0.5L235 1.4L236 0.9L238 1.3L239 0.6L240 1.6L241 0.7L242 1.2L244 1.0L246 0.4L247 0.8L251 1.1L253 0.1L254 1.2L255 0.5L257 0.9L258 0.2L259 1.2L261 0.2L262 0.9L265 0.3L266 1.4L269 0.8L271 1.1L274 0.1L275 0.9L278 1.6L279 0.8L280 1.0L281 0.3L282 0.7V-3Z"/>
<path transform="matrix(-1 -0.2869 0 -1 565.3 218.8)" d="M0 -3V4.8L3 5.0L4 4.3L5 5.2L7 4.2L8 5.5L9 5.7L10 5.0L12 5.2L13 4.7L14 5.4L15 4.8L17 5.4L19 4.9L20 5.6L22 5.3L23 5.8L24 4.6L27 5.5L28 4.8L30 5.6L31 5.1L32 5.8L33 5.1L34 5.5L38 5.2L40 6.2L41 5.1L42 5.0L43 5.8L44 5.1L45 6.2L48 5.2L49 5.6L52 5.4L53 4.7L54 5.4L55 4.8L57 5.4L59 5.0L60 6.2L65 4.9L67 6.0L68 5.6L69 6.0L74 6.0L75 5.0L78 6.0L81 5.3L84 5.3L85 6.0L86 5.4L89 5.9L94 6.0L96 5.6L98 6.0L100 5.4L102 6.3L103 5.4L105 5.3L106 5.8L107 5.0L109 6.1L111 6.2L112 5.0L116 6.3L118 6.1L119 5.2L120 6.1L121 6.0L122 5.0L126 3.9L128 2.4L129 2.6L131 1.7L132 2.3L133 1.0L134 1.6L138 1.2L139 1.8L140 0.9L141 2.1L143 1.0L149 1.6L151 1.3L152 1.9L154 1.2L155 2.0L156 1.3L158 1.0L161 1.4L162 0.9L164 2.0L165 0.5L166 1.3L167 0.9L168 1.3L170 0.5L173 1.7L174 0.9L175 1.4L177 0.9L179 1.6L180 1.0L184 1.7L185 0.8L187 1.0L188 1.7L189 1.6L190 0.7L192 1.2L193 0.8L194 1.5L195 0.8L196 1.4L197 0.7L199 1.3L200 0.9L202 1.6L203 0.4L204 1.6L207 0.7L210 1.3L211 0.1L212 2.2L213 0.9L215 0.9L216 1.6L218 0.9L219 1.3L220 0.5L221 1.1L222 0.9L223 1.6L224 1.2L226 1.8L228 0.7L229 1.7L232 0.7L233 1.4L235 1.3L236 2.4L238 1.3L239 1.7L241 1.2L242 1.6L243 1.0L245 0.8L247 1.6L249 0.7L251 1.2L254 1.3L255 1.8L256 0.8L261 1.2L264 0.9L265 1.5L267 1.1L269 1.6L272 0.9L273 1.4L276 1.0L281 1.4L282 1.0V-3Z"/>
<path transform="matrix(-1 -0.2869 0 -1 563.7 220.2)" d="M0 -3V5.8L1 6.0L2 5.5L3 6.0L5 5.1L7 5.4L8 6.0L9 5.2L10 5.9L12 6.2L14 6.2L15 5.4L16 6.2L17 5.4L19 6.3L20 5.4L22 6.3L23 6.4L24 5.8L27 6.5L28 5.9L30 5.8L32 6.7L33 5.5L34 6.3L35 6.0L36 6.8L37 6.1L39 6.5L40 6.2L42 6.9L43 5.9L44 6.5L45 6.1L46 6.6L47 5.9L51 6.8L52 6.3L54 6.6L56 6.2L57 7.0L60 6.5L61 7.0L62 6.2L64 6.6L65 6.1L66 6.8L68 6.3L69 7.3L72 6.2L73 6.2L75 7.1L76 6.2L77 7.0L78 6.2L79 6.7L82 6.5L83 7.4L84 6.3L85 6.9L89 6.1L90 6.8L93 7.1L95 6.2L96 6.9L98 6.8L99 6.1L100 6.9L101 6.5L103 7.1L104 6.4L106 6.8L108 6.5L110 7.0L111 6.6L112 7.7L113 6.5L115 6.1L117 7.5L118 6.6L120 7.2L122 6.4L125 4.3L128 3.6L129 2.3L130 2.5L134 1.3L137 1.6L138 1.0L140 1.8L142 1.7L143 1.1L144 1.9L145 1.9L146 0.9L148 2.0L149 1.5L151 1.8L154 1.2L155 1.8L156 0.5L157 1.7L158 0.9L160 1.6L161 1.1L162 1.9L163 1.5L165 1.8L166 1.0L169 1.5L172 1.3L173 0.7L174 1.5L175 0.7L177 1.5L180 1.2L181 1.8L182 1.3L183 1.5L185 1.1L186 1.8L187 1.2L189 1.2L190 1.8L195 1.1L196 1.5L197 1.3L198 1.9L202 1.7L204 1.1L207 1.6L210 1.1L211 1.6L213 1.1L215 1.8L217 0.6L218 2.4L220 1.0L221 1.3L225 1.0L226 1.7L227 0.8L230 1.7L231 0.5L233 1.7L234 1.2L235 1.8L237 1.1L240 1.5L241 1.0L244 1.6L245 1.0L246 1.7L248 0.8L249 0.9L250 1.7L252 1.7L253 1.0L255 1.6L257 1.6L258 1.1L259 1.9L260 1.1L261 1.5L262 0.8L263 1.3L264 0.6L265 1.3L267 1.3L268 2.2L271 0.7L272 1.7L275 1.5L276 2.2L277 1.1L278 1.9L279 1.2L280 1.7L282 1.5V-3Z"/>
<path transform="matrix(-1 -0.2869 0 -1 562.1 221.5)" d="M0 -3V4.3L1 3.9L3 4.4L4 5.3L5 4.4L6 4.8L7 4.2L10 5.4L12 4.7L15 5.0L17 4.6L18 5.1L20 4.2L23 5.0L26 4.7L28 5.2L31 5.3L33 4.9L34 5.7L37 4.2L38 5.2L42 5.5L43 4.7L44 5.2L45 4.5L46 5.8L47 5.0L49 5.3L50 4.8L51 5.7L53 5.7L54 4.9L56 5.6L59 4.8L63 6.3L64 5.0L65 5.6L67 5.0L68 5.8L69 5.0L72 5.1L73 5.8L74 5.2L79 5.9L83 5.2L84 5.8L85 5.3L88 5.1L90 6.2L91 5.9L92 6.4L93 5.6L96 5.8L97 5.3L99 6.0L101 5.3L102 6.2L106 6.0L107 6.4L108 5.6L109 6.1L113 6.1L116 5.6L118 6.4L119 6.0L122 6.0L123 4.9L124 4.8L125 3.2L126 3.5L127 2.8L128 2.7L129 1.7L135 1.1L136 1.6L137 1.2L139 1.7L140 0.6L142 1.3L145 1.4L146 0.7L147 1.0L148 0.4L150 0.7L152 1.8L153 1.1L155 1.8L157 0.9L160 1.8L161 1.0L163 1.9L164 1.4L167 1.1L168 1.8L170 0.8L171 1.5L174 0.7L176 2.0L178 0.7L180 1.5L181 1.0L183 1.6L184 0.8L186 1.6L188 0.7L189 1.3L196 0.9L199 1.9L200 1.2L203 0.9L204 1.7L205 1.0L206 1.3L207 0.4L211 1.4L215 0.8L217 1.3L218 0.5L219 1.2L221 0.8L223 1.7L225 0.8L226 1.6L227 0.6L230 1.4L232 1.1L233 1.9L234 1.3L236 0.8L237 1.1L238 0.6L239 1.3L240 0.1L241 1.3L242 0.5L244 1.5L248 0.3L249 1.2L250 1.3L252 0.9L253 1.3L254 0.9L258 1.3L260 0.6L261 1.2L263 0.6L265 1.2L266 0.9L269 1.4L270 1.9L271 1.8L272 1.0L273 1.6L275 1.0L276 1.7L278 1.0L282 1.5V-3Z"/>
<path transform="matrix(-1 -0.2869 0 -1 560.6 222.8)" d="M0 -3V2.7L1 3.5L2 2.6L3 2.8L5 3.9L7 3.2L8 3.8L10 3.0L19 3.9L20 3.4L21 3.8L23 3.4L24 3.8L25 2.9L26 3.7L27 3.5L28 3.9L29 2.9L30 3.7L32 3.9L35 3.0L36 4.0L39 4.0L40 3.5L41 4.2L44 3.5L46 4.3L47 3.3L49 3.8L51 3.7L52 4.5L53 3.5L55 4.0L57 3.2L58 4.2L59 3.8L60 4.2L63 3.9L65 3.2L68 4.2L69 3.7L72 4.3L73 3.2L75 4.2L78 4.3L79 3.5L80 4.3L84 3.7L86 4.0L87 4.7L88 3.6L90 4.6L91 4.0L93 4.7L94 4.1L96 3.9L98 4.7L100 4.3L104 4.6L105 5.5L106 4.1L109 4.8L113 4.6L115 5.3L116 6.2L118 4.6L120 6.2L121 4.9L123 4.8L125 2.3L126 2.1L127 2.7L128 1.6L130 1.3L131 1.6L132 0.7L138 0.6L141 0.8L142 1.2L143 0.5L144 1.2L145 0.8L147 1.5L149 0.7L153 1.0L156 0.6L157 1.0L158 0.1L159 0.9L161 0.5L162 1.1L164 0.7L165 1.2L167 0.3L169 1.0L170 0.9L171 0.3L173 0.6L174 1.3L175 1.3L176 0.3L177 0.8L181 0.5L185 0.9L187 0.2L189 0.7L191 0.2L193 1.2L194 0.6L196 0.3L197 1.4L199 0.2L203 0.8L204 1.3L205 0.3L206 1.0L208 0.2L209 0.7L213 0.3L221 1.0L222 0.6L223 0.9L224 0.3L227 1.2L228 0.1L229 0.9L232 0.8L233 1.3L234 0.6L235 0.9L237 0.4L239 1.2L240 0.3L241 1.1L242 1.1L243 0.4L244 0.8L245 0.4L247 0.8L248 0.3L251 1.2L252 0.3L254 1.4L255 0.3L257 0.9L258 0.2L259 0.7L260 0.7L261 1.7L262 0.7L263 0.4L264 1.1L265 1.1L266 0.7L267 0.9L268 0.0L270 1.0L273 0.6L274 1.1L276 0.6L278 1.2L282 0.9V-3Z"/>
<path transform="matrix(-1 -0.2869 0 -1 559.0 224.2)" d="M0 -3V4.1L2 3.1L3 3.2L4 3.9L6 3.4L7 3.9L8 3.2L10 4.0L11 3.3L13 3.8L14 3.4L15 3.8L16 3.2L18 3.8L20 3.4L21 4.4L22 3.5L25 3.1L27 3.9L28 3.9L30 2.9L32 3.8L33 3.4L34 3.8L38 3.4L41 3.8L43 3.3L44 3.7L45 3.0L47 3.8L48 3.3L52 3.8L53 3.4L54 4.1L55 3.6L58 3.5L60 4.1L62 3.6L63 4.2L66 4.3L67 3.4L68 3.9L74 4.5L75 3.5L76 4.6L77 3.7L78 4.2L80 3.6L82 5.0L85 3.9L86 3.8L87 4.3L89 3.6L90 4.6L91 4.4L92 4.9L93 3.8L95 4.7L96 4.0L101 5.2L104 5.3L105 4.4L106 5.2L107 5.0L108 5.5L109 4.8L110 5.4L113 5.6L115 6.4L117 5.7L118 6.1L119 5.2L120 6.5L126 2.0L127 1.4L128 2.2L131 0.2L133 1.1L136 0.3L138 1.4L140 0.0L142 0.4L143 1.7L144 0.6L146 0.6L147 1.2L148 0.5L150 1.0L151 0.5L152 1.4L154 0.7L155 1.2L156 0.4L159 0.5L160 1.0L161 0.6L164 0.6L165 1.5L168 0.7L169 1.2L171 0.8L172 1.7L174 0.4L175 1.2L179 0.7L180 1.3L181 0.8L183 1.6L184 0.9L187 1.0L190 0.1L192 1.6L193 0.4L195 0.8L198 0.5L199 1.4L200 0.6L201 0.5L202 1.0L203 0.7L204 1.3L206 0.8L207 1.4L208 0.9L209 1.3L210 0.7L217 0.9L219 0.3L222 1.1L224 0.6L225 1.2L226 0.5L227 1.0L228 0.3L229 0.9L231 0.5L233 1.1L235 0.6L236 1.0L237 0.1L238 0.7L239 0.0L240 0.7L242 0.7L244 0.1L245 1.2L247 0.2L249 0.7L253 0.5L254 1.2L256 1.0L257 0.4L259 1.0L263 0.6L266 1.0L267 0.6L270 1.0L273 0.4L274 0.8L278 0.5L280 1.1L281 0.4L282 0.5V-3Z"/>
<path transform="matrix(-1 -0.2869 0 -1 557.4 225.5)" d="M0 -3V6.0L1 4.4L2 5.4L3 5.2L4 4.3L5 5.0L7 5.4L8 4.6L11 4.7L12 5.4L13 5.3L14 4.4L15 4.3L16 5.0L17 4.9L18 4.0L19 5.4L21 4.5L22 5.2L24 4.6L27 5.2L28 5.9L29 4.8L30 5.3L31 4.5L32 5.8L35 4.8L37 5.6L38 4.8L39 5.3L40 4.6L41 5.5L42 5.1L49 5.4L50 4.9L52 5.6L54 4.8L55 5.0L56 4.2L57 5.4L59 5.7L63 5.4L64 6.0L65 4.9L66 5.6L70 5.7L71 5.2L72 5.8L76 6.0L77 5.4L80 6.0L81 5.6L84 6.4L86 5.5L87 7.0L88 6.4L89 6.7L91 6.2L92 6.9L94 7.3L99 6.8L101 6.9L102 7.5L104 7.1L105 7.2L106 8.0L112 8.1L115 9.4L116 8.8L118 9.6L120 9.6L121 9.3L123 7.6L125 4.0L126 3.1L128 2.7L131 1.2L132 2.1L133 0.8L135 1.0L136 1.6L138 0.5L139 1.6L140 0.7L150 1.4L152 0.9L153 1.8L155 0.9L159 1.7L160 1.0L162 0.8L164 1.4L165 1.1L166 1.7L168 1.3L169 1.6L170 1.4L171 0.3L172 1.0L173 0.3L174 1.5L181 0.7L183 1.8L184 1.3L186 1.6L188 0.5L189 2.1L192 1.2L194 2.1L195 1.2L198 1.4L199 0.7L200 1.5L201 1.1L202 1.8L204 0.8L209 1.0L211 1.6L212 1.0L215 1.2L216 0.8L218 1.4L219 0.6L220 1.6L221 1.3L222 2.2L225 1.6L226 0.5L229 1.6L235 1.3L236 0.9L237 1.3L238 0.4L240 1.9L241 2.0L242 1.6L243 1.9L245 0.9L246 1.6L248 1.1L249 1.4L250 0.6L251 0.5L252 1.2L254 0.9L255 1.6L258 1.0L262 1.4L263 0.8L264 1.6L266 0.3L267 1.2L268 0.9L270 1.7L272 0.9L274 2.2L275 1.3L277 1.2L278 1.8L279 1.2L282 1.1V-3Z"/>
<path transform="matrix(-1 -0.2869 0 -1 555.9 226.9)" d="M0 -3V6.9L1 6.6L2 7.4L3 6.2L5 7.7L7 6.9L8 7.4L11 6.6L13 7.4L16 6.6L18 7.4L20 7.0L21 7.7L22 7.0L23 7.5L24 7.0L25 7.5L26 6.2L27 7.0L28 6.8L29 7.5L31 6.8L32 7.7L34 7.0L36 7.5L41 7.6L42 6.7L43 7.4L44 7.1L47 7.8L48 6.8L52 7.4L53 8.0L54 7.4L56 8.1L58 7.5L59 8.0L60 7.8L61 8.1L63 7.6L64 8.4L65 7.8L66 8.4L67 8.1L68 8.7L69 7.6L70 8.2L75 8.7L76 9.3L78 8.5L80 9.3L82 8.9L83 9.6L84 8.9L87 10.0L92 9.8L93 10.6L96 10.3L99 10.7L101 11.1L102 11.8L104 11.1L105 12.3L106 12.0L110 12.9L112 12.5L113 13.7L117 14.4L118 15.0L119 14.4L120 15.5L122 13.3L126 3.6L132 1.4L133 1.8L135 1.3L136 1.9L139 1.2L140 2.1L141 1.3L145 2.1L147 1.4L150 2.0L153 1.6L156 1.8L159 1.2L160 2.1L164 1.4L167 1.7L168 2.3L169 1.6L170 2.5L172 1.6L175 1.8L178 1.4L180 1.9L181 1.4L183 1.9L184 1.5L188 2.1L189 1.6L191 2.0L192 1.6L193 2.1L194 1.6L195 1.9L196 1.2L197 1.8L199 1.0L200 2.0L201 2.2L202 1.7L203 1.6L204 2.3L205 1.5L206 2.2L211 1.3L215 2.5L216 1.4L218 2.0L220 1.7L221 0.9L222 1.8L225 1.5L226 2.0L228 1.4L230 2.1L231 1.2L236 2.1L237 1.5L240 2.0L241 1.3L242 1.9L243 1.5L246 2.3L248 0.6L249 1.4L250 1.0L252 2.0L253 1.0L254 1.0L255 2.1L260 1.1L261 2.2L262 1.8L263 2.1L266 1.9L268 1.2L269 1.8L270 1.2L271 1.9L272 1.3L274 1.5L275 2.1L276 1.0L277 1.6L279 1.4L280 1.8L281 1.0L282 1.4V-3Z"/>
<path transform="matrix(-1 -0.2869 0 -1 553.7 228.7)" d="M0 -3V8.6L1 9.5L4 9.0L5 9.7L8 8.5L9 9.5L11 9.0L15 9.5L17 8.7L18 9.6L19 8.8L20 8.9L21 9.8L22 9.1L23 9.7L25 9.3L27 10.1L28 8.9L29 9.9L31 9.7L34 10.4L38 9.5L41 10.7L42 9.9L47 10.9L49 10.3L51 11.2L53 10.9L57 11.6L59 11.3L60 12.2L61 11.0L62 12.2L64 11.6L65 12.7L66 11.6L68 12.9L69 12.3L70 12.8L72 12.2L73 13.7L74 13.1L76 14.0L79 14.2L81 15.4L84 14.9L86 16.1L87 15.7L88 16.4L91 16.5L92 17.2L93 17.0L94 17.7L96 17.9L97 19.2L100 19.4L108 23.5L109 23.4L110 24.9L111 23.7L113 25.8L115 26.2L117 27.3L118 28.8L121 29.4L122 26.5L125 6.9L126 3.6L127 3.2L128 2.1L129 2.4L131 1.3L136 1.4L137 0.8L138 1.4L139 0.7L140 1.5L141 1.7L146 1.6L147 1.0L149 1.5L150 0.9L153 1.9L156 1.1L160 1.5L162 1.0L166 1.8L168 1.2L171 1.1L173 2.0L175 1.0L177 1.9L178 0.8L180 1.7L182 1.0L183 1.5L185 1.1L187 1.6L193 1.6L194 2.1L195 1.2L196 1.7L201 1.1L202 2.2L203 1.5L205 2.1L207 0.8L209 1.5L213 1.4L214 1.7L215 0.8L216 1.6L219 1.1L220 1.8L222 1.2L223 1.6L224 1.3L226 1.7L229 1.1L231 1.7L233 1.1L234 1.8L235 0.7L237 1.8L238 1.0L239 1.5L241 1.0L242 1.6L244 0.9L247 1.5L248 1.1L249 1.8L250 1.3L252 1.6L254 1.2L256 1.8L257 0.9L259 1.3L261 0.9L262 1.4L264 0.8L266 2.1L267 1.1L269 0.9L271 1.6L272 1.2L275 1.5L276 0.7L277 1.4L278 0.5L279 1.6L282 0.9V-3Z"/>
<path transform="matrix(-1 -0.2869 0 -1 552.7 229.5)" d="M0 -3V6.3L7 7.2L9 6.6L14 6.8L15 7.3L16 6.7L18 7.6L19 6.7L20 7.4L21 6.8L22 7.2L24 6.8L27 7.2L28 6.8L30 7.5L34 7.3L35 8.0L37 6.5L38 7.8L39 7.1L40 7.8L41 7.5L42 7.9L44 7.3L45 8.2L46 7.4L48 7.4L49 8.1L55 8.2L57 8.9L59 8.5L61 9.2L62 8.9L65 9.5L66 8.9L72 10.0L78 10.0L79 10.6L82 10.1L83 11.1L84 10.9L85 11.9L87 11.2L88 12.1L90 11.9L91 12.6L93 12.3L95 13.4L96 13.1L97 14.2L98 13.2L100 14.0L101 15.1L103 15.3L104 14.7L106 16.5L108 16.2L109 17.2L110 16.3L111 17.6L113 17.5L114 18.7L115 18.6L117 19.7L118 19.7L120 21.4L121 21.1L122 18.7L125 4.7L126 2.4L127 3.0L129 1.2L131 1.6L132 0.9L135 1.4L140 0.7L141 1.5L145 0.9L146 1.3L149 0.9L152 1.3L153 0.8L154 1.6L155 0.7L156 0.8L157 1.7L158 0.8L159 1.6L160 0.4L162 1.9L163 0.9L164 1.4L165 0.8L166 1.5L168 0.8L169 1.6L170 0.6L171 1.5L172 1.4L175 0.4L176 1.3L179 1.4L181 0.8L183 1.0L184 0.5L185 1.4L189 1.3L190 0.7L191 0.8L192 1.7L193 1.0L196 0.9L198 1.4L199 0.4L200 1.2L203 1.2L205 0.6L207 1.3L208 1.1L209 1.4L210 1.0L211 1.3L214 0.8L220 1.3L222 0.7L224 1.3L226 1.0L227 1.5L229 0.4L232 1.3L233 0.9L235 1.2L236 0.6L238 0.7L239 1.5L242 0.4L243 1.2L244 0.7L245 1.3L248 0.9L254 1.5L257 0.8L260 0.9L261 1.6L262 0.7L263 1.6L265 1.0L268 1.0L270 0.0L271 1.0L272 0.7L274 1.6L275 0.6L278 1.3L280 0.0L281 1.5L282 0.9V-3Z"/>
<path transform="matrix(-1 -0.2869 0 -1 551.1 230.9)" d="M0 -3V4.3L1 3.6L2 4.5L3 4.1L4 4.5L5 4.0L9 4.5L10 3.8L11 4.6L12 4.7L15 4.3L17 4.6L19 4.1L20 4.8L23 4.7L24 5.6L25 4.4L29 4.8L31 4.1L33 4.7L34 4.4L37 5.0L38 4.2L39 4.2L40 5.1L43 4.7L46 5.8L47 5.0L49 4.7L50 5.7L51 5.2L53 5.5L54 4.6L55 5.2L58 5.6L59 5.0L60 5.6L63 5.3L68 5.7L69 5.3L71 6.0L74 5.2L75 5.7L78 5.2L80 6.3L83 6.0L85 6.7L86 6.3L87 7.2L88 6.2L90 7.1L91 6.7L92 7.2L93 6.5L98 7.7L101 7.8L102 8.5L105 7.6L106 9.0L107 8.3L109 8.5L111 9.7L112 9.3L114 10.3L115 9.1L117 10.7L119 10.1L120 10.7L122 9.5L125 3.3L126 2.2L128 1.9L129 0.7L130 1.7L131 0.8L134 1.1L136 0.7L137 1.2L141 0.3L143 0.7L144 0.1L145 0.8L147 0.7L148 0.1L150 1.0L151 0.1L156 1.1L157 0.2L160 0.5L161 1.2L163 1.1L164 0.4L165 1.6L172 0.6L173 1.7L174 1.4L175 0.4L181 1.2L182 0.2L183 1.0L188 0.4L189 1.2L190 0.2L191 1.2L195 0.4L196 0.8L197 0.1L199 1.1L203 0.4L206 1.4L208 0.5L211 0.6L212 1.1L213 0.0L215 1.8L216 0.9L218 0.6L220 1.4L221 0.3L222 0.9L223 0.3L224 1.2L225 0.6L226 1.1L227 0.7L228 1.2L229 0.7L230 1.2L231 0.2L233 1.1L235 0.4L236 0.9L238 0.5L241 0.8L242 1.4L245 0.3L247 0.9L250 1.0L251 0.2L254 1.2L255 0.6L256 0.8L259 0.0L261 1.1L268 0.1L269 1.0L270 0.8L271 1.2L274 0.3L277 0.9L278 0.4L280 1.2L281 0.2L282 1.1V-3Z"/>
<path transform="matrix(-1 -0.2869 0 -1 549.6 232.2)" d="M0 -3V3.9L1 4.3L2 3.7L3 5.0L4 4.3L10 4.5L12 4.0L14 4.5L16 4.1L17 4.9L21 4.2L23 4.9L25 4.5L28 5.0L32 4.4L35 5.2L36 4.3L37 5.3L40 4.5L42 5.2L45 5.2L47 4.3L48 6.4L49 4.8L50 4.5L52 5.8L53 5.1L55 5.6L56 5.0L58 5.2L59 4.8L60 5.6L61 4.8L62 5.3L64 5.4L65 4.8L67 5.8L70 4.6L71 5.7L74 5.2L76 5.9L78 5.4L81 6.1L83 5.0L85 6.4L87 5.6L89 6.8L90 5.8L92 5.9L93 6.7L97 6.1L98 6.7L99 6.4L100 7.0L103 6.3L108 7.3L111 6.9L112 6.3L113 7.5L114 7.1L116 8.0L117 7.4L118 8.0L120 7.8L121 8.9L125 2.8L130 1.3L133 1.2L134 0.6L136 1.0L137 0.6L138 1.3L141 0.4L142 1.0L143 0.7L144 1.2L146 0.6L147 1.1L148 0.5L149 0.9L150 0.5L151 1.1L155 0.5L157 1.1L158 0.6L159 1.4L161 0.5L163 1.0L166 0.6L168 1.4L170 0.4L171 1.2L175 0.6L178 0.7L179 1.3L180 0.6L182 1.3L183 0.6L184 1.3L187 0.6L189 1.0L190 0.6L193 1.5L195 0.2L196 0.7L198 0.0L199 0.7L202 0.5L203 0.8L206 0.5L208 0.9L212 0.2L213 0.9L214 0.5L216 1.2L217 1.1L218 0.1L219 0.8L223 1.3L224 0.3L225 0.9L227 1.1L231 0.3L232 1.2L234 0.6L235 1.4L236 0.4L241 0.9L243 0.4L244 1.1L247 1.0L250 0.3L252 1.8L254 0.3L258 1.3L259 0.6L261 0.5L262 1.0L263 0.5L265 1.2L267 1.3L268 0.1L269 0.7L271 0.7L272 1.5L273 1.5L274 0.5L275 1.2L276 0.4L277 0.9L281 1.0L282 0.2V-3Z"/>
<path transform="matrix(-1 -0.2869 0 -1 548.0 233.6)" d="M0 -3V5.3L2 5.0L3 6.4L4 5.1L6 6.0L8 5.3L10 6.6L11 5.3L12 5.7L13 5.4L15 5.8L16 6.7L17 5.8L19 6.5L20 6.0L21 6.5L23 5.1L25 6.9L26 5.4L30 6.6L32 5.5L36 6.7L37 5.8L38 6.6L41 6.2L43 6.8L48 6.4L49 6.8L52 6.7L54 5.9L55 6.7L58 6.5L59 7.1L61 6.6L63 6.9L64 6.3L65 7.2L67 6.2L69 6.7L71 6.0L73 7.6L77 6.4L78 7.0L81 6.4L85 7.1L88 6.9L92 7.8L93 7.3L97 7.5L98 7.0L104 7.7L105 6.9L106 7.7L107 7.3L109 8.2L110 7.5L111 7.8L114 7.5L118 7.7L120 8.4L123 6.4L125 4.1L126 4.3L127 2.9L131 1.3L133 1.0L134 1.7L137 1.7L138 1.0L139 1.9L140 1.2L142 1.7L144 1.2L145 1.5L147 1.4L148 0.7L149 2.0L150 1.3L152 1.1L154 1.5L155 1.1L156 1.7L157 1.0L159 1.6L162 1.1L163 2.0L164 1.2L167 1.3L168 0.9L172 1.0L173 1.4L174 1.0L178 1.9L181 1.0L182 1.9L183 1.1L185 1.1L186 1.8L188 0.7L192 1.6L194 0.6L197 1.2L202 1.0L203 1.5L204 0.7L205 1.4L206 1.5L208 0.7L210 1.4L211 0.6L212 1.3L213 1.0L215 1.6L220 1.3L222 2.0L223 0.8L225 1.3L226 0.6L229 1.5L233 0.6L238 1.4L239 0.9L241 1.5L243 0.9L244 1.8L245 0.8L247 0.9L248 1.4L249 0.8L251 1.3L253 1.1L254 2.1L255 1.8L256 0.9L258 1.3L259 0.8L260 1.6L261 1.1L262 1.8L264 0.9L268 1.7L275 1.0L277 1.0L278 1.5L280 1.1L281 1.8L282 1.9V-3Z"/>
<path transform="matrix(-1 -0.2869 0 -1 546.4 234.9)" d="M0 -3V5.5L1 7.0L2 5.9L3 6.7L5 6.0L7 6.7L10 6.3L11 5.8L13 6.9L15 6.1L17 6.8L19 6.4L20 7.0L23 6.0L24 7.2L25 5.9L26 7.2L27 6.2L28 7.2L29 6.5L31 6.4L32 7.4L35 6.7L39 7.4L41 5.8L42 7.4L43 6.8L44 7.2L49 6.9L51 7.1L52 7.9L53 7.3L54 7.5L56 6.8L58 7.5L60 6.8L61 7.8L62 7.3L63 7.9L64 7.3L65 7.6L66 6.5L67 7.4L68 7.5L73 6.7L74 7.4L83 6.6L84 7.9L85 6.7L87 7.8L89 7.3L90 7.9L92 7.3L99 7.8L102 6.9L103 7.7L105 7.4L106 7.8L107 7.0L109 7.8L110 7.4L112 7.7L113 7.3L116 8.1L119 7.7L120 8.1L121 7.3L122 7.5L126 3.5L128 3.4L129 2.6L130 2.7L132 1.7L134 1.4L135 1.8L138 1.0L140 1.5L141 2.3L142 2.2L143 1.3L145 2.2L146 1.1L147 1.7L149 1.9L151 1.1L153 1.1L154 1.6L155 1.2L156 1.8L157 1.5L159 2.2L160 1.4L162 2.0L163 1.6L164 1.9L167 1.6L168 1.0L172 2.0L174 0.7L176 1.7L177 1.0L178 1.5L179 1.0L182 0.8L185 1.3L186 2.2L187 1.3L190 1.5L192 0.4L195 1.7L201 0.9L203 1.7L204 1.1L206 1.4L210 0.9L211 1.6L212 1.1L213 1.4L214 0.6L215 2.1L216 1.3L219 1.5L220 0.5L221 1.4L226 1.4L227 1.0L228 1.2L229 2.2L230 1.3L231 1.5L232 0.8L236 1.8L237 0.8L239 1.2L241 1.0L242 0.4L244 1.4L246 1.2L247 1.9L249 1.2L252 1.6L253 1.1L255 1.3L256 1.9L257 1.4L258 2.1L260 1.2L265 1.8L266 1.1L268 1.9L269 1.4L271 1.9L272 1.2L273 2.4L275 1.4L276 1.5L277 2.3L279 0.9L280 1.5L282 1.1V-3Z"/>
<path transform="matrix(-1 -0.2869 0 -1 544.9 236.2)" d="M0 -3V4.7L2 5.6L3 5.0L5 5.5L7 5.3L8 4.7L9 6.0L10 5.3L15 4.6L16 5.6L17 5.1L20 5.9L22 5.1L28 5.1L31 5.8L34 5.1L35 5.6L37 5.4L38 4.9L39 6.6L40 5.5L42 5.0L43 6.2L44 5.2L47 5.5L48 5.1L49 5.5L50 4.9L52 5.5L55 4.9L56 5.9L62 5.5L63 5.1L64 5.3L65 6.4L66 5.5L67 5.9L70 5.2L73 6.3L74 6.2L75 5.3L77 5.4L78 6.2L79 5.4L80 6.3L81 5.4L82 5.7L83 5.0L84 6.5L85 6.8L86 5.5L90 5.9L91 6.6L92 5.7L93 5.7L95 6.6L103 5.2L104 5.8L108 5.8L109 6.3L112 6.3L113 5.6L116 6.9L118 5.8L119 6.5L120 6.1L121 6.4L125 3.8L128 2.6L130 2.7L131 1.6L132 2.6L134 1.5L135 1.4L137 2.3L141 1.1L142 1.6L148 1.9L149 1.4L151 1.7L152 1.3L153 1.9L154 1.1L157 2.2L158 1.5L160 1.1L163 2.5L164 1.8L166 2.1L167 1.2L168 1.5L169 1.1L172 1.9L173 1.3L174 2.0L175 1.2L177 1.7L178 0.9L182 1.9L184 1.3L186 1.7L187 1.3L188 1.8L189 1.1L190 1.9L191 1.2L193 1.7L194 1.4L195 2.2L196 1.6L201 1.2L205 1.8L208 0.7L209 2.4L210 1.4L212 2.4L213 1.8L214 2.0L217 1.2L218 2.3L219 1.0L220 1.9L222 2.3L223 1.4L225 2.2L227 1.2L230 1.9L231 1.4L232 1.9L233 1.3L236 1.9L237 1.2L238 1.7L241 1.2L247 1.8L248 2.2L249 1.5L252 1.5L253 0.9L254 1.6L259 1.3L261 2.2L263 1.3L265 2.0L266 1.7L268 2.1L269 1.4L271 2.1L272 1.4L273 2.1L277 1.6L278 2.1L282 1.7V-3Z"/>
<path transform="matrix(-1 -0.2869 0 -1 543.3 237.6)" d="M0 -3V3.8L2 3.0L5 3.8L6 3.5L9 4.0L10 3.2L11 3.3L12 4.3L13 3.5L16 4.1L21 3.6L22 4.7L23 3.4L24 4.4L25 3.6L26 4.3L30 3.7L33 3.8L36 3.9L38 4.7L39 3.6L40 3.3L41 4.0L42 3.5L43 4.1L45 3.9L46 4.5L48 4.5L49 3.8L55 4.1L57 3.5L59 4.7L60 4.1L63 3.9L64 4.5L65 3.9L67 4.4L69 3.8L71 4.5L75 3.7L76 4.4L78 3.4L79 4.1L83 3.9L87 4.8L88 4.0L89 4.8L90 3.8L93 4.6L95 4.1L98 4.5L101 4.1L102 4.7L103 4.4L104 4.7L106 4.1L108 5.1L109 4.0L110 5.5L111 4.3L112 3.9L114 5.1L116 4.8L117 3.7L118 4.8L120 5.0L124 3.6L125 2.5L126 2.2L130 3.1L131 1.8L132 2.4L133 1.3L134 2.6L135 1.8L136 2.3L138 1.6L139 2.4L141 1.6L142 2.2L144 1.6L147 1.8L148 1.3L151 2.0L155 1.4L156 2.3L157 1.7L158 1.9L160 1.4L161 2.3L162 1.6L164 1.9L166 1.4L170 1.9L171 1.3L172 2.2L173 1.3L174 1.8L175 1.7L176 2.5L177 1.6L179 1.4L180 1.9L182 1.9L183 1.1L185 1.6L188 1.3L190 1.7L191 0.9L192 0.8L193 1.9L194 2.1L196 1.2L197 2.1L198 1.1L199 2.1L201 1.4L202 1.5L203 2.2L204 1.2L205 1.8L208 1.4L209 2.0L211 1.1L215 1.9L217 1.5L221 2.0L222 1.7L223 2.0L226 1.3L228 1.7L229 1.3L230 2.1L232 2.1L235 1.2L236 1.6L238 1.3L240 1.9L244 1.6L245 1.9L246 1.2L247 2.7L249 2.0L250 0.9L251 1.9L252 1.6L253 2.1L258 1.3L259 1.9L261 1.4L263 1.7L265 1.1L266 1.6L269 1.5L270 2.5L271 1.5L272 1.5L273 2.3L274 1.7L279 1.8L280 1.4L282 1.8V-3Z"/>
<path transform="matrix(-1 -0.2869 0 -1 541.7 238.9)" d="M0 -3V4.0L1 3.3L4 3.8L6 3.4L10 4.2L15 3.9L16 3.2L21 4.2L24 3.6L25 4.4L27 3.9L28 4.6L29 3.9L30 3.8L31 4.4L33 3.6L34 4.3L35 4.0L36 4.3L37 3.5L38 3.6L39 4.5L40 3.7L43 4.0L44 4.7L45 3.7L48 4.2L50 3.6L54 4.6L55 3.8L56 4.6L60 3.6L62 4.3L66 3.4L68 4.8L69 3.9L70 4.7L71 4.2L73 4.1L74 4.5L76 3.9L77 4.5L80 3.9L82 4.3L83 4.0L84 4.6L85 3.5L87 4.9L88 4.0L89 4.5L91 4.4L92 5.1L93 3.9L96 4.8L103 4.1L105 4.7L107 4.1L113 5.0L114 4.4L115 5.0L116 4.7L118 5.2L123 4.1L125 2.6L126 3.4L127 2.7L128 2.9L129 4.1L132 2.9L133 3.2L135 2.6L139 3.0L140 2.5L144 3.1L145 1.8L146 2.3L147 1.7L148 2.8L150 2.8L151 2.1L156 2.6L157 1.9L159 2.6L160 2.1L161 2.7L162 1.6L163 2.2L166 2.5L173 2.1L175 3.4L176 2.1L177 1.6L178 3.0L179 1.8L182 1.2L183 2.5L184 2.2L185 2.4L186 1.5L188 2.8L189 1.8L190 2.4L193 2.3L194 2.9L195 2.1L196 2.7L199 1.6L201 2.7L202 2.2L205 2.0L206 2.4L207 1.8L212 1.7L213 2.6L218 1.8L219 2.5L222 2.0L227 2.8L228 2.2L229 2.7L231 1.7L233 2.6L234 1.9L235 2.3L236 1.7L237 2.2L238 1.8L239 2.3L240 1.7L241 2.2L243 1.7L244 2.2L247 2.3L249 1.6L250 2.5L251 2.1L253 2.5L256 2.3L258 1.6L261 2.3L265 1.5L267 2.3L269 2.1L271 3.0L272 1.2L273 2.2L274 1.5L279 2.2L280 1.7L281 2.5L282 2.6V-3Z"/>
<path transform="matrix(-1 -0.2869 0 -1 540.1 240.3)" d="M0 -3V5.0L3 4.3L5 5.3L6 4.6L7 5.7L8 5.1L9 5.4L12 4.9L14 5.0L16 5.8L18 5.0L19 5.4L20 4.6L24 5.6L25 5.0L26 5.3L27 4.8L28 5.8L30 5.3L32 5.8L33 4.9L36 5.6L39 4.9L42 6.0L46 5.5L50 6.0L51 5.5L52 5.9L53 5.4L54 6.4L56 4.8L57 5.7L59 6.1L61 5.8L62 6.4L64 5.4L66 6.6L69 5.8L70 6.4L73 6.1L74 6.6L75 5.7L79 6.4L81 5.8L82 6.4L84 6.1L88 6.5L90 5.8L91 6.4L92 6.1L95 6.7L97 6.2L99 6.7L101 6.3L103 7.8L104 6.4L106 6.9L108 6.7L109 7.4L110 5.9L112 7.9L113 7.1L115 7.4L116 6.6L117 7.5L118 6.6L119 7.3L122 5.9L123 6.0L124 4.7L126 4.2L128 6.2L129 6.3L130 5.1L134 5.8L135 4.4L136 4.2L140 5.0L141 4.1L144 4.3L151 3.7L152 4.1L155 3.6L156 4.4L157 3.6L158 4.4L160 4.1L161 4.5L163 3.5L167 4.5L168 3.7L169 4.2L171 3.4L172 4.0L173 3.4L175 4.8L181 3.9L182 4.5L183 4.0L185 4.1L186 3.5L187 4.1L188 3.3L190 4.4L191 3.6L194 4.1L195 3.3L196 4.0L200 3.7L202 4.4L203 3.4L204 3.6L205 3.2L208 3.6L209 4.2L212 3.4L213 4.2L215 3.6L218 4.1L219 3.4L220 4.1L227 4.4L228 3.8L229 4.3L230 3.7L232 4.2L234 4.0L235 3.1L238 4.2L240 3.4L241 4.2L244 2.7L245 4.4L246 3.4L247 4.4L248 3.4L250 3.5L251 2.8L252 3.9L253 4.1L259 3.8L261 3.1L263 3.6L268 2.9L269 3.8L273 3.0L274 3.8L275 3.4L277 4.0L279 3.3L280 3.7L281 2.7L282 3.1V-3Z"/>
<path transform="matrix(-1 -0.2869 0 -1 538.6 241.6)" d="M0 -3V5.8L1 7.0L2 6.9L3 6.0L4 6.9L5 6.0L10 6.6L11 7.2L14 6.8L15 7.6L16 6.5L17 7.2L19 6.6L20 7.0L21 6.6L23 7.6L26 6.1L28 7.2L29 6.3L30 6.9L33 6.5L35 7.5L37 6.8L40 8.1L43 7.1L45 7.7L46 7.2L47 8.1L48 7.6L49 8.5L52 7.3L54 7.7L60 7.5L62 8.0L66 7.1L67 7.7L69 7.6L71 8.4L73 7.4L74 8.1L78 7.9L79 8.5L81 8.4L82 8.9L83 7.9L85 8.7L87 8.1L94 8.1L98 8.7L101 8.1L104 8.7L105 8.3L106 8.9L108 8.0L109 9.0L110 8.6L111 9.0L115 8.1L117 8.9L120 9.2L126 5.4L127 7.0L130 7.7L133 6.1L137 7.4L138 6.4L139 6.8L142 5.7L143 6.1L144 5.7L145 6.4L148 5.8L153 6.1L154 5.3L155 5.3L156 5.9L158 5.8L159 6.3L161 6.0L162 5.3L163 6.1L164 5.1L165 6.1L166 5.9L167 6.4L168 5.6L170 6.2L172 5.6L173 6.4L175 6.5L182 4.8L183 5.3L184 4.9L188 6.5L189 5.9L190 4.3L192 5.8L194 5.3L196 5.8L197 4.9L200 6.0L202 4.5L203 5.6L205 5.4L206 6.4L208 4.9L209 5.8L211 5.3L213 5.6L214 4.8L216 5.9L218 5.2L220 5.9L223 5.1L228 6.1L231 5.2L232 6.4L235 4.9L236 6.0L238 5.5L239 6.1L241 4.8L242 4.7L246 5.8L247 5.4L249 6.2L252 5.1L254 5.2L256 4.7L257 5.1L259 4.1L262 5.6L263 4.8L264 4.6L265 5.6L268 4.7L269 5.3L271 4.6L272 5.3L274 4.8L276 5.8L277 5.0L278 5.8L279 5.3L282 5.1V-3Z"/>
<path transform="matrix(-1 -0.2869 0 -1 537.0 242.9)" d="M0 -3V6.1L2 5.7L3 6.4L4 5.8L5 6.4L7 6.0L8 6.5L10 6.3L11 6.8L12 5.7L13 6.7L14 6.0L16 6.5L17 6.1L20 6.3L21 7.2L22 5.8L24 6.6L25 6.1L30 7.0L33 6.2L34 6.7L35 6.2L37 7.0L41 7.2L42 6.6L43 7.3L44 6.6L50 7.5L51 7.1L54 7.8L62 7.1L71 7.8L72 7.2L77 8.0L78 7.3L79 7.6L80 7.1L81 7.7L82 7.0L84 8.0L86 7.3L88 7.9L90 6.9L91 8.2L93 7.2L95 8.5L96 7.7L98 7.5L101 8.1L102 7.6L103 8.1L104 7.4L105 8.0L106 7.6L107 7.9L108 7.4L109 7.9L111 7.4L112 8.6L114 7.6L118 8.0L119 7.3L120 8.6L121 7.5L122 7.8L123 6.9L124 7.2L126 5.6L128 8.1L129 11.4L130 8.8L131 7.6L132 8.1L133 10.8L135 7.5L136 8.4L137 6.7L138 8.9L139 7.6L140 7.9L143 6.8L144 7.6L145 7.0L147 7.6L148 6.7L149 7.2L151 6.4L153 7.4L159 6.4L161 8.1L162 6.6L163 7.5L164 7.5L168 6.3L169 6.9L173 6.8L178 7.9L180 6.8L182 7.9L183 6.6L186 7.0L188 6.3L189 6.9L190 6.5L193 7.1L195 7.0L196 6.4L199 7.3L200 6.5L202 7.0L203 6.1L205 7.0L207 6.4L210 6.5L211 6.0L217 7.1L218 6.8L220 7.2L221 6.7L223 7.2L224 6.6L225 7.3L229 7.4L230 6.7L231 7.0L234 6.3L235 7.4L237 6.5L238 6.8L239 6.3L241 6.4L242 7.0L243 6.1L244 6.0L247 7.3L248 6.3L249 7.0L251 7.1L253 5.8L255 6.5L256 6.0L257 7.0L258 5.4L260 6.1L262 5.9L263 6.6L266 5.9L267 6.5L269 5.6L270 5.6L271 6.4L272 6.1L273 6.4L275 5.7L278 6.2L279 5.8L280 6.3L282 5.7V-3Z"/>
<path transform="matrix(-1 -0.2869 0 -1 535.4 244.3)" d="M0 -3V4.2L1 4.5L2 3.8L5 5.1L6 4.8L7 5.1L9 4.0L10 4.6L13 4.1L14 4.7L17 5.0L20 4.0L21 4.5L22 3.9L24 5.1L25 4.8L26 5.2L27 4.4L29 5.5L30 4.2L32 4.9L36 5.2L38 4.9L39 5.2L40 4.5L41 5.6L43 5.5L45 4.4L46 5.3L47 4.7L51 5.2L52 4.6L53 4.7L54 5.2L56 4.3L58 5.4L59 5.0L60 5.5L63 5.4L64 4.8L66 5.5L67 4.6L71 5.6L72 4.8L74 6.1L76 5.2L77 5.6L79 5.1L82 5.7L84 4.7L85 5.9L86 5.3L88 5.6L89 4.7L90 5.6L91 5.0L92 5.5L93 5.2L94 5.7L95 5.7L96 4.8L100 5.1L102 4.7L103 5.9L105 5.2L108 5.0L109 5.4L111 5.1L114 6.0L118 5.1L119 5.6L120 5.0L121 5.2L122 4.2L125 4.1L126 3.4L129 13.5L130 11.4L131 10.9L132 12.7L133 8.7L134 9.3L135 13.6L136 13.6L137 13.2L138 10.5L139 9.8L140 10.0L141 9.1L142 9.7L144 8.4L146 7.9L147 8.7L148 8.8L149 8.1L150 9.0L152 8.3L153 9.1L155 8.6L156 9.0L159 8.7L160 8.3L162 9.4L165 8.9L166 9.3L167 8.4L169 8.4L170 9.2L171 8.0L174 9.3L177 9.3L182 7.7L183 8.3L184 7.7L185 8.3L187 7.4L188 8.7L191 8.6L192 8.0L195 8.4L196 7.3L197 8.7L200 7.3L201 7.8L202 7.1L203 8.0L204 7.3L206 8.1L207 7.9L208 9.0L209 7.7L210 8.1L212 7.8L213 7.1L215 8.6L217 8.3L218 9.0L219 8.3L220 9.2L221 8.5L223 9.3L225 8.4L227 9.3L228 8.7L229 9.2L230 8.6L232 9.2L233 8.2L235 8.5L239 7.7L243 8.0L245 9.2L247 8.0L248 8.8L250 7.9L252 8.3L254 7.3L255 8.0L256 7.6L257 8.0L258 7.3L259 7.8L261 7.0L264 7.7L265 7.5L266 8.2L267 7.0L271 7.9L274 8.1L275 7.6L276 8.4L277 7.9L282 7.9V-3Z"/>
<path transform="matrix(-1 -0.2869 0 -1 533.9 245.6)" d="M0 -3V3.6L4 3.0L6 3.8L8 3.1L11 3.8L12 4.4L13 3.7L14 4.4L15 3.5L18 4.2L19 3.3L20 4.2L21 3.7L24 3.9L28 3.3L29 4.3L32 3.2L34 4.1L37 3.9L38 4.4L40 3.5L42 3.7L43 4.3L44 3.7L46 4.9L47 3.9L51 4.0L52 3.7L53 4.1L54 3.5L55 4.3L58 4.1L60 4.5L63 4.2L64 3.2L67 4.3L68 4.0L69 4.4L70 3.6L71 4.2L72 3.3L73 4.2L74 4.1L75 3.4L76 4.5L77 4.8L84 3.7L85 4.6L87 4.0L89 4.4L92 3.6L93 4.4L94 3.6L96 4.2L97 3.8L102 4.5L103 3.4L108 4.6L109 3.9L111 4.5L113 4.3L114 3.6L118 4.0L120 4.0L121 3.4L122 4.0L123 3.0L125 3.0L126 2.4L128 12.8L129 14.5L130 12.4L131 16.6L134 12.5L135 18.0L136 14.3L137 14.9L138 13.8L140 14.3L141 12.8L142 13.1L143 11.9L144 12.5L147 11.8L148 12.8L149 12.7L150 11.6L151 12.3L154 11.4L155 12.3L156 11.0L157 11.6L158 11.3L161 12.9L163 12.4L165 12.5L166 13.1L167 13.0L168 11.6L171 12.7L172 12.1L174 11.9L175 13.0L176 12.2L178 12.7L180 11.5L184 11.3L186 12.2L189 11.5L190 11.7L191 11.0L192 12.5L193 11.7L194 11.6L195 12.4L197 11.5L200 11.1L201 11.8L202 11.7L204 12.3L206 11.3L209 11.1L211 12.5L212 11.0L213 11.7L215 11.3L216 12.2L218 11.7L221 12.5L224 11.7L227 13.1L230 12.5L232 13.1L235 11.8L239 12.8L240 11.7L241 12.2L242 11.5L245 10.8L247 12.1L248 11.6L249 12.6L250 11.8L254 10.8L255 11.6L257 10.2L258 10.9L260 10.6L261 11.1L268 10.8L269 11.8L270 11.2L273 10.9L275 11.6L277 11.7L278 11.3L279 11.7L282 11.7V-3Z"/>
<path transform="matrix(-1 -0.2869 0 -1 531.7 247.5)" d="M0 -3V4.9L3 4.0L5 5.2L8 4.3L9 4.8L11 4.1L14 4.8L17 4.1L18 5.1L22 4.6L23 4.0L25 5.2L26 4.5L28 5.3L30 4.4L32 4.7L33 4.2L36 5.3L37 4.4L38 5.2L39 4.5L41 5.0L43 4.2L44 5.1L46 4.7L48 5.6L50 4.8L57 5.4L59 4.6L60 5.4L62 5.4L63 4.2L65 5.3L68 5.5L69 4.7L70 5.3L71 4.8L72 4.9L73 5.8L74 4.6L77 5.3L79 4.8L82 5.6L85 4.8L88 5.5L91 4.6L94 5.9L97 4.7L99 5.4L101 4.6L103 5.7L104 4.9L107 5.4L109 4.9L111 5.1L112 4.4L113 5.2L115 5.5L117 5.3L118 4.6L119 5.5L122 4.6L123 5.1L124 4.0L126 3.6L127 9.9L128 23.8L129 26.4L130 22.2L131 21.5L132 21.6L133 19.2L134 20.0L135 31.8L136 17.6L137 23.6L138 22.7L139 23.3L140 19.3L141 18.0L142 18.7L143 18.2L144 18.7L153 16.7L157 18.8L158 17.4L159 18.1L163 17.4L167 17.9L168 18.4L171 17.4L172 18.4L174 18.0L175 18.9L177 18.9L178 18.0L182 17.8L184 17.1L187 17.3L189 18.6L190 17.6L191 17.7L192 17.0L194 16.7L197 18.3L198 17.5L199 17.7L203 16.9L204 16.2L205 16.7L206 16.2L207 16.9L208 16.4L211 17.2L213 15.9L214 17.5L216 18.4L217 18.5L218 18.0L219 18.4L222 17.5L224 19.3L226 18.0L227 18.5L228 18.3L229 17.2L230 17.2L231 18.1L233 18.4L235 16.5L236 17.3L238 17.2L239 18.1L240 16.5L241 17.3L242 16.8L243 17.6L244 17.1L248 17.0L249 15.9L250 16.8L251 16.1L253 17.0L255 15.7L256 16.6L257 15.9L259 16.7L261 15.6L263 15.8L264 14.8L268 16.3L269 18.2L270 17.0L271 18.4L272 17.0L275 15.9L276 16.1L277 17.2L278 16.7L279 17.6L282 16.2V-3Z"/>
<path transform="matrix(-1 -0.2869 0 -1 530.7 248.3)" d="M0 -3V5.4L1 5.7L2 5.1L5 5.2L8 4.6L12 5.4L14 5.2L15 4.2L16 5.2L17 5.3L18 4.7L20 5.6L21 5.0L23 5.7L25 5.1L26 5.8L27 5.2L29 5.6L30 5.3L35 6.3L36 5.5L38 5.3L41 5.8L42 6.5L45 5.5L47 6.1L51 5.1L54 6.1L58 5.5L61 6.2L62 5.7L64 6.0L65 5.4L66 5.8L70 5.7L71 6.2L74 5.8L75 6.9L77 5.3L78 5.2L79 6.2L80 6.2L82 5.9L92 6.1L93 5.7L97 6.2L98 5.6L102 6.2L104 5.6L105 6.1L106 5.7L109 6.2L110 5.7L111 6.6L113 5.7L114 6.6L115 6.1L119 6.2L121 6.9L122 5.7L123 5.9L124 4.0L125 5.0L126 4.4L129 35.7L130 29.1L131 32.8L132 32.7L133 24.4L134 32.5L135 28.6L137 37.1L138 21.7L139 26.3L140 25.9L141 22.7L143 23.1L145 22.3L147 22.9L148 23.8L150 22.9L151 23.0L153 24.9L154 24.0L155 23.9L156 25.0L157 22.4L158 21.6L160 21.4L161 23.4L162 23.7L163 22.5L165 22.9L166 23.8L167 23.2L170 23.2L173 24.5L174 25.5L176 25.8L177 26.5L179 24.0L180 24.3L182 22.1L184 22.6L186 22.0L189 23.6L193 22.2L195 22.7L197 21.3L200 23.3L201 23.0L202 23.6L203 22.4L204 22.3L205 23.2L206 21.6L207 21.3L208 20.1L211 22.0L212 24.3L213 23.3L217 22.2L218 22.5L221 24.9L223 23.7L225 23.9L229 25.8L230 25.2L233 25.0L234 24.1L237 24.1L238 23.2L241 23.4L244 22.5L245 21.7L246 22.4L248 22.5L252 21.4L253 21.6L255 19.3L256 19.8L257 19.6L260 20.8L261 20.3L262 21.0L263 20.9L264 21.5L265 23.0L266 22.7L267 23.6L269 22.1L270 22.1L271 23.0L272 22.0L273 22.3L274 23.3L275 22.3L276 22.0L278 21.9L279 22.9L281 21.0L282 21.6V-3Z"/>
<path transform="matrix(-1 -0.2869 0 -1 529.1 249.6)" d="M0 -3V5.5L3 5.8L4 4.8L5 5.7L6 5.4L8 6.0L9 5.3L10 5.8L12 5.8L13 5.2L14 6.0L19 5.4L21 6.3L22 5.6L23 6.2L24 5.2L25 5.4L26 6.2L27 5.7L30 6.0L31 6.8L33 5.4L34 6.5L35 5.1L36 6.1L37 6.1L38 5.0L41 6.3L43 5.3L44 6.1L46 5.4L47 6.4L48 5.8L50 5.7L52 6.8L53 5.6L54 6.3L57 6.7L58 7.4L61 5.9L64 6.8L65 6.4L66 6.7L67 5.9L68 6.5L69 6.3L70 6.6L71 6.1L72 6.7L73 6.7L74 6.0L76 6.7L79 6.3L81 5.4L82 6.5L84 5.4L85 6.5L86 6.2L87 6.7L89 6.8L90 5.9L93 6.8L94 6.0L95 6.2L97 5.6L98 7.0L99 6.4L101 6.2L104 6.7L106 6.0L107 6.6L108 6.4L110 6.9L111 6.4L115 7.0L116 5.9L117 6.9L118 6.8L119 7.4L120 6.6L126 4.9L128 34.9L129 38.9L130 36.8L131 36.8L132 53.6L133 53.3L134 36.7L135 35.2L136 58.0L137 34.8L138 38.9L139 36.4L140 35.6L141 32.5L142 31.8L143 32.0L144 30.7L147 31.3L148 30.4L149 31.1L152 31.3L153 32.5L155 31.8L156 31.9L159 29.8L160 30.6L162 31.0L163 34.1L164 32.7L165 33.7L167 33.4L170 30.4L172 32.5L174 31.9L175 31.1L178 31.3L179 32.0L180 31.8L181 30.3L183 31.4L184 30.2L186 32.5L188 32.7L189 30.9L191 31.1L192 30.0L193 31.2L194 30.4L195 31.1L198 31.3L199 29.6L200 30.6L201 30.2L202 30.7L203 33.1L204 31.1L206 30.4L207 29.4L210 30.2L211 29.5L213 31.3L214 31.8L215 31.7L217 33.5L219 32.3L223 32.7L225 34.6L227 35.3L232 33.9L235 31.6L238 32.7L239 32.1L240 30.6L242 30.6L244 32.2L246 32.8L247 32.0L248 30.2L251 27.7L255 28.4L256 27.8L257 28.6L258 27.9L260 27.9L261 28.8L262 28.5L263 29.2L265 28.5L266 29.4L268 29.0L269 30.4L270 29.8L271 30.4L273 29.2L276 31.4L277 31.6L280 29.3L282 29.9V-3Z"/>
<path transform="matrix(-1 -0.2869 0 -1 527.6 251.0)" d="M0 -3V4.7L1 4.1L4 5.3L5 4.7L6 5.1L7 4.5L10 5.3L13 4.8L15 5.2L18 4.5L19 5.4L21 4.5L22 5.0L24 4.7L26 5.5L27 4.3L28 5.3L32 4.8L33 5.7L34 5.1L35 5.5L37 5.2L38 5.6L39 5.3L41 5.6L44 4.6L51 5.5L52 4.8L54 5.8L60 4.8L61 5.9L63 5.3L67 5.4L68 4.9L70 5.8L72 4.5L74 5.5L75 5.0L81 5.6L82 5.1L83 5.7L85 5.0L88 5.4L89 6.2L90 5.3L91 5.8L93 5.1L94 5.7L97 4.8L98 6.3L99 5.3L100 5.5L101 4.8L103 5.6L106 5.9L107 5.8L108 4.8L110 4.7L112 5.5L116 5.3L119 6.4L120 5.2L126 4.1L128 38.6L129 48.6L130 39.4L131 56.6L132 55.7L133 43.2L134 44.0L135 56.3L136 49.9L137 47.5L138 63.4L139 52.4L141 42.9L142 40.5L143 39.3L144 39.2L145 40.0L148 39.5L149 40.4L150 40.2L153 41.6L154 42.6L155 42.6L156 41.8L157 42.0L158 40.7L159 40.4L161 40.2L162 41.9L164 40.3L167 40.2L168 41.8L169 42.0L172 44.8L175 42.7L177 43.7L178 43.4L179 43.1L180 41.9L181 42.0L182 41.0L184 41.2L185 39.8L188 38.8L189 39.9L190 43.6L191 39.8L192 40.4L193 39.7L194 40.1L196 41.7L197 40.0L198 42.9L199 39.1L202 36.8L203 40.7L204 39.3L206 41.2L208 39.6L209 41.2L210 38.2L212 40.0L213 43.5L214 41.1L217 42.0L219 40.8L220 41.6L222 40.8L224 40.8L227 41.9L228 41.7L230 43.8L232 41.8L233 41.8L234 42.9L236 43.1L237 42.3L239 42.2L240 40.8L241 40.5L242 41.3L243 40.7L244 42.3L247 42.7L248 43.3L250 40.3L254 36.0L256 35.2L257 35.6L258 35.2L259 37.7L260 35.9L262 36.1L263 37.8L264 36.7L265 36.8L268 39.2L269 38.3L271 38.3L273 39.8L275 42.5L276 43.0L279 39.4L280 40.0L281 43.7L282 41.4V-3Z"/>
<path transform="matrix(-1 -0.2869 0 -1 526.0 252.3)" d="M0 -3V3.6L2 4.2L4 4.0L5 4.5L6 3.9L7 4.7L8 3.9L10 3.6L14 4.4L15 4.0L18 4.4L21 4.2L22 3.5L24 4.6L26 4.1L28 4.6L33 4.0L35 4.7L36 3.8L37 4.7L38 4.7L39 4.0L41 5.0L43 4.0L45 4.6L46 4.2L47 4.9L48 4.4L50 5.0L52 4.1L54 4.9L58 4.1L59 4.8L62 4.4L63 5.1L67 3.8L69 4.6L74 4.6L77 3.9L78 4.9L79 3.8L80 4.5L81 4.3L82 4.9L83 4.2L86 4.1L87 4.6L90 3.9L91 4.6L92 4.1L93 5.2L94 4.1L95 3.9L96 4.8L97 4.3L99 5.0L101 4.5L102 5.0L103 4.3L104 4.8L106 4.2L107 4.8L110 3.9L113 5.0L114 4.6L115 5.4L117 4.3L119 4.1L120 4.6L121 4.3L123 4.6L124 3.2L125 3.9L126 3.4L128 47.4L129 58.4L130 54.7L133 68.6L134 56.1L136 63.5L137 64.1L138 51.0L139 58.9L141 51.1L142 50.2L143 50.7L145 49.2L148 48.6L150 52.1L152 52.9L153 51.2L154 50.6L155 47.1L157 46.8L159 47.3L161 46.5L162 48.8L163 47.0L165 52.0L166 50.4L167 50.6L169 52.6L173 49.6L174 49.9L175 50.9L176 53.3L177 53.9L181 49.1L182 48.5L185 48.4L187 45.9L188 45.8L189 48.7L190 47.5L195 52.1L196 54.1L197 50.3L200 45.7L202 45.1L203 43.5L205 44.3L208 43.7L210 44.8L211 46.8L212 51.2L213 48.8L215 50.6L216 50.3L218 51.6L220 52.1L221 51.7L222 52.8L226 52.1L228 53.2L229 55.7L230 54.0L232 53.1L234 50.9L236 50.8L239 48.3L241 48.8L242 50.6L244 52.2L247 51.6L249 48.9L250 46.0L251 45.5L253 46.7L254 48.4L255 52.0L256 46.5L258 45.1L261 45.7L262 46.6L264 46.6L267 44.8L268 43.5L269 44.9L270 45.0L272 48.3L274 49.7L275 48.4L278 47.7L279 48.9L282 50.0V-3Z"/>
<path transform="matrix(-1 -0.2869 0 -1 524.4 253.6)" d="M0 -3V3.9L1 4.6L2 4.0L6 4.7L7 4.0L8 4.7L9 4.8L10 4.2L11 4.8L13 4.4L14 5.2L16 4.9L17 4.2L18 4.8L22 4.6L25 5.2L26 4.5L27 5.2L28 4.7L32 4.7L34 5.6L35 4.9L37 5.2L39 4.2L41 5.3L42 4.9L44 5.6L45 5.4L46 4.4L47 4.3L48 5.1L49 4.0L53 5.6L54 4.9L56 5.3L59 4.7L60 5.3L62 4.4L63 5.2L64 4.4L66 5.2L68 4.5L70 4.8L71 5.5L72 4.9L73 5.2L74 4.3L76 5.5L78 5.2L79 4.6L81 5.1L84 4.5L85 5.1L88 4.8L89 4.0L91 5.0L93 4.4L94 5.2L97 4.2L99 5.0L100 4.1L102 5.1L104 4.4L106 4.8L109 4.2L111 4.8L113 4.2L115 4.9L116 4.4L118 4.6L119 4.2L120 4.8L121 4.5L122 5.0L126 4.2L127 22.6L128 58.3L129 67.6L130 56.7L131 66.4L132 57.4L133 53.1L134 53.9L135 56.2L136 56.0L137 57.0L138 49.1L139 55.4L140 48.3L141 45.8L144 46.4L146 45.0L147 42.9L149 43.1L150 44.1L152 45.0L153 43.7L154 43.8L156 45.4L159 44.2L162 42.1L164 43.4L165 44.7L167 44.5L169 45.1L170 45.9L171 45.8L173 47.9L177 48.8L179 47.0L180 47.6L182 45.5L186 45.0L188 42.6L189 42.3L190 42.8L191 42.4L193 44.0L195 42.4L199 45.6L200 45.1L201 45.6L202 44.3L204 45.2L205 44.2L207 43.4L211 45.8L214 45.0L215 45.6L216 44.7L217 45.1L219 42.9L223 48.5L225 49.0L226 51.2L228 47.1L230 45.6L231 46.5L234 46.1L235 47.0L237 46.5L238 45.7L239 46.3L241 46.0L242 46.5L243 44.7L244 44.0L249 45.1L250 43.3L252 41.8L255 43.1L256 40.7L257 39.9L261 40.2L262 41.3L264 41.6L265 42.5L266 46.3L267 43.2L268 42.9L269 41.5L273 46.9L275 42.7L276 41.8L279 44.9L281 42.8L282 42.8V-3Z"/>
<path transform="matrix(-1 -0.2869 0 -1 522.9 255.0)" d="M0 -3V6.1L1 6.3L3 5.5L4 6.9L5 6.2L6 6.9L8 6.2L10 6.9L11 6.5L13 6.6L14 6.1L16 6.7L19 6.2L20 6.9L21 7.1L22 6.4L26 7.4L27 6.7L28 7.2L30 6.9L31 6.3L33 7.2L34 6.5L35 7.6L36 7.1L37 7.4L39 6.4L40 7.1L44 6.7L46 7.3L47 6.7L48 7.3L50 6.4L51 7.3L52 7.3L53 7.2L54 6.2L55 7.3L56 6.7L57 6.6L58 7.4L60 6.8L61 7.9L63 6.1L66 7.4L67 6.7L69 7.2L70 6.9L71 6.0L72 6.8L73 6.9L78 6.2L79 7.2L80 6.2L81 6.8L85 6.2L86 7.1L87 6.1L89 5.8L91 7.1L93 6.3L96 6.5L99 5.6L100 6.2L103 6.1L108 6.8L109 6.3L111 7.1L113 6.5L116 6.9L117 6.5L121 7.6L122 6.5L123 6.8L126 6.0L128 41.7L129 43.3L130 40.9L131 53.5L133 45.2L134 51.1L135 41.9L136 49.9L137 42.3L138 51.6L139 41.8L140 44.7L141 42.1L146 43.9L147 42.4L148 42.1L150 40.1L151 41.8L152 42.3L154 39.3L155 39.7L158 39.4L159 39.9L160 41.7L161 41.9L162 41.1L165 41.3L166 40.1L167 40.0L168 41.4L170 42.0L171 44.1L172 41.9L173 41.6L175 41.8L177 43.3L178 43.0L179 41.5L180 41.8L181 41.1L183 41.1L184 38.9L188 41.6L190 40.9L191 41.5L192 40.8L195 40.7L196 42.3L200 39.5L202 41.5L208 39.8L210 41.1L212 40.2L213 40.9L216 39.6L220 40.7L221 43.1L222 42.4L223 42.7L225 45.3L229 43.4L230 43.8L231 45.0L234 42.7L235 43.0L236 42.0L237 42.9L238 41.8L239 43.1L241 41.3L244 39.8L245 39.9L246 42.8L247 40.2L250 37.6L251 37.9L253 37.1L255 38.4L257 38.1L258 37.1L259 36.9L260 34.6L263 36.7L264 36.3L265 36.9L268 36.0L269 35.1L270 40.9L271 38.0L272 40.8L273 39.9L274 41.0L276 41.3L279 39.7L282 38.7V-3Z"/>
<path transform="matrix(-1 -0.2869 0 -1 521.3 256.3)" d="M0 -3V7.9L1 7.8L3 9.0L4 8.3L7 8.7L8 9.9L9 8.8L11 10.0L12 9.2L16 10.0L17 9.7L19 10.4L21 8.9L22 9.8L23 9.4L24 10.3L26 9.8L27 10.2L28 9.5L29 10.3L30 9.8L31 10.3L34 9.8L37 10.2L39 9.2L41 10.4L42 9.4L43 10.0L46 9.7L47 10.1L48 9.3L49 10.3L50 9.4L52 9.9L56 9.5L57 10.2L60 9.0L66 10.0L70 9.4L71 10.5L72 9.5L73 9.5L74 9.9L78 9.3L79 10.2L80 9.5L83 9.7L84 10.3L85 9.4L87 10.3L89 10.0L90 10.4L91 9.6L92 10.2L94 9.9L97 10.9L102 10.7L104 12.3L107 12.0L110 12.6L115 15.5L117 16.1L118 15.7L119 18.0L122 19.1L123 20.3L125 20.5L126 22.5L127 36.1L128 36.5L129 45.5L130 36.6L131 44.8L133 47.9L134 35.7L135 51.9L137 27.5L139 40.6L141 34.2L142 34.2L143 35.2L145 34.6L146 34.9L147 34.0L149 35.8L150 34.3L151 34.7L152 33.8L154 33.0L155 32.8L156 33.3L157 32.5L158 32.4L159 33.9L160 34.2L161 35.4L164 35.2L165 35.6L166 34.5L168 34.3L170 33.4L171 34.5L172 34.7L174 36.2L175 35.9L176 36.9L177 35.8L180 35.5L182 32.4L183 32.5L185 33.9L188 31.7L192 32.0L193 30.6L196 30.8L197 31.5L198 31.4L201 35.1L202 35.3L203 33.6L204 32.8L205 33.4L206 35.2L209 32.8L211 32.7L212 33.5L213 35.6L214 36.2L216 36.0L217 34.9L218 35.1L219 37.1L220 36.0L223 36.9L224 35.2L225 36.3L226 36.5L227 35.6L230 35.5L232 34.0L233 34.0L235 32.4L236 32.2L238 34.9L239 35.4L242 35.0L244 33.0L245 32.7L248 35.2L249 35.0L250 33.5L251 33.5L252 34.3L253 33.3L254 34.2L255 33.3L256 33.4L257 31.4L258 30.9L259 31.2L262 30.5L265 32.0L267 32.2L270 34.1L272 33.6L275 32.0L277 32.8L278 32.6L281 34.9L282 34.6V-3Z"/>
<path transform="matrix(-1 -0.2869 0 -1 519.7 257.7)" d="M0 -3V6.8L3 8.2L5 8.2L6 9.1L8 8.9L9 10.6L11 9.8L13 10.3L15 9.8L16 10.2L17 9.6L18 10.3L19 10.1L20 10.6L23 10.0L26 10.9L27 10.4L29 11.2L30 10.0L32 10.6L37 10.7L38 11.4L39 10.2L40 10.2L41 11.5L42 10.7L44 11.0L45 10.3L47 11.1L49 11.1L50 10.5L51 11.4L59 10.0L61 10.3L63 11.4L65 10.2L67 10.7L69 10.0L72 11.2L73 10.6L74 11.0L76 10.3L77 11.2L78 11.3L79 10.4L86 11.6L87 11.6L88 10.6L94 12.8L98 13.0L101 14.4L102 14.1L103 15.2L104 14.5L111 18.5L112 19.9L113 19.4L118 25.1L119 25.7L121 29.1L122 29.6L126 36.5L127 49.9L128 47.8L129 36.3L131 39.3L132 39.2L133 32.3L134 38.0L135 30.6L136 33.2L137 31.3L138 35.8L139 26.9L140 30.3L141 28.5L142 28.5L143 29.4L144 28.0L147 30.0L149 30.4L152 28.6L153 29.3L154 27.1L155 27.2L156 26.4L157 28.5L158 27.1L159 27.7L160 27.0L162 28.8L165 28.5L166 27.4L168 28.0L169 29.2L171 28.5L172 29.8L176 29.0L177 29.9L178 30.0L179 29.4L180 29.5L182 27.0L183 27.7L184 26.9L185 27.8L186 26.4L189 27.2L190 26.5L191 27.4L194 27.6L195 28.2L202 26.3L203 25.4L205 26.4L206 30.0L208 26.3L210 27.1L211 26.7L213 27.2L214 29.5L215 29.5L216 28.0L218 30.9L219 28.9L222 28.1L225 28.4L226 29.4L228 28.9L230 30.5L231 29.9L232 30.6L233 28.4L236 28.6L237 29.7L238 29.0L239 29.5L240 28.6L242 29.3L243 28.6L246 27.8L248 28.3L249 28.1L252 25.1L253 26.4L255 25.7L256 25.9L257 27.8L258 24.8L260 25.9L261 25.7L262 26.6L263 26.3L264 27.2L266 27.7L268 25.7L269 26.2L270 25.2L272 27.5L275 25.6L277 26.8L278 25.0L279 27.5L280 26.9L281 27.9L282 26.9V-3Z"/>
<path transform="matrix(-1 -0.2869 0 -1 518.4 258.8)" d="M0 -3V6.4L1 6.3L2 6.9L3 6.3L5 8.2L6 8.0L7 9.4L10 9.1L12 10.5L16 10.2L18 11.1L19 10.4L21 10.3L23 11.0L25 9.9L26 11.0L27 10.7L28 11.4L30 10.6L31 11.2L33 11.3L35 10.3L36 10.3L37 11.3L41 10.5L44 10.6L46 11.4L47 10.7L48 11.2L52 10.9L54 11.3L56 10.7L57 11.4L58 10.8L64 11.5L66 10.9L68 11.6L70 10.7L71 11.6L74 11.0L76 12.1L77 11.3L78 12.3L79 12.1L80 12.5L82 12.0L85 12.4L86 11.9L87 13.0L88 12.5L89 12.7L90 13.7L91 13.8L92 12.9L93 14.5L95 14.8L98 16.1L99 15.0L100 16.5L104 18.5L105 19.9L109 22.6L115 30.0L118 35.5L123 46.6L126 56.0L127 67.9L128 40.3L129 27.0L130 25.1L131 26.5L132 25.1L133 22.0L134 22.7L136 27.7L137 24.2L138 26.1L139 26.0L141 23.0L143 22.4L144 23.4L145 22.3L146 23.7L147 22.0L150 22.1L151 23.0L152 22.6L153 24.0L154 22.9L156 22.2L158 22.6L161 22.3L164 23.2L166 22.2L169 22.3L171 23.0L172 24.4L173 23.5L174 23.7L175 26.2L176 23.4L177 23.4L178 22.2L180 22.3L182 20.6L183 22.4L184 20.6L185 21.0L186 20.7L188 21.8L191 21.7L193 20.5L197 21.9L199 22.0L200 21.0L201 23.4L202 21.2L203 21.0L204 21.9L209 20.3L210 21.7L211 21.3L212 23.2L213 21.9L214 21.4L216 23.3L217 23.4L220 21.4L224 22.4L225 24.3L227 22.8L228 24.1L229 24.0L231 22.3L232 23.2L235 21.5L236 22.2L237 21.6L238 22.1L239 21.7L242 23.4L246 23.4L250 21.0L251 21.3L252 20.4L254 20.1L255 20.6L256 19.9L260 20.4L261 21.7L262 19.9L265 19.7L268 20.8L269 22.0L270 21.5L272 22.1L274 22.1L275 22.7L276 22.2L277 23.6L278 21.8L282 22.0V-3Z"/>
<path transform="matrix(-1 -0.2869 0 -1 516.6 260.3)" d="M0 -3V5.0L4 5.6L5 5.3L6 6.1L7 5.3L9 6.8L14 6.6L16 7.3L18 7.3L19 6.7L21 7.4L22 7.0L23 7.7L25 7.2L27 7.7L30 6.5L31 7.5L32 6.7L33 8.0L34 7.0L37 8.0L38 7.1L39 7.3L40 8.4L42 7.2L43 7.7L44 7.1L45 8.0L46 7.6L47 8.0L48 7.2L49 7.7L52 7.2L55 7.7L58 6.8L60 7.9L71 7.8L72 7.2L73 7.9L74 7.5L79 8.0L81 7.8L83 8.6L84 8.1L87 7.8L89 8.8L91 9.1L92 8.5L94 9.2L96 8.8L97 9.9L98 8.8L99 10.1L103 10.0L106 12.6L108 12.9L114 16.0L121 22.1L126 28.7L127 37.1L128 25.4L129 22.0L130 24.3L131 21.7L132 14.5L135 21.1L136 20.8L137 22.4L138 18.8L139 19.6L140 19.5L141 16.4L146 15.9L147 14.9L148 14.8L150 15.9L152 16.0L153 17.5L155 15.7L158 16.2L159 16.0L160 16.6L163 16.3L166 14.7L167 15.7L168 17.9L169 16.5L170 17.0L172 16.1L176 16.8L177 17.8L179 15.9L181 15.6L182 16.3L183 16.0L184 14.8L187 15.0L188 15.9L189 15.5L190 16.7L194 15.1L197 15.4L198 14.2L199 14.1L200 14.9L202 14.7L203 15.5L205 14.6L206 15.6L207 15.8L210 15.2L212 16.7L213 15.8L218 15.1L220 15.6L221 17.0L222 16.2L224 18.3L226 16.7L229 17.1L230 16.4L231 16.7L233 15.2L234 15.6L236 15.2L238 16.4L239 15.5L242 14.6L244 15.2L248 14.8L251 15.4L254 14.5L258 14.2L259 14.6L261 14.3L262 14.8L263 14.4L264 15.1L265 14.5L266 15.0L272 16.0L277 15.1L279 16.1L280 15.5L282 17.0V-3Z"/>
<path transform="matrix(-1 -0.2869 0 -1 515.0 261.7)" d="M0 -3V5.9L1 5.1L2 5.9L3 5.5L5 6.7L6 5.7L12 7.3L13 8.0L19 7.0L20 7.7L22 7.8L24 7.0L25 7.9L28 7.1L29 7.7L31 7.1L32 7.6L36 8.0L38 7.1L39 7.7L41 7.2L42 8.1L48 7.6L49 8.1L50 7.3L51 7.4L52 8.2L53 8.2L54 7.3L55 8.4L56 7.5L57 8.0L59 7.6L60 8.2L64 7.7L65 8.8L66 7.4L67 8.5L70 7.7L71 8.8L72 7.8L73 8.2L74 7.7L76 8.7L81 7.5L83 8.7L84 7.7L85 8.0L86 7.5L87 8.8L92 7.8L95 8.9L96 8.7L97 7.7L98 9.6L100 9.0L103 9.9L104 9.4L107 10.4L108 10.1L109 11.5L110 10.9L111 11.3L112 11.1L113 12.1L114 11.9L115 13.0L117 13.5L118 14.8L119 14.8L120 15.7L122 16.0L123 17.3L126 18.6L127 24.0L128 17.6L129 14.3L130 17.8L132 13.5L133 14.8L134 13.7L135 14.3L137 18.0L138 14.6L139 15.7L141 12.6L146 12.0L148 12.5L149 12.1L150 12.9L152 11.3L155 11.1L157 11.7L158 12.6L160 11.6L163 12.3L166 11.2L167 11.6L169 11.6L170 12.4L172 12.9L175 11.8L176 11.6L177 12.6L178 11.6L179 11.9L182 11.6L183 11.0L184 12.0L185 11.2L189 11.7L190 11.0L192 11.2L193 10.7L194 11.4L196 11.3L197 11.8L198 11.2L199 11.6L201 11.0L202 11.7L205 11.8L206 11.2L207 11.4L208 10.4L209 10.9L210 10.6L213 11.7L214 10.6L215 12.5L216 11.7L218 12.5L219 12.4L221 11.0L224 12.7L225 12.4L226 13.4L227 12.1L230 12.3L231 11.8L232 13.1L233 12.1L236 11.8L238 12.1L241 11.7L242 11.9L244 13.3L245 12.7L246 12.7L247 11.9L253 10.9L259 10.6L260 11.5L262 11.1L263 10.3L269 11.5L270 12.1L272 11.3L274 11.3L275 11.6L276 12.5L277 11.9L278 12.1L279 11.2L282 11.6V-3Z"/>
<path transform="matrix(-1 -0.2869 0 -1 513.4 263.0)" d="M0 -3V7.8L3 7.9L4 7.1L5 8.5L6 7.9L7 8.6L8 8.1L9 8.9L12 8.3L14 9.1L15 8.9L16 9.2L17 8.5L18 8.5L19 9.2L20 8.8L21 9.5L23 8.8L25 9.2L26 9.9L28 9.2L34 9.7L36 8.8L37 9.8L38 9.1L39 10.1L40 9.3L43 10.1L48 9.3L50 10.0L52 9.9L53 9.4L55 9.9L57 9.7L59 10.5L60 9.6L62 10.1L64 9.5L65 10.6L66 9.3L69 8.9L72 10.2L73 9.3L74 9.8L75 9.5L79 9.9L80 9.5L81 10.0L83 10.1L84 9.6L85 9.9L88 9.6L89 10.4L90 9.3L92 10.2L93 9.8L94 10.3L95 9.8L96 10.3L99 10.0L100 10.9L101 9.7L103 10.7L105 10.4L106 11.1L108 11.1L109 10.6L110 11.7L111 11.9L112 11.4L113 12.1L114 12.0L115 13.0L116 12.7L117 13.5L118 13.1L119 14.1L122 14.2L123 15.2L124 14.6L126 14.7L127 18.1L128 14.1L129 13.5L131 10.5L132 10.8L133 13.6L135 11.6L136 11.8L137 12.8L138 9.6L139 12.3L141 8.2L142 9.2L144 8.6L148 8.8L149 8.1L151 9.0L152 8.3L154 8.9L156 8.7L157 9.5L158 8.4L159 9.0L161 8.4L162 9.1L165 8.1L166 8.8L168 8.4L170 8.7L171 8.1L172 9.2L173 8.8L174 9.8L175 9.0L177 9.5L181 8.4L182 8.5L183 7.7L185 8.6L187 7.7L188 8.5L189 7.8L191 7.4L195 7.8L196 7.1L201 8.6L202 7.5L203 8.5L205 7.6L206 8.3L208 7.3L209 7.9L211 7.8L212 8.5L214 7.9L216 8.6L218 8.2L219 9.0L220 8.4L221 8.7L222 8.3L226 8.8L228 8.5L229 9.0L230 8.2L231 9.1L233 8.5L234 9.5L235 9.5L236 8.5L237 9.6L240 9.2L242 8.3L243 8.7L247 8.6L248 9.0L249 7.5L250 8.4L251 8.2L253 8.8L254 7.9L260 8.3L263 7.5L265 8.3L267 7.5L274 8.1L276 9.4L277 8.1L282 8.2V-3Z"/>
<path transform="matrix(-1 -0.2869 0 -1 511.9 264.3)" d="M0 -3V8.4L2 7.7L9 9.0L12 8.1L14 8.9L15 8.9L16 9.7L17 8.9L20 9.3L21 8.8L24 9.5L25 8.7L26 9.6L27 8.8L28 8.8L29 10.2L32 9.0L33 9.6L34 9.0L35 10.1L36 9.5L39 9.3L40 9.8L41 9.3L46 10.0L48 9.1L49 10.1L54 10.2L55 9.4L56 10.1L58 9.7L59 10.5L60 9.2L61 10.3L62 10.4L63 9.9L64 10.7L65 9.9L66 10.1L67 9.5L68 10.3L69 9.8L70 10.2L76 10.0L80 9.4L81 10.0L85 9.6L86 10.4L92 9.5L93 10.1L94 9.9L95 10.7L96 9.9L97 10.3L101 9.5L102 10.2L103 9.9L104 10.5L105 9.6L106 10.4L110 10.2L112 10.7L113 11.5L115 11.1L116 11.9L118 11.8L119 12.5L120 11.9L121 13.1L124 12.0L126 11.8L127 14.2L128 9.7L129 8.2L130 9.1L131 9.0L132 7.0L133 10.0L134 6.4L136 7.0L137 6.1L138 7.2L139 5.8L140 6.4L141 5.4L142 6.6L144 5.3L146 6.0L147 5.5L148 6.0L149 5.4L151 6.4L152 5.4L153 5.8L157 5.2L158 6.3L159 5.3L160 5.8L161 5.0L162 5.0L163 5.9L164 5.3L165 6.0L166 5.3L168 5.7L169 5.4L170 6.3L174 4.9L176 6.3L177 6.0L178 4.7L179 5.7L182 4.9L184 5.8L185 5.4L186 6.1L187 5.5L192 5.4L194 4.7L197 6.3L200 5.5L204 5.1L208 5.6L210 4.8L212 5.1L213 5.9L216 5.4L217 5.9L219 5.4L220 6.1L222 6.3L223 5.5L226 5.9L229 5.7L230 5.2L232 6.2L234 6.1L236 5.3L241 5.9L243 5.1L245 5.7L246 5.2L247 6.0L250 5.1L254 5.3L255 4.4L257 5.8L258 5.1L267 5.2L268 5.6L270 4.7L271 5.8L273 5.3L274 5.8L275 5.2L279 6.1L280 5.1L281 6.0L282 6.0V-3Z"/>
<path transform="matrix(-1 -0.2869 0 -1 510.3 265.7)" d="M0 -3V5.5L2 6.2L6 6.0L8 7.1L11 6.7L14 6.8L16 7.3L18 7.1L20 6.0L21 7.7L22 6.7L24 6.8L25 7.6L28 6.7L31 8.0L33 6.9L34 7.7L37 7.5L38 7.8L40 7.0L41 7.5L43 6.9L44 7.9L45 7.0L50 8.0L51 7.5L53 8.2L55 7.1L57 8.1L59 7.7L60 8.2L64 7.4L65 8.0L66 7.5L68 7.5L69 8.1L70 7.5L72 7.9L73 6.7L74 7.6L75 7.5L77 8.5L78 7.6L79 7.4L82 7.8L83 7.4L86 7.5L87 8.0L88 7.4L90 7.9L91 7.0L93 7.7L95 7.3L96 8.1L97 7.6L101 7.2L102 8.2L103 8.3L104 7.6L107 8.2L110 7.4L111 8.6L116 8.5L117 9.8L118 9.3L122 9.6L123 8.9L124 9.5L126 8.9L127 10.2L128 6.4L132 3.3L134 5.8L135 3.7L137 4.7L138 3.4L139 4.2L143 3.1L144 3.8L145 3.5L146 4.5L147 3.3L149 3.1L150 3.6L152 2.8L153 3.5L155 3.1L156 3.6L159 2.7L160 3.5L163 3.1L164 3.4L165 2.4L166 3.6L168 3.3L169 4.0L170 3.8L171 2.5L172 3.2L174 3.0L175 3.7L178 2.7L179 3.4L182 3.5L183 2.6L188 2.8L190 3.8L192 2.7L194 3.3L196 2.9L197 3.4L198 2.6L199 3.3L202 3.7L203 3.0L204 3.6L208 2.3L209 3.7L210 2.5L212 3.6L217 2.7L218 3.6L219 2.7L220 3.4L221 2.8L224 3.5L228 2.9L229 3.5L230 3.1L231 3.5L233 2.9L235 3.4L237 2.6L239 3.8L240 3.8L241 3.0L242 3.0L245 3.9L246 2.9L247 3.3L250 2.9L251 3.7L253 3.1L254 3.6L255 2.7L256 3.9L257 2.8L258 3.1L259 2.8L260 3.4L263 2.6L264 2.9L265 4.0L266 3.0L267 2.8L268 3.4L269 2.8L270 3.0L271 2.6L274 3.3L276 2.5L277 3.5L282 3.5V-3Z"/>
<path transform="matrix(-1 -0.2869 0 -1 508.7 267.0)" d="M0 -3V4.2L1 3.6L2 4.6L6 4.1L9 5.4L12 4.1L13 5.2L17 4.4L19 5.2L23 5.1L25 5.7L26 4.9L32 4.8L35 5.4L37 4.9L38 5.7L39 5.0L41 4.7L42 5.9L43 5.8L44 4.8L45 6.0L46 6.2L47 5.5L50 5.1L53 6.0L54 5.2L56 5.2L57 5.8L58 5.2L59 6.0L60 5.2L61 5.6L62 5.3L66 5.8L68 4.7L70 6.3L71 5.0L73 5.8L74 5.1L76 5.8L77 5.3L81 5.3L82 5.9L84 5.7L85 4.9L87 5.5L89 4.8L90 5.6L91 4.7L92 5.7L93 5.0L96 5.3L98 4.7L99 5.4L102 5.2L105 5.9L111 5.7L112 6.6L114 5.7L116 6.8L118 6.4L119 6.9L120 6.1L121 7.4L124 6.6L127 6.9L128 4.5L130 2.5L132 2.2L133 1.4L134 2.1L136 1.9L137 1.2L139 2.3L140 1.7L142 1.5L145 1.4L146 2.1L147 1.5L148 2.0L149 1.2L150 1.6L151 1.2L152 2.3L153 1.8L157 2.2L158 1.1L159 1.9L160 1.4L162 1.3L168 1.5L170 2.0L171 1.0L172 1.8L174 1.9L175 1.2L176 1.7L178 1.3L179 1.7L183 1.2L184 1.8L188 1.0L190 1.9L191 1.6L192 2.3L193 1.2L195 1.3L196 2.0L198 1.4L199 2.0L200 1.2L203 0.9L205 2.2L208 0.9L211 1.9L212 1.2L214 1.4L216 2.3L218 1.5L220 2.3L221 1.5L223 1.2L224 1.6L225 0.9L229 1.9L230 1.3L232 2.0L233 1.5L234 2.3L237 1.0L240 1.8L243 1.2L244 1.8L246 1.2L247 1.9L249 1.8L251 1.0L254 1.7L256 1.2L257 1.6L258 1.0L262 1.8L264 1.2L266 1.9L268 1.1L269 1.5L270 1.1L271 1.7L273 0.6L274 1.5L275 1.0L277 1.8L279 1.1L281 1.8L282 1.5V-3Z"/>
<path transform="matrix(-1 -0.2869 0 -1 507.1 268.4)" d="M0 -3V4.5L2 4.2L3 5.1L5 4.0L6 3.9L7 4.6L9 4.4L11 5.0L13 4.3L15 5.3L16 4.6L19 5.1L20 3.8L22 4.9L24 4.6L25 4.9L26 4.0L28 5.8L30 5.0L33 4.9L35 6.0L36 5.3L39 5.1L40 5.5L42 4.9L43 5.5L44 4.9L45 5.9L46 5.1L47 5.6L48 4.7L49 5.3L50 4.5L51 5.0L54 4.8L57 5.2L60 4.5L61 5.2L62 4.9L63 5.4L64 4.4L67 5.5L69 4.8L71 5.3L72 4.8L78 5.4L82 4.7L83 5.4L89 4.7L92 5.1L94 4.0L96 5.1L100 4.8L104 5.2L105 4.6L106 5.0L109 4.9L110 5.8L112 5.7L113 6.4L115 5.3L120 6.4L127 5.8L128 2.8L130 1.6L136 0.8L138 1.2L139 0.5L140 1.1L141 0.8L142 1.2L143 0.2L145 1.4L147 0.6L148 0.5L149 1.2L150 0.7L152 0.9L153 0.4L156 1.1L159 0.1L164 1.0L165 0.5L168 0.4L169 1.2L171 0.4L173 0.5L174 1.3L176 0.5L177 1.0L179 0.9L181 1.5L182 0.9L184 1.1L185 0.6L187 1.1L193 0.6L194 1.0L195 0.2L196 0.8L199 0.7L201 1.6L203 0.2L206 1.3L207 1.3L208 0.0L210 1.4L213 0.4L215 1.0L217 0.2L219 0.9L220 0.4L221 0.9L222 0.5L223 0.8L224 0.1L225 1.0L226 0.8L227 1.4L228 0.6L230 1.1L232 0.8L234 1.4L237 0.3L239 1.3L240 0.6L242 0.1L245 1.0L248 0.8L251 1.1L252 0.7L253 1.1L254 0.7L258 0.9L259 0.5L261 1.3L262 0.7L263 1.4L264 0.7L266 0.5L267 1.0L269 0.1L270 1.2L271 0.6L274 1.2L276 0.7L282 0.9V-3Z"/>
<path transform="matrix(-1 -0.2869 0 -1 505.6 269.7)" d="M0 -3V5.1L1 6.1L3 5.7L5 5.9L6 5.1L7 6.3L10 5.7L18 6.2L19 5.3L20 6.3L21 6.4L22 5.7L23 6.8L24 6.1L25 6.3L28 5.9L29 6.4L31 5.8L33 7.1L34 6.2L35 6.6L37 6.3L38 7.1L39 6.0L40 6.8L41 6.1L42 6.8L43 6.2L44 6.2L45 7.1L46 5.9L48 6.1L49 6.9L50 6.0L51 6.9L52 6.1L54 6.1L55 6.6L57 5.4L62 6.8L63 5.8L67 6.3L69 5.8L70 6.4L71 6.0L72 6.6L76 6.0L78 6.5L80 5.9L81 7.1L82 6.2L83 6.3L84 5.7L86 6.1L87 5.8L88 6.4L89 6.0L90 6.6L91 5.7L92 6.5L93 5.8L96 6.2L98 5.2L99 6.1L100 6.3L101 5.9L103 6.7L105 6.0L106 6.6L109 5.5L110 6.2L111 5.7L114 6.7L115 6.2L116 7.0L118 6.8L119 7.2L120 6.8L121 7.2L123 6.3L125 6.8L127 6.3L128 4.1L130 1.7L132 0.9L133 1.6L135 1.1L136 1.7L137 1.1L139 0.7L141 1.6L142 1.0L143 1.5L145 1.5L146 0.8L148 1.5L149 0.9L150 1.7L151 0.7L152 1.6L154 1.0L158 1.3L161 0.8L163 1.8L166 0.9L167 1.2L168 0.0L170 2.1L171 0.8L173 1.4L174 0.8L175 1.1L177 0.5L178 0.9L180 0.5L182 1.3L186 0.6L188 1.1L189 0.5L190 1.1L191 1.0L192 0.2L194 1.2L195 0.4L197 0.8L199 2.2L200 0.9L201 1.5L203 1.0L205 1.4L209 0.5L211 1.4L215 0.3L217 1.4L218 0.8L221 1.7L222 0.9L224 1.3L225 0.8L227 1.3L235 1.0L238 1.5L241 0.4L243 1.3L245 0.7L247 1.8L248 1.2L252 1.1L253 0.7L254 1.3L255 0.9L256 1.6L257 0.9L260 1.0L261 1.9L262 1.0L264 0.7L265 1.6L266 0.4L267 1.1L269 1.5L271 0.8L272 1.1L273 0.5L275 1.8L276 1.4L277 1.8L279 0.9L280 1.5L282 1.1V-3Z"/>
<path transform="matrix(-1 -0.2869 0 -1 504.0 271.0)" d="M0 -3V7.1L2 6.6L4 7.4L5 6.4L6 7.7L7 7.1L9 7.6L10 7.0L13 7.8L14 7.2L15 7.3L16 8.3L17 7.0L18 7.5L20 7.0L21 7.6L23 7.1L24 8.1L27 7.3L30 7.5L31 8.2L32 7.4L35 7.2L36 7.9L37 7.4L38 7.8L39 7.0L45 8.1L46 7.6L48 8.0L50 7.4L53 8.5L55 7.2L56 8.2L57 7.3L58 8.4L62 6.5L63 8.1L65 7.1L66 7.3L67 6.8L68 7.6L70 8.1L72 7.3L76 7.7L79 7.1L80 7.8L81 7.3L82 7.5L83 6.9L88 7.6L92 6.6L96 7.9L97 6.7L98 7.9L102 6.9L103 7.4L104 6.9L105 7.4L106 7.1L108 8.1L109 7.2L112 8.5L115 8.1L116 8.5L117 7.8L118 8.4L122 8.6L123 7.8L125 8.6L126 7.7L127 7.6L128 4.5L131 1.6L134 1.2L135 1.5L137 1.0L140 1.8L142 0.9L143 1.4L145 0.6L147 1.9L149 1.3L150 1.6L151 1.0L152 1.5L155 1.1L156 0.6L159 2.1L160 1.3L161 1.7L163 0.6L164 1.4L165 1.0L166 1.7L168 1.4L169 1.9L170 1.1L172 0.6L173 1.2L175 0.8L177 1.5L179 1.0L180 1.5L181 1.0L183 1.6L187 1.3L188 1.8L189 1.0L190 1.4L194 0.7L195 0.7L196 1.6L197 1.0L200 1.6L201 0.9L205 1.6L206 0.8L207 1.5L208 1.6L211 0.9L213 1.3L214 0.8L215 1.7L217 1.0L218 1.8L219 0.8L220 1.6L221 1.1L223 1.7L224 0.8L226 1.5L229 1.0L230 1.5L232 1.3L234 1.8L236 0.8L237 1.5L239 0.9L240 1.3L243 0.8L246 2.0L247 1.3L250 2.0L253 1.2L255 1.4L256 2.1L259 0.9L261 1.7L263 1.2L264 2.2L266 1.2L270 1.5L271 0.7L273 2.1L274 1.1L275 1.5L277 1.2L278 1.7L279 1.3L282 1.6V-3Z"/>
<path transform="matrix(-1 -0.2869 0 -1 502.4 272.4)" d="M0 -3V7.3L1 6.7L3 7.0L4 7.8L5 7.3L6 7.8L7 7.4L9 7.9L10 6.9L11 7.5L13 7.9L17 7.3L19 7.8L21 7.3L23 8.0L24 7.7L25 8.7L26 8.2L27 8.8L29 7.6L30 8.1L31 7.7L32 8.3L33 7.8L34 8.5L35 7.7L36 8.3L39 7.8L40 8.5L42 8.6L43 7.8L44 7.8L45 8.8L46 7.9L48 8.6L49 7.9L50 7.8L51 8.4L52 7.6L53 8.2L54 8.0L56 8.7L58 7.8L59 7.8L60 8.7L61 8.1L62 8.4L63 7.8L66 8.5L69 8.0L70 8.3L71 7.7L72 8.3L77 8.0L78 8.4L80 7.9L81 8.9L83 7.9L84 8.9L85 7.9L86 9.3L87 8.6L89 8.8L90 8.0L91 8.9L92 8.4L93 9.4L94 8.6L95 9.1L97 8.2L99 8.9L102 8.9L103 10.0L107 9.3L113 10.8L115 10.5L116 11.8L125 12.7L127 11.5L129 5.5L131 1.4L133 1.8L134 0.6L136 0.6L138 1.4L140 1.1L141 1.4L143 0.7L144 1.4L145 1.0L146 1.7L147 1.0L148 1.3L150 0.9L151 1.6L154 0.4L156 1.7L157 0.6L158 0.7L159 1.4L161 0.7L162 1.2L167 1.3L168 0.8L170 1.5L171 0.7L174 1.7L176 0.7L177 0.6L178 1.7L179 1.1L182 0.7L183 1.6L186 0.8L189 1.6L190 0.8L192 1.2L196 0.6L197 1.2L199 0.7L201 1.5L204 0.7L208 1.2L209 0.8L210 1.7L211 0.9L213 0.4L215 1.6L216 0.6L220 1.5L223 1.0L225 1.6L226 0.8L227 0.7L228 1.6L230 1.1L231 1.7L233 0.8L235 1.3L237 1.0L238 1.5L242 1.2L243 1.7L244 1.1L245 2.0L248 1.2L249 1.8L251 0.6L252 1.6L253 0.8L254 2.1L255 1.4L256 2.1L258 0.6L260 1.9L261 0.6L262 0.4L263 0.8L264 1.9L267 0.8L270 1.4L271 0.7L273 2.0L275 1.4L276 2.0L278 1.0L280 1.8L281 1.4L282 1.6V-3Z"/>
<path transform="matrix(-1 -0.2869 0 -1 501.4 273.3)" d="M0 -3V7.5L1 7.8L2 7.6L3 8.4L5 7.6L8 8.1L12 7.5L14 8.2L16 7.5L20 9.0L21 8.0L25 8.4L26 7.8L27 8.2L28 7.9L29 8.8L31 8.5L32 7.9L33 8.7L38 8.3L40 8.4L41 9.1L43 8.2L45 9.0L47 8.2L52 8.3L53 9.0L54 8.5L55 9.3L57 8.1L59 8.7L61 8.1L62 8.6L63 8.2L66 9.2L68 8.3L70 8.8L72 8.3L73 9.0L75 8.3L76 9.5L79 9.8L80 9.8L81 8.7L82 10.0L83 8.5L84 9.9L85 9.3L88 10.0L91 9.4L94 10.3L95 9.8L97 10.4L98 9.8L99 11.2L102 10.6L103 11.9L104 12.3L106 12.3L107 12.9L108 12.0L109 13.2L110 12.2L111 13.7L115 14.7L116 14.3L117 16.1L118 16.7L119 16.4L123 18.1L125 18.2L126 19.1L127 17.4L130 4.1L131 1.6L133 1.5L135 0.5L136 1.3L138 1.6L140 0.7L142 0.5L143 1.4L144 0.9L145 1.1L147 0.2L150 0.9L152 0.5L153 1.6L154 0.9L156 1.4L160 0.7L161 1.4L163 1.1L164 0.1L165 1.0L167 0.7L168 1.4L169 0.6L171 1.3L172 0.9L173 1.3L174 0.8L176 1.1L177 0.6L179 1.3L181 0.2L183 0.6L184 0.2L185 1.1L186 1.2L191 0.7L192 1.2L194 1.0L195 0.1L198 1.0L201 0.8L202 1.3L204 0.9L205 1.3L206 0.6L207 0.6L209 1.4L210 0.5L211 0.8L212 0.4L215 1.0L216 0.2L217 0.8L219 0.4L221 1.0L224 0.5L225 1.0L227 1.0L228 0.4L229 0.9L232 0.5L235 1.4L236 0.7L237 0.7L240 1.8L241 0.4L242 0.9L245 1.0L246 1.5L248 0.5L249 1.4L250 0.7L251 1.5L256 0.6L257 1.1L258 0.8L260 1.3L261 0.7L262 1.2L264 0.5L269 1.3L273 0.8L275 1.7L276 0.9L278 1.3L279 0.5L282 1.2V-3Z"/>
<path transform="matrix(-1 -0.2869 0 -1 499.3 275.1)" d="M0 -3V4.4L1 3.5L2 4.0L4 3.5L5 4.1L7 3.8L8 4.7L9 4.2L13 4.5L17 3.7L19 4.6L20 4.4L22 5.0L24 5.0L25 4.3L29 4.7L30 5.7L31 4.7L34 4.2L35 5.2L36 4.1L37 4.9L38 5.0L39 4.6L40 5.0L42 4.6L43 5.6L44 4.7L45 5.5L46 4.9L47 5.2L48 4.6L49 5.0L50 4.8L51 5.4L54 4.5L55 5.3L58 4.8L59 5.2L60 4.6L61 4.6L62 5.4L66 5.2L67 4.7L68 5.8L70 4.7L73 5.1L76 4.6L77 5.4L78 4.9L79 5.6L80 4.7L81 5.6L82 4.9L84 5.2L85 4.8L86 5.9L88 5.5L89 4.7L90 5.8L91 4.6L96 5.1L97 5.9L99 4.9L101 6.0L103 4.7L105 5.9L106 5.4L108 5.9L109 5.4L110 5.8L111 5.5L112 6.4L113 6.6L114 5.8L115 6.5L116 6.1L117 6.9L118 6.5L119 7.4L120 6.9L122 6.8L124 7.4L127 5.7L131 0.8L132 1.2L134 0.5L135 0.8L136 0.3L139 0.5L141 1.2L144 0.4L146 0.5L147 1.2L152 0.6L153 1.1L156 0.0L158 0.7L160 0.6L161 1.1L163 0.1L164 1.4L165 0.5L167 0.5L168 1.0L169 0.4L171 1.2L172 0.0L174 1.1L179 0.4L180 1.1L181 0.4L183 0.5L184 1.1L186 1.0L187 0.2L188 0.8L192 0.6L193 1.3L194 0.3L195 1.3L197 0.3L198 0.8L200 0.4L201 1.7L202 0.7L203 1.4L206 0.6L207 1.3L208 1.2L209 0.0L210 0.8L212 1.1L213 0.0L214 0.9L215 0.6L216 1.2L217 0.5L218 0.9L219 0.6L220 1.2L222 0.1L223 1.2L224 1.3L225 0.6L226 1.1L229 1.0L230 0.3L231 0.8L232 0.5L233 1.3L234 0.7L235 0.8L236 0.0L237 1.2L239 0.6L242 1.4L244 0.6L246 1.5L247 0.6L250 0.8L251 0.0L252 0.9L254 0.3L255 1.0L258 0.0L261 0.7L262 0.1L264 0.8L266 0.4L267 1.0L268 0.4L270 0.3L271 1.0L273 1.1L278 0.1L279 0.6L280 0.4L281 1.6L282 0.3V-3Z"/>
<path transform="matrix(-1 -0.2869 0 -1 497.7 276.4)" d="M0 -3V4.8L1 4.1L4 4.8L5 4.4L6 5.5L7 4.6L10 4.5L11 5.1L13 4.9L14 4.2L15 5.0L17 5.4L18 4.9L21 5.2L23 4.6L24 5.2L26 4.6L30 5.3L32 4.6L33 5.1L38 5.7L41 5.1L44 5.8L47 5.0L48 5.7L50 5.6L52 6.1L53 4.8L54 6.1L55 5.3L58 5.7L59 5.1L61 5.4L62 4.9L63 5.6L68 5.6L70 6.0L71 5.2L73 5.5L76 5.1L77 5.7L80 5.2L81 5.9L82 5.2L89 6.0L92 5.0L94 5.8L95 5.2L99 5.6L101 5.2L102 6.2L103 5.5L105 5.5L107 6.5L109 5.6L115 5.7L116 5.2L117 5.5L118 6.9L119 5.9L122 6.1L123 5.3L124 6.2L125 5.3L127 5.1L129 2.3L130 2.8L131 1.1L132 1.9L133 0.4L134 1.1L136 1.0L137 1.5L138 1.1L139 1.6L140 0.9L141 1.4L142 0.7L143 1.5L144 1.5L145 0.7L150 1.4L152 0.8L153 1.2L157 0.9L158 1.5L159 0.8L161 1.1L162 0.6L165 0.8L166 1.4L167 0.9L168 1.4L169 0.4L170 0.3L173 1.0L175 0.8L178 1.2L179 0.8L183 1.3L185 0.9L186 1.4L188 0.6L190 1.0L191 0.4L193 1.7L195 0.2L199 1.2L206 0.6L208 1.1L209 0.4L210 0.8L218 0.7L219 1.5L222 0.4L227 1.0L229 0.3L231 1.1L232 0.0L233 1.0L234 0.0L235 1.6L237 0.4L238 1.3L239 0.4L240 1.1L242 0.7L244 1.2L254 0.4L257 1.3L259 0.2L260 0.7L267 1.2L269 0.5L271 1.3L272 0.6L274 0.9L275 1.8L276 0.6L278 1.2L280 0.4L282 1.0V-3Z"/>
<path transform="matrix(-1 -0.2869 0 -1 496.1 277.7)" d="M0 -3V5.0L3 6.2L4 5.8L5 6.2L7 5.3L8 6.3L10 5.7L12 6.5L15 5.9L20 6.5L22 5.7L23 7.0L24 5.8L25 5.4L26 6.6L27 6.2L30 6.8L32 6.1L33 6.9L37 6.2L38 6.8L41 6.9L43 5.7L44 7.0L46 6.6L47 7.1L48 6.6L49 7.0L51 6.3L53 7.2L54 6.7L55 7.2L58 6.1L60 7.6L62 6.9L65 7.1L66 6.7L67 7.7L68 7.5L69 6.2L70 7.3L72 6.7L74 6.7L75 7.2L76 5.9L77 6.8L78 6.1L79 6.2L80 7.1L82 6.3L83 6.9L84 5.3L85 5.9L86 5.3L88 5.6L89 6.5L91 5.3L92 6.0L94 5.3L95 5.8L96 5.0L98 5.9L99 5.5L101 6.0L104 5.1L105 5.5L106 5.0L108 6.1L113 5.2L116 5.6L117 5.2L118 6.1L120 6.5L121 5.2L122 6.0L123 5.2L127 4.6L129 2.0L131 1.5L133 1.8L136 0.9L137 1.6L140 0.9L141 2.1L143 1.4L144 1.7L146 0.7L147 1.4L150 0.9L151 1.7L156 0.7L158 1.4L162 1.3L163 0.9L164 1.4L165 0.3L166 1.2L167 0.6L170 0.9L171 2.0L172 1.0L174 1.2L175 0.7L178 1.5L179 0.5L181 0.0L183 1.1L184 0.6L186 0.8L187 0.3L188 1.2L189 1.4L191 0.4L193 1.4L195 0.9L197 1.8L198 0.8L200 0.6L204 1.4L205 1.0L206 1.4L209 0.9L213 1.5L214 0.2L215 1.3L217 1.8L218 0.9L219 1.1L220 0.5L221 1.4L222 1.4L223 0.5L225 0.5L226 1.0L227 0.4L229 1.6L230 0.6L231 1.1L235 1.1L237 0.6L238 1.8L240 0.6L243 1.5L245 1.6L246 1.0L249 0.7L250 1.8L251 0.5L252 1.1L254 1.1L255 0.4L256 0.5L257 1.4L259 0.7L262 1.2L265 0.9L266 1.4L267 0.3L268 1.1L271 1.0L272 0.4L273 1.0L276 0.1L278 1.2L279 0.3L282 1.1V-3Z"/>
<path transform="matrix(-1 -0.2869 0 -1 494.6 279.1)" d="M0 -3V5.6L1 5.2L5 6.1L6 5.4L7 6.1L9 5.3L10 6.3L14 6.0L16 6.4L17 5.5L19 6.0L20 6.9L22 6.0L23 6.9L24 6.1L28 7.1L29 6.4L34 6.4L36 6.5L37 7.3L38 6.6L39 7.0L41 6.6L42 7.2L44 6.9L45 7.4L48 6.6L49 7.3L50 6.5L53 7.1L55 6.7L59 7.4L63 6.3L64 7.3L65 6.9L67 7.5L69 6.3L70 7.0L71 6.6L75 6.5L77 5.8L78 6.9L79 6.0L81 5.4L85 5.0L87 4.2L88 5.2L90 4.0L92 4.8L94 4.0L96 4.3L97 3.7L98 4.1L100 3.6L104 3.9L105 3.4L106 4.1L109 3.6L110 4.3L113 3.7L115 4.6L116 3.7L117 4.3L118 3.9L121 4.7L123 3.7L126 3.0L127 3.5L129 1.6L131 1.5L132 1.0L133 1.3L135 0.7L136 1.3L137 1.2L138 0.4L140 1.7L141 0.6L144 1.2L145 0.7L148 1.6L149 1.0L152 0.9L154 0.3L156 1.1L157 0.0L158 0.8L160 0.7L161 1.5L163 0.2L164 0.9L165 0.5L167 1.1L168 0.1L170 1.4L171 0.5L172 0.8L174 0.3L175 1.2L181 0.8L182 1.2L183 0.8L185 1.0L187 0.3L188 0.8L189 0.4L190 0.9L192 0.5L193 1.4L195 0.3L197 1.3L198 0.3L199 0.9L200 0.9L202 0.0L203 0.7L205 0.7L206 1.1L208 0.8L209 0.1L211 1.0L214 0.4L215 1.1L218 0.0L219 1.2L222 0.1L223 0.2L224 1.3L225 0.4L226 1.2L228 0.7L229 1.0L232 0.0L235 1.3L237 0.0L238 1.1L241 0.0L242 0.8L243 0.9L244 0.2L245 0.8L248 0.6L251 1.4L252 0.6L255 0.4L256 0.8L259 0.2L264 1.0L266 0.7L269 1.0L271 0.7L272 0.0L273 0.9L274 0.0L278 0.6L280 0.2L281 0.6L282 0.2V-3Z"/>
<path transform="matrix(-1 -0.2869 0 -1 493.0 280.4)" d="M0 -3V4.4L1 4.2L2 4.6L4 4.1L5 4.6L7 4.3L8 5.0L9 4.2L10 5.0L11 4.6L15 4.4L16 5.2L19 4.6L20 5.2L21 4.8L22 5.3L23 4.6L25 4.3L28 5.1L29 4.6L31 5.6L32 4.8L38 5.7L41 5.0L42 5.9L46 4.9L49 5.8L50 4.5L51 5.8L52 4.7L54 6.0L57 5.0L58 6.4L59 5.3L64 5.7L66 4.8L67 5.6L68 5.2L71 5.6L72 4.8L75 4.7L77 3.9L79 4.3L82 3.0L85 3.0L86 2.1L90 2.3L91 1.7L94 1.5L96 2.1L97 1.0L99 1.8L100 1.2L102 2.3L105 1.5L106 2.4L109 1.4L110 2.0L112 1.8L114 2.4L116 1.2L118 2.0L120 1.6L121 2.1L123 1.7L124 2.5L125 1.7L127 1.6L130 0.5L131 0.7L132 0.2L134 0.8L135 0.2L137 0.9L139 0.0L142 0.6L145 0.1L146 0.8L147 0.0L148 0.6L150 0.0L151 0.7L153 0.8L154 0.0L155 0.6L156 0.0L157 0.8L159 0.7L160 0.1L161 0.9L163 0.0L167 0.0L169 0.4L170 1.1L171 0.2L172 0.0L173 0.8L174 0.0L175 0.9L176 0.0L177 0.5L179 0.0L180 0.8L181 0.0L183 0.3L186 0.0L187 0.5L190 0.0L191 0.5L193 0.4L194 0.0L195 0.6L197 0.0L198 0.7L199 0.0L200 0.6L201 0.0L202 0.9L212 0.0L214 0.8L217 0.0L218 0.5L221 0.0L223 0.8L225 0.2L226 0.7L230 0.0L235 0.0L236 0.5L238 0.0L239 0.9L240 0.1L243 0.6L244 0.0L245 0.5L247 0.1L248 0.9L249 0.1L250 0.5L257 0.0L259 0.8L260 0.0L261 0.6L262 0.0L264 0.0L267 0.7L268 0.1L270 0.5L275 0.6L276 0.0L282 0.8V-3Z"/>
<path transform="matrix(-1 -0.2869 0 -1 491.4 281.7)" d="M0 -3V3.7L1 3.0L3 3.2L4 4.0L5 3.2L6 4.1L7 3.1L9 4.0L11 3.6L14 3.9L15 3.3L18 4.4L19 3.4L21 4.6L23 3.6L25 4.1L26 3.1L29 4.4L30 4.3L31 3.3L32 4.2L34 4.2L35 3.3L36 4.1L38 4.0L39 3.5L40 4.4L41 3.8L42 4.4L43 3.7L44 4.1L45 3.9L46 4.7L47 3.7L48 4.6L50 4.1L55 4.3L56 3.7L57 4.6L61 3.6L66 4.7L68 3.8L70 4.4L74 2.8L76 2.8L77 3.4L78 2.3L79 2.3L80 2.9L81 2.1L84 1.4L87 2.0L88 1.4L89 1.8L90 0.8L93 0.5L94 1.1L97 0.3L100 0.9L101 0.4L102 1.1L103 0.1L105 0.7L107 0.3L108 0.8L109 0.3L112 0.1L113 1.2L115 0.2L118 1.2L120 0.4L122 1.7L125 0.8L127 1.8L128 0.3L129 0.5L130 0.0L131 0.4L132 0.0L133 0.6L141 0.0L144 0.6L145 0.0L150 0.4L153 0.0L155 0.7L156 0.0L157 0.0L159 1.0L160 0.2L162 0.5L164 0.1L165 0.7L167 0.0L168 0.9L170 0.0L174 0.6L175 0.0L179 0.0L180 0.6L181 0.0L195 0.0L197 0.6L198 0.0L202 0.3L220 0.0L221 0.6L222 0.2L223 0.7L225 0.0L233 0.5L234 0.0L256 0.0L257 0.7L258 0.0L259 0.0L261 0.8L262 0.0L264 0.6L265 0.0L267 0.5L268 0.0L270 0.4L273 0.0L275 0.7L278 0.7L279 0.0L282 0.0V-3Z"/>
<path transform="matrix(-1 -0.2869 0 -1 489.9 283.1)" d="M0 -3V4.1L1 3.0L2 3.3L3 4.4L5 3.7L7 4.3L8 3.5L10 4.2L11 3.5L12 4.1L14 4.2L15 3.3L16 4.5L18 4.2L19 4.6L20 3.7L21 4.5L24 4.0L26 4.4L28 3.7L29 4.6L30 4.0L31 4.8L32 3.9L35 5.0L37 3.9L38 5.4L39 5.3L40 4.3L41 5.0L45 4.2L46 4.6L47 3.5L48 4.6L49 3.6L55 5.2L57 4.6L61 5.3L65 4.3L66 5.0L72 4.0L75 4.2L76 3.2L78 3.6L79 3.0L83 2.4L87 1.3L90 1.2L91 0.0L95 0.9L96 0.0L99 0.9L103 0.3L105 1.3L106 0.6L109 0.9L110 0.3L112 1.5L114 0.0L115 1.0L118 0.3L119 1.2L121 0.7L123 1.5L125 1.5L126 2.4L127 1.3L129 1.2L130 0.0L131 0.9L133 0.6L135 1.1L136 0.0L137 0.7L138 0.4L139 1.6L140 0.5L142 1.1L143 0.0L145 0.8L147 0.5L149 1.2L153 0.3L155 1.2L156 0.5L159 0.9L160 1.4L161 0.5L163 0.9L164 0.4L166 0.7L167 0.4L168 1.4L169 0.8L171 0.9L173 0.1L174 0.6L175 0.0L182 0.5L183 0.0L191 0.0L192 0.5L193 0.0L198 0.0L200 0.4L201 0.0L204 0.0L206 0.6L207 0.1L210 0.0L213 0.8L214 0.0L218 0.6L220 0.0L221 0.9L222 0.0L223 0.5L224 0.0L227 0.7L228 0.0L232 0.5L233 0.0L236 0.4L237 0.0L243 0.0L244 0.5L247 0.3L248 0.8L249 0.1L251 0.0L264 0.0L265 0.4L266 0.0L268 0.6L270 0.0L271 0.5L273 0.0L282 0.0V-3Z"/>
<path transform="matrix(-1 -0.2869 0 -1 488.3 284.4)" d="M0 -3V5.0L1 5.6L2 4.8L4 4.5L7 5.6L9 4.6L10 5.3L12 4.8L15 5.9L16 4.6L17 5.4L21 5.8L22 5.3L26 6.0L31 5.4L32 6.3L33 5.8L34 6.4L35 6.0L36 6.3L37 5.7L38 6.4L40 5.7L43 6.1L44 5.8L45 6.3L48 6.1L49 6.5L52 6.3L53 5.4L54 6.5L58 5.9L59 6.6L60 6.2L61 6.5L63 5.9L64 6.4L65 5.7L67 6.8L70 5.5L71 6.4L72 5.7L74 5.5L77 4.2L79 3.9L80 4.4L81 4.1L82 2.9L83 3.5L84 2.5L87 2.0L88 0.9L89 1.5L91 1.1L92 1.4L96 0.4L100 0.2L102 0.9L104 0.4L105 1.2L106 0.7L108 1.2L109 0.3L112 0.3L116 1.4L118 0.3L121 1.9L122 1.6L123 2.7L125 2.3L126 3.2L129 1.4L130 2.2L132 2.3L133 1.8L135 2.4L137 0.9L138 2.3L141 1.5L142 1.9L144 1.7L145 2.5L146 1.5L148 2.4L153 1.2L155 2.3L156 1.9L158 2.4L160 2.3L162 1.2L163 2.2L164 1.1L165 2.5L167 1.8L170 2.1L171 1.0L173 0.0L174 0.5L175 0.0L178 0.4L179 0.0L184 0.0L188 0.6L191 0.0L195 0.5L197 0.1L198 0.8L200 0.0L202 0.0L203 0.5L204 0.0L207 0.4L208 0.0L226 0.0L229 0.1L230 0.6L231 0.1L235 0.0L236 0.7L237 0.1L240 0.0L241 0.4L244 0.0L246 0.7L249 0.0L257 0.0L259 0.4L260 0.0L264 0.0L266 0.6L268 0.0L269 0.8L271 0.0L274 0.7L275 0.0L278 0.0L280 0.6L282 0.0V-3Z"/>
<path transform="matrix(-1 -0.2869 0 -1 486.7 285.8)" d="M0 -3V5.1L1 6.0L2 5.8L3 6.7L4 5.7L6 6.0L7 7.0L8 6.0L9 6.6L10 6.0L16 7.0L17 5.9L19 6.6L22 6.3L23 6.6L24 6.1L26 6.7L27 7.7L30 6.1L35 7.4L37 6.9L39 7.1L40 6.5L41 7.4L42 6.8L46 7.6L50 6.7L51 7.5L52 7.0L56 6.9L57 7.9L59 8.0L61 7.4L62 7.8L65 7.2L67 7.3L69 6.2L70 6.8L73 6.6L74 5.6L76 6.0L77 5.1L80 4.9L83 2.8L84 3.3L85 3.2L92 0.8L93 1.5L94 0.4L99 1.3L100 0.2L102 0.3L104 1.1L106 0.5L107 0.7L108 0.0L112 0.4L113 1.0L116 0.2L117 1.4L119 0.6L120 1.1L123 6.6L124 4.7L125 5.1L126 3.6L127 3.8L128 3.0L129 3.7L130 2.9L131 3.9L133 2.8L134 4.0L135 2.6L136 3.9L137 2.6L138 4.1L139 2.3L140 5.3L142 2.1L143 3.1L144 2.8L145 3.3L146 4.5L147 3.6L148 4.0L149 3.0L150 3.6L152 2.5L153 2.5L155 3.8L156 5.3L157 3.6L158 3.2L159 3.5L161 3.2L162 4.3L164 3.0L165 3.7L166 3.0L167 4.1L168 3.2L170 3.4L173 0.0L178 0.4L182 0.0L184 0.4L186 0.1L188 0.8L189 0.0L205 0.3L206 0.0L207 1.3L208 0.3L209 0.7L210 0.0L211 0.5L213 0.0L220 0.0L221 0.8L222 0.0L223 0.0L224 0.6L225 0.0L226 0.0L228 0.9L229 0.1L231 0.7L233 0.0L245 0.0L246 0.4L247 0.0L248 0.4L251 0.0L252 0.6L254 0.0L260 0.0L261 0.4L262 0.0L263 0.7L266 0.0L268 0.5L269 0.0L271 0.5L272 0.0L274 0.0L275 0.9L277 0.2L278 0.7L279 0.0L282 0.0V-3Z"/>
<path transform="matrix(-1 -0.2869 0 -1 485.1 287.1)" d="M0 -3V5.3L2 4.8L3 5.3L5 5.1L6 5.7L8 5.2L9 6.1L10 5.5L12 5.9L14 5.5L16 5.9L18 5.3L19 5.7L20 5.2L23 6.2L29 5.8L30 6.6L31 5.6L32 6.8L35 5.8L37 6.7L40 6.0L42 7.0L44 6.0L47 6.1L48 6.7L53 5.9L58 6.7L59 6.6L60 5.9L61 7.1L62 7.2L63 6.4L69 6.3L72 5.8L73 5.3L75 5.7L76 4.7L78 5.3L79 4.2L81 3.9L82 3.0L86 2.2L87 1.5L91 1.7L92 0.9L97 0.4L99 0.9L101 0.1L102 0.7L105 0.8L107 0.1L108 1.2L109 0.6L111 1.2L112 0.3L118 1.4L119 0.4L120 0.8L121 3.7L122 9.6L123 5.9L124 7.9L125 4.3L127 6.3L131 5.3L132 5.4L133 6.4L134 5.7L135 6.2L136 4.7L137 6.3L139 4.9L140 5.8L141 4.9L144 5.2L145 6.4L146 5.3L147 7.3L148 6.6L149 7.6L151 5.8L152 5.6L153 7.4L154 4.6L155 6.1L156 6.0L157 5.2L158 6.6L159 4.7L160 6.6L161 6.7L162 6.4L163 5.2L164 5.0L165 7.1L167 5.7L168 7.4L169 6.4L170 6.9L172 1.8L174 0.0L175 0.8L177 0.0L179 0.4L180 0.0L181 0.5L182 0.0L186 0.4L187 0.0L188 0.5L189 0.0L193 0.0L194 1.0L195 0.0L199 0.6L201 0.0L203 0.4L204 0.0L205 0.6L209 0.0L215 0.3L216 0.0L217 0.8L218 0.0L223 0.5L224 0.0L226 0.0L227 0.5L228 0.0L231 0.8L232 0.0L236 0.0L237 0.8L238 0.8L239 0.0L241 0.0L242 0.6L243 0.0L246 0.0L247 0.4L249 0.0L250 0.5L252 0.0L254 0.9L255 0.1L257 0.6L259 0.0L260 1.0L261 0.1L262 0.0L264 0.1L265 0.6L266 0.0L269 0.0L270 0.6L271 0.0L276 0.0L278 0.5L282 0.0V-3Z"/>
<path transform="matrix(-1 -0.2869 0 -1 483.6 288.4)" d="M0 -3V4.0L2 3.7L4 4.4L5 3.8L8 4.1L9 3.8L11 4.8L12 3.6L14 4.6L16 4.0L18 4.4L19 3.9L20 5.0L22 4.4L24 4.9L26 4.1L27 4.7L28 4.0L29 4.8L33 3.9L36 5.1L38 4.2L39 5.4L40 3.9L42 5.0L44 4.6L47 5.0L48 4.6L51 5.4L53 4.5L55 5.2L56 4.3L58 4.8L61 4.6L63 5.4L67 4.4L69 5.0L71 4.2L72 5.1L74 3.7L78 2.9L79 3.6L82 2.7L83 1.7L84 2.0L88 1.0L93 1.1L94 0.6L96 1.0L98 0.3L104 0.7L105 0.0L106 0.7L107 0.4L109 1.1L111 0.2L112 0.7L113 0.0L114 0.9L119 0.0L120 0.4L122 11.1L123 10.1L124 9.9L125 8.7L126 10.1L127 9.4L128 11.4L131 6.3L132 11.9L133 6.7L134 9.9L135 11.1L138 7.0L139 11.9L140 9.7L141 9.7L142 11.3L143 7.5L144 9.7L145 8.9L146 8.9L147 5.5L148 8.9L150 9.5L151 9.2L152 5.6L153 11.2L154 10.1L155 11.2L156 13.9L157 7.6L158 7.1L159 9.0L160 7.7L161 9.2L162 8.3L163 8.3L164 12.4L165 10.8L167 9.8L168 11.5L169 8.3L170 9.1L173 0.2L174 0.0L175 0.6L181 0.9L182 0.0L183 1.1L184 0.5L186 0.3L188 1.2L192 0.1L193 0.6L194 0.1L197 0.2L199 1.0L200 0.3L201 0.9L202 0.4L203 0.9L204 0.0L205 0.3L206 0.0L207 0.6L209 0.2L210 0.6L213 0.4L215 1.4L216 0.4L219 0.6L220 1.1L224 0.0L228 0.2L230 0.9L231 0.1L232 0.7L236 0.3L239 1.2L240 0.4L241 0.2L244 0.7L249 0.2L252 0.5L253 0.1L255 0.7L259 0.1L260 1.1L261 0.5L265 0.7L267 0.1L268 0.7L270 0.0L271 0.6L272 0.1L276 0.3L277 0.0L279 0.8L280 0.2L282 0.1V-3Z"/>
<path transform="matrix(-1 -0.2869 0 -1 482.0 289.8)" d="M0 -3V3.3L1 3.9L7 3.4L8 4.1L10 4.1L11 4.6L12 3.7L14 4.7L15 3.9L17 4.0L18 3.5L19 4.3L20 3.5L21 3.6L22 4.6L25 4.5L26 4.0L27 5.0L29 4.2L31 4.5L32 5.3L33 4.3L39 4.7L41 4.1L42 4.6L44 4.3L46 4.9L50 4.2L51 4.8L52 4.1L53 5.0L54 4.6L55 4.9L56 4.2L57 4.9L62 4.3L64 5.1L66 4.3L68 5.0L69 3.9L71 3.6L72 4.3L76 3.0L78 3.6L80 2.1L82 2.7L83 1.5L84 1.9L86 1.7L90 0.3L91 0.8L94 0.1L96 1.2L97 0.0L99 0.4L101 0.1L102 0.8L103 0.8L104 0.0L110 0.7L111 0.2L112 0.6L113 0.0L115 0.6L116 0.0L117 1.1L118 0.2L120 1.1L122 12.2L123 14.5L125 10.2L126 15.9L127 8.5L128 11.9L129 10.2L130 12.6L131 9.4L132 13.3L133 10.7L134 13.9L135 12.8L136 13.4L137 12.5L138 10.3L139 12.0L140 10.6L141 11.2L142 14.4L144 10.3L145 12.3L147 11.8L148 14.7L149 8.1L150 10.6L151 11.7L152 9.5L153 11.5L154 17.7L155 12.2L156 11.6L157 14.0L158 14.7L159 11.7L160 14.5L161 13.6L162 11.4L163 11.0L164 11.4L165 12.7L166 15.1L168 8.0L169 14.7L171 6.4L173 1.0L174 0.5L176 1.3L178 0.2L179 1.2L183 0.7L185 0.8L186 1.3L187 0.8L188 1.3L189 0.5L191 0.6L193 1.5L194 0.6L196 1.4L197 0.1L198 1.3L199 0.4L201 1.1L203 0.4L204 1.5L205 0.1L206 1.1L212 0.5L215 1.4L218 0.9L219 1.8L220 0.5L223 1.2L226 0.4L228 1.6L229 0.9L234 1.3L235 1.1L236 0.0L237 1.2L238 0.5L239 1.1L243 1.0L244 1.8L245 0.8L246 0.5L250 1.4L254 0.3L257 0.9L259 0.6L261 1.1L266 1.0L267 0.9L268 0.0L270 0.9L274 0.8L275 1.3L277 0.6L281 1.1L282 0.4V-3Z"/>
<path transform="matrix(-1 -0.2869 0 -1 480.4 291.1)" d="M0 -3V5.2L5 5.1L8 5.3L9 5.8L10 5.4L12 6.0L13 5.5L14 5.8L15 4.6L16 5.4L18 5.9L20 5.7L21 6.3L22 5.3L23 5.9L24 5.1L25 6.3L27 6.4L28 5.7L31 5.9L32 6.5L33 5.4L34 6.5L35 5.2L37 6.6L38 5.7L40 6.0L41 5.4L42 6.1L43 5.8L44 6.3L45 5.5L48 6.6L54 5.5L55 6.4L58 6.8L60 5.8L63 6.5L64 6.0L66 6.3L69 5.4L71 5.9L73 4.8L74 5.0L80 3.8L82 2.4L83 3.0L84 2.4L85 2.8L86 1.6L92 1.4L93 0.3L95 0.9L101 0.1L103 1.1L107 0.9L108 1.6L111 0.0L112 0.7L113 0.4L114 1.0L115 0.1L116 1.2L119 0.8L120 1.5L122 17.9L123 15.5L124 19.2L125 14.5L126 17.9L127 16.9L128 12.7L131 18.1L132 16.6L133 17.0L134 14.4L135 14.9L136 12.4L139 18.7L141 14.7L142 14.7L143 18.9L144 12.8L147 15.9L148 20.1L149 21.8L151 12.4L152 13.5L153 17.3L154 15.7L155 20.9L157 10.7L158 13.2L159 10.6L160 13.2L161 13.8L162 18.8L163 10.8L164 16.2L165 14.4L166 8.2L167 17.2L168 10.8L170 15.7L171 12.9L173 2.4L175 1.2L177 1.3L178 2.0L180 1.4L181 2.1L182 0.9L183 1.4L184 0.6L186 1.5L189 0.9L191 1.2L192 0.7L193 0.8L194 1.9L196 1.2L199 1.1L200 2.1L201 1.6L204 1.7L207 1.0L208 1.8L212 1.2L215 2.0L216 1.3L217 1.6L219 1.1L220 0.4L221 2.1L222 1.8L223 0.7L225 1.6L226 0.9L229 1.7L232 1.5L233 2.0L236 1.1L238 1.0L244 1.8L245 0.8L247 1.3L248 0.7L249 1.7L250 0.6L252 1.4L253 0.9L256 1.4L257 0.9L258 1.6L265 1.2L266 1.8L267 1.2L269 1.5L270 0.9L273 1.6L275 0.6L277 1.1L279 0.7L280 1.4L282 1.1V-3Z"/>
<path transform="matrix(-1 -0.2869 0 -1 478.9 292.5)" d="M0 -3V7.7L3 7.1L4 7.8L5 7.1L7 7.7L8 6.4L9 7.5L10 7.8L11 7.0L12 8.0L16 7.3L18 7.9L19 7.0L20 7.7L23 7.8L25 8.5L26 7.7L29 8.1L31 7.7L32 8.1L35 7.9L38 8.2L39 8.7L43 8.3L45 8.8L47 7.9L51 8.4L57 7.7L59 8.7L62 7.5L63 8.7L64 8.0L65 8.7L66 7.9L68 7.8L69 7.2L70 7.5L71 6.8L72 7.2L77 5.4L78 5.6L84 2.8L88 2.4L89 1.7L95 0.2L97 0.2L98 0.8L100 0.6L101 1.0L104 0.0L106 1.0L110 0.6L112 1.0L114 0.0L115 0.8L117 1.4L119 0.2L120 1.8L121 9.8L122 26.8L123 16.7L124 20.8L125 22.7L126 17.7L127 21.5L128 21.0L129 18.0L130 21.7L131 16.9L132 18.1L133 22.3L134 17.4L135 15.1L136 22.2L137 16.6L138 17.2L139 22.6L140 13.3L141 13.7L142 20.5L143 19.2L144 19.0L146 14.5L147 18.2L148 16.8L149 17.5L150 21.1L151 19.7L152 22.7L154 14.9L155 22.8L157 21.9L159 16.3L160 20.6L161 17.7L162 18.6L163 20.5L164 12.1L165 21.0L167 17.3L168 21.3L170 23.1L173 3.2L176 1.6L178 2.7L179 1.7L180 1.8L181 3.1L184 1.8L185 2.5L187 1.9L188 2.5L189 1.9L190 2.8L191 2.3L195 3.2L198 2.3L200 2.4L201 3.2L202 2.0L203 3.1L205 1.6L206 2.6L207 2.1L209 2.4L211 1.6L212 2.3L215 2.5L217 2.1L218 2.7L220 2.1L222 3.0L227 1.8L228 3.4L229 1.9L231 2.8L234 2.3L235 3.1L237 2.6L240 2.6L242 2.0L245 2.4L246 1.7L247 1.9L248 1.5L249 2.1L251 1.2L252 1.8L257 2.7L258 2.3L259 2.6L260 1.7L261 2.3L262 1.9L263 2.9L266 1.8L269 2.0L272 1.2L275 2.3L276 1.9L278 2.7L281 2.2L282 1.6V-3Z"/>
<path transform="matrix(-1 -0.2869 0 -1 477.3 293.8)" d="M0 -3V7.5L1 6.9L3 8.0L5 7.0L7 8.4L8 7.1L10 7.8L12 7.4L13 8.0L14 7.6L15 8.2L17 7.4L18 8.2L19 7.6L20 8.0L21 7.6L22 8.2L23 7.4L24 8.0L25 7.2L26 7.8L30 7.6L31 8.4L35 7.9L40 8.9L42 7.4L43 8.8L45 8.1L48 8.8L51 7.7L52 9.0L53 8.2L55 7.8L57 8.0L58 8.5L59 8.0L61 8.6L62 8.0L63 8.1L64 7.3L65 8.2L67 8.9L68 7.5L70 8.3L71 6.8L72 7.6L76 5.4L78 5.8L80 4.1L83 3.2L85 3.2L86 2.0L89 1.9L90 1.2L91 1.9L93 0.5L99 1.2L100 0.2L102 0.9L103 0.0L105 0.5L106 1.3L107 0.4L108 0.8L110 0.1L112 0.8L114 0.4L116 1.0L119 1.0L120 2.6L122 17.3L123 21.5L125 23.3L126 22.9L127 18.4L128 21.9L129 21.1L130 15.5L131 24.4L132 22.0L133 24.9L134 25.2L135 16.8L136 23.1L137 18.6L138 28.4L139 23.5L140 24.5L142 18.9L144 19.1L145 29.1L146 26.9L147 20.9L149 25.6L150 17.4L151 27.4L152 21.2L153 27.7L154 26.8L156 22.3L158 16.5L159 22.1L160 20.7L161 17.7L163 24.2L164 22.4L165 29.4L166 20.6L167 28.9L168 18.9L169 15.7L170 18.6L173 4.5L174 3.4L175 3.1L176 3.5L177 3.2L178 4.1L179 4.3L180 3.3L181 3.8L185 3.8L187 3.0L188 3.5L191 3.4L192 2.9L194 3.9L199 3.1L200 3.6L201 3.4L202 4.3L205 3.6L208 3.9L209 3.2L212 3.6L213 3.2L214 3.6L215 2.8L218 3.2L219 3.8L222 2.8L224 3.7L225 3.0L227 4.1L228 3.5L229 3.9L230 2.9L232 3.5L233 2.8L235 3.3L240 3.2L241 3.8L243 3.5L244 4.0L245 3.2L248 3.0L249 2.4L252 2.9L254 2.3L256 3.9L257 2.9L258 2.9L259 4.2L261 3.7L264 4.5L265 4.0L266 4.4L267 3.7L271 3.2L272 3.7L275 3.2L276 4.4L277 3.6L278 3.5L279 4.2L280 3.4L282 3.2V-3Z"/>
<path transform="matrix(-1 -0.2869 0 -1 475.7 295.1)" d="M0 -3V5.9L1 5.1L3 5.9L6 5.4L7 4.6L8 5.8L11 5.1L13 6.2L19 5.7L21 5.9L22 6.5L24 6.0L25 6.5L27 5.9L28 7.1L31 6.1L36 6.0L37 7.0L39 6.4L47 7.0L48 6.2L49 7.0L50 6.1L51 6.5L52 6.3L54 7.2L55 6.5L57 6.8L59 6.3L60 6.4L61 7.3L62 6.3L64 6.7L68 6.3L69 5.7L74 5.7L80 3.1L82 3.5L84 2.1L85 2.3L88 1.1L91 1.6L92 0.7L95 1.2L97 0.5L99 0.9L101 0.3L102 0.9L103 0.1L104 1.3L105 0.0L106 1.5L107 0.1L108 0.2L109 1.1L110 0.5L113 1.1L114 0.0L116 1.1L117 0.2L118 1.0L119 0.6L120 2.5L121 18.9L122 26.6L123 28.3L124 23.3L125 23.5L126 27.9L127 29.8L129 19.7L130 28.6L131 20.6L133 36.4L134 27.3L135 28.0L136 25.2L137 29.2L138 25.4L139 17.8L140 28.3L141 17.3L142 29.5L143 25.8L144 25.4L145 27.6L146 20.6L147 27.0L148 26.8L149 31.8L150 28.5L151 33.4L152 32.6L153 22.2L154 23.3L155 18.4L156 32.9L157 21.7L158 28.2L160 22.0L161 23.7L162 22.0L163 30.7L164 29.0L165 19.9L166 36.2L167 24.4L168 24.7L170 33.8L171 16.6L173 5.9L175 4.6L176 5.3L177 4.3L180 5.3L182 3.9L183 4.7L185 4.4L187 5.7L188 4.6L189 5.5L193 4.5L194 5.2L195 5.1L196 6.0L197 5.3L198 5.6L200 4.7L201 5.3L202 4.4L203 5.0L205 4.0L206 4.8L207 4.3L208 5.0L209 4.5L210 4.9L212 4.2L214 4.2L215 5.3L217 5.1L218 5.9L219 5.2L221 5.9L222 5.0L223 5.4L224 4.3L225 4.3L226 5.1L228 4.5L229 5.3L230 4.5L231 5.0L233 4.1L238 5.5L242 4.1L244 4.4L245 4.0L247 4.6L251 3.9L252 4.3L255 3.8L256 4.5L257 4.5L258 5.6L260 4.8L262 5.1L264 6.0L268 4.6L269 3.7L270 4.6L272 4.8L273 4.3L277 5.3L282 4.7V-3Z"/>
<path transform="matrix(-1 -0.2869 0 -1 474.1 296.5)" d="M0 -3V3.1L2 4.5L4 4.0L6 4.7L8 4.0L9 5.1L12 4.7L13 5.3L14 4.4L16 4.3L17 5.4L19 4.1L20 5.0L22 4.7L24 5.1L25 4.7L29 5.4L30 4.8L32 4.9L37 5.6L38 4.5L39 5.5L40 4.7L43 5.7L44 5.7L45 4.3L47 5.7L48 5.0L50 5.1L51 5.7L52 4.9L55 5.2L56 5.8L58 5.9L59 5.1L61 6.0L62 5.9L63 4.7L66 5.7L68 4.8L73 4.7L74 3.9L75 4.8L77 3.2L79 3.4L83 2.2L85 2.3L90 0.3L91 0.9L92 0.4L94 1.2L95 0.4L97 0.0L101 1.0L103 0.4L108 0.0L111 1.0L112 0.0L113 1.5L115 0.6L116 1.1L118 0.6L119 1.3L120 4.2L123 40.3L124 30.2L125 36.7L126 31.5L127 39.6L128 37.5L129 36.9L130 24.8L131 31.9L132 35.1L133 30.3L134 37.8L135 26.8L136 32.2L137 25.8L138 35.5L140 32.9L141 34.4L142 31.1L143 37.3L144 33.3L145 24.2L146 37.3L147 41.5L148 28.6L149 34.3L151 23.8L152 23.6L153 30.8L154 26.8L155 31.5L156 26.4L157 27.0L158 32.4L159 44.0L160 38.2L161 24.5L162 37.3L163 31.8L164 20.9L165 31.2L166 30.6L168 39.9L172 12.2L173 8.8L175 6.6L176 7.4L177 6.3L179 7.1L181 6.9L182 6.2L183 6.7L187 6.0L190 7.5L194 6.4L195 7.2L198 5.4L200 5.2L201 6.2L203 6.4L204 6.1L205 7.2L209 8.1L212 6.1L218 7.0L219 6.5L220 7.6L223 6.4L225 7.2L228 6.6L229 7.2L230 6.4L232 7.2L233 6.1L234 6.8L235 6.2L236 7.4L237 6.7L238 7.3L240 6.8L241 7.6L243 8.1L244 7.3L245 7.9L246 6.7L248 5.8L250 5.7L252 6.5L254 5.4L255 6.4L256 5.6L257 6.5L263 9.1L264 8.5L265 6.8L266 7.0L269 5.5L270 6.0L271 5.2L272 5.7L275 5.2L276 6.0L278 5.9L280 7.4L281 5.8L282 6.2V-3Z"/>
<path transform="matrix(-1 -0.2869 0 -1 472.6 297.8)" d="M0 -3V5.0L1 5.3L3 5.0L5 5.7L6 5.1L9 4.8L10 5.3L13 5.2L15 6.0L16 4.9L17 6.1L19 5.5L20 6.0L21 5.4L22 6.3L24 5.7L26 6.6L27 5.9L28 6.5L29 5.8L30 6.3L31 5.7L32 6.2L34 5.4L35 6.4L36 6.5L39 6.2L43 6.7L45 6.4L46 6.9L47 6.2L48 6.0L49 6.3L50 5.8L51 5.9L52 6.8L53 6.1L55 6.0L56 7.0L57 5.8L58 5.8L59 6.7L60 6.1L61 6.9L63 5.7L66 6.8L67 5.4L69 6.0L74 5.2L76 4.2L77 4.3L78 3.5L79 3.7L80 3.1L81 3.5L83 2.2L85 2.0L86 2.4L88 1.4L89 1.6L91 0.9L92 1.5L93 0.6L95 1.0L97 0.2L98 0.6L99 0.3L100 1.3L103 0.2L105 1.0L106 0.3L107 0.6L108 0.0L113 0.9L114 0.5L115 1.2L116 0.7L118 1.2L119 0.3L120 5.6L122 44.3L123 41.5L124 31.1L126 44.8L127 27.5L129 45.5L130 32.2L132 46.8L133 35.4L134 29.6L136 45.2L138 34.0L139 43.7L140 30.9L141 46.7L142 37.1L143 43.1L144 29.5L146 47.3L147 31.9L148 31.7L149 29.3L151 42.6L152 35.7L153 37.2L154 40.3L155 45.3L156 35.4L158 37.2L159 26.3L160 23.6L162 35.6L163 33.0L165 37.8L166 29.5L167 34.5L168 35.0L169 51.0L170 27.4L171 33.0L173 11.1L174 10.4L177 10.9L178 11.6L181 9.8L182 10.7L184 10.3L185 9.5L186 9.6L190 11.4L192 10.6L193 10.7L194 13.4L195 11.1L197 9.8L200 10.3L204 8.8L206 9.9L207 9.8L208 11.0L209 10.7L211 12.0L212 10.7L213 11.9L214 10.5L217 9.8L219 11.1L220 11.3L222 11.3L223 10.6L224 10.7L225 9.9L226 10.8L230 11.8L235 11.3L236 10.5L238 10.7L239 10.4L240 9.2L241 9.5L243 11.5L244 11.2L246 9.7L247 9.7L249 8.6L251 8.1L253 9.2L254 7.9L255 7.8L256 8.4L259 8.7L260 10.1L262 11.1L264 11.3L265 11.0L267 11.6L269 10.6L272 10.5L274 9.6L275 10.2L276 9.8L278 10.5L279 9.7L281 10.5L282 10.2V-3Z"/>
<path transform="matrix(-1 -0.2869 0 -1 471.0 299.1)" d="M0 -3V7.4L3 6.9L6 7.8L7 7.4L8 8.1L11 7.5L12 8.2L13 7.3L15 8.2L17 7.8L18 8.5L20 7.3L22 8.3L23 8.0L24 8.7L25 8.3L26 8.7L27 8.0L28 8.1L29 8.9L30 8.8L32 8.0L36 9.1L37 8.1L38 8.5L40 7.8L42 9.7L43 8.6L45 9.2L47 8.5L50 8.3L51 9.2L52 8.7L54 9.1L55 8.6L58 8.9L59 8.3L60 8.7L61 8.2L63 8.8L65 8.3L66 9.0L67 9.0L69 7.9L71 8.1L73 7.0L76 6.7L77 5.8L79 5.3L81 3.7L83 4.0L87 2.7L88 3.1L90 1.6L91 1.7L92 1.1L93 1.7L96 0.1L97 1.5L100 0.6L101 0.9L102 0.0L104 0.8L106 0.2L107 1.0L108 0.6L109 1.0L111 0.3L112 1.0L113 0.3L118 1.6L119 1.0L120 6.3L122 39.2L123 34.5L125 49.9L126 45.3L127 35.9L128 35.5L129 47.0L130 35.9L131 43.9L133 48.5L134 43.5L135 29.3L136 30.5L137 43.8L138 45.8L139 59.5L140 46.7L141 44.5L142 53.7L143 38.4L144 35.9L145 30.2L146 33.7L147 26.6L148 37.9L149 34.0L150 42.7L152 45.5L153 40.1L154 43.6L155 39.3L156 47.0L157 44.8L158 40.1L159 25.2L160 43.6L161 44.5L162 32.3L163 46.0L164 43.3L165 46.1L166 41.3L168 43.4L169 45.6L171 33.5L173 15.6L174 13.2L177 14.1L178 13.2L179 13.1L181 15.5L182 15.5L184 17.4L186 16.2L187 16.7L188 14.0L189 13.9L190 15.2L192 14.6L194 15.5L195 15.0L198 14.7L200 16.5L201 14.2L202 13.6L203 14.4L204 13.7L207 15.6L208 14.5L210 14.8L211 13.5L212 16.0L213 13.2L214 13.1L216 14.5L218 14.4L220 15.0L221 14.2L222 14.7L223 14.1L226 13.9L227 14.4L228 13.9L229 15.0L232 15.3L234 14.3L238 15.5L239 14.6L242 14.1L243 15.6L244 14.4L245 14.6L248 12.3L250 12.1L252 10.8L253 12.0L254 10.4L255 10.1L256 11.7L257 11.7L258 12.4L259 14.9L260 15.4L262 18.7L263 19.0L265 17.8L269 12.6L272 13.2L273 14.1L274 13.9L275 12.7L276 14.1L278 14.0L282 11.2V-3Z"/>
<path transform="matrix(-1 -0.2869 0 -1 469.4 300.5)" d="M0 -3V8.7L1 8.9L2 8.5L3 9.2L6 8.5L7 10.2L9 8.6L12 9.2L13 8.6L14 9.3L15 8.9L19 9.9L20 9.0L24 9.9L25 9.1L27 9.9L32 10.0L34 10.8L35 9.9L37 10.6L41 9.8L44 10.5L45 9.8L48 10.2L49 9.4L50 10.5L59 10.2L60 9.7L62 10.5L65 10.5L68 9.6L69 10.1L70 9.2L71 9.4L72 8.5L76 7.8L77 6.7L78 6.8L79 5.5L82 5.3L84 3.2L85 3.2L87 2.3L88 2.8L90 2.4L91 0.8L93 1.5L94 0.0L95 0.8L100 0.8L101 1.4L102 0.5L104 1.2L106 0.5L114 1.2L115 0.9L117 1.9L118 0.6L119 1.6L120 8.5L122 42.5L123 39.4L124 43.2L125 36.5L126 56.5L128 24.9L129 71.9L130 42.4L131 34.3L133 54.6L134 41.2L135 41.3L137 54.5L138 52.7L139 59.1L140 40.0L141 46.2L142 47.0L143 45.8L144 57.6L145 29.9L146 36.5L147 31.9L148 43.1L149 44.9L150 41.6L151 54.8L152 46.0L154 35.7L155 55.7L156 47.0L157 44.4L158 48.7L159 40.2L160 40.5L161 37.4L162 45.7L163 45.1L164 42.1L165 34.0L166 53.7L167 50.5L168 42.2L169 54.7L170 47.4L171 43.6L172 25.2L173 22.1L174 22.1L175 18.4L176 17.9L178 18.2L179 20.7L180 20.1L181 25.5L182 20.6L184 19.5L185 23.5L186 24.7L187 20.7L189 20.0L193 20.5L195 18.7L196 19.0L197 20.5L199 21.5L200 23.8L201 21.4L202 22.2L203 21.9L204 22.3L206 20.1L207 20.4L208 19.0L209 18.8L210 19.1L212 21.3L213 21.1L214 22.0L215 20.5L216 20.2L218 18.5L220 19.6L224 19.7L225 20.1L226 20.1L227 18.8L229 18.0L232 21.8L233 22.0L234 23.4L235 23.2L238 20.6L239 21.0L240 22.3L243 22.4L245 21.5L246 21.7L247 20.6L250 14.4L251 14.2L252 14.9L255 20.3L257 22.4L258 20.6L259 21.5L260 21.1L261 21.6L262 21.4L263 22.0L266 19.0L267 18.9L268 19.7L272 16.5L278 22.5L279 22.1L282 18.1V-3Z"/>
<path transform="matrix(-1 -0.2869 0 -1 467.9 301.8)" d="M0 -3V7.9L2 7.1L4 7.5L6 7.2L8 8.0L12 7.6L13 8.0L15 8.0L16 9.2L18 7.7L20 8.5L21 8.1L23 8.5L24 8.0L26 9.2L29 8.5L31 9.0L33 8.2L35 8.7L36 8.2L37 8.9L38 8.2L39 9.6L40 8.6L45 8.4L47 9.0L48 8.4L49 9.1L51 8.6L55 8.7L56 9.2L60 8.4L62 8.5L64 9.1L67 8.3L68 9.1L70 8.2L72 8.2L74 6.6L76 6.9L78 6.2L79 4.9L81 4.8L82 3.7L84 3.6L87 2.1L92 1.9L94 0.4L97 0.9L98 0.2L99 1.4L102 1.3L104 0.7L105 1.3L108 0.4L109 1.1L110 0.7L113 1.1L114 0.6L115 1.6L118 1.3L119 2.0L120 10.9L121 38.8L123 48.9L124 45.0L126 47.7L127 37.2L128 51.1L130 43.2L132 43.5L134 38.3L135 59.4L136 38.7L137 61.9L140 36.1L141 57.3L142 40.7L143 66.0L144 49.1L145 59.3L146 53.6L147 41.6L148 48.3L149 32.5L150 58.0L151 50.3L152 47.0L153 54.2L155 42.4L156 40.7L157 44.7L158 40.1L159 58.5L160 47.1L161 49.0L162 53.6L163 47.1L164 59.6L165 60.7L166 40.5L167 41.3L168 43.5L169 53.7L171 35.2L172 34.6L173 26.9L174 27.0L175 27.8L176 29.9L177 29.1L178 30.2L179 29.1L181 23.8L182 24.8L183 27.3L184 31.7L185 26.1L186 25.2L187 29.2L188 25.2L189 29.5L190 29.3L193 30.2L194 29.9L195 28.3L197 27.8L198 28.9L200 28.4L202 26.3L203 29.1L204 25.6L205 28.8L207 29.8L209 29.9L211 30.6L212 29.1L214 29.6L215 31.4L216 27.0L217 28.3L219 28.3L220 27.5L221 32.8L222 26.6L224 24.7L225 25.2L226 28.7L227 30.3L229 32.1L230 32.0L231 31.2L234 26.7L235 27.0L237 28.9L239 27.0L240 24.3L243 24.7L246 21.9L250 23.1L251 22.1L252 22.6L253 22.0L257 26.1L259 26.3L261 27.7L263 32.2L264 32.5L267 27.8L270 25.5L273 25.3L275 26.1L277 28.1L279 32.6L280 31.7L281 32.1L282 31.7V-3Z"/>
<path transform="matrix(-1 -0.2869 0 -1 466.3 303.2)" d="M0 -3V4.7L1 5.3L2 5.0L3 6.1L6 5.1L10 5.5L13 6.4L15 5.2L17 6.3L18 5.8L19 6.5L20 6.1L22 6.6L24 6.2L25 6.9L26 6.0L27 5.8L29 6.0L31 6.9L33 6.1L34 6.6L36 6.4L38 7.5L40 6.2L41 7.0L42 6.2L43 6.9L44 6.5L45 7.0L46 6.5L48 7.1L51 6.6L53 7.2L54 6.4L55 6.7L56 6.2L57 7.1L60 7.1L61 6.6L64 7.2L65 6.2L66 6.0L67 6.9L72 6.1L79 4.2L80 3.5L81 3.6L83 2.6L84 3.1L90 1.0L97 0.9L98 0.2L101 0.8L102 0.2L104 1.1L105 0.1L106 1.6L107 0.6L108 0.5L109 0.9L111 0.7L112 1.3L114 1.2L116 1.9L117 1.1L119 1.3L121 38.6L123 66.0L124 38.4L126 54.5L127 52.9L129 33.9L130 61.0L131 58.9L132 49.5L133 51.7L134 37.4L135 39.7L136 67.1L137 59.4L138 43.0L139 43.5L140 40.9L141 70.5L142 48.7L143 53.2L144 24.9L146 60.7L147 46.1L149 61.0L150 47.9L152 57.1L153 59.2L154 36.0L155 41.3L156 62.9L157 51.3L158 70.8L159 33.9L160 51.0L161 50.6L162 69.0L163 78.7L164 52.6L165 70.1L167 43.7L168 52.7L169 56.1L170 40.5L171 50.6L172 38.5L173 37.6L174 35.5L175 40.9L176 39.4L177 41.6L179 42.3L180 40.4L181 40.6L182 35.7L184 33.6L186 33.4L187 34.0L188 33.1L189 35.6L191 33.3L192 37.1L194 35.9L195 37.4L197 34.6L200 33.6L203 35.5L204 41.2L206 40.2L209 45.0L210 44.4L212 41.9L213 41.6L215 38.8L216 39.7L219 37.5L220 37.6L221 36.1L222 40.0L223 34.7L224 34.1L225 35.3L227 44.0L228 45.8L229 44.6L231 39.8L232 39.2L233 39.7L235 44.4L236 43.1L238 43.7L242 39.0L245 32.4L247 32.8L250 28.3L251 29.4L253 34.3L254 34.3L255 33.4L256 34.0L260 39.8L261 39.7L262 38.7L263 40.5L264 40.1L265 38.6L267 38.1L268 37.3L270 30.9L271 30.1L273 32.2L275 37.5L277 39.4L278 39.4L280 37.6L282 36.8V-3Z"/>
<path transform="matrix(-1 -0.2869 0 -1 464.7 304.5)" d="M0 -3V5.1L1 5.4L2 4.7L4 4.6L7 5.3L8 4.5L9 5.8L10 5.3L12 5.8L13 5.2L16 5.6L20 5.3L21 5.7L22 5.5L23 6.4L24 5.7L26 6.0L27 5.2L28 5.9L32 6.3L33 5.6L34 6.4L35 5.8L38 6.5L40 6.0L41 6.6L45 6.6L46 6.1L51 6.7L59 6.6L60 7.2L61 6.3L62 7.0L63 6.5L66 6.6L68 6.0L71 5.8L72 6.6L73 5.7L75 5.1L76 4.0L77 4.6L80 3.4L83 3.2L85 1.8L86 1.9L87 2.7L88 1.5L91 1.3L92 0.7L93 1.3L95 0.5L96 1.1L98 0.4L101 1.4L102 0.8L105 0.9L106 1.4L108 0.9L110 1.6L111 0.8L112 1.4L113 1.0L114 1.8L115 1.7L116 0.6L117 2.1L118 1.6L119 2.2L121 41.9L123 47.6L124 63.6L125 63.7L126 61.2L127 66.4L128 48.3L129 62.2L130 51.6L132 47.5L133 70.9L134 55.6L135 54.9L136 57.3L137 29.0L138 38.3L139 40.5L140 54.4L141 43.4L142 47.5L143 45.5L144 47.1L145 45.0L146 57.1L147 46.3L148 44.3L149 63.3L150 46.5L151 45.8L152 43.2L153 69.3L154 47.7L155 50.6L156 43.6L157 56.8L159 65.1L161 33.3L162 57.6L163 60.2L164 55.6L165 46.6L166 64.4L167 42.4L168 64.4L169 45.8L170 47.5L171 46.2L172 49.8L173 45.4L174 46.3L176 50.2L177 50.0L179 47.7L180 50.8L181 46.5L182 47.4L183 47.6L185 49.4L186 48.9L187 50.7L189 47.8L190 49.4L191 46.9L193 49.8L194 49.8L195 52.6L196 52.9L197 49.0L199 49.1L202 52.1L203 52.3L206 44.7L207 46.1L209 51.1L210 52.3L213 48.3L214 51.4L215 49.5L216 50.7L217 51.0L218 52.5L219 51.8L220 49.4L221 48.5L222 49.8L223 50.1L225 46.6L226 48.5L227 42.5L228 47.4L229 42.1L231 45.1L233 46.6L234 45.5L235 50.8L236 50.0L237 47.7L238 48.7L239 48.6L240 53.1L241 46.4L243 46.9L245 40.5L246 39.0L247 38.7L249 40.9L251 42.1L252 44.0L253 43.6L255 41.0L256 41.9L258 44.8L260 46.4L262 50.6L263 54.8L264 56.3L265 54.4L267 47.3L270 41.6L272 43.4L275 50.3L278 44.9L279 44.2L281 46.0L282 45.1V-3Z"/>
<path transform="matrix(-1 -0.2869 0 -1 463.1 305.8)" d="M0 -3V6.2L1 7.0L3 6.7L4 5.9L6 7.2L9 6.4L11 7.6L12 6.7L13 7.7L16 6.8L17 7.7L18 8.0L20 7.1L21 7.5L27 7.3L31 8.2L32 7.0L33 7.5L35 7.3L37 8.1L39 7.4L41 8.1L43 7.1L44 8.6L45 7.9L47 8.4L49 7.4L50 8.3L52 7.5L53 8.5L54 7.8L55 8.2L58 7.4L60 7.9L62 7.7L64 8.3L65 7.9L66 8.4L67 7.8L70 7.1L71 7.5L74 6.1L76 6.6L80 5.0L82 3.7L84 3.6L85 2.6L87 2.4L88 1.8L89 2.4L91 1.9L92 1.0L93 1.5L98 0.7L99 1.3L100 0.8L101 1.4L102 1.2L104 1.9L105 1.2L106 1.4L107 1.0L110 1.9L113 1.5L114 2.0L117 2.1L118 2.8L119 2.4L122 59.3L123 48.2L124 51.5L125 70.1L126 41.6L127 40.0L129 56.3L131 44.4L132 47.7L133 45.4L134 52.7L135 48.0L136 59.1L137 53.2L138 36.9L139 45.9L140 76.4L141 63.2L142 56.5L143 36.3L144 56.8L145 57.3L146 51.5L147 52.7L148 62.3L149 39.6L150 62.8L151 65.8L152 52.4L153 53.0L154 48.7L155 57.0L156 52.5L157 33.3L158 73.0L160 50.8L161 55.1L162 54.7L163 62.6L164 50.8L165 48.7L166 42.5L167 61.8L168 51.1L169 56.2L170 41.4L171 46.0L173 47.4L174 46.6L175 44.6L177 49.1L178 49.4L179 47.8L180 47.1L181 45.1L182 45.1L185 42.9L186 42.0L187 39.9L188 44.2L189 39.6L190 44.3L191 43.9L193 50.3L194 47.1L197 45.3L198 48.1L199 44.1L200 46.6L203 45.5L204 45.9L205 44.8L206 44.7L208 46.7L209 48.6L210 49.1L211 48.2L212 48.5L213 47.3L215 46.9L218 48.0L221 47.1L222 48.1L223 52.6L226 44.5L227 43.1L229 50.4L230 62.8L231 52.2L232 50.7L234 49.4L235 46.6L236 45.5L237 51.7L238 44.1L239 44.2L240 43.5L241 43.8L242 42.8L244 44.2L245 44.2L246 42.4L249 32.7L250 32.2L253 35.3L254 38.0L255 38.7L256 41.0L257 42.1L258 45.2L263 54.8L264 55.1L267 45.4L270 39.6L271 40.8L272 40.7L275 46.8L276 47.1L277 46.7L282 43.4V-3Z"/>
<path transform="matrix(-1 -0.2869 0 -1 461.6 307.2)" d="M0 -3V8.8L2 9.0L4 8.5L5 8.8L6 8.2L8 9.1L10 8.3L11 9.4L14 9.2L17 9.7L19 9.4L20 9.9L21 9.1L22 9.8L23 9.3L24 9.6L25 9.3L29 10.1L30 9.3L36 10.3L39 9.2L42 10.1L45 9.6L46 10.3L47 9.7L48 9.8L49 10.9L51 9.6L61 9.8L63 10.5L65 9.5L66 9.9L68 9.0L72 9.0L73 8.3L74 8.3L76 6.5L78 6.7L83 4.4L84 4.9L86 3.5L87 3.8L88 2.3L89 3.5L90 2.2L91 2.0L92 2.9L93 1.9L95 1.6L96 1.9L97 1.2L99 2.6L100 1.5L102 2.7L105 1.7L107 2.6L109 1.8L110 2.8L111 2.6L114 3.8L116 3.2L118 4.4L119 4.0L122 58.7L125 48.4L126 35.7L127 49.0L128 50.7L129 44.8L130 67.6L132 43.3L133 51.3L135 45.5L136 61.0L137 40.4L138 40.3L139 50.6L140 41.2L141 63.1L142 39.7L143 57.7L144 58.8L145 56.5L146 40.1L147 42.9L148 48.7L149 60.7L150 65.2L151 51.1L152 54.9L153 44.6L154 59.6L155 44.4L156 49.3L157 39.1L158 52.3L160 54.8L161 60.4L162 59.5L163 54.9L164 62.1L165 40.9L166 42.1L167 41.1L168 57.5L169 43.7L170 41.5L171 43.8L172 49.6L173 41.5L174 39.7L179 36.4L182 40.5L184 41.5L186 45.5L187 46.3L188 53.1L189 44.5L192 40.2L196 42.0L198 42.1L199 39.8L205 45.0L208 40.0L209 39.7L211 40.1L214 38.2L218 45.2L219 45.4L221 44.5L222 45.2L223 45.1L225 41.8L226 40.9L227 40.7L228 41.7L229 41.2L232 45.8L233 45.8L234 44.3L236 44.6L238 40.9L239 40.4L241 42.1L242 42.0L244 40.4L246 39.5L247 40.0L249 35.5L251 33.9L254 36.8L256 35.7L257 36.9L258 38.8L263 56.6L265 46.3L266 44.0L267 44.5L268 42.3L270 35.1L272 33.7L275 37.8L276 37.0L277 36.9L278 35.7L279 36.3L280 35.9L281 36.5L282 35.6V-3Z"/>
<path transform="matrix(-1 -0.2869 0 -1 460.0 308.5)" d="M0 -3V7.8L1 8.7L2 8.6L3 9.1L5 8.7L6 9.3L7 8.8L9 9.9L10 9.2L11 9.8L13 9.3L14 9.7L15 9.2L18 10.0L22 9.5L26 10.6L27 9.9L31 10.5L32 10.1L33 10.7L34 9.6L35 10.3L38 10.0L39 10.7L42 10.2L43 10.8L46 10.4L47 11.1L50 10.4L52 10.7L54 9.7L55 10.7L57 10.5L59 11.0L60 9.9L61 10.9L63 11.0L64 10.2L66 11.1L68 10.1L72 9.6L74 8.4L75 9.0L76 8.2L79 8.1L82 6.4L84 6.5L86 5.1L87 5.9L89 5.0L90 5.5L92 4.6L95 4.3L97 4.9L99 4.5L101 5.7L102 4.9L103 4.8L104 5.9L106 6.1L108 4.8L109 5.7L110 4.9L111 6.2L118 8.0L119 8.9L122 56.5L123 51.6L124 58.2L125 42.5L126 45.1L127 46.2L128 36.3L129 52.9L130 42.7L133 58.4L134 44.2L135 43.3L136 55.2L137 52.9L138 45.9L139 55.2L140 44.2L141 47.4L142 63.7L143 61.8L144 46.1L145 50.7L146 47.1L147 39.4L148 48.7L149 70.6L150 41.5L152 54.8L153 76.6L154 51.2L155 49.0L156 62.1L157 42.6L158 54.5L159 51.9L160 43.9L161 46.9L163 43.2L164 57.3L165 56.8L166 43.7L167 54.0L168 29.1L169 51.6L170 50.8L171 41.3L172 43.9L174 38.0L176 36.1L177 40.2L178 35.4L180 35.0L181 32.8L183 35.3L184 40.7L185 37.7L188 37.0L189 35.7L190 37.0L191 36.5L192 37.7L193 37.6L194 38.3L198 35.4L199 39.3L200 35.8L202 38.0L204 41.6L207 35.9L208 37.5L209 37.6L211 40.8L213 42.8L215 40.8L216 41.3L217 40.9L219 37.6L220 39.2L221 36.4L222 36.9L223 43.3L224 36.5L225 36.9L226 35.9L227 39.0L228 35.3L233 35.0L235 39.8L237 42.6L238 37.9L240 36.3L241 36.6L243 35.7L244 34.1L247 34.0L252 27.3L253 27.3L254 27.5L256 30.9L259 40.2L263 47.1L264 46.4L266 41.2L268 38.5L269 35.5L270 34.1L273 35.5L274 37.2L276 37.4L277 36.8L280 32.6L281 31.9L282 31.9V-3Z"/>
<path transform="matrix(-1 -0.2869 0 -1 458.4 309.9)" d="M0 -3V6.7L6 9.3L11 10.4L13 10.0L15 11.4L16 11.5L17 10.8L19 11.4L21 11.5L22 10.8L26 11.8L27 11.0L28 11.5L29 11.1L30 11.9L31 11.9L32 11.0L34 11.8L36 11.5L38 12.1L41 11.9L42 12.3L46 11.6L49 12.5L50 11.9L51 12.3L52 11.6L53 12.1L55 12.0L56 12.7L57 12.0L60 12.6L61 12.0L62 12.5L63 11.9L65 12.5L68 12.5L69 12.0L72 13.2L73 12.0L74 12.8L75 13.0L77 11.8L78 12.9L81 11.7L83 12.7L85 12.3L86 13.0L87 12.3L90 13.5L93 13.6L94 14.1L95 15.4L96 14.8L97 15.1L102 18.1L104 18.6L105 19.6L107 19.8L108 21.8L109 21.5L110 23.2L111 23.7L112 26.4L119 39.6L121 65.0L122 36.8L123 57.0L125 46.0L126 61.7L127 37.2L128 51.0L129 57.6L130 37.4L131 54.9L132 42.8L133 65.5L134 48.4L135 55.1L136 35.1L137 47.7L138 47.2L139 39.2L140 50.1L141 40.7L142 49.8L143 43.6L144 44.9L145 35.8L146 39.2L147 34.2L148 48.4L149 39.2L150 41.5L151 37.3L152 40.2L153 37.3L154 39.4L155 58.8L156 40.6L157 48.3L158 37.1L159 34.8L161 46.9L162 48.9L163 40.7L164 37.0L165 55.0L166 35.2L167 50.2L169 39.6L170 49.8L171 39.5L172 34.3L173 36.1L174 30.4L175 29.9L176 28.5L178 29.6L180 33.9L181 33.7L184 30.9L186 32.8L187 32.8L189 35.2L191 31.4L192 31.4L195 35.7L196 34.8L199 28.8L200 28.8L201 31.6L204 28.0L206 28.6L207 30.4L209 32.2L210 35.5L211 32.6L212 32.6L213 33.2L214 39.6L216 28.6L217 31.0L218 26.6L219 27.9L221 33.4L222 33.8L223 35.0L224 32.6L225 32.2L226 30.7L229 33.7L230 33.3L231 34.3L234 30.0L235 31.0L237 28.9L239 32.5L240 35.5L241 33.8L242 33.4L243 34.2L244 33.9L245 32.8L247 27.9L250 25.1L252 24.2L253 25.9L255 26.6L256 28.6L257 29.1L258 29.2L259 28.5L260 28.4L263 36.2L266 34.4L267 31.4L270 27.4L271 26.7L272 24.3L274 22.8L276 29.1L278 33.3L280 31.0L281 32.5L282 32.3V-3Z"/>
<path transform="matrix(-1 -0.2869 0 -1 457.1 310.9)" d="M0 -3V6.3L1 6.3L2 7.3L3 7.2L6 9.3L8 9.7L9 11.1L10 11.3L11 10.9L14 12.1L16 12.1L17 11.6L19 12.5L20 11.3L22 12.5L24 12.1L26 12.6L28 12.4L29 12.9L31 12.8L32 12.3L33 13.1L35 13.2L36 12.2L38 13.4L41 13.2L43 13.8L44 13.1L47 12.7L50 14.2L51 13.5L52 13.7L53 12.8L54 13.4L58 13.8L59 14.4L62 13.5L63 14.3L65 13.5L67 14.3L69 14.2L70 15.3L72 14.2L73 15.4L74 14.3L75 15.4L78 15.2L80 16.1L81 15.5L84 17.0L85 16.7L86 17.3L88 17.6L89 18.4L90 17.6L91 18.8L95 21.4L96 22.7L97 22.9L98 23.7L99 23.1L101 24.3L102 25.0L105 29.2L106 29.3L107 31.4L108 31.8L114 45.6L118 57.8L119 62.9L121 89.5L122 37.8L123 51.3L124 42.9L125 45.6L126 55.1L127 27.7L128 51.8L129 48.1L130 39.9L132 56.7L134 35.6L135 37.7L137 46.6L138 36.3L139 46.2L141 35.2L142 49.5L143 43.8L144 45.7L145 31.7L146 35.4L147 56.4L148 31.2L149 39.1L150 38.4L151 54.3L152 35.0L153 34.4L154 53.1L155 45.9L156 53.3L157 52.4L158 64.6L159 36.9L160 42.3L161 39.7L162 51.8L164 40.9L165 51.5L166 40.6L167 39.2L168 33.6L169 38.6L170 38.9L171 30.9L172 35.0L173 29.7L174 27.8L175 27.0L176 28.6L177 26.8L180 29.5L182 28.8L183 27.5L185 27.6L186 28.0L187 29.3L188 29.6L189 32.0L190 29.2L193 29.6L194 31.0L197 28.4L198 26.5L199 28.4L200 26.8L201 26.9L203 26.0L204 28.7L205 26.1L206 25.4L207 26.6L208 29.6L210 31.5L211 30.7L212 28.7L213 28.1L214 28.2L215 32.6L216 28.8L219 28.6L221 26.8L222 26.7L223 28.9L226 28.0L228 28.7L230 28.1L231 26.5L232 26.3L234 25.0L236 29.8L237 30.5L238 29.6L239 29.6L240 25.9L242 26.6L244 26.3L245 25.5L247 21.9L250 19.9L251 20.2L252 21.5L255 20.3L257 24.7L258 28.7L259 30.0L262 30.3L263 32.6L265 32.2L266 33.0L267 31.6L269 24.8L270 22.8L271 22.0L277 24.5L279 27.4L280 26.6L281 26.9L282 26.1V-3Z"/>
<path transform="matrix(-1 -0.2869 0 -1 455.3 312.5)" d="M0 -3V6.8L1 6.3L2 7.2L3 6.7L6 7.7L7 8.8L8 8.2L11 9.1L13 9.0L14 9.6L16 9.3L17 10.2L18 9.6L20 10.1L24 9.7L25 10.4L27 9.7L29 10.2L31 9.7L34 10.1L35 10.9L36 9.8L37 10.8L39 10.7L40 10.0L41 10.0L42 10.9L43 10.7L44 11.2L48 10.6L51 11.5L52 10.9L55 11.7L57 11.0L59 10.9L60 11.6L61 10.9L64 11.2L66 10.7L68 11.8L69 11.0L71 11.5L72 11.3L73 12.0L76 11.4L81 12.3L85 11.9L88 12.9L89 12.7L90 13.4L93 13.4L94 14.5L97 13.7L99 14.8L100 13.9L102 14.3L103 15.3L106 15.3L107 16.8L108 16.8L111 19.3L113 22.4L114 22.7L116 25.3L119 31.0L121 54.7L122 30.0L123 51.3L124 44.9L125 27.4L126 41.2L127 43.3L128 27.8L129 41.5L130 44.0L131 36.2L132 35.2L133 30.6L134 32.4L135 31.9L136 37.9L137 35.1L138 37.1L140 45.9L141 43.8L142 25.1L143 46.2L144 39.3L145 43.4L146 61.8L147 43.5L148 43.3L149 39.1L150 38.9L151 30.5L152 37.7L153 38.6L154 32.3L156 44.0L158 32.9L159 30.2L160 42.0L161 32.9L162 38.6L163 39.9L164 43.2L165 48.8L166 29.3L167 33.8L168 51.0L169 24.9L170 32.0L172 28.3L173 22.0L174 22.0L175 21.1L179 21.2L180 21.9L181 24.2L182 21.4L184 22.7L186 20.3L188 20.5L189 20.2L192 22.8L194 22.3L195 22.9L196 22.6L198 20.0L200 20.1L201 21.6L202 25.3L204 20.7L206 18.4L207 19.9L208 19.1L209 21.6L210 18.6L211 18.2L212 19.8L216 19.2L217 20.4L219 18.6L221 20.1L222 21.7L224 23.5L226 22.6L227 24.7L228 21.2L229 22.1L230 22.3L231 23.9L234 23.9L235 26.1L236 24.4L237 24.2L239 22.8L240 23.1L242 20.9L244 21.0L245 19.8L248 18.9L249 17.1L251 15.2L253 15.4L254 16.2L255 16.3L256 19.1L258 22.0L259 22.8L260 22.7L261 23.7L263 24.4L265 20.6L266 20.4L268 18.2L269 19.1L270 18.6L271 20.4L275 19.3L276 20.1L278 23.2L280 20.5L282 20.6V-3Z"/>
<path transform="matrix(-1 -0.2869 0 -1 453.7 313.9)" d="M0 -3V8.2L3 8.5L4 9.2L6 8.9L8 9.6L10 9.5L11 10.5L13 10.6L16 9.5L17 11.0L18 9.7L19 10.9L21 10.0L22 10.5L24 10.4L25 11.2L28 10.7L29 11.1L34 10.7L36 11.4L38 11.3L39 10.7L41 11.5L42 11.0L43 12.1L45 11.0L47 12.0L49 10.8L50 11.9L52 11.0L54 11.8L55 11.1L56 11.8L58 11.2L62 11.8L63 11.3L64 11.9L65 10.7L67 11.4L68 10.8L69 11.3L71 11.1L73 12.0L76 10.8L77 12.2L78 11.4L79 12.2L81 11.7L84 11.9L86 11.1L88 12.2L90 12.0L92 12.8L93 12.2L95 12.7L96 11.9L97 12.4L98 11.6L101 11.7L103 10.9L104 11.2L106 10.4L108 10.5L112 12.3L114 14.8L115 14.8L116 16.6L117 16.3L119 19.2L120 26.1L121 40.9L122 32.3L123 38.1L124 39.6L125 45.2L126 27.8L128 41.1L129 29.2L130 29.3L131 31.0L132 38.1L133 32.9L134 40.8L135 31.6L136 32.3L138 42.0L139 37.0L140 43.7L141 39.7L142 28.3L143 39.7L144 34.6L145 42.5L147 38.6L148 30.5L149 36.5L150 32.9L151 31.5L152 27.6L153 38.5L154 37.8L155 35.3L156 23.9L157 33.4L159 37.1L160 27.0L161 35.3L162 32.8L163 35.6L164 24.2L165 26.7L166 36.4L167 36.1L168 27.9L169 31.5L170 48.1L171 30.7L172 22.2L173 18.6L174 17.1L176 16.6L177 18.3L178 15.6L181 16.1L182 14.9L183 15.4L184 16.5L185 16.4L186 17.1L187 20.2L188 17.1L191 16.4L193 16.7L194 14.7L196 14.3L197 15.3L198 15.3L201 17.9L203 18.0L204 16.9L205 16.8L207 15.3L209 14.6L210 15.2L212 20.9L213 18.5L214 21.0L215 19.9L216 17.3L217 17.8L218 15.9L220 15.5L222 16.5L225 15.7L226 18.2L228 16.3L230 17.8L231 17.1L232 17.2L234 15.7L235 15.8L236 16.3L237 18.6L238 17.8L239 20.0L242 20.2L244 17.6L245 15.1L246 15.4L247 14.1L248 14.4L249 14.0L250 14.7L251 13.6L252 13.2L253 14.8L255 13.5L258 16.9L259 17.1L261 19.2L263 20.3L265 18.3L267 14.9L269 13.9L272 15.3L274 14.1L276 16.2L277 16.3L279 18.5L282 17.8V-3Z"/>
<path transform="matrix(-1 -0.2869 0 -1 452.1 315.2)" d="M0 -3V9.1L5 9.5L6 10.5L8 10.0L11 10.8L14 10.2L15 10.4L16 11.3L17 10.9L23 11.4L25 10.9L26 11.5L28 10.5L31 11.9L32 11.0L36 11.3L38 12.3L41 11.2L44 12.0L46 11.7L48 12.2L50 11.4L54 12.3L55 11.7L56 12.0L57 11.5L58 12.0L66 11.5L68 11.9L69 11.3L70 12.1L71 11.7L72 12.1L73 11.3L78 11.8L80 11.5L84 12.1L86 11.4L87 11.9L91 11.6L94 12.2L95 11.3L96 11.7L97 11.2L98 11.4L99 10.0L101 10.1L102 9.0L103 10.2L104 8.5L106 7.5L107 8.1L111 8.3L113 9.8L116 10.7L118 12.8L119 12.8L121 26.8L122 27.8L123 35.1L124 31.9L125 24.9L126 34.2L127 26.0L128 24.4L129 34.5L130 24.8L131 34.6L132 27.8L133 28.7L134 30.5L135 26.9L136 40.7L137 25.3L138 28.8L139 26.8L140 32.6L141 28.5L142 39.5L144 29.3L145 37.7L146 25.0L147 22.2L148 26.5L149 26.9L150 28.9L151 26.2L152 41.4L153 27.3L154 26.6L155 23.0L156 24.6L157 21.4L158 23.9L159 37.8L160 21.5L161 24.1L162 32.0L163 18.0L164 31.2L165 27.3L166 29.0L167 22.6L168 31.5L169 33.5L173 11.8L174 11.0L177 16.3L178 14.0L180 13.1L182 11.6L183 12.5L184 12.1L185 12.9L187 13.1L191 10.4L192 12.0L200 12.5L201 13.0L202 14.8L203 12.9L206 13.6L207 12.8L209 12.8L210 11.5L211 12.9L212 11.4L213 13.0L215 11.7L216 14.3L217 12.5L218 12.1L220 12.9L221 12.3L222 12.4L223 14.9L224 12.5L226 13.0L228 10.7L235 14.2L238 13.6L239 12.8L241 13.3L244 11.3L245 9.9L247 9.4L248 10.5L249 10.0L251 10.4L253 9.7L255 9.9L256 12.0L259 14.1L262 14.5L263 15.8L264 14.4L265 14.5L267 11.9L271 10.5L273 11.6L277 11.0L281 12.3L282 11.8V-3Z"/>
<path transform="matrix(-1 -0.2869 0 -1 450.6 316.6)" d="M0 -3V7.3L3 8.4L6 8.0L8 9.0L9 8.2L10 9.1L11 8.6L13 10.2L14 8.9L18 9.3L19 8.6L20 9.8L22 8.7L23 9.7L24 8.8L26 10.1L27 9.0L28 9.6L29 9.0L31 10.1L33 9.5L34 10.1L37 9.9L38 9.3L41 11.2L42 9.9L45 9.6L46 10.6L47 10.1L49 10.8L52 10.0L53 10.7L58 9.9L61 10.5L62 9.4L67 10.7L68 10.1L69 10.5L70 9.9L71 10.4L72 9.7L75 10.8L77 9.5L79 10.4L82 9.7L84 10.4L88 9.7L89 10.1L90 9.5L91 10.4L92 10.0L93 10.6L101 7.6L104 7.1L105 6.0L106 6.5L108 5.7L110 6.6L111 6.0L112 7.1L114 7.1L115 7.9L116 7.6L119 9.6L120 13.3L122 32.0L123 29.3L124 30.2L125 19.6L126 31.7L127 20.2L128 23.7L129 24.0L130 26.5L131 33.1L132 23.3L133 25.0L134 31.5L136 17.2L137 29.1L138 24.3L139 24.9L140 27.8L142 31.3L143 22.7L144 26.5L145 20.9L146 27.5L147 29.0L148 24.1L149 22.9L150 26.0L151 19.8L152 20.9L153 18.7L156 20.9L157 14.9L159 34.0L160 23.7L161 31.2L162 26.7L164 30.2L165 24.1L166 30.2L167 24.1L168 27.6L169 18.4L170 32.2L171 17.8L172 16.0L173 10.3L175 9.1L181 8.7L182 9.2L183 8.6L188 9.8L190 8.8L193 9.0L194 7.8L196 8.5L197 9.5L199 8.5L200 9.5L201 8.9L203 9.6L205 8.9L206 9.3L207 8.8L209 10.6L211 9.9L212 9.0L213 9.0L214 10.0L215 8.9L217 8.1L219 8.3L220 9.3L222 8.5L224 8.8L227 8.4L228 8.6L231 11.0L233 10.7L234 11.3L235 9.4L236 8.9L238 9.7L240 8.5L241 9.0L242 8.2L244 8.6L245 7.9L248 7.9L249 7.5L250 7.9L251 7.0L254 8.3L255 7.4L256 8.3L257 8.4L258 7.8L259 8.8L260 8.8L263 12.5L265 11.8L267 8.8L270 8.2L271 8.3L272 9.5L273 9.6L274 8.8L275 9.0L276 8.6L278 9.6L280 8.4L282 9.0V-3Z"/>
<path transform="matrix(-1 -0.2869 0 -1 449.0 317.9)" d="M0 -3V5.6L1 5.0L2 6.1L3 5.7L6 6.5L9 6.5L10 5.9L11 7.5L12 6.7L15 7.5L17 7.5L18 6.5L19 7.6L21 7.0L24 7.7L25 6.9L26 7.5L32 7.5L35 8.5L37 8.3L38 7.6L41 8.3L42 7.7L46 8.1L47 7.8L49 8.4L51 8.0L52 8.5L53 7.9L56 8.8L58 7.9L59 8.5L60 7.9L62 8.9L63 8.4L66 8.2L68 8.8L73 8.2L74 7.7L76 8.6L79 7.3L80 8.9L81 7.7L82 7.7L83 8.6L86 7.8L87 8.4L88 8.5L89 7.5L90 8.5L93 8.0L94 8.3L95 7.7L96 8.0L99 7.3L100 7.8L102 5.3L103 5.9L107 4.3L108 5.0L111 4.0L112 5.1L113 5.1L115 6.0L116 5.6L118 7.4L119 6.8L120 9.7L122 22.4L123 20.6L124 23.6L125 22.8L126 24.5L127 16.6L128 21.8L129 21.2L130 24.0L131 18.1L132 20.3L133 16.6L134 21.9L135 18.0L136 20.7L137 20.2L138 17.6L139 21.4L140 22.5L141 20.1L142 23.2L143 20.8L144 22.9L145 17.1L148 22.3L149 23.0L150 20.2L151 21.6L153 17.5L154 16.9L155 22.8L156 13.8L157 22.1L158 26.5L159 18.4L160 16.7L161 21.4L162 21.5L163 17.8L164 24.6L165 22.2L166 17.4L167 16.9L168 14.0L170 21.3L171 13.3L172 12.1L173 6.5L174 6.1L176 5.8L178 6.2L180 5.6L181 6.6L182 5.5L183 5.8L184 7.2L185 5.8L186 6.4L187 5.8L190 6.1L191 5.7L192 5.9L193 7.1L198 5.0L201 6.8L204 5.7L207 7.0L208 6.1L209 6.6L210 5.1L211 5.9L213 6.7L215 6.4L216 7.2L217 6.5L219 8.0L220 6.4L223 7.2L225 6.9L226 7.6L228 6.3L229 7.2L230 6.1L231 5.9L234 7.5L236 6.4L237 6.7L238 5.7L239 6.3L241 6.2L242 7.6L243 6.8L247 5.8L249 4.3L251 5.0L252 4.3L253 6.1L254 5.1L255 6.5L256 5.9L258 5.8L259 6.4L261 5.9L263 7.5L265 7.8L267 6.1L269 5.2L271 6.2L273 4.8L276 6.2L278 6.2L279 6.7L281 6.0L282 6.0V-3Z"/>
<path transform="matrix(-1 -0.2869 0 -1 447.4 319.2)" d="M0 -3V6.0L1 5.2L4 6.1L11 6.4L12 7.4L13 6.3L14 6.7L15 6.2L17 6.7L18 7.5L20 6.8L22 7.5L23 7.1L26 7.5L27 7.1L28 7.8L30 7.0L31 8.1L32 7.5L39 7.9L41 7.4L45 8.1L47 7.4L49 7.5L50 8.4L51 8.3L52 7.2L53 8.4L55 8.7L57 8.0L60 8.5L62 7.6L64 8.4L68 8.0L69 8.4L73 8.2L74 7.4L75 8.4L77 7.7L78 6.8L79 8.2L80 7.6L82 8.2L83 7.6L85 8.3L86 7.5L87 7.7L88 7.1L89 8.2L91 7.7L92 8.3L94 7.4L96 7.5L97 6.8L102 5.2L103 6.0L104 4.6L106 4.4L108 3.3L109 4.1L110 3.6L114 4.9L117 4.9L119 5.6L120 7.1L122 18.5L123 17.6L125 20.8L126 18.6L127 17.8L128 21.5L129 19.6L130 22.5L131 19.4L132 22.3L133 16.2L134 18.6L135 24.8L136 15.9L137 19.0L138 19.9L140 12.8L141 18.5L142 16.2L143 20.6L144 15.1L145 20.2L146 16.6L147 20.3L148 14.4L150 14.0L151 23.2L152 16.9L153 15.4L154 18.1L155 10.7L156 19.3L157 17.1L159 20.1L160 20.4L161 16.6L162 26.0L164 15.7L165 18.4L166 15.5L167 14.2L169 15.7L170 18.2L171 10.1L172 8.3L173 3.8L174 3.5L176 3.7L178 3.0L180 4.1L181 3.6L182 4.3L183 4.3L184 3.5L185 4.4L186 3.5L187 4.3L188 3.7L189 4.4L191 3.6L192 4.5L193 3.5L195 3.1L201 3.4L202 4.0L204 3.4L207 3.9L212 3.1L214 3.7L215 4.6L216 3.3L217 3.7L218 3.3L220 4.2L221 3.0L223 3.8L224 3.2L225 3.9L226 3.4L228 3.7L229 4.6L230 3.3L231 3.3L232 4.1L233 3.7L234 4.4L238 3.5L239 4.2L240 3.6L241 4.2L247 2.7L250 3.2L251 2.8L253 3.1L255 2.7L256 3.0L257 4.2L258 2.6L260 3.6L261 3.4L262 4.6L264 5.3L266 4.5L267 3.6L268 4.1L270 2.8L272 2.7L274 3.4L275 2.8L277 3.7L279 3.3L280 4.0L281 3.5L282 4.3V-3Z"/>
<path transform="matrix(-1 -0.2869 0 -1 445.9 320.6)" d="M0 -3V7.3L3 8.0L4 7.7L5 8.3L6 8.0L7 8.6L10 8.1L12 8.9L13 8.4L16 9.4L18 8.4L19 9.4L22 8.7L27 9.0L28 8.7L30 9.6L33 9.0L37 9.8L39 9.1L41 9.8L42 9.5L43 10.6L44 9.4L46 9.5L47 10.2L48 9.6L50 10.1L53 10.1L54 9.4L56 10.3L59 9.5L60 9.6L61 10.3L64 9.3L65 9.8L67 9.8L68 9.3L70 9.7L72 9.2L73 9.7L75 9.5L76 9.8L79 9.5L80 8.8L83 9.7L85 8.8L86 9.7L94 9.1L95 8.2L99 8.0L101 6.4L104 5.3L108 4.4L110 4.7L111 3.8L114 5.1L116 4.7L117 4.8L118 5.9L119 5.5L120 6.7L122 14.6L123 15.2L124 11.8L125 14.6L126 12.1L127 15.4L128 8.5L129 12.6L130 10.3L131 14.4L132 14.6L134 9.5L136 14.9L137 14.7L138 13.7L139 17.7L141 10.5L142 15.6L143 15.3L144 16.4L145 13.0L146 17.7L147 14.6L148 17.4L149 9.4L150 8.8L151 15.5L152 13.0L153 14.7L154 12.1L155 14.7L157 11.7L158 13.3L159 13.7L160 17.5L161 18.0L162 11.4L163 18.1L164 11.1L165 13.7L166 11.2L167 11.8L168 8.7L169 14.7L170 17.0L173 2.8L176 2.1L178 2.9L179 2.0L182 3.2L184 2.6L186 2.5L187 3.0L189 1.8L193 2.3L194 1.9L195 2.5L196 1.4L197 2.9L198 2.3L202 2.5L203 3.1L204 3.0L205 2.1L212 2.7L215 2.0L216 2.7L218 2.2L219 3.3L220 2.2L221 2.0L225 3.2L226 2.7L228 2.9L229 2.3L230 2.5L231 2.0L232 2.7L233 2.3L234 3.0L236 2.3L237 3.2L238 2.7L239 3.3L240 2.5L242 2.8L245 2.0L246 2.8L247 2.6L248 2.9L249 1.8L250 2.4L254 2.4L255 1.7L257 2.4L260 2.4L262 3.0L268 1.7L269 2.5L270 2.6L271 2.1L272 2.6L275 1.9L277 2.6L280 2.0L281 2.6L282 2.3V-3Z"/>
<path transform="matrix(-1 -0.2869 0 -1 444.3 321.9)" d="M0 -3V9.9L4 9.9L6 10.6L8 10.5L9 9.7L13 11.0L14 10.3L16 11.1L17 10.8L18 11.2L19 10.7L20 11.2L21 11.0L24 11.5L26 11.0L27 11.5L28 11.1L29 11.8L31 12.0L32 11.5L33 11.9L34 11.4L35 12.2L36 11.7L37 12.3L38 11.3L42 12.6L43 11.9L47 12.0L48 11.3L49 12.3L50 11.5L51 11.5L56 12.5L57 11.9L60 11.5L61 12.2L62 11.5L64 11.9L65 11.6L66 12.1L68 11.4L70 11.6L71 10.8L72 12.0L74 11.3L76 11.5L77 10.4L79 11.6L80 10.8L84 10.7L85 10.9L86 11.9L89 10.4L90 10.3L91 11.3L92 10.7L94 10.9L97 9.9L99 8.5L102 7.8L103 7.0L105 6.8L106 6.0L107 6.6L108 5.7L109 6.1L111 5.2L113 6.4L114 5.4L115 6.7L117 5.9L118 7.0L119 6.4L120 6.6L122 15.2L123 11.2L124 14.3L125 10.9L126 10.0L127 15.2L128 15.3L129 11.5L131 11.7L132 12.7L133 11.1L134 12.4L136 8.4L137 11.7L138 13.3L139 8.5L140 10.6L141 10.1L142 8.1L143 14.9L144 10.4L146 6.6L148 15.5L149 10.6L150 14.0L151 8.5L152 14.0L153 12.2L154 13.2L155 12.5L156 7.6L157 11.2L160 12.9L165 11.6L166 8.9L167 12.9L168 13.8L169 10.5L170 11.4L171 7.2L173 2.4L174 1.5L177 1.8L179 1.5L181 1.9L182 1.2L184 1.2L185 2.3L187 2.4L189 1.3L191 2.6L192 2.0L194 1.8L197 2.1L198 1.7L201 2.5L202 1.8L203 2.0L204 1.4L205 2.2L207 1.7L210 2.5L215 1.7L216 2.2L218 1.5L219 2.0L220 1.4L224 1.9L225 1.4L229 1.7L231 2.5L238 1.3L239 2.2L240 1.0L241 2.2L242 2.6L243 2.0L247 1.9L248 2.4L249 0.9L250 1.9L251 2.1L252 1.5L255 1.9L256 1.4L257 2.0L258 1.7L261 2.3L263 2.1L264 1.4L265 3.0L267 1.9L268 2.7L269 1.8L271 1.6L273 2.3L274 1.2L275 1.9L277 2.1L279 1.2L280 2.1L282 2.2V-3Z"/>
<path transform="matrix(-1 -0.2869 0 -1 442.7 323.2)" d="M0 -3V8.9L4 10.3L6 9.4L7 10.4L8 9.8L9 10.5L11 9.7L12 10.6L14 10.0L17 10.4L19 10.1L23 11.0L24 10.3L25 11.1L26 10.6L27 11.8L29 10.9L30 11.6L32 10.4L34 11.8L35 12.0L37 10.7L42 11.5L43 10.5L44 11.5L45 11.3L46 12.0L47 10.8L49 11.4L50 10.5L51 11.7L52 10.8L53 11.4L54 11.0L57 11.1L59 11.8L60 10.4L61 11.6L66 10.4L68 11.8L69 11.0L71 11.7L73 11.0L74 10.0L75 11.0L77 10.6L79 10.8L80 9.9L82 10.9L84 10.1L85 10.9L86 10.1L89 10.7L91 9.9L92 10.8L93 10.3L96 10.5L97 10.2L98 9.2L100 8.7L101 9.2L102 8.3L104 7.5L109 6.9L110 6.3L111 6.8L113 6.6L114 7.2L117 6.8L118 8.0L119 7.9L120 6.9L121 11.6L123 12.1L124 10.1L125 12.5L127 9.5L128 12.5L130 11.1L131 9.6L132 10.9L133 7.9L134 9.4L136 8.2L137 6.8L138 12.7L139 9.0L141 10.6L142 7.0L143 10.9L144 7.5L145 10.0L147 9.0L148 9.7L149 9.8L150 10.8L151 7.6L152 7.0L154 13.4L155 9.1L156 9.6L157 8.9L159 8.5L160 9.9L162 6.9L163 7.9L164 11.1L165 8.9L166 9.7L167 9.8L168 6.7L169 8.9L170 6.9L171 6.5L173 1.2L174 2.0L179 1.4L181 2.2L184 0.9L185 2.2L186 2.4L187 2.2L188 0.8L190 2.0L192 1.3L193 1.7L194 1.3L195 2.1L199 1.4L201 1.7L202 1.3L203 1.9L205 1.1L207 1.2L208 2.0L209 1.7L210 2.2L211 2.0L212 0.8L213 1.5L214 1.0L216 2.3L217 1.2L218 2.1L220 1.8L222 2.1L223 1.3L224 2.0L226 1.7L227 2.1L229 1.6L230 2.5L232 1.6L236 1.4L238 2.3L239 1.5L241 1.5L242 2.0L243 1.1L246 2.1L247 1.4L249 1.9L251 1.4L252 2.1L253 0.7L254 2.6L255 1.7L256 2.2L260 1.7L262 1.9L265 1.3L266 2.5L268 1.6L269 2.1L270 1.6L272 2.0L273 1.0L274 1.8L275 1.5L277 1.9L279 1.2L280 1.6L281 1.3L282 2.1V-3Z"/>
<path transform="matrix(-1 -0.2869 0 -1 441.1 324.6)" d="M0 -3V6.8L1 6.5L5 7.4L6 6.8L7 7.9L8 7.4L10 7.9L14 7.2L15 7.9L17 7.9L18 8.5L19 7.6L20 8.5L22 7.9L23 8.0L24 8.7L25 7.9L27 8.6L31 8.1L34 8.7L35 8.4L39 9.3L41 9.2L42 8.6L44 9.2L45 8.9L46 7.9L49 8.9L51 8.7L52 9.4L53 8.9L57 8.5L58 9.6L60 8.6L63 9.4L64 8.6L67 9.5L68 8.7L69 9.2L73 8.6L75 8.8L76 9.5L77 9.5L79 8.4L81 9.1L84 8.1L85 8.1L86 9.0L87 8.4L90 8.2L95 8.7L97 7.7L98 8.2L100 7.0L101 6.9L102 7.6L104 6.7L106 7.1L109 6.6L112 7.3L113 6.2L114 7.1L115 6.7L118 7.4L120 7.1L121 9.1L122 10.0L123 12.5L124 9.7L125 9.0L126 9.2L127 7.0L128 9.7L129 7.6L130 7.9L131 7.1L132 8.4L133 7.7L134 8.5L137 6.7L138 8.0L139 7.2L142 7.9L143 7.0L144 8.5L146 5.4L148 6.9L149 9.1L150 6.5L151 7.6L152 6.4L154 10.1L155 7.6L157 6.6L158 8.9L159 9.2L160 7.4L161 9.1L163 5.7L164 8.7L165 5.7L167 6.9L168 9.5L169 4.4L170 6.5L171 6.0L172 3.5L175 0.6L177 1.6L182 1.2L184 2.1L185 0.9L187 2.3L188 1.2L189 1.7L190 0.8L193 1.6L196 0.8L197 0.9L198 1.7L200 1.0L205 1.6L207 1.1L208 1.5L210 1.2L213 1.7L214 0.9L218 1.5L219 1.2L222 2.4L223 0.9L224 2.0L225 1.2L227 1.8L228 0.9L231 2.0L232 1.0L233 1.7L236 0.7L237 1.8L239 1.0L240 1.7L242 1.1L244 1.6L246 1.3L247 1.7L248 1.0L249 1.8L251 1.2L255 1.1L256 1.6L257 1.1L260 2.0L262 1.8L263 1.1L265 1.2L266 1.8L267 1.4L271 1.9L272 1.3L273 1.9L275 0.9L276 1.7L279 1.0L280 1.5L282 0.6V-3Z"/>
<path transform="matrix(-1 -0.2869 0 -1 439.6 325.9)" d="M0 -3V5.7L2 4.9L4 5.5L6 5.4L7 6.0L9 5.7L13 6.5L14 5.5L18 6.4L19 5.9L22 6.6L23 5.9L25 5.9L28 7.1L30 6.6L38 7.1L39 6.5L40 7.1L44 6.8L45 7.7L48 6.4L49 7.5L51 6.8L53 7.7L54 7.2L57 7.5L58 7.1L61 7.3L62 8.1L64 7.1L65 7.8L67 6.8L70 7.0L71 7.6L72 6.7L76 7.3L78 7.2L79 6.4L80 6.9L86 7.1L90 6.4L91 7.3L92 6.6L94 7.1L96 6.9L99 5.9L100 6.8L101 6.2L103 7.1L104 5.9L106 6.5L107 6.1L110 6.5L111 6.1L114 6.9L117 6.2L119 7.0L120 6.4L121 9.2L123 9.9L124 8.2L126 8.6L127 7.2L128 8.7L129 6.9L130 7.6L131 5.6L133 7.2L136 5.9L137 7.7L140 5.4L141 6.3L142 4.3L143 6.5L144 6.0L145 6.8L146 6.0L148 5.5L149 6.6L150 5.9L151 6.1L152 5.7L155 6.4L156 5.1L157 5.5L159 7.3L161 4.6L162 6.8L163 6.9L164 5.3L166 6.1L167 4.6L169 6.5L170 4.9L171 5.2L172 1.9L173 2.0L174 1.4L177 0.9L180 1.3L182 0.7L184 1.6L185 1.1L188 2.0L189 0.7L190 1.5L191 0.4L192 1.6L197 0.7L199 1.4L201 1.2L202 1.9L205 0.3L207 1.7L208 0.9L210 1.5L213 0.8L214 1.6L217 1.7L218 0.7L219 1.4L220 0.8L221 1.6L223 0.7L224 1.1L234 1.4L235 1.9L236 1.0L239 1.6L240 1.0L242 1.4L243 0.8L244 1.4L245 0.7L246 1.4L247 0.9L249 1.4L254 0.7L255 1.7L256 1.1L260 0.7L261 1.3L263 0.7L265 1.7L267 1.4L268 0.6L269 1.4L270 1.0L274 1.6L277 1.0L282 1.6V-3Z"/>
<path transform="matrix(-1 -0.2869 0 -1 438.0 327.3)" d="M0 -3V6.0L1 6.5L2 5.4L3 6.0L4 5.7L5 6.3L9 6.2L10 5.5L11 6.7L14 6.1L15 7.0L16 6.4L17 7.1L20 6.4L22 7.1L25 6.7L26 7.0L28 6.2L29 7.4L30 6.9L32 7.3L35 6.8L36 7.6L41 7.1L42 7.7L43 7.0L44 7.6L45 7.1L47 7.7L49 7.3L50 7.9L53 7.1L55 8.1L57 7.3L62 7.9L63 6.9L64 7.6L66 7.4L67 7.9L68 7.4L69 8.1L70 7.2L71 7.2L76 8.2L79 7.4L81 7.9L83 6.7L84 8.0L86 7.1L89 7.6L91 7.1L92 7.8L93 7.2L95 7.8L98 6.6L100 7.6L102 7.0L103 7.7L107 6.9L108 7.5L110 7.6L112 7.1L114 7.9L115 7.4L119 7.8L120 7.5L121 8.6L122 8.9L124 7.3L125 8.0L128 7.9L129 5.3L130 4.9L131 5.7L132 5.0L133 5.9L134 4.9L135 5.2L136 4.3L138 5.3L139 4.7L141 6.2L142 4.2L143 4.3L144 3.4L145 5.3L146 5.7L147 4.0L149 6.0L150 4.7L151 4.2L152 5.3L153 5.2L154 5.9L155 4.9L156 5.6L157 3.7L159 4.2L160 5.1L161 4.3L162 5.1L163 5.3L164 4.2L165 5.0L167 5.4L169 4.7L170 3.6L171 4.4L172 2.3L173 2.0L175 2.1L176 1.3L178 1.9L179 1.3L181 1.0L182 1.5L184 1.1L185 2.0L186 1.4L188 1.7L189 1.1L190 1.5L193 1.4L194 0.8L195 1.8L199 1.8L200 1.3L202 2.3L203 1.3L206 1.4L207 1.9L208 1.0L209 1.4L210 0.9L213 1.1L214 1.8L215 1.9L216 0.9L217 2.1L224 1.1L225 2.3L226 1.4L228 1.9L231 1.4L233 1.8L234 1.4L237 1.7L238 0.9L239 1.6L241 1.8L244 1.0L245 1.7L246 1.2L248 1.9L249 1.4L250 2.1L251 1.2L253 1.2L254 2.0L257 1.5L260 1.9L261 1.1L263 1.6L268 1.4L269 2.4L271 1.4L272 1.7L274 1.4L277 2.1L279 1.7L280 2.3L282 2.0V-3Z"/>
<path transform="matrix(-1 -0.2869 0 -1 436.4 328.6)" d="M0 -3V6.9L1 7.4L3 6.9L5 7.5L7 7.0L9 8.1L10 7.3L11 8.4L12 8.4L13 6.9L15 8.0L16 8.3L17 7.7L19 8.7L20 8.2L21 8.5L22 7.9L23 8.6L25 8.8L26 8.2L27 8.5L28 8.2L31 8.9L32 8.3L34 9.3L35 8.5L37 8.7L38 8.2L40 9.5L42 8.5L43 8.6L44 9.5L46 8.2L48 8.0L49 9.2L50 8.6L51 9.2L54 8.5L56 9.7L58 8.5L59 9.1L63 9.0L64 8.5L66 9.3L67 8.5L69 9.5L70 8.8L71 9.4L72 8.7L74 8.9L75 8.4L76 9.1L77 8.4L79 8.9L81 8.0L82 8.7L83 8.1L87 8.7L88 7.8L89 9.0L91 7.9L94 9.0L99 8.2L104 8.8L105 8.3L106 8.7L107 8.2L109 9.0L113 8.9L114 9.4L118 9.3L119 8.6L120 9.2L121 8.8L122 9.4L123 8.5L124 9.0L125 7.9L126 7.6L127 8.5L128 6.8L130 5.6L132 6.6L133 3.9L134 5.0L136 5.5L137 4.8L139 4.4L140 4.8L141 4.0L143 3.9L144 5.1L146 5.0L147 4.3L149 3.8L150 5.0L151 4.8L152 3.2L153 5.1L154 4.0L156 4.4L157 4.2L158 4.7L161 3.8L162 3.7L164 4.5L165 3.8L166 4.6L167 3.3L168 4.2L169 3.6L170 4.4L171 3.7L172 2.2L173 2.6L175 2.5L177 1.5L178 2.8L179 2.9L180 2.1L185 2.2L186 2.6L188 1.9L190 2.4L191 2.2L192 2.6L193 2.1L196 2.6L198 1.6L201 2.7L203 1.9L205 2.7L210 2.4L211 3.1L214 1.8L215 2.8L218 1.5L219 2.4L222 2.1L224 2.9L225 2.2L227 2.9L228 2.3L230 2.5L231 1.7L232 2.4L233 1.7L234 2.5L236 1.9L238 2.9L239 2.1L245 2.5L247 1.7L248 2.8L250 2.1L253 2.7L254 2.2L257 2.8L258 1.9L260 2.4L262 2.2L263 2.7L265 1.9L266 2.6L267 2.3L269 3.0L270 2.4L272 2.3L273 3.2L276 2.2L277 3.0L279 1.6L282 2.3V-3Z"/>
<path transform="matrix(-1 -0.2869 0 -1 434.9 329.9)" d="M0 -3V7.6L3 7.3L4 8.4L5 7.9L8 8.5L9 7.8L10 8.5L11 8.0L14 8.2L15 8.7L19 8.3L20 9.6L22 8.5L23 9.8L24 8.8L25 9.4L27 9.0L28 9.6L30 8.8L33 9.8L37 8.9L39 9.5L40 8.9L41 9.9L42 9.2L44 10.2L46 9.3L49 10.2L51 9.3L52 9.8L53 9.2L55 9.1L60 9.6L64 9.2L66 9.8L70 9.3L71 10.1L72 9.3L73 9.8L75 8.8L76 8.9L77 9.8L78 8.8L79 9.6L80 8.9L81 9.3L82 8.9L84 9.9L87 9.1L88 9.6L91 8.9L94 9.5L95 8.8L96 9.3L100 8.8L104 9.3L105 8.6L107 9.6L110 9.5L111 10.1L113 9.6L115 10.5L117 9.9L118 10.7L125 7.8L126 8.3L127 8.0L131 5.0L133 4.9L135 3.7L136 3.7L137 4.5L138 3.8L142 4.4L143 3.6L144 3.7L145 3.2L147 3.9L148 2.8L150 4.0L152 3.5L153 4.0L157 3.5L158 4.1L160 4.3L161 3.1L164 3.9L165 2.8L166 4.2L168 2.6L169 3.7L171 3.0L174 3.3L175 2.2L176 2.9L180 2.1L182 3.5L183 2.5L184 3.1L185 2.3L190 3.1L191 2.4L195 2.2L197 3.0L198 2.3L201 3.4L202 2.7L205 2.5L207 3.0L213 2.6L214 3.1L216 2.4L217 2.9L219 3.0L222 2.8L223 2.0L226 3.3L227 2.8L229 3.4L232 2.6L233 4.0L234 2.6L236 2.7L237 3.4L238 2.5L240 3.0L243 2.8L244 1.9L246 3.7L248 2.1L249 2.6L251 2.5L252 3.2L254 2.5L255 3.8L256 2.9L258 3.4L259 2.6L263 2.7L265 2.3L266 2.9L268 2.9L269 2.2L270 2.7L271 2.3L273 3.2L279 2.9L280 3.3L282 2.6V-3Z"/>
<path transform="matrix(-1 -0.2869 0 -1 433.3 331.3)" d="M0 -3V7.4L2 6.5L4 7.4L6 6.8L8 6.8L9 7.4L10 6.6L12 7.6L13 7.3L14 7.9L15 7.9L16 7.0L17 7.6L20 7.9L22 7.1L24 7.9L27 7.4L28 8.0L29 7.5L31 8.2L32 7.5L33 8.6L34 7.8L36 8.5L39 7.7L40 8.5L42 7.8L48 8.7L49 8.2L50 9.1L51 8.2L52 8.8L53 8.0L54 9.1L55 8.2L57 8.8L58 7.9L59 9.4L60 8.5L61 9.3L63 9.1L64 8.3L65 9.0L68 8.1L71 8.8L73 8.3L74 8.6L76 7.8L77 8.3L79 8.2L80 8.7L83 8.1L84 8.6L86 8.1L88 9.0L89 8.2L91 9.2L92 8.6L94 8.8L95 8.3L98 8.2L99 8.3L100 9.3L103 8.8L104 9.5L105 9.0L107 9.7L108 9.2L110 9.4L115 10.4L116 10.4L117 9.7L119 10.5L123 8.0L124 8.2L126 7.4L127 8.3L129 5.6L130 5.7L133 4.1L134 4.3L135 3.7L137 4.0L139 3.4L140 4.1L141 2.7L142 3.6L143 3.7L145 2.5L146 3.1L147 2.6L148 3.2L150 2.8L152 3.4L153 2.5L154 3.3L155 2.8L157 3.2L160 2.7L161 3.3L163 2.3L167 3.2L171 2.1L173 3.2L174 2.7L179 2.5L180 1.9L182 2.5L186 1.9L187 3.0L188 2.3L191 2.4L192 1.8L194 2.7L195 2.3L196 2.8L199 2.6L200 2.9L201 2.1L203 2.7L206 2.2L213 2.3L214 3.1L215 2.4L217 2.9L220 2.3L221 3.4L223 2.4L224 2.9L225 2.4L226 3.0L227 2.3L233 2.9L235 2.1L238 2.3L239 2.0L240 2.5L241 2.0L242 3.2L246 2.1L247 3.0L250 3.2L251 2.5L253 2.8L256 2.0L258 3.2L260 2.6L262 3.2L263 2.3L264 2.8L266 2.4L267 3.4L269 2.3L270 2.5L271 2.2L273 2.9L274 2.5L275 3.1L276 2.7L277 3.2L281 2.2L282 2.4V-3Z"/>
<path transform="matrix(-1 -0.2869 0 -1 431.7 332.6)" d="M0 -3V4.9L2 4.8L6 5.6L8 5.2L9 5.9L10 5.2L11 5.2L13 6.0L14 5.6L16 6.1L18 6.1L19 5.5L21 6.2L24 6.0L26 6.9L27 6.3L28 7.4L29 6.4L30 6.9L31 6.2L32 6.9L34 6.6L35 7.2L40 6.9L41 7.6L42 7.7L44 6.7L45 7.4L46 7.1L47 6.3L48 7.3L53 7.2L54 6.7L55 7.7L58 6.6L59 7.3L62 7.6L64 7.0L66 7.4L67 7.1L72 8.2L73 7.5L74 8.3L75 7.6L76 8.1L77 7.4L79 7.7L80 7.2L86 8.5L88 7.2L89 7.9L90 7.9L91 8.7L92 7.9L97 8.8L100 8.7L102 9.5L106 9.3L112 10.9L113 10.4L114 11.0L115 10.6L116 11.9L117 11.8L119 10.5L120 10.5L122 9.1L123 9.4L125 8.0L127 10.3L129 6.3L130 5.9L131 4.8L134 4.1L136 4.2L137 3.1L140 4.1L142 3.1L143 3.5L146 3.1L147 2.5L148 3.3L150 3.1L151 2.4L152 3.2L155 2.6L156 3.2L157 2.6L158 3.3L159 3.3L164 2.9L166 2.2L167 2.7L170 2.1L171 2.8L173 2.0L175 3.1L176 2.0L177 1.7L178 2.3L180 2.0L182 2.7L183 2.1L185 2.3L186 1.9L189 2.6L190 1.9L191 2.7L192 1.5L193 2.6L197 2.9L200 1.9L202 2.5L203 1.9L207 2.7L208 1.7L209 2.4L210 2.0L213 2.5L215 1.6L216 2.4L220 2.5L223 1.8L225 2.5L228 2.5L229 1.5L230 2.5L231 2.3L232 3.0L233 2.0L234 1.9L236 2.6L239 2.7L240 2.0L241 2.6L243 1.8L245 2.9L246 1.7L247 2.4L248 1.9L249 2.6L252 1.7L253 1.7L255 3.2L257 2.3L258 2.6L260 2.4L261 2.9L262 1.9L263 2.4L265 1.9L267 2.8L269 2.3L272 2.8L275 2.0L276 2.5L277 1.8L279 2.9L281 2.0L282 2.7V-3Z"/>
<path transform="matrix(-1 -0.2869 0 -1 430.1 334.0)" d="M0 -3V5.4L3 5.9L4 5.4L5 6.3L7 5.8L9 6.4L11 6.1L12 6.7L15 5.5L16 6.9L17 6.7L18 7.1L19 6.3L20 6.2L22 6.7L23 6.5L25 7.4L27 6.8L31 7.4L32 6.9L36 7.5L37 6.9L38 7.6L39 7.1L40 8.5L43 6.7L44 7.8L45 7.8L46 7.8L47 6.8L50 7.2L51 8.0L58 7.4L61 8.3L66 7.8L68 8.9L70 8.4L73 9.1L76 8.4L79 9.0L80 9.7L82 8.8L83 9.3L84 9.0L85 9.6L86 9.0L87 9.4L88 9.1L89 10.1L90 10.4L91 9.9L92 10.5L93 10.1L94 10.6L96 10.8L97 11.5L100 11.3L103 12.1L104 11.3L105 12.8L110 15.1L112 15.0L114 16.2L117 15.9L119 14.8L123 13.6L125 12.1L127 15.6L129 10.1L132 7.3L135 5.7L136 6.1L137 5.6L138 6.1L139 5.0L140 5.6L141 5.0L143 5.1L145 4.2L148 5.0L151 4.2L157 4.3L159 4.2L160 3.5L161 4.2L163 3.3L166 3.7L168 3.1L169 4.1L170 3.6L171 4.1L173 3.7L174 4.5L175 3.8L178 3.3L180 4.3L181 3.5L182 3.8L183 3.2L184 3.5L186 3.1L188 3.5L189 3.0L191 4.1L194 3.3L195 3.8L196 2.9L198 4.2L199 2.8L200 4.6L201 3.1L202 3.8L203 3.3L205 4.0L206 3.1L209 2.7L210 3.7L211 3.7L212 2.7L213 3.8L214 3.9L216 2.9L218 3.7L224 3.5L226 2.9L227 3.5L229 3.7L230 3.1L232 3.4L233 2.9L234 4.1L235 3.4L236 3.8L237 3.2L239 3.6L240 3.2L241 3.7L242 3.0L243 3.4L245 3.0L247 4.2L249 2.9L250 3.5L251 2.7L252 3.2L257 3.0L258 3.5L259 3.2L262 3.6L264 2.7L266 3.5L271 3.5L272 2.6L274 3.4L275 2.8L276 3.8L279 3.1L280 4.2L281 3.0L282 3.1V-3Z"/>
<path transform="matrix(-1 -0.2869 0 -1 428.1 335.6)" d="M0 -3V9.9L2 9.3L3 9.8L6 9.7L8 10.8L9 9.8L10 10.4L16 10.4L19 11.0L20 10.5L22 10.9L23 10.1L28 11.4L30 11.2L31 10.5L32 11.7L33 11.4L37 11.8L38 11.3L39 12.0L40 11.5L41 11.9L43 11.4L45 12.4L51 12.3L53 12.9L57 12.6L58 13.4L59 12.9L65 14.5L66 13.7L69 14.8L70 14.3L73 15.8L75 15.2L78 16.4L79 16.0L82 16.0L83 16.8L85 17.0L87 17.8L89 19.5L92 19.6L95 21.0L96 21.9L98 22.4L99 23.5L101 24.5L102 24.4L103 25.9L105 27.2L107 29.5L110 31.8L111 33.5L112 33.9L115 37.2L117 36.5L125 29.2L127 39.6L129 23.7L131 20.0L135 14.5L138 13.3L139 12.3L140 12.6L141 11.3L142 11.4L145 10.4L146 10.9L148 10.2L151 10.6L154 9.4L155 10.1L157 9.1L158 9.5L159 8.4L161 9.5L163 8.9L165 9.1L169 8.6L170 9.1L171 8.6L173 9.0L176 8.5L179 9.5L180 8.6L181 8.4L184 9.0L187 8.1L188 9.2L189 8.4L191 9.4L192 8.7L194 8.3L196 9.0L198 7.5L199 8.5L201 8.9L202 8.1L203 8.2L205 9.4L207 8.3L210 7.7L212 8.5L214 8.5L215 7.9L216 8.5L218 8.1L221 8.6L223 7.8L224 8.1L226 7.7L227 8.0L228 8.9L229 8.3L230 8.6L231 8.1L235 8.3L236 8.0L238 8.4L242 7.5L243 8.5L244 8.5L246 7.7L247 8.2L252 7.6L253 8.3L255 8.3L257 7.6L258 8.1L259 7.4L261 7.9L262 8.8L265 7.4L266 8.3L268 7.4L269 8.6L270 7.6L271 7.9L273 7.6L274 8.2L278 7.4L281 8.0L282 7.1V-3Z"/>
<path transform="matrix(-1 -0.2869 0 -1 427.0 336.6)" d="M0 -3V9.6L3 9.1L6 9.9L8 9.3L9 10.1L10 9.4L12 9.9L13 9.4L15 9.5L17 10.5L18 9.6L19 10.3L24 9.8L26 10.6L27 10.1L29 10.7L30 10.0L34 10.9L36 10.3L37 11.2L38 10.5L41 10.8L44 10.4L45 10.9L50 11.1L51 11.6L53 11.0L56 11.0L57 11.7L64 11.7L65 12.6L66 12.1L67 12.2L69 13.3L70 12.7L72 13.5L73 12.7L75 13.4L78 13.1L79 14.2L80 13.0L86 14.2L87 13.7L90 15.6L92 15.6L98 17.6L100 17.3L102 17.9L104 20.3L106 20.0L108 22.5L109 22.4L113 25.5L115 25.8L116 24.9L118 25.5L119 24.1L121 23.6L123 20.7L124 21.0L125 20.0L127 25.6L129 16.5L133 11.6L135 10.0L137 10.3L138 9.0L141 9.4L142 8.5L146 7.7L147 8.2L149 7.5L150 8.2L152 7.5L154 7.7L155 8.2L156 7.3L157 7.1L158 7.5L160 6.5L162 7.1L163 6.8L164 7.4L167 6.1L168 6.8L172 6.7L173 7.2L174 6.7L177 6.8L178 6.4L180 6.9L182 6.3L183 6.6L184 7.7L187 6.5L189 6.9L190 6.5L191 7.0L192 6.4L193 6.4L194 7.3L195 6.8L197 6.9L199 5.8L200 6.9L202 6.9L203 6.2L206 6.8L207 5.6L208 6.3L212 6.7L213 6.1L216 6.6L217 6.1L218 7.5L222 6.2L223 6.8L224 6.6L225 5.9L226 6.7L228 6.4L229 6.8L231 6.2L232 6.6L236 6.0L238 6.5L243 5.8L244 6.5L246 6.1L248 6.8L250 5.7L253 6.2L255 5.9L256 6.4L258 5.8L262 6.2L263 5.7L264 6.2L267 6.4L269 5.9L276 6.3L278 6.0L281 4.7L282 6.2V-3Z"/>
<path transform="matrix(-1 -0.2869 0 -1 425.4 338.0)" d="M0 -3V7.6L2 7.4L4 8.6L5 7.5L8 8.2L10 7.9L11 8.8L14 7.6L15 8.4L18 8.5L20 8.1L24 9.1L25 8.2L28 9.1L30 9.1L31 8.2L35 9.0L38 8.4L39 9.6L42 8.7L46 9.4L47 8.9L49 9.2L50 8.7L51 9.6L58 9.0L59 10.1L61 9.9L62 9.1L65 9.8L67 9.5L68 10.3L69 9.4L70 10.3L71 10.4L72 9.2L73 9.8L74 9.6L75 10.5L76 9.6L77 10.2L78 10.0L79 10.5L81 9.8L83 10.7L86 10.4L88 11.0L89 10.3L90 11.3L94 11.4L96 12.6L97 11.9L100 11.9L101 12.4L102 12.1L103 13.2L104 12.3L106 14.0L108 13.3L109 14.4L112 14.9L113 14.6L114 15.5L116 15.9L117 15.1L120 15.0L124 12.7L126 13.1L127 15.1L130 8.4L134 6.1L139 6.0L140 5.3L141 5.5L142 5.0L144 5.6L145 5.1L146 5.6L147 4.7L148 5.5L149 4.8L151 5.4L152 4.5L154 5.0L155 4.2L156 5.4L157 4.3L159 5.1L161 5.1L163 4.3L164 4.9L166 4.3L168 5.1L170 4.2L171 5.0L172 4.0L174 5.1L175 4.7L177 5.1L178 3.7L179 5.1L180 4.2L181 4.9L185 4.3L187 5.2L188 4.4L190 4.7L191 4.3L192 4.3L193 5.3L197 4.1L199 5.0L200 4.6L201 5.0L203 4.3L206 4.3L207 4.7L209 3.8L211 4.6L212 4.3L213 4.9L214 4.2L216 4.8L217 4.1L218 4.4L219 3.7L220 4.7L221 4.3L225 4.5L227 5.2L229 3.8L230 5.2L232 4.1L234 4.5L235 4.0L237 4.5L242 3.8L243 4.3L244 3.4L245 4.1L247 3.5L248 4.1L250 4.0L251 4.5L252 3.8L255 3.8L256 4.4L258 3.9L259 4.5L260 3.8L263 4.6L264 4.0L265 4.3L266 4.0L267 3.2L269 4.2L271 3.9L275 4.5L277 4.2L278 3.2L280 4.2L282 4.2V-3Z"/>
<path transform="matrix(-1 -0.2869 0 -1 423.9 339.3)" d="M0 -3V5.7L1 5.8L2 5.3L5 6.0L8 5.5L9 6.0L12 6.1L14 5.7L16 6.2L18 5.5L21 5.8L23 6.6L25 5.8L27 7.1L30 5.8L31 6.8L33 6.1L34 7.0L35 6.3L36 6.9L37 5.9L38 6.6L41 6.3L42 7.0L43 6.3L44 6.4L45 5.9L47 6.9L48 6.5L49 6.9L50 6.1L54 6.6L55 7.1L58 6.3L60 6.3L62 7.1L64 6.4L67 7.2L68 6.5L70 7.5L73 7.2L74 6.4L76 7.3L77 6.8L78 7.6L80 6.8L83 7.8L84 6.9L85 7.8L87 7.0L88 7.8L89 7.6L90 8.2L91 7.6L93 8.2L94 7.7L95 8.1L96 7.8L98 8.5L102 8.2L105 9.2L107 8.7L109 9.8L112 9.8L114 10.9L115 9.9L116 9.9L117 10.5L118 9.9L119 10.7L123 8.4L124 9.0L125 7.8L126 7.9L127 9.1L129 6.0L130 5.4L132 5.1L133 4.3L134 4.5L135 3.9L136 4.2L137 3.3L139 3.8L140 3.4L142 3.7L143 3.2L145 4.2L146 3.0L148 4.0L150 2.9L152 3.3L154 2.9L155 3.5L156 2.9L159 3.8L160 3.0L168 3.0L169 2.4L171 2.8L172 2.4L175 3.1L176 2.6L177 3.2L178 2.6L180 3.0L181 2.5L183 3.2L185 2.6L186 3.0L189 2.9L191 2.4L197 3.1L199 2.3L200 2.9L203 3.2L204 2.6L205 2.9L207 2.4L209 3.1L212 2.9L213 2.4L214 2.6L215 2.1L216 3.5L217 2.6L224 2.7L225 3.1L226 2.7L227 3.1L228 2.6L232 2.7L233 2.2L234 3.0L235 2.1L236 2.7L237 2.4L238 2.8L240 2.6L243 3.0L244 2.5L245 3.0L247 2.0L249 3.3L251 2.0L253 3.1L256 2.1L257 3.0L262 2.5L264 3.1L266 2.4L269 2.9L270 1.9L271 2.0L272 2.8L273 2.3L274 2.9L276 2.5L277 2.9L278 2.2L279 2.7L282 2.6V-3Z"/>
<path transform="matrix(-1 -0.2869 0 -1 422.3 340.6)" d="M0 -3V3.9L1 4.5L3 3.7L4 4.5L5 3.8L7 5.2L9 3.8L11 4.2L12 5.1L13 3.9L14 4.2L15 3.5L16 5.1L17 5.2L18 4.1L21 5.2L22 4.1L23 5.0L25 4.4L26 5.0L27 4.6L29 5.1L30 4.4L31 4.8L32 4.4L33 5.9L34 4.1L37 5.3L38 5.0L39 3.7L40 5.4L46 4.9L47 5.6L48 4.6L50 5.5L52 5.6L54 4.9L55 6.0L56 5.3L59 5.5L60 4.4L62 5.4L64 5.2L68 6.0L72 4.8L73 5.6L74 5.5L75 6.1L77 5.3L79 5.9L80 4.9L82 5.8L90 5.1L91 6.0L93 6.4L97 5.8L98 6.7L102 5.4L103 6.3L105 7.0L106 6.3L110 7.3L111 7.0L114 7.6L118 7.1L119 7.8L120 7.8L121 6.6L123 5.8L127 6.0L128 4.8L131 3.8L132 3.9L133 3.1L137 3.4L138 2.2L140 2.3L142 3.1L144 2.1L146 2.3L147 1.7L148 2.5L151 1.7L154 2.0L155 1.5L156 2.1L157 1.6L159 2.3L160 1.8L162 2.1L163 1.5L164 2.0L166 1.8L167 2.9L169 2.1L170 2.4L171 1.2L172 2.2L173 1.9L174 2.5L175 1.9L176 2.5L177 1.3L180 2.8L181 1.9L184 2.3L186 1.6L188 2.4L189 1.7L191 2.7L193 1.8L199 2.4L200 1.8L202 1.6L203 2.0L207 1.6L212 2.0L213 1.5L214 1.8L215 1.2L216 2.0L219 1.5L221 2.5L222 1.8L226 2.3L227 1.6L229 2.5L236 1.5L237 2.4L238 1.5L239 2.1L240 1.4L241 2.1L244 1.3L247 2.3L248 1.8L250 2.2L251 1.3L252 2.1L254 1.5L255 2.8L256 1.3L257 1.9L258 1.6L259 2.4L262 0.8L263 1.3L264 1.2L265 2.0L269 1.4L271 2.1L272 1.4L273 1.9L275 1.3L276 1.9L278 1.3L279 1.7L281 1.5L282 2.2V-3Z"/>
<path transform="matrix(-1 -0.2869 0 -1 420.7 342.0)" d="M0 -3V4.8L1 4.5L2 4.9L3 4.4L5 4.3L7 5.4L9 4.3L11 4.5L12 4.1L13 4.7L14 3.6L15 4.8L19 4.5L22 4.9L24 4.5L27 5.2L28 4.5L29 5.6L30 4.9L33 5.5L35 4.5L37 5.2L41 4.3L42 5.4L44 4.6L46 6.1L48 5.0L51 5.6L52 4.6L53 5.6L55 5.8L56 5.0L57 5.5L60 5.1L62 5.9L63 5.9L64 5.0L67 6.0L68 5.1L71 4.9L75 5.9L76 4.9L77 5.7L78 5.2L79 5.8L80 5.1L82 6.1L87 5.2L89 6.2L90 5.5L92 6.0L93 4.9L94 6.0L96 5.3L98 6.5L99 5.4L100 6.5L105 5.7L107 6.7L110 6.1L115 7.2L119 6.2L122 6.5L123 5.2L125 5.7L126 5.1L127 5.7L128 5.4L129 3.7L131 3.7L133 2.3L135 2.1L136 2.7L140 2.3L141 2.6L144 1.8L145 2.8L146 2.8L147 1.9L152 2.4L153 1.4L158 2.3L160 1.6L161 2.7L162 2.6L164 1.5L165 2.4L166 1.9L170 2.4L171 1.6L173 1.5L174 2.4L178 1.7L182 1.8L183 2.4L184 1.7L186 2.3L187 1.7L188 2.2L191 1.9L192 0.9L193 1.9L195 1.6L198 2.3L202 1.5L205 2.2L206 1.5L207 2.0L208 1.3L209 2.1L210 1.5L211 2.7L212 2.1L215 1.8L217 2.3L218 1.4L220 2.9L221 1.8L222 2.0L223 1.5L224 2.0L225 1.5L227 2.1L228 1.7L229 2.2L232 1.5L234 2.7L235 1.5L236 2.2L237 1.7L241 2.2L242 2.8L244 1.5L246 2.4L247 1.5L248 1.4L250 2.3L251 1.6L254 1.7L256 1.1L258 2.7L260 1.7L261 2.4L263 1.6L264 2.2L266 1.3L267 2.0L268 1.4L271 2.0L272 1.3L273 2.0L275 2.0L276 1.5L281 2.0L282 1.5V-3Z"/>
<path transform="matrix(-1 -0.2869 0 -1 419.1 343.3)" d="M0 -3V5.6L1 4.9L2 5.4L3 6.7L6 5.0L8 6.0L10 5.4L11 6.2L13 5.6L16 6.0L18 5.5L20 6.3L21 5.5L22 5.5L23 6.2L27 5.5L30 6.5L31 5.7L33 6.3L34 4.9L35 6.2L36 5.5L38 6.4L39 5.7L40 6.5L41 6.1L42 6.7L43 5.5L45 6.5L46 5.7L49 6.3L50 5.8L52 6.9L53 6.0L58 5.8L59 6.2L60 5.4L61 6.6L64 6.6L67 5.9L68 6.7L71 5.5L73 6.4L74 5.5L75 5.6L76 6.7L77 5.7L78 6.6L79 6.0L81 6.9L85 6.6L86 5.6L87 6.3L90 6.1L91 6.8L94 6.4L97 7.1L102 6.1L104 6.9L106 6.8L107 7.6L108 6.7L109 6.9L110 6.4L115 7.8L116 6.9L117 8.0L120 6.7L123 6.1L125 6.1L126 5.5L127 6.1L130 3.5L133 3.1L134 3.7L136 2.4L139 3.3L140 2.4L141 3.1L143 2.5L147 2.2L149 3.3L150 2.7L153 2.8L154 2.1L156 2.8L162 2.3L164 3.0L167 2.8L168 2.0L169 3.0L170 2.3L171 2.7L172 2.0L173 2.7L177 2.8L178 2.1L179 2.7L184 2.9L186 2.6L189 3.0L193 2.0L194 2.9L195 2.2L196 2.1L197 2.8L198 2.3L199 2.9L204 2.1L206 2.9L208 2.0L210 2.4L212 1.6L213 2.6L214 2.7L215 2.1L216 2.8L218 1.9L221 3.0L222 2.0L223 2.8L226 1.8L230 2.9L231 2.2L234 2.0L235 2.6L237 2.2L239 2.7L241 2.0L243 2.5L245 1.9L246 2.9L247 2.2L248 2.1L249 3.0L250 2.4L252 2.1L254 2.1L256 2.6L257 1.9L259 2.7L260 2.3L262 2.9L263 1.7L264 2.9L266 2.2L269 2.1L271 3.0L273 1.8L275 2.2L276 1.3L277 2.6L280 1.9L282 2.1V-3Z"/>
<path transform="matrix(-1 -0.2869 0 -1 417.6 344.7)" d="M0 -3V5.1L1 6.1L3 5.6L4 5.8L5 5.3L6 5.8L11 6.2L13 5.9L14 6.3L15 5.8L17 6.0L18 5.2L19 5.9L21 6.4L22 5.4L25 6.2L26 5.7L27 6.2L28 5.6L29 5.6L30 6.3L31 6.0L32 6.5L33 5.9L35 6.2L36 5.8L38 6.3L39 5.5L40 6.8L41 6.4L46 6.1L47 6.8L49 5.9L52 6.9L53 6.7L54 5.9L56 5.8L58 6.5L60 6.1L61 6.7L62 6.2L64 6.2L65 7.0L66 6.3L68 6.7L69 6.1L70 6.8L72 6.1L74 7.1L77 6.5L79 6.8L80 6.3L82 6.9L83 6.5L86 6.8L91 6.2L92 7.0L95 6.4L99 7.1L100 6.6L101 7.2L102 7.3L103 6.7L105 7.3L107 7.0L108 7.6L110 6.8L111 7.5L113 7.9L117 7.0L119 7.7L122 6.4L123 6.9L124 6.0L128 5.0L129 4.2L131 4.1L133 2.8L135 3.7L137 2.5L140 3.2L142 2.6L146 3.1L148 2.2L149 3.5L151 2.8L155 3.1L156 2.3L162 2.8L163 2.1L164 3.0L165 2.1L167 3.0L168 2.3L170 2.1L171 2.3L172 3.5L174 2.8L176 3.6L177 2.4L179 2.6L180 3.2L184 2.3L185 3.3L186 2.5L190 2.7L192 2.3L194 3.4L195 2.7L197 3.1L198 2.5L200 3.1L201 2.4L202 2.9L203 2.4L205 3.2L207 2.2L208 3.2L209 2.6L213 2.1L214 2.9L217 3.1L219 2.7L220 2.0L221 3.0L222 3.2L225 2.5L228 2.9L229 2.3L230 2.9L232 2.1L234 2.9L235 2.1L236 2.9L237 2.9L239 2.6L240 1.9L241 2.5L243 2.2L244 2.8L245 1.9L246 2.4L247 2.2L248 2.8L249 2.2L250 2.5L251 1.8L253 2.7L254 2.2L255 2.5L257 2.1L258 2.7L261 2.0L262 2.5L263 1.9L267 2.8L268 2.1L269 2.7L270 2.2L271 2.9L273 2.3L274 3.4L276 2.7L277 2.9L278 2.0L279 2.3L281 1.5L282 1.7V-3Z"/>
<path transform="matrix(-1 -0.2869 0 -1 416.0 346.0)" d="M0 -3V4.6L2 4.3L4 4.9L7 4.0L8 4.8L10 5.0L11 4.3L15 5.1L16 4.5L17 4.8L19 4.5L20 5.2L21 4.5L23 4.6L24 5.1L25 4.6L26 5.1L28 4.0L30 5.4L33 4.6L36 4.7L37 5.8L38 4.3L42 5.8L43 4.7L45 4.2L47 5.7L48 4.9L49 5.5L50 5.0L52 5.5L53 4.8L54 5.6L56 4.8L61 5.8L62 5.1L65 4.9L67 6.0L69 4.6L70 5.4L72 5.6L74 4.8L76 4.8L77 5.2L78 4.5L79 4.5L80 5.4L82 4.8L84 5.9L86 4.9L88 5.8L90 5.1L92 5.7L95 4.8L96 5.8L97 5.3L98 5.8L102 5.0L103 6.2L104 4.9L105 5.5L107 5.3L112 6.1L115 5.5L117 6.0L119 5.4L120 5.8L122 4.8L123 5.2L125 4.6L126 5.0L127 3.7L128 4.2L129 3.3L130 3.3L131 2.2L133 1.8L134 2.1L135 1.7L136 2.5L138 3.1L139 2.0L141 2.8L142 2.1L146 2.3L147 1.9L149 2.6L151 1.7L152 2.1L153 1.5L156 2.8L157 2.2L158 2.6L160 2.0L162 2.7L163 2.4L164 1.5L165 1.4L167 2.6L170 1.5L171 2.0L177 1.6L179 2.4L180 1.8L181 2.0L182 1.6L184 1.9L186 1.6L189 2.7L190 1.8L191 1.8L192 2.4L193 2.1L194 2.9L195 2.0L198 2.2L199 1.7L202 1.5L204 2.6L205 2.1L208 1.7L209 2.5L212 1.6L213 2.1L216 2.2L219 1.7L223 2.1L224 1.5L225 2.1L226 1.6L230 1.6L232 2.2L233 2.1L234 1.3L236 1.9L237 1.7L242 2.2L245 1.5L247 2.2L249 1.7L251 2.1L252 1.7L254 2.4L257 2.3L259 1.6L263 2.3L264 1.8L265 2.4L266 1.7L268 1.7L270 2.8L271 1.7L273 1.9L274 1.5L275 1.8L276 1.3L278 2.1L280 2.0L282 1.4V-3Z"/>
</g>
<path d="M134.0 181.0L134.0 275.0M134.0 275.0L416.0 356.0M416.0 356.0L578.0 218.0M134.0 181.0L127.5 180.0M134.0 223.7L127.5 222.7M134.0 265.0L127.5 264.0M416.0 356.0L411.4 361.2M369.6 342.7L365.0 347.9M323.3 329.4L318.7 334.6M276.9 316.1L272.3 321.3M230.6 302.8L226.0 308.0M184.2 289.5L179.7 294.7M137.9 276.2L133.3 281.4M416.0 356.0L422.7 358.0M470.0 310.0L476.7 312.0M524.0 264.0L530.7 266.0M578.0 218.0L584.7 220.0" stroke="#4d4d4d" stroke-width="1.1" fill="none"/>
<rect x="288.6" y="182.7" width="46.5" height="80.5" fill="none" stroke="#b80f18" stroke-width="2.1" stroke-dasharray="8.2 7"/>
<rect x="339" y="203.3" width="39" height="62.5" fill="none" stroke="#b80f18" stroke-width="2.1" stroke-dasharray="8.2 7"/>
<rect x="391.2" y="163.6" width="39" height="62.9" fill="none" stroke="#b80f18" stroke-width="2.1" stroke-dasharray="8.2 7"/>
<path d="M416.9 182L456.2 251M357.3 236.8L456.3 250.9M449.3 246.6L456.5 251L449.2 253.2M449.6 245.3L456.4 251.2L456.2 242.6" fill="none" stroke="#fff" stroke-width="1.1"/>
<text transform="translate(244.4 178.9)" font-size="15" fill="#fff" text-anchor="start" >SM 1</text>
<text transform="translate(189.1 234.9)" font-size="15" fill="#fff" text-anchor="start" >SM 2</text>
<text transform="translate(294 264.7)" font-size="15" fill="#fff" text-anchor="start" >NLP</text>
<text transform="translate(397.9 275)" font-size="15.6" fill="#fff" text-anchor="start" >Beating region</text>
<text transform="translate(370.4 307.4)" font-size="15.6" fill="#fff" text-anchor="start" >Noise</text>
<text transform="translate(54.3 157.6)" font-size="17.5" fill="#000" text-anchor="start" >(a)</text>
<text transform="translate(111.3 227) rotate(-90)" font-size="15.6" fill="#000" text-anchor="middle" >Intensity (a.u.)</text>
<text transform="translate(133.5 295)" font-size="14.65" fill="#000" text-anchor="middle" font-style="italic" >3</text>
<text transform="translate(224.6 321.3)" font-size="14.65" fill="#000" text-anchor="middle" font-style="italic" >2</text>
<text transform="translate(317.7 349.6)" font-size="14.65" fill="#000" text-anchor="middle" font-style="italic" >1</text>
<text transform="translate(404.7 372.7)" font-size="14.65" fill="#000" text-anchor="middle" font-style="italic" >0</text>
<text transform="translate(245.5 346.5) rotate(16)" font-size="15.6" fill="#000" text-anchor="middle" >Round trips (×10<tspan font-size="9.5" dy="-5.5">3</tspan><tspan dy="5.5">)</tspan></text>
<text transform="translate(543.5 297) rotate(-40.4)" font-size="15.6" fill="#000" text-anchor="middle" >Wavelength (nm)</text>
<text transform="translate(469.5 346) rotate(-40.4)" font-size="15.6" fill="#000" text-anchor="middle" >120 nm</text>
<path d="M423.8 358.3L436.6 347.1M431 347.6L436.8 346.9L435.6 352.6" fill="none" stroke="#000" stroke-width="1.2"/>
<path d="M477.5 313.5L464.2 324.7M469.8 324.2L464 324.9L465.2 319.2" fill="none" stroke="#000" stroke-width="1.2"/>
</svg>
</body></html>
